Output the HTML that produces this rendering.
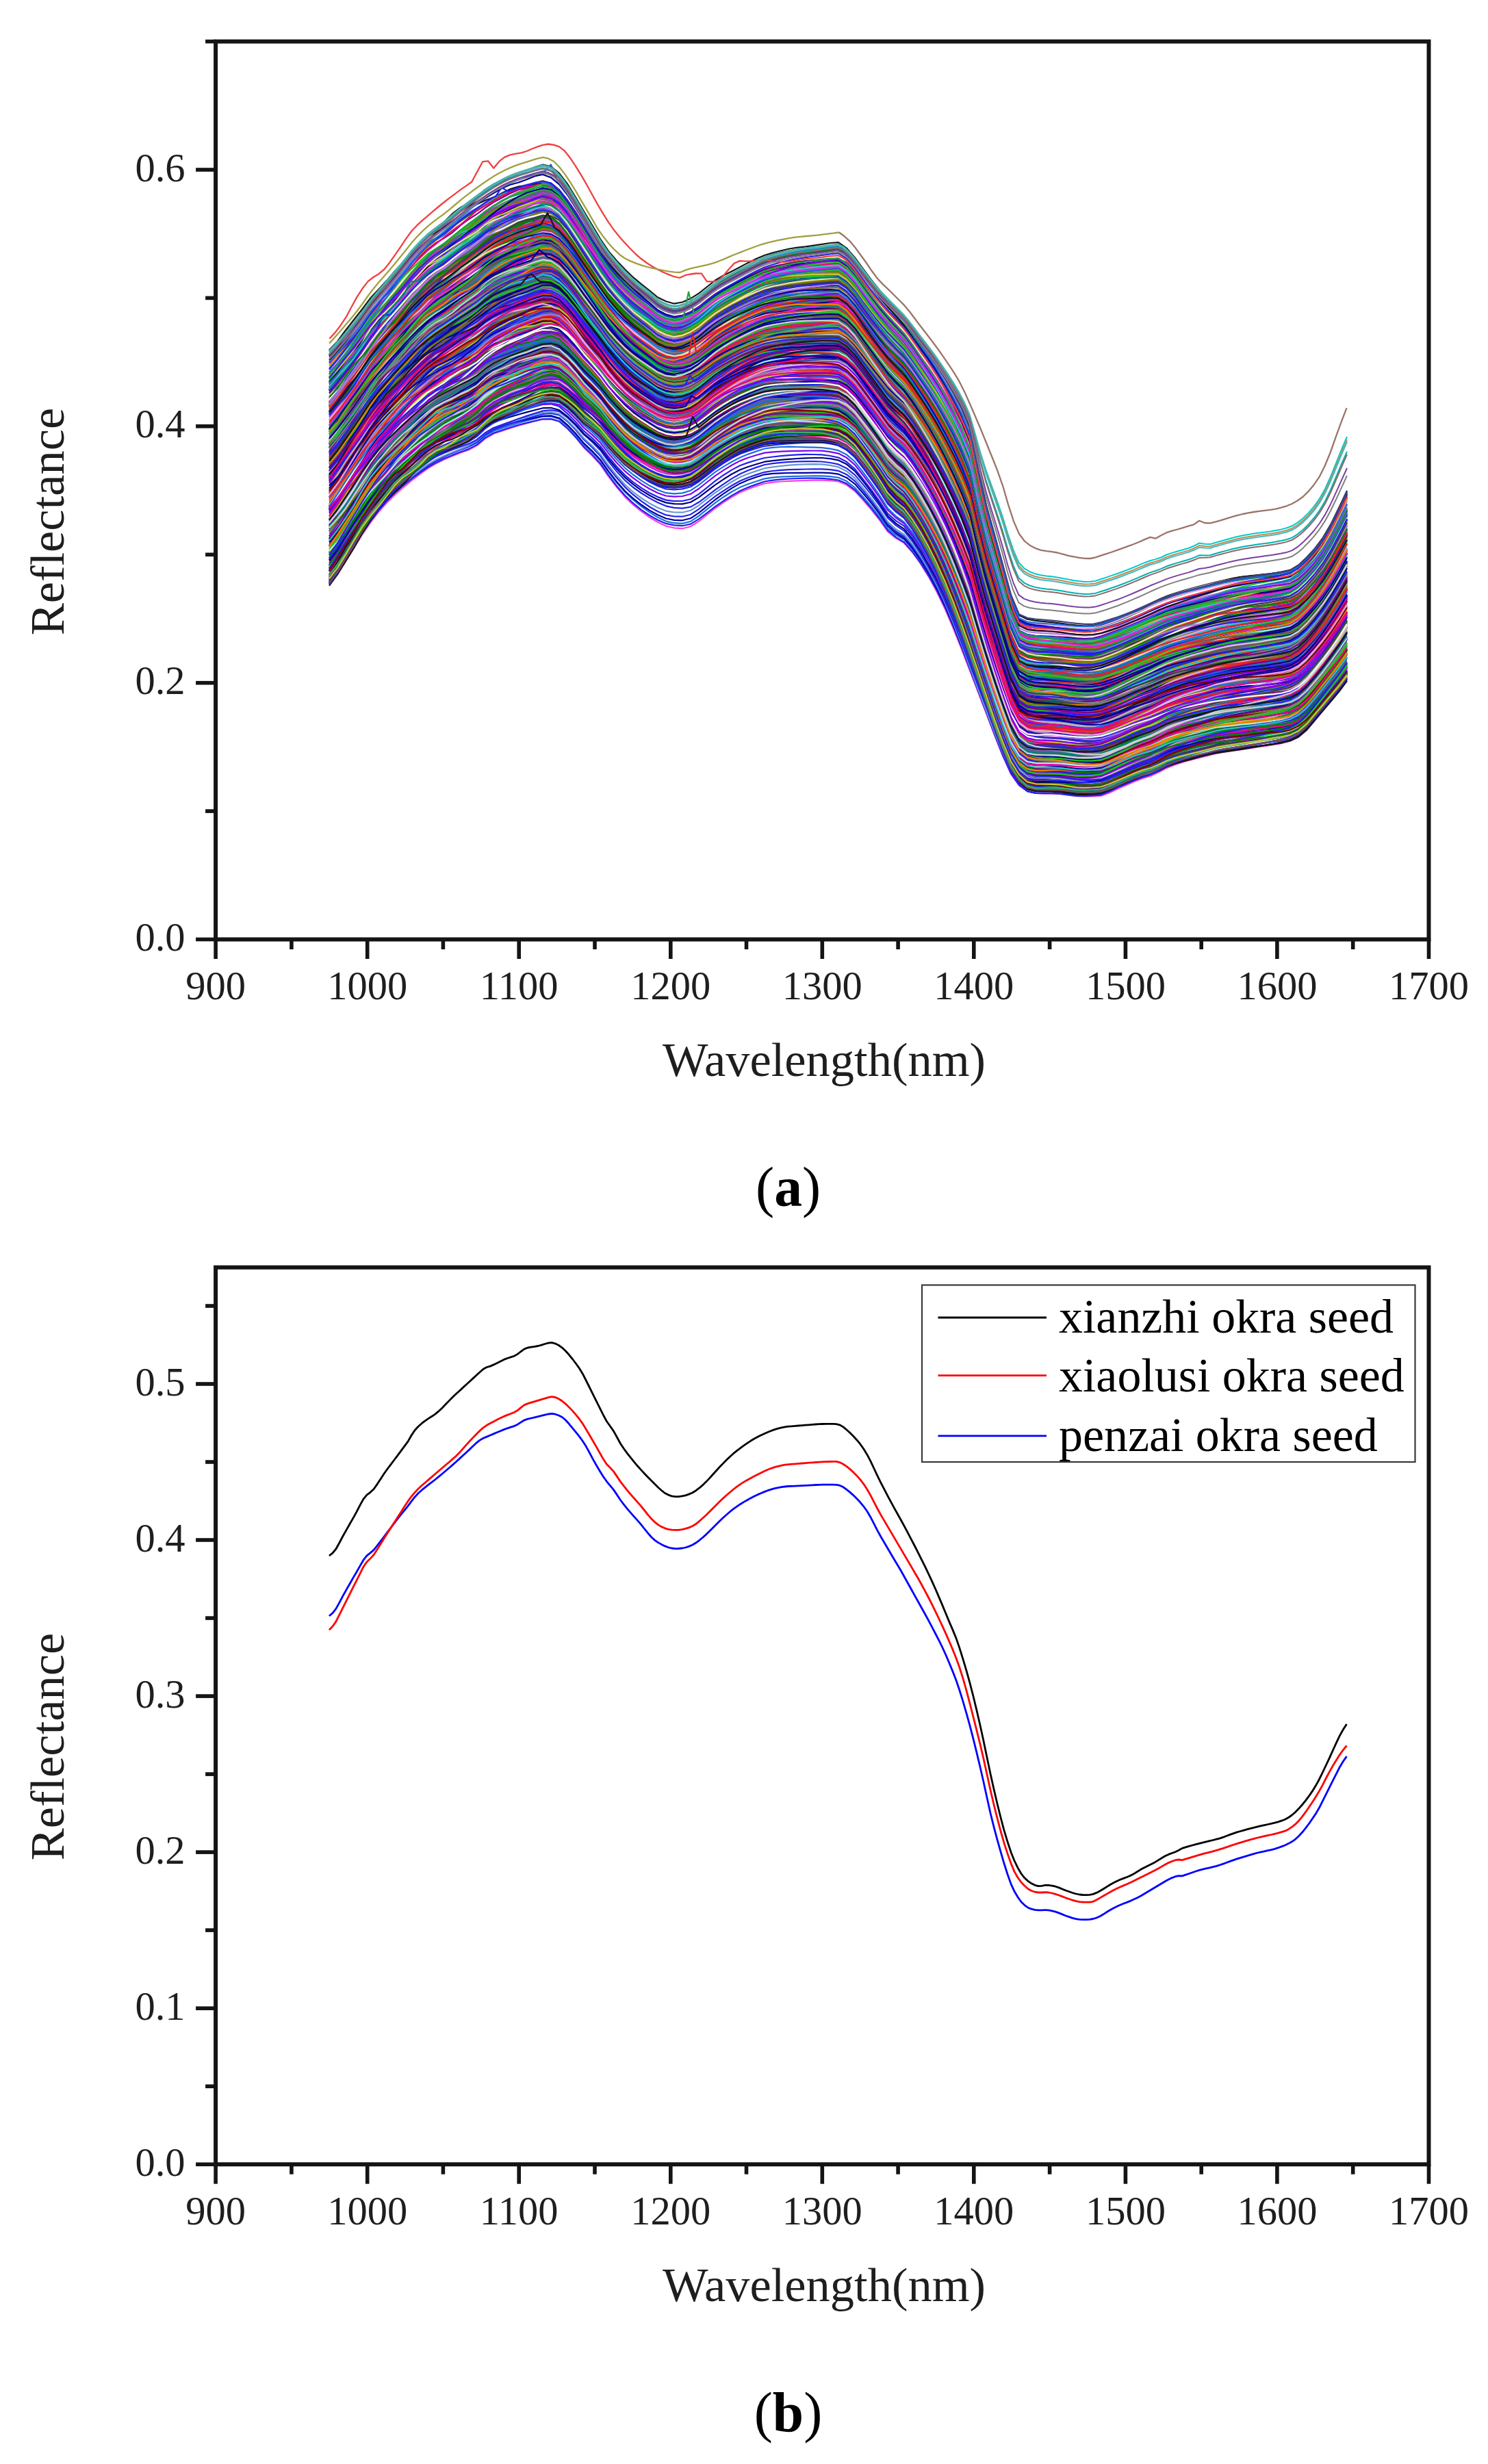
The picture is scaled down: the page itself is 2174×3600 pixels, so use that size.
<!DOCTYPE html>
<html><head><meta charset="utf-8"><title>Reflectance spectra</title>
<style>html,body{margin:0;padding:0;background:#fff}svg{display:block}</style></head>
<body>
<svg width="2174" height="3600" viewBox="0 0 2174 3600">
<rect width="2174" height="3600" fill="#fff"/>
<path d="M481.0 546.9l12-13.6 12-14.7 12-14.9 12-16.3 12-17.2 12-14.8 12-13.7 12-14 12-14.1 12-14.7 12-12.8 12-11.3 12-9.5 12-8.4 12-9.4 12-9.6 12-9 12-8.7 12-8.8 12-8 12-6.6 12-5.7 12-4.7 12-3.9 12-3.8 12-3.3 12 2.6 12 9.5 12 15.1 12 18.3 12 19.4 12 19.1 12 18.9 12 17.2 12 14.3 12 12.8 12 11.4 12 9.7 12 9.2 12 9.8 12 5.9 12 3.1 12-2.2 12-5 12-7.4 12-9.6 12-9.1 12-7.4 12-6.6 12-6.2 12-6.2 12-5.7 12-4.9 12-3.5 12-2.9 12-2.4 12-1.9 12-1.5 12-1.2 12-1.3 12-1.3 12-0.7 12 8 12 13.6 12 16.8 12 16 12 15.2 12 13.9 12 12.8 12 12.7 12 16.1 12 17.4 12 17.2 12 18.7 12 20.4 12 21.6 12 24.3 12 29.5 12 57.6 12 50.9 12 42.2 12 42.6 12 42.8 12 27.8 12 5.7 12 1.9 12 1 12 0.8 12 1.1 12 1.3 12 1.2 12 0.7 12-0.4 12-2.8 12-4 12-4.3 12-4.8 12-5.3 12-5.1 12-5.6 12-5.6 12-4.8 12-4 12-3.6 12-3.4 12-3.2 12-3.3 12-3.2 12-3 12-2.6 12-2.2 12-1.8 12-1.7 12-1.7 12-1.8 12-2 12-2.6 12-7.2 12-11.2 12-13.2 12-15.9 12-19.8 12-23.4 11-22.4 0 234.1 -11 15.2 -12 15 -12 14.8 -12 14.5 -12 14.1 -12 10.3 -12 5.9 -12 3.1 -12 2.1 -12 1.8 -12 1.8 -12 1.8 -12 1.8 -12 1.8 -12 1.8 -12 2.1 -12 3.2 -12 3 -12 3 -12 3.4 -12 3.9 -12 4.7 -12 6.2 -12 5.5 -12 3.8 -12 4.5 -12 5.4 -12 5.3 -12 5.4 -12 4.5 -12 0.9 -12 0.3 -12-0.5 -12-1.4 -12-1.6 -12-0.7 -12-0.2 -12-0.4 -12-2.7 -12-10 -12-19.5 -12-29.5 -12-32.9 -12-35 -12-35.4 -12-36 -12-34 -12-31.9 -12-29.9 -12-26.9 -12-24.1 -12-21.5 -12-18.9 -12-16 -12-9.6 -12-12.3 -12-18.9 -12-17.3 -12-16.3 -12-15.5 -12-10.6 -12-6.3 -12-2.3 -12-1.5 -12-0.1 -12 0.1 -12 0.2 -12 0.4 -12 0.7 -12 1 -12 1.7 -12 3.7 -12 4.1 -12 4.8 -12 6.4 -12 7.4 -12 7.9 -12 9.1 -12 9.3 -12 7.4 -12 3.2 -12 1 -12-1 -12-4 -12-5.8 -12-7 -12-8.1 -12-9.9 -12-12.2 -12-13.6 -12-15.3 -12-11.5 -12-10.3 -12-13.1 -12-11.4 -12-8.6 -12-1.9 -12 1.8 -12 4.2 -12 4.5 -12 4.6 -12 5 -12 5.3 -12 5.5 -12 8.2 -12 11.2 -12 7.7 -12 5.9 -12 6.2 -12 6.5 -12 7.1 -12 8.5 -12 10.1 -12 10.6 -12 10.9 -12 11.3 -12 12.5 -12 13.9 -12 16.1 -12 18.1 -12 19.4 -12 19.6 -12 19.4 -12 16.4z" fill="#5f5f8c" stroke="none"/>
<defs><filter id="bl" x="-2%" y="-2%" width="104%" height="104%"><feGaussianBlur stdDeviation="0.7"/></filter></defs>
<g fill="none" stroke-width="2.2" stroke-linejoin="round" filter="url(#bl)">
<path d="M481.0 855.6l12-16 12-19.4 12-19.5 12-19.2 12-17.6 12-15.8 12-13.4 12-11.8 12-10.6 12-10 12-9.2 12-8.8 12-7.1 12-5.9 12-5 12-4.7 12-4.4 12-6.4 12-10.1 12-6.9 12-4.2 12-4 12-3.6 12-3.4 12-3.2 12-3 12-0.4 12 3.5 12 10.3 12 13.1 12 14.9 12 11.7 12 13.2 12 17.5 12 15.7 12 14 12 11.5 12 9.8 12 8.6 12 7.2 12 5.6 12 2.7 12 0.9 12-2.9 12-7.7 12-9.6 12-9.5 12-8.4 12-7.7 12-6.8 12-5.1 12-4.3 12-3.8 12-1.7 12-1.2 12-0.7 12-0.5 12-0.3 12-0.3 12-0.1 12 0.5 12 1.4 12 5 12 9.1 12 13 12 14 12 15.1 12 16.9 12 9.8 12 7 12 13.5 12 16.7 12 19.5 12 22.1 12 25.1 12 28.2 12 30 12 31.4 12 31.3 12 31.2 12 31.8 12 30.1 12 26.5 12 16.8 12 8.6 12 2.8 12 0.3 12 0.2 12 0.7 12 1.5 12 1.5 12 0.5 12-0.3 12-0.8 12-4.4 12-5.6 12-5.3 12-5.4 12-4.5 12-3.6 12-5.6 12-6.3 12-4.7 12-3.9 12-3.4 12-3 12-3 12-3.1 12-2.2 12-1.7 12-1.8 12-1.8 12-1.8 12-1.7 12-1.8 12-2.2 12-3.1 12-5.8 12-10.2 12-14.2 12-14.4 12-14.4 12-14.2 11-14.6" stroke="#ff40e0"/>
<path d="M481.0 853.5l12-15.8 12-19.1 12-19.4 12-19.3 12-18 12-16.1 12-13.8 12-12 12-10.5 12-9.6 12-8.7 12-8.3 12-7 12-5.9 12-5.1 12-4.6 12-4.4 12-6.3 12-10 12-6.8 12-4.1 12-4 12-3.7 12-3.1 12-2.9 12-2.7 12-0.2 12 3.6 12 10.2 12 12.6 12 14.4 12 11.3 12 12.8 12 17.2 12 15.8 12 13.8 12 11.4 12 9.6 12 8.2 12 6.7 12 5.2 12 2.5 12 0.8 12-2.6 12-7.2 12-9.1 12-9.2 12-8.3 12-7.7 12-6.8 12-5.2 12-4.5 12-4.1 12-1.9 12-1.3 12-0.8 12-0.5 12-0.3 12 0 12 0.2 12 0.9 12 1.7 12 5.1 12 9.1 12 12.9 12 13.9 12 15.2 12 17.1 12 10.1 12 7.3 12 13.6 12 16.5 12 19 12 21.6 12 24.7 12 28 12 30.2 12 31.6 12 31.6 12 31.5 12 32 12 30.5 12 26.8 12 17.3 12 8.8 12 3 12 0.2 12 0 12 0.2 12 1.1 12 0.9 12 0.1 12-0.5 12-1 12-4.5 12-5.5 12-5.3 12-5.3 12-4.3 12-3.6 12-5.4 12-6.2 12-4.6 12-3.8 12-3.5 12-3.1 12-3.2 12-3.2 12-2.1 12-1.6 12-1.6 12-1.5 12-1.5 12-1.6 12-1.9 12-2.4 12-3.4 12-6.1 12-10.5 12-14.3 12-14.7 12-14.7 12-14.5 11-14.7" stroke="#2222ee"/>
<path d="M481.0 850.8l12-16 12-19.3 12-19.3 12-19.1 12-17.4 12-15.4 12-13.3 12-11.6 12-10.6 12-10.1 12-9.6 12-9 12-7.5 12-6 12-5 12-4.5 12-4.3 12-6.1 12-9.9 12-6.8 12-4.1 12-4 12-3.7 12-3.4 12-3.2 12-2.9 12-0.2 12 3.7 12 10.4 12 12.7 12 14.3 12 11 12 12.5 12 16.8 12 15.2 12 13.7 12 11.3 12 9.8 12 8.5 12 7.4 12 5.8 12 2.6 12 0.7 12-3.1 12-8 12-9.7 12-9.5 12-8.4 12-7.7 12-6.4 12-4.8 12-4.1 12-3.8 12-1.7 12-1 12-0.6 12-0.3 12-0.3 12-0.1 12 0 12 0.7 12 1.7 12 5.3 12 9.4 12 13.4 12 14.1 12 15.1 12 16.9 12 9.6 12 6.9 12 13.6 12 17.1 12 19.5 12 22.1 12 24.8 12 27.9 12 29.7 12 31.2 12 31.2 12 31.2 12 31.9 12 30.2 12 26.5 12 16.9 12 8.6 12 3 12 0.6 12 0.5 12 0.9 12 1.8 12 1.6 12 0.5 12-0.3 12-0.8 12-4.6 12-5.5 12-5.4 12-5.4 12-4.4 12-3.7 12-5.6 12-6.4 12-4.6 12-3.7 12-2.9 12-2.5 12-2.5 12-2.8 12-2.2 12-2 12-2.4 12-2.4 12-2.5 12-2.4 12-2.3 12-2.1 12-3 12-5.3 12-9.5 12-13.4 12-13.8 12-14.1 12-14.4 11-14.9" stroke="#1a6fdf"/>
<path d="M481.0 852.4l12-16.3 12-19.4 12-19.4 12-19.1 12-17.7 12-15.8 12-13.6 12-11.9 12-10.8 12-10.1 12-9.5 12-8.8 12-7.3 12-5.9 12-5.4 12-5 12-4.9 12-6.8 12-10.4 12-7.2 12-4.2 12-3.7 12-3.3 12-2.7 12-2.7 12-2.7 12-0.4 12 3.3 12 10.1 12 12.5 12 14.3 12 11.2 12 12.7 12 16.9 12 15.3 12 13.5 12 11 12 9.3 12 8.1 12 6.7 12 5.2 12 2.3 12 0.5 12-3 12-7.9 12-9.7 12-9.7 12-8.6 12-8 12-7 12-5.1 12-4.3 12-3.7 12-1.4 12-0.6 12-0.3 12-0.1 12-0.1 12-0.2 12 0 12 0.6 12 1.5 12 5.2 12 9.2 12 13.6 12 14.4 12 15.7 12 17.6 12 10.6 12 7.7 12 14.1 12 17.2 12 19.9 12 22.6 12 25.4 12 28.1 12 29.8 12 31.1 12 30.9 12 30.9 12 31.5 12 30.2 12 26.8 12 17.4 12 9 12 3.3 12 0.6 12 0.3 12 0.5 12 1.4 12 1.3 12 0.3 12-0.6 12-1 12-4.7 12-5.7 12-5.5 12-5.4 12-4.5 12-3.6 12-5.4 12-6.3 12-4.6 12-3.7 12-3.1 12-2.7 12-2.8 12-3.1 12-2.2 12-1.8 12-2 12-1.9 12-1.8 12-1.7 12-1.7 12-2.1 12-3.2 12-6 12-10.4 12-14.3 12-14.6 12-14.6 12-14.4 11-14.6" stroke="#0000a0"/>
<path d="M481.0 850.9l12-16.1 12-19.4 12-19.5 12-19.2 12-17.6 12-15.7 12-13.2 12-11.6 12-10.3 12-9.7 12-9.1 12-8.7 12-7.4 12-6.2 12-5.4 12-5 12-4.6 12-6.6 12-10.4 12-7.3 12-4.5 12-4.2 12-3.8 12-3.5 12-3.5 12-3.4 12-1.2 12 2.6 12 9.4 12 12.3 12 14.2 12 11.2 12 12.6 12 16.9 12 15.1 12 13.5 12 11.1 12 9.5 12 8.3 12 6.8 12 5.1 12 2.1 12 0.2 12-3 12-7.8 12-9.4 12-9.3 12-8.1 12-7.6 12-6.7 12-5 12-4.2 12-3.8 12-1.8 12-1.2 12-0.7 12-0.3 12-0.3 12-0.2 12 0 12 0.8 12 1.8 12 5.4 12 9.6 12 13.9 12 14.9 12 16.1 12 17.8 12 10.7 12 7.7 12 14.1 12 17.2 12 20 12 22.6 12 25.6 12 28.6 12 30.8 12 32.2 12 31.8 12 31.4 12 31.9 12 30.2 12 26.6 12 16.7 12 8.3 12 2.5 12-0.1 12-0.1 12 0.5 12 1.4 12 1.6 12 0.6 12-0.1 12-0.5 12-4.1 12-5.2 12-5.2 12-5.1 12-4.1 12-3.3 12-5.3 12-6.2 12-4.8 12-4.1 12-3.6 12-3.3 12-3.2 12-3.2 12-2.1 12-1.8 12-2 12-2.1 12-2.2 12-2.1 12-2.3 12-2.5 12-3.5 12-6 12-10.4 12-14.2 12-14.3 12-14.2 12-13.8 11-14.2" stroke="#2222ee"/>
<path d="M481.0 851.2l12-16.4 12-19.5 12-19.7 12-19.4 12-17.6 12-15.7 12-13.5 12-11.9 12-10.7 12-10.1 12-9.3 12-8.8 12-7.1 12-5.7 12-5.1 12-4.7 12-5.1 12-7.2 12-10.9 12-7.5 12-4.7 12-4.3 12-3.8 12-3.3 12-3.2 12-3.1 12-0.8 12 2.8 12 9.4 12 12 12 14 12 10.8 12 12.3 12 16.5 12 14.9 12 13.2 12 10.8 12 8.9 12 7.7 12 6.4 12 4.8 12 1.9 12 0.2 12-2.9 12-7.4 12-9.4 12-9.2 12-8.2 12-7.6 12-6.7 12-5 12-4.2 12-3.9 12-1.9 12-1.5 12-1.2 12-0.8 12-0.5 12-0.2 12 0.3 12 1.5 12 2.5 12 6.1 12 10.1 12 14.4 12 15.2 12 16.2 12 18 12 10.8 12 7.8 12 14.2 12 17.4 12 20 12 22.8 12 25.9 12 29.2 12 31.2 12 32.7 12 32.5 12 31.4 12 31.5 12 29.8 12 26.1 12 16.5 12 8.2 12 2.6 12 0.4 12 0.4 12 1 12 1.9 12 2 12 0.8 12-0.2 12-0.8 12-4.6 12-5.7 12-5.7 12-5.6 12-4.4 12-3.4 12-5.1 12-6 12-4.6 12-4 12-3.5 12-3.2 12-3.2 12-3.1 12-2.1 12-1.5 12-1.8 12-1.8 12-1.9 12-1.8 12-1.8 12-2.2 12-3.2 12-6 12-10.4 12-14.3 12-14.6 12-14.4 12-14.2 11-14.5" stroke="#6699cc"/>
<path d="M481.0 847.5l12-16.5 12-19.9 12-19.9 12-19.3 12-17.5 12-15.5 12-13.3 12-11.9 12-10.7 12-10.3 12-9.5 12-8.8 12-7.1 12-5.6 12-4.7 12-4.4 12-4.2 12-6.2 12-10 12-6.9 12-4.3 12-4.4 12-4.6 12-4.1 12-3.9 12-3.6 12-1.3 12 2.1 12 8.8 12 11.5 12 13.5 12 10.5 12 12.2 12 16.4 12 14.7 12 12.9 12 10.3 12 8.5 12 7.4 12 6.3 12 5.1 12 2.5 12 0.9 12-2.1 12-6.8 12-9 12-9.2 12-8.3 12-7.9 12-6.9 12-5.3 12-4.3 12-3.9 12-1.9 12-1.3 12-1 12-0.5 12-0.2 12 0 12 0.4 12 1.5 12 2.4 12 5.8 12 9.7 12 14 12 14.7 12 16.1 12 17.9 12 11 12 8.3 12 14.8 12 18 12 20.6 12 23.1 12 26.1 12 29.2 12 31 12 31.4 12 31.2 12 31.1 12 31.5 12 29.8 12 26.2 12 16.8 12 8.7 12 3.3 12 0.8 12 0.7 12 1 12 1.7 12 1.6 12 0.4 12-0.2 12-0.8 12-4.3 12-5.5 12-5.6 12-5.7 12-4.9 12-4 12-5.7 12-6.2 12-4.5 12-3.6 12-3.1 12-2.8 12-2.9 12-3.2 12-2.3 12-1.8 12-2.1 12-2.2 12-2.1 12-1.9 12-1.9 12-2.1 12-3 12-5.5 12-10 12-14.1 12-14.4 12-14.5 12-14.4 11-14.8" stroke="#2222ee"/>
<path d="M481.0 839.8l12-16.2 12-19.4 12-19.5 12-19.2 12-17.7 12-15.9 12-13.7 12-12.1 12-10.9 12-10.1 12-9.4 12-8.8 12-7.2 12-5.9 12-5.1 12-4.7 12-4.4 12-6.3 12-9.9 12-6.6 12-3.9 12-3.7 12-3.5 12-3.3 12-3.2 12-3 12-0.4 12 3.3 12 9.3 12 11.7 12 13.4 12 10.1 12 11.5 12 15.6 12 14.1 12 12.6 12 10.3 12 8.7 12 7.4 12 6.1 12 4.5 12 1.8 12 0.2 12-2.6 12-7.2 12-9.1 12-9.1 12-8.1 12-7.5 12-6.3 12-4.5 12-3.8 12-3.5 12-1.6 12-1.2 12-1.1 12-0.8 12-0.7 12-0.3 12 0 12 1.2 12 2.2 12 5.9 12 10 12 14.7 12 15.5 12 16.8 12 18.4 12 11.1 12 8.1 12 14.4 12 17.5 12 20.7 12 22.2 12 25.3 12 28.7 12 30.4 12 31.7 12 31.2 12 31 12 31.3 12 29.7 12 26.2 12 16.7 12 8.3 12 2.9 12 0.4 12 0.3 12 0.8 12 1.6 12 1.4 12 0.4 12-0.5 12-1 12-4.5 12-5.4 12-5.2 12-5 12-4 12-3.2 12-5.2 12-6 12-4.7 12-4.1 12-3.4 12-3 12-3 12-3 12-2.1 12-1.7 12-1.9 12-2 12-2 12-2 12-2 12-2.2 12-3.3 12-6 12-10.6 12-14.5 12-14.7 12-14.5 12-14.2 11-14.4" stroke="#000080"/>
<path d="M481.0 833.1l12-16.1 12-19.5 12-19.8 12-19.5 12-17.8 12-15.7 12-13.2 12-11.3 12-10.1 12-9.5 12-8.9 12-8.5 12-7.1 12-5.9 12-5.3 12-5 12-4.7 12-6.5 12-10 12-6.6 12-3.8 12-3.6 12-3.5 12-3.5 12-3.5 12-3.3 12-0.6 12 3.5 12 10.5 12 11.9 12 13.5 12 10.2 12 11.6 12 15.8 12 14.1 12 12.7 12 10.3 12 8.5 12 7.3 12 5.9 12 4.5 12 1.5 12-0.1 12-2.7 12-7.4 12-9.5 12-9.7 12-8.5 12-7.6 12-6.3 12-4.4 12-3.6 12-3.3 12-1.5 12-1.3 12-1.1 12-0.8 12-0.4 12 0.1 12 0.4 12 1.6 12 2.6 12 6.2 12 10.3 12 15 12 15.6 12 16.6 12 18 12 10.6 12 7.8 12 14.5 12 17.5 12 19.5 12 22.5 12 25.6 12 28.8 12 30.5 12 31.7 12 31.4 12 31.2 12 31.6 12 29.8 12 26.1 12 16.6 12 8.4 12 2.8 12 0.2 12 0 12 0.3 12 1.3 12 1.2 12 0.4 12-0.3 12-0.6 12-4.1 12-5.2 12-5.1 12-5.3 12-4.4 12-3.7 12-5.7 12-6.4 12-4.7 12-3.9 12-3.4 12-3 12-3.2 12-3.4 12-2.4 12-1.9 12-1.8 12-1.6 12-1.5 12-1.5 12-1.7 12-2.2 12-3.2 12-5.8 12-10.2 12-14 12-14.1 12-14.1 12-14 11-14.4" stroke="#2222ee"/>
<path d="M481.0 835.2l12-16 12-19.4 12-19.7 12-19.4 12-17.8 12-15.9 12-13.6 12-11.9 12-10.5 12-9.8 12-8.9 12-8.4 12-6.8 12-5.4 12-4.9 12-4.7 12-4.8 12-6.8 12-10.5 12-7.4 12-4.6 12-4.3 12-3.8 12-3.4 12-3.2 12-3 12-1 12 2 12 8.8 12 11.5 12 13.4 12 10.1 12 11.5 12 15.6 12 13.8 12 12.4 12 10 12 8.5 12 7.3 12 6 12 4.3 12 1.2 12-0.7 12-3.2 12-7.8 12-9.5 12-9.4 12-8 12-7.4 12-6.3 12-4.6 12-3.8 12-3.4 12-1.3 12-0.7 12-0.5 12-0.2 12-0.3 12-0.1 12 0.1 12 1.5 12 2.5 12 6.2 12 10.4 12 15.1 12 15.8 12 16.8 12 18.4 12 11.2 12 8.5 12 15.1 12 18.5 12 21.4 12 24.3 12 25.7 12 28.9 12 30.5 12 31.8 12 31.4 12 31.2 12 31.5 12 29.6 12 26 12 16.4 12 8.1 12 2.6 12 0.1 12 0.3 12 0.9 12 2 12 1.9 12 0.8 12-0.1 12-0.8 12-4.6 12-5.6 12-5.5 12-5.5 12-4.5 12-3.7 12-5.7 12-6.5 12-5 12-4.2 12-3.6 12-3.1 12-3 12-3.1 12-2.1 12-1.7 12-1.8 12-1.9 12-2 12-1.8 12-1.7 12-1.8 12-2.7 12-5.3 12-9.8 12-13.8 12-14.5 12-14.8 12-14.9 11-15.3" stroke="#8000f0"/>
<path d="M481.0 841.7l12-16.1 12-19.3 12-19.6 12-19.4 12-17.9 12-15.9 12-13.5 12-12.1 12-10.7 12-10 12-9.3 12-8.7 12-7.2 12-6 12-5.1 12-4.7 12-4.4 12-6.3 12-10.1 12-7.5 12-5.3 12-5.1 12-5.1 12-4.8 12-4.7 12-4.4 12-2 12 1.6 12 8.5 12 11.2 12 13.3 12 10 12 11.3 12 15.3 12 13.6 12 12.3 12 9.9 12 8.6 12 7.5 12 6.2 12 4.4 12 1.2 12-1 12-3.7 12-8 12-9.7 12-9.3 12-7.8 12-7.1 12-6.3 12-4.9 12-4.2 12-3.9 12-1.6 12-0.9 12-0.3 12 0.3 12 0.4 12 0.3 12 0.4 12 1.6 12 2.5 12 6.1 12 10.3 12 15.4 12 16.3 12 17.3 12 19 12 11.6 12 8.7 12 15 12 18.2 12 21.1 12 23.9 12 27 12 30.2 12 32.4 12 33.7 12 31.5 12 31.5 12 32 12 30.3 12 26.5 12 16.8 12 8.4 12 2.8 12 0.4 12 0.4 12 0.8 12 1.6 12 1.5 12 0.5 12-0.3 12-0.9 12-4.6 12-5.8 12-5.8 12-5.8 12-4.7 12-3.7 12-5.2 12-5.8 12-4.1 12-3.4 12-3.2 12-3 12-3.2 12-3.4 12-2.4 12-1.9 12-1.8 12-1.9 12-1.9 12-1.7 12-1.8 12-2.1 12-3.1 12-5.7 12-10.2 12-14 12-14.3 12-14.4 12-14.1 11-14.4" stroke="#1a6fdf"/>
<path d="M481.0 843.0l12-15.8 12-19 12-19.1 12-18.8 12-17.2 12-15.7 12-13.5 12-12.1 12-10.9 12-10.2 12-9.3 12-8.7 12-7.1 12-5.6 12-4.7 12-4.7 12-5.5 12-7.6 12-11.4 12-8.4 12-5.7 12-5.7 12-5.5 12-5.1 12-5 12-4.6 12-2.3 12 1.2 12 8.2 12 11 12 12.7 12 9.3 12 10.7 12 14.9 12 13.6 12 12.4 12 10.3 12 8.7 12 7.5 12 5.9 12 4.2 12 1 12-1 12-3.2 12-7.5 12-9.4 12-9.3 12-8.1 12-7.4 12-6.2 12-4.4 12-3.7 12-3.4 12-1.5 12-1.2 12-1 12-0.7 12-0.7 12-0.3 12 0 12 1.7 12 2.9 12 6.6 12 10.7 12 15.5 12 16.2 12 17.2 12 19 12 11.8 12 9.2 12 15.9 12 19.2 12 22 12 24.6 12 27.5 12 30.5 12 32.5 12 34.3 12 34.3 12 32.4 12 32.1 12 30.3 12 26.6 12 16.8 12 8.5 12 2.8 12 0.5 12 0.5 12 1 12 1.7 12 1.4 12 0.2 12-0.9 12-1.2 12-4.8 12-5.6 12-5.4 12-5.2 12-4.4 12-3.8 12-5.6 12-6.3 12-4.6 12-3.9 12-3.4 12-3 12-2.9 12-2.9 12-1.9 12-1.6 12-1.8 12-1.8 12-2 12-2 12-2 12-2.2 12-3 12-5.6 12-10 12-14.1 12-14.4 12-14.5 12-14.3 11-14.8" stroke="#2222ee"/>
<path d="M481.0 729.7l12-12 12-16.7 12-20.8 12-16.5 12-14.4 12-17.8 12-16 12-12.3 12-9.9 12-10.7 12-13 12-10.2 12-7.7 12-8.2 12-7.3 12-7.4 12-7.7 12-7.4 12-9.5 12-8.3 12-6.2 12-5.5 12-5.7 12-4.5 12-2.9 12-3.1 12 0 12 4.6 12 9.8 12 12.7 12 15.8 12 12.8 12 13.1 12 16.5 12 14.3 12 12.2 12 10.5 12 8.9 12 7.7 12 7.2 12 4.7 12 1.5 12-1.7 12-3.6 12-7.2 12-9.7 12-9.2 12-7.5 12-7 12-6.1 12-4.7 12-4.4 12-3.9 12-1.7 12-1 12-0.8 12-0.5 12-0.5 12-0.2 12 0.5 12 1.3 12 2.1 12 7.3 12 11.8 12 16.4 12 16.9 12 17.2 12 17.8 12 12.5 12 10.5 12 15.7 12 18.4 12 20.1 12 22 12 24.1 12 26.2 12 28.2 12 31.2 12 41.7 12 39.5 12 36.2 12 34.7 12 32.4 12 21.1 12 7.4 12 1.4 12-0.6 12-0.4 12-0.1 12 0.4 12 0.9 12 0.3 12-0.7 12-1.8 12-4.1 12-4.7 12-4.4 12-4.4 12-3.9 12-3.8 12-4.1 12-4.2 12-3 12-1.8 12-1.7 12-2.1 12-2.2 12-1.9 12-0.8 12-0.8 12-0.8 12-0.8 12-1.2 12-1.5 12-1.7 12-2 12-3.2 12-6.5 12-10.9 12-14.5 12-16 12-17.2 12-18.8 11-19" stroke="#e62222"/>
<path d="M481.0 790.6l12-16 12-18 12-18.4 12-19.1 12-19 12-17.5 12-14.2 12-10.9 12-13.2 12-15.5 12-11.9 12-10.1 12-10.4 12-9 12-6.2 12-6.9 12-8 12-8.7 12-10.9 12-8.5 12-6.7 12-6.5 12-7 12-6.5 12-3.3 12-2 12-0.4 12 4.2 12 10.2 12 11.5 12 14 12 13.1 12 14.1 12 16 12 13.4 12 12 12 10.3 12 8.8 12 7.6 12 6.8 12 4.4 12 1.4 12-1.4 12-3.9 12-8.1 12-10.3 12-10 12-8.4 12-7.4 12-6.8 12-6 12-5.6 12-4.6 12-2.4 12-2 12-1.6 12-1.2 12-0.7 12-0.2 12-0.4 12 0.8 12 1.7 12 6.7 12 11.3 12 15.6 12 16 12 16.7 12 18 12 12.3 12 9.9 12 15.8 12 18.7 12 20.3 12 22.8 12 25.8 12 28.2 12 30.1 12 32.9 12 41.1 12 39.4 12 37 12 35 12 32.4 12 21.6 12 9.4 12 2.6 12 0.3 12 0.8 12 1.2 12 1.8 12 1.8 12 0.7 12 0 12-0.6 12-3.6 12-4.6 12-4.8 12-4.9 12-3.9 12-3.3 12-4.8 12-5.8 12-4 12-3.1 12-3.3 12-3.5 12-3.3 12-2.7 12-2.1 12-2.6 12-2.7 12-2.4 12-2.6 12-2.6 12-2.5 12-3.1 12-4.3 12-7.3 12-11.4 12-14.9 12-16 12-17.5 12-19 11-18.8" stroke="#22c8c8"/>
<path d="M481.0 777.4l12-15.3 12-16.7 12-16.8 12-19 12-19.6 12-16.7 12-13.7 12-11 12-10.8 12-12.3 12-11.2 12-11.2 12-9.9 12-6.1 12-3.4 12-4.3 12-6.9 12-8.6 12-10.1 12-7.5 12-4.7 12-4.7 12-5.4 12-5 12-3.1 12-2.1 12-0.6 12 2.6 12 9.3 12 13 12 14.8 12 11.1 12 12.3 12 15.4 12 13 12 11.1 12 9.2 12 7.9 12 6.7 12 5.4 12 3.1 12 0.5 12-1.9 12-4.3 12-8.5 12-10.4 12-10.4 12-8.9 12-8.1 12-7.1 12-5.5 12-4.9 12-4.2 12-2 12-1.7 12-1.2 12-0.5 12-0.2 12 0.2 12 0.7 12 1.5 12 2 12 7.2 12 12 12 16.3 12 16.4 12 17.1 12 18.3 12 12.9 12 10.4 12 15.8 12 18.7 12 20.3 12 22.3 12 25.1 12 27.8 12 29.8 12 31.9 12 39.5 12 37.7 12 35.5 12 34.1 12 32 12 20.8 12 8.2 12 1.9 12 0 12 0.1 12 1 12 1.9 12 1.8 12 0.5 12 0 12-0.4 12-3.6 12-4.4 12-4.6 12-4.6 12-3.8 12-3.2 12-4.6 12-5.1 12-3.6 12-3.2 12-2.8 12-2.1 12-2.4 12-2.4 12-1.6 12-1.8 12-2 12-1.2 12-1.2 12-1.8 12-2 12-2 12-3.3 12-6.3 12-10.5 12-14.5 12-15.4 12-15.8 12-16.6 11-16.8" stroke="#b4b4b4"/>
<path d="M481.0 586.7l12-12.4 12-16.8 12-16.2 12-14.7 12-17.8 12-18.7 12-14.4 12-12.6 12-15.3 12-17.4 12-13.9 12-9.8 12-8.5 12-9.1 12-9.4 12-10.5 12-10.6 12-8.4 12-7.1 12-8.3 12-8.6 12-6.2 12-5 12-4.4 12-3.1 12-2.2 12 1.7 12 7.7 12 14.7 12 18.1 12 19 12 19 12 18.4 12 17 12 14.8 12 13.2 12 11.1 12 9.8 12 9.5 12 9.4 12 6 12 3.4 12-1.7 12-4.7 12-7 12-9.1 12-8.8 12-7.3 12-6.9 12-6 12-5.4 12-5.4 12-4.9 12-3.5 12-2.5 12-1.9 12-1.5 12-1.3 12-1.3 12-0.7 12-0.6 12-0.2 12 7.6 12 13.3 12 16.7 12 15.9 12 15.5 12 14.6 12 12.9 12 12.4 12 16 12 17.6 12 17.8 12 19.7 12 21.7 12 23.4 12 26 12 30.5 12 55.2 12 50.1 12 42 12 41.7 12 41.5 12 27.5 12 7.3 12 2.7 12 1.6 12 1.2 12 1.3 12 1.8 12 1.7 12 0.7 12-0.4 12-2.5 12-4.3 12-4.7 12-5 12-5.6 12-5.6 12-6.2 12-6.5 12-5.7 12-4.7 12-4.7 12-4.6 12-3.5 12-3.8 12-4.5 12-4 12-2.9 12-2.7 12-2.7 12-2.5 12-2.3 12-2.4 12-2.7 12-3.2 12-7.4 12-11.5 12-13.4 12-15.6 12-19.1 12-22.4 11-21.7" stroke="#0000a0"/>
<path d="M481.0 743.2l12-16.9 12-18.9 12-18.8 12-18.8 12-18.4 12-17.3 12-14.4 12-13.2 12-12.9 12-13.3 12-14.7 12-14.3 12-9.8 12-6.2 12-6.6 12-8.5 12-7.6 12-7.1 12-9.9 12-9 12-6.9 12-5.9 12-4.8 12-3 12-3.2 12-3.3 12 0.2 12 4.3 12 11.4 12 15.5 12 17.2 12 14.1 12 13.8 12 16 12 14.8 12 13.2 12 10.7 12 9.1 12 8.3 12 7.6 12 4.9 12 1.8 12-1.1 12-3.6 12-7.5 12-9.1 12-9 12-7.9 12-7 12-6.2 12-5.1 12-4.3 12-4 12-2.1 12-1.4 12-1.1 12-0.7 12-0.5 12-0.1 12 0.1 12 0.7 12 1.6 12 7.3 12 11.6 12 16.1 12 16.8 12 17.2 12 17.7 12 12.5 12 10.7 12 15.9 12 18.3 12 20.1 12 22.6 12 24.9 12 27.1 12 29.6 12 32.3 12 42 12 39.7 12 37.3 12 35.9 12 33.6 12 21.9 12 8.4 12 2.4 12 0.5 12 0.5 12 1.2 12 1.9 12 1.4 12 0 12-0.6 12-1.5 12-4.3 12-4.9 12-5 12-4.8 12-4.3 12-4 12-5.2 12-5.5 12-4.1 12-3.3 12-3.1 12-2.8 12-2.7 12-2.6 12-2.2 12-2 12-1.7 12-1.5 12-1.6 12-1.6 12-1.7 12-1.8 12-2.7 12-6.1 12-10.4 12-13.6 12-14.8 12-16.2 12-17.1 11-17.1" stroke="#2222ee"/>
<path d="M481.0 745.8l12-16.4 12-17.5 12-18.4 12-19.5 12-18.5 12-15.7 12-12.7 12-14.2 12-13.9 12-13.3 12-13 12-9.5 12-7.3 12-7.1 12-8.2 12-8.5 12-6.9 12-7.5 12-9.7 12-7.6 12-5.8 12-5.5 12-4.4 12-3.4 12-4.4 12-4.7 12-0.5 12 4.8 12 11.7 12 14.5 12 14.9 12 12.6 12 14.1 12 16 12 14 12 13.7 12 11.3 12 8.7 12 7.8 12 7.6 12 5.3 12 2.2 12-0.8 12-3.3 12-6.9 12-8.6 12-8.5 12-7.7 12-6.9 12-6.1 12-5.1 12-4.5 12-4.1 12-2.3 12-1.3 12-0.7 12-1 12-0.6 12-0.7 12-0.9 12 0.4 12 1.3 12 6.7 12 11.5 12 15.4 12 15.5 12 16.2 12 17.1 12 12.4 12 10.1 12 15.5 12 18.4 12 19.9 12 22.2 12 24.7 12 27.4 12 29.9 12 32.5 12 42.3 12 40 12 36.9 12 35.1 12 33.1 12 22 12 8.7 12 2.1 12-0.3 12-0.3 12 0.7 12 1.2 12 0.9 12-0.1 12-0.8 12-1.8 12-4.9 12-5.9 12-5.8 12-5.8 12-5.6 12-5.1 12-6 12-6.2 12-4.9 12-4.2 12-3.7 12-3.6 12-3.5 12-3.4 12-2.8 12-2.6 12-1.9 12-1.5 12-1.1 12-1.2 12-1.6 12-2 12-2.6 12-5.8 12-9.9 12-13 12-14.1 12-15.8 12-17 11-16.7" stroke="#2222ee"/>
<path d="M481.0 558.9l12-14.5 12-15.3 12-14.3 12-17.1 12-17.7 12-16.2 12-17 12-13 12-9.9 12-13.6 12-14.3 12-10.6 12-8 12-8.7 12-8.5 12-7.8 12-7.1 12-6.5 12-7.1 12-6.8 12-6.4 12-4.9 12-3.1 12-3.9 12-5.2 12-4.3 12 1.6 12 9.1 12 15.4 12 17.3 12 17.6 12 18.2 12 18.5 12 16.6 12 13.6 12 12.3 12 11.3 12 9.6 12 8.9 12 9.3 12 5.3 12 2.5 12-2.2 12-4.9 12-7.3 12-9.2 12-9.1 12-7.8 12-7.2 12-6.7 12-6.4 12-6 12-4.9 12-3.8 12-3.4 12-2.8 12-2.1 12-1.9 12-1.6 12-1.4 12-1.6 12-1.1 12 7.3 12 12.7 12 16.1 12 15.6 12 14.8 12 13.2 12 12.2 12 12.6 12 15.7 12 16.9 12 17 12 18.3 12 19.9 12 21.3 12 24 12 29.4 12 57.4 12 51 12 42.3 12 42.6 12 43 12 27.8 12 5.6 12 1.9 12 0.9 12 0.8 12 1.1 12 1.3 12 1.1 12 0.8 12-0.2 12-2.8 12-4 12-4 12-4.5 12-4.6 12-4.8 12-5.2 12-4.8 12-4.2 12-3.2 12-2.6 12-2.2 12-2 12-2 12-2.2 12-2.2 12-1.8 12-1.2 12-1 12-0.9 12-1.2 12-1.7 12-2.2 12-2.9 12-7 12-11.8 12-14.3 12-16.7 12-20.4 12-24 11-23.4" stroke="#8000f0"/>
<path d="M481.0 741.4l12-14.5 12-19.6 12-18.2 12-17.6 12-18.2 12-14.5 12-13.3 12-13 12-10.1 12-10 12-12.9 12-13 12-8.9 12-7.1 12-7.7 12-6.4 12-6.2 12-9.5 12-12.2 12-8.7 12-6.1 12-5 12-3.4 12-3.4 12-5 12-5.1 12-1.1 12 3.1 12 9.7 12 13.5 12 15 12 12.9 12 13.8 12 15.7 12 13.5 12 11.9 12 9.6 12 8.6 12 8 12 7.1 12 4.6 12 1.8 12-1.2 12-3.5 12-7 12-9 12-8.5 12-6.9 12-6 12-5.3 12-4.7 12-3.9 12-3.1 12-1.6 12-1 12-0.6 12-0.3 12-0.1 12 0.1 12 0.3 12 1.2 12 1.6 12 6.5 12 11.3 12 16 12 16.3 12 16.4 12 17.2 12 12.3 12 10.5 12 16.1 12 18.6 12 19.8 12 22 12 25 12 27.4 12 29.5 12 33 12 42.6 12 40.1 12 37.5 12 36 12 33.4 12 22.4 12 9.5 12 3 12 1 12 1.2 12 1.7 12 2.2 12 2.1 12 1.2 12 0.3 12-0.8 12-3.7 12-4.9 12-5.2 12-5.1 12-4.6 12-4.5 12-5.6 12-6 12-5.1 12-4.1 12-3.7 12-4 12-3.9 12-3.9 12-3 12-3 12-3.1 12-2.7 12-2.6 12-2.6 12-2.9 12-3 12-3.4 12-6.8 12-11.2 12-14.3 12-15 12-16.1 12-17.7 11-18.2" stroke="#b177de"/>
<path d="M481.0 561.2l12-13.6 12-14.9 12-18.7 12-21.4 12-19.8 12-16.1 12-14.5 12-13.6 12-14.8 12-14.9 12-12.7 12-11.7 12-9.4 12-8.4 12-9.4 12-7.3 12-4.3 12-6.1 12-9.3 12-7.9 12-5.3 12-4.1 12-3.7 12-2.6 12-0.9 12-0.8 12 3.5 12 10 12 15.2 12 17.7 12 19.3 12 19.5 12 19.1 12 16.8 12 14.1 12 12.8 12 10.7 12 9.1 12 8.5 12 8.8 12 5.1 12 2 12-3.1 12-6 12-8.4 12-10.5 12-10 12-8.4 12-7.5 12-6.9 12-6.8 12-6.8 12-5.9 12-4.3 12-3.4 12-2.9 12-2.3 12-1.7 12-1.3 12-1.4 12-1.5 12-0.4 12 8.5 12 14 12 17.1 12 16.6 12 15.8 12 14.5 12 13.7 12 13.5 12 16.3 12 17.8 12 18.1 12 19.4 12 21 12 22.1 12 24.3 12 29.6 12 56.6 12 50.2 12 41.9 12 42.4 12 42.1 12 26.7 12 5.2 12 1.6 12 0.7 12 0.6 12 1 12 1.2 12 0.8 12 0.1 12-0.9 12-3.2 12-4.5 12-4.7 12-5.4 12-5.4 12-4.9 12-5.3 12-5.7 12-4.8 12-3.4 12-3.2 12-3.1 12-2.5 12-2.7 12-2.8 12-2.3 12-1.6 12-1.4 12-1.3 12-1 12-0.4 12-0.7 12-1.2 12-1.6 12-6.1 12-10.5 12-12.5 12-15 12-18.8 12-22.1 11-21.3" stroke="#22c8c8"/>
<path d="M481.0 511.4l12-12.7 12-16.2 12-15.2 12-15.3 12-16.2 12-12.7 12-13 12-14.1 12-12.9 12-14 12-13.5 12-10.9 12-7.1 12-6.7 12-10.5 12-11.4 12-8 12-7 12-8.4 12-7.7 12-6.4 12-6.3 12-5.2 12-2.2 12-1.8 12-3.4 12 2.4 12 9.5 12 15.1 12 19.1 12 20.2 12 20.2 12 19.1 12 16.2 12 14 12 13.4 12 11.5 12 9.4 12 9.2 12 10.3 12 6.4 12 3.4 12-2.4 12-5.3 12-7.3 12-9.4 12-9 12-7.3 12-6.8 12-6.2 12-6.1 12-5.9 12-4.8 12-3.4 12-3 12-3.1 12-2.3 12-1.4 12-0.9 12-1.2 12-1.6 12-0.9 12 8.3 12 13.9 12 17 12 16.5 12 15.5 12 13.4 12 13 12 14 12 16.5 12 17.4 12 17.4 12 19 12 20.7 12 21.8 12 24.5 12 29.8 12 58.9 12 52.1 12 42.6 12 43 12 43.4 12 28.2 12 5.5 12 1.4 12 0.2 12 0 12 0.4 12 0.8 12 0.5 12-0.2 12-1.1 12-4 12-5 12-4.8 12-5.8 12-6 12-5.8 12-6 12-5.8 12-5.2 12-4.3 12-3.7 12-3.3 12-3.1 12-3 12-3 12-2.8 12-2.1 12-1.7 12-1.6 12-1.3 12-0.9 12-1.3 12-1.5 12-2.1 12-6.9 12-11 12-12.7 12-15.7 12-19.8 12-23.5 11-22.6" stroke="#161616"/>
<path d="M481.0 548.1l12-14.3 12-12.9 12-17 12-17.2 12-16.2 12-17.3 12-16.2 12-14 12-14.7 12-15.3 12-13.1 12-13.6 12-11.4 12-8.9 12-10.8 12-11.3 12-10.2 12-7.3 12-6 12-8 12-6.7 12-4.8 12-4.5 12-3.5 12-2.4 12-2.4 12 2.5 12 10 12 16.2 12 19.9 12 21.6 12 20.3 12 19.8 12 18.4 12 15.1 12 13.6 12 12.1 12 10.3 12 9.7 12 10.1 12 6.2 12 2.9 12-2.4 12-5.3 12-7.7 12-9.8 12-9.5 12-8.2 12-7.6 12-6.8 12-6.7 12-6.6 12-5.6 12-3.7 12-3.3 12-2.9 12-1.9 12-1.7 12-1.8 12-1.5 12-1.4 12-0.5 12 8.1 12 13.9 12 17 12 16.4 12 15.8 12 14.3 12 13.1 12 13.1 12 16.2 12 17.5 12 17.7 12 19.4 12 20.8 12 22.1 12 24.8 12 29.7 12 57.5 12 51 12 42.3 12 42.3 12 42.3 12 27.3 12 5.5 12 1.8 12 0.7 12 0.2 12 1 12 1.4 12 0.6 12-0.1 12-0.8 12-3 12-4.5 12-4.9 12-5.5 12-5.7 12-5.8 12-6.3 12-6.6 12-6 12-4.4 12-3.9 12-4.3 12-4.5 12-4 12-3.6 12-3.5 12-3.3 12-2.6 12-1.8 12-1.5 12-1.8 12-2 12-1.9 12-2.3 12-6.8 12-10.9 12-12.6 12-15 12-19.4 12-23.3 11-22" stroke="#e8e8a0"/>
<path d="M481.0 628.3l12-14.8 12-13.1 12-12.2 12-15.1 12-16.2 12-14.3 12-13 12-13.3 12-12.2 12-12.9 12-11 12-8.5 12-10.6 12-9.7 12-7.1 12-7.9 12-7.9 12-9.8 12-11.6 12-8 12-5.2 12-5.9 12-6 12-5.8 12-7.2 12-5 12 1.2 12 6.2 12 12.9 12 15.9 12 16.6 12 16.3 12 16.8 12 16 12 13.8 12 12.7 12 11 12 9.3 12 8.8 12 8.9 12 5.4 12 2.6 12-1.2 12-3.6 12-7.1 12-9.3 12-8.4 12-7.1 12-6.8 12-6.3 12-5.6 12-4.9 12-4.4 12-3.3 12-2.6 12-1.9 12-1.7 12-1.5 12-1.4 12-1.5 12-1.2 12-0.7 12 6.5 12 11.7 12 15.6 12 15.5 12 14.7 12 13.9 12 11.7 12 11.2 12 15 12 16.7 12 17.7 12 19.7 12 21.6 12 23.3 12 25.8 12 30.5 12 52.5 12 47.1 12 39.9 12 40.3 12 39.9 12 25.9 12 7.1 12 2.5 12 1.5 12 1.1 12 1.3 12 1.9 12 2.2 12 1.6 12 0.2 12-1.6 12-3.4 12-4 12-4.5 12-4.7 12-4 12-4 12-5.2 12-4.9 12-3.6 12-3.2 12-3.2 12-2.7 12-2.5 12-2.9 12-2.4 12-2.2 12-2.3 12-1.9 12-1.8 12-1.9 12-2 12-2.2 12-3 12-7 12-11.4 12-13.9 12-16.1 12-19.1 12-21.3 11-20.9" stroke="#0000a0"/>
<path d="M481.0 807.5l12-17.7 12-19.3 12-18.7 12-19.3 12-17.2 12-15.7 12-15.7 12-14.4 12-11.3 12-12.1 12-12.6 12-10.2 12-8.2 12-7.6 12-6.8 12-6.4 12-6.7 12-8.6 12-11.2 12-8 12-5.7 12-4.8 12-4.7 12-5.1 12-4 12-2.2 12-0.5 12 2.1 12 9.5 12 12.6 12 14.7 12 11.2 12 11.3 12 14.9 12 13.6 12 12.2 12 10.3 12 8 12 6.2 12 5.4 12 3.9 12 1.2 12-1.4 12-4 12-7.7 12-9.4 12-9.3 12-8.2 12-7.2 12-6.1 12-5 12-4.6 12-3.8 12-1.5 12-1 12-0.6 12-0.4 12 0.1 12 0.3 12 0.2 12 1.9 12 3 12 7.1 12 11.6 12 16.6 12 17 12 17.7 12 19.1 12 13.2 12 10.8 12 17.1 12 20.3 12 22.3 12 24.5 12 27.4 12 30.2 12 32.4 12 34.2 12 37.3 12 36.6 12 36.1 12 33.5 12 29.7 12 19.7 12 10.1 12 3 12 0 12-0.2 12 0.5 12 1.3 12 1.3 12 0.6 12-0.5 12-1.6 12-4.9 12-5.8 12-5.6 12-5.7 12-5 12-4.6 12-6.1 12-6.4 12-5.3 12-4.5 12-3.5 12-3.4 12-3.7 12-3.8 12-2.5 12-2.1 12-2.2 12-2.3 12-2.4 12-1.9 12-1.7 12-2 12-3.4 12-6.7 12-11 12-14.1 12-14.7 12-15.7 12-16.4 11-16.5" stroke="#800000"/>
<path d="M481.0 630.7l12-13.3 12-16.2 12-17.6 12-17.8 12-16.7 12-13.2 12-11.7 12-12.6 12-11.8 12-10.9 12-10.1 12-8.9 12-6.5 12-7.3 12-8.1 12-7.2 12-6.8 12-5.9 12-8 12-8.7 12-6.3 12-3.4 12-3.7 12-5.5 12-4.9 12-3.9 12 0.2 12 6.6 12 12.1 12 14.4 12 15.8 12 14.8 12 15.4 12 15.6 12 12.9 12 11.5 12 10.1 12 8.4 12 8 12 8.5 12 5 12 2 12-1.9 12-4.4 12-7.3 12-9.1 12-8.7 12-7.3 12-6.2 12-5.4 12-4.6 12-4.1 12-3.7 12-2.4 12-1.6 12-0.8 12-1 12-0.5 12 0.2 12-0.1 12 0.3 12 1.3 12 7.8 12 12.6 12 16.3 12 16.2 12 15.9 12 15.8 12 13 12 12 12 16.2 12 17.9 12 18.6 12 20.6 12 22.9 12 25 12 27.2 12 31.2 12 49.4 12 45 12 39.5 12 38.9 12 37.7 12 24.5 12 7.5 12 2.6 12 0.8 12 0.5 12 0.8 12 1.6 12 1.3 12 0.5 12-0.3 12-2.2 12-4.4 12-5.1 12-5.5 12-5.5 12-5.1 12-5.4 12-6.1 12-5.6 12-4.6 12-4.3 12-4.3 12-3.8 12-3.7 12-3.8 12-3.1 12-2.7 12-2.2 12-2 12-2.1 12-2 12-1.9 12-2.3 12-3.1 12-6.7 12-10.9 12-13.2 12-15 12-17.8 12-19.9 11-19.3" stroke="#2222ee"/>
<path d="M481.0 808.4l12-15.8 12-20 12-20.2 12-18.2 12-17.4 12-18 12-15.7 12-11.5 12-9.5 12-12.9 12-12.8 12-9.5 12-8.9 12-7.2 12-7.7 12-9.4 12-7.3 12-8.1 12-12.3 12-9.7 12-5.8 12-6 12-6.4 12-5.1 12-4.4 12-4.6 12-1.9 12 2.9 12 9.7 12 11.8 12 12.8 12 10.4 12 12.2 12 15.8 12 13.7 12 12 12 9.8 12 7.7 12 6.7 12 6.3 12 4.2 12 1.1 12-1.4 12-4 12-7.5 12-9.3 12-9.2 12-7.3 12-6.8 12-5.8 12-4.3 12-4.3 12-3.9 12-1.4 12-0.7 12-0.5 12 0.3 12 0.5 12 0.1 12 0.7 12 2.1 12 2.9 12 7.4 12 12.1 12 16.7 12 16.7 12 17.9 12 19.5 12 12.9 12 10.8 12 17 12 19.6 12 21.3 12 23.7 12 26.9 12 29.4 12 30.9 12 33.3 12 38.1 12 37 12 35 12 32.6 12 30.3 12 20.4 12 9.3 12 2.3 12-0.1 12-0.4 12 0.3 12 1.3 12 1 12-0.2 12-1 12-1.4 12-4.6 12-5.8 12-6.2 12-5.8 12-4.5 12-4.1 12-5.7 12-5.8 12-4.2 12-3.6 12-3.6 12-3 12-2.7 12-2.8 12-1.6 12-0.9 12-1.4 12-1.5 12-1.4 12-1.4 12-1.2 12-1.4 12-2.4 12-5.5 12-10.2 12-13.6 12-14.5 12-14.9 12-15.5 11-16" stroke="#000080"/>
<path d="M481.0 534.0l12-12.8 12-15.2 12-16.3 12-17.7 12-17.5 12-12.6 12-12.8 12-15 12-14.4 12-14.2 12-12.5 12-11.5 12-10.4 12-8.7 12-9.7 12-10.5 12-8 12-6.6 12-7.5 12-8 12-7.8 12-6.2 12-3.2 12-3.2 12-4.8 12-2.8 12 3.6 12 9.5 12 15.7 12 19.2 12 19.6 12 19.7 12 19.9 12 18.1 12 14.5 12 12.6 12 10.9 12 9.4 12 9 12 9.7 12 5.8 12 2.6 12-2.8 12-5.3 12-7.5 12-9.8 12-9 12-7 12-6.4 12-6.1 12-6 12-5.4 12-4.7 12-3.2 12-2.2 12-1.4 12-0.8 12-0.7 12-0.1 12 0 12-0.3 12 0.4 12 8.9 12 14.4 12 17.6 12 16.7 12 15.9 12 14.9 12 13.7 12 13.2 12 16.5 12 17.9 12 17.3 12 18.7 12 20.6 12 21.2 12 23.7 12 29.6 12 56.7 12 50 12 41.4 12 41.8 12 42.1 12 27.2 12 5.3 12 1.4 12 0.4 12 0.1 12 0.5 12 1 12 1.3 12 0.5 12-1 12-3.1 12-4.3 12-4.5 12-5.3 12-5.7 12-5.1 12-5.4 12-5.5 12-4.7 12-4.1 12-4 12-3.4 12-2.9 12-3.2 12-3.3 12-3.4 12-3.2 12-2.5 12-2.2 12-1.7 12-1.9 12-2.1 12-1.8 12-2.8 12-7.6 12-11.2 12-13.1 12-16 12-20.2 12-23.5 11-21.9" stroke="#f08000"/>
<path d="M481.0 737.1l12-17 12-18.2 12-19.7 12-18.7 12-17.7 12-13.4 12-10.3 12-14.6 12-14.6 12-11.5 12-12.2 12-12.8 12-8.6 12-6.3 12-7.8 12-5.8 12-4.9 12-8.8 12-10.8 12-7.6 12-6.1 12-5.1 12-3.7 12-3.3 12-4.2 12-4.4 12 0.6 12 5.1 12 9.9 12 12.9 12 14.7 12 12.4 12 13 12 15.7 12 14.3 12 12.1 12 10 12 8.6 12 7.4 12 6.9 12 4.6 12 1.8 12-1.1 12-3.2 12-7.1 12-9.3 12-8.5 12-7 12-6.3 12-5.2 12-4.1 12-3.9 12-3.1 12-1 12-0.2 12-0.3 12-0.6 12 0 12 0.7 12 1 12 1.1 12 1.5 12 7.3 12 12.1 12 16.1 12 16.3 12 16.7 12 17.2 12 12.4 12 10.4 12 15.3 12 17.9 12 19.8 12 22.4 12 25 12 27.2 12 29.4 12 32.1 12 41.5 12 39.7 12 37.1 12 35.6 12 32.9 12 21.7 12 9 12 2.8 12 0.2 12 0.1 12 0.9 12 1.7 12 1.4 12 0.8 12-0.3 12-1.8 12-4.4 12-5 12-5.4 12-5.9 12-5.2 12-4.4 12-6 12-6.5 12-5.1 12-4.5 12-4.1 12-3.8 12-3.5 12-3.3 12-3.2 12-2.8 12-2.2 12-2.1 12-2.3 12-2.4 12-2.3 12-2.5 12-3.4 12-6.3 12-11 12-14.5 12-15.2 12-16.9 12-18.1 11-17.7" stroke="#161616"/>
<path d="M481.0 578.5l12-12.9 12-15 12-14.5 12-15.7 12-20.3 12-16.7 12-8.8 12-10.1 12-15.8 12-19.1 12-14.5 12-10.6 12-9.4 12-8 12-9.7 12-9.7 12-8.8 12-9.8 12-10.4 12-9 12-8 12-5.7 12-3.5 12-6.5 12-7.1 12-2.8 12 2.7 12 8.2 12 14 12 17.8 12 19.4 12 18.3 12 18.7 12 17.6 12 14.5 12 13.4 12 11.8 12 10.2 12 9.7 12 10.1 12 6.2 12 3.2 12-1.3 12-3.8 12-6.5 12-8.9 12-8.1 12-6.9 12-6.3 12-5.7 12-5.8 12-5.4 12-4.4 12-2.9 12-2.4 12-2.6 12-2.1 12-1.5 12-1.5 12-1.6 12-1.6 12-1.4 12 6.8 12 12.5 12 15.9 12 15.1 12 14 12 13.1 12 12 12 11.5 12 15 12 16.3 12 16.2 12 18.3 12 20.6 12 21.3 12 24 12 29.5 12 56 12 50.3 12 42.5 12 42.6 12 42.4 12 27.5 12 6.5 12 3 12 2 12 1.6 12 2 12 2.6 12 2.6 12 1.8 12 0.9 12-1.4 12-3 12-3.1 12-3.8 12-4.4 12-4.4 12-5 12-5.1 12-4.5 12-3.9 12-3.1 12-3 12-3.3 12-3.4 12-3.7 12-3.4 12-2.7 12-2.6 12-2.6 12-2.4 12-2.7 12-2.6 12-2.4 12-3.5 12-7.9 12-11.7 12-13.8 12-16.1 12-19.8 12-22.4 11-21.5" stroke="#b4b4b4"/>
<path d="M481.0 828.7l12-12.3 12-19.4 12-23 12-19.6 12-16.6 12-15.8 12-12.8 12-12.8 12-13.2 12-10.2 12-9.5 12-11.1 12-8.5 12-5.7 12-4.7 12-4.9 12-4.1 12-5.7 12-10.9 12-9 12-8.2 12-6.7 12-3.4 12-4.5 12-6.5 12-5.2 12-2 12 1.4 12 8.1 12 10.9 12 13.1 12 9.6 12 11.2 12 15.6 12 13.3 12 11.7 12 9.6 12 8 12 7 12 6 12 3.9 12 0.9 12-1 12-3.1 12-7.2 12-9 12-8.9 12-7.8 12-7.1 12-6.3 12-4.9 12-3.7 12-3.5 12-1.8 12-0.8 12-0.4 12-0.4 12-0.3 12 0.1 12 0.3 12 1.3 12 2.3 12 6.2 12 10.4 12 15.7 12 16.5 12 17.2 12 18.6 12 12 12 9.4 12 15.6 12 18.5 12 21.1 12 23.9 12 26.7 12 29.1 12 31.1 12 33.5 12 35.8 12 35.2 12 34.8 12 33 12 29.7 12 19.3 12 9.3 12 2.3 12 0.2 12 0.2 12 0.5 12 1.5 12 1.5 12 0.6 12-0.2 12-0.5 12-3.7 12-5 12-5.1 12-5 12-4.2 12-3.3 12-4.8 12-5.5 12-3.8 12-3 12-2.6 12-2.3 12-2.4 12-2.6 12-1.7 12-1.1 12-0.8 12-1.1 12-1.5 12-1.7 12-1.6 12-1.6 12-2.6 12-5.5 12-10.2 12-14.1 12-14.4 12-14.5 12-14.9 11-14.8" stroke="#e022e0"/>
<path d="M481.0 826.5l12-17.7 12-21 12-19.4 12-18.9 12-18.5 12-17.3 12-15.3 12-13.1 12-13.1 12-11.1 12-9 12-10.7 12-11.5 12-9.3 12-7.6 12-8 12-6.7 12-7.8 12-11.4 12-8.5 12-6 12-4.7 12-4.1 12-3.9 12-4.5 12-4.3 12-0.9 12 2.7 12 9.6 12 13.2 12 13.8 12 10.8 12 13.2 12 16.5 12 13.9 12 12.1 12 9.6 12 8 12 6.8 12 5.6 12 3.7 12 1 12-1.2 12-4.2 12-8.4 12-9.7 12-9.7 12-8.7 12-7.8 12-6.9 12-5.7 12-4.8 12-4.4 12-2.2 12-1.3 12-0.9 12-1 12-0.7 12-0.2 12 0.1 12 1.4 12 2.5 12 7.2 12 11.6 12 16.1 12 16.6 12 17.4 12 19.2 12 13.3 12 10.4 12 16.4 12 19.7 12 21.9 12 24.5 12 27.5 12 30.1 12 32.4 12 34.6 12 37.7 12 36.3 12 35.9 12 34.1 12 30.4 12 19.8 12 10.3 12 3.7 12 1 12 0.5 12 0.9 12 2.1 12 1.8 12 0.9 12 0 12-0.8 12-3.9 12-5.3 12-5.7 12-5.3 12-4.6 12-4.4 12-6.1 12-6.6 12-4.8 12-4.2 12-4.2 12-3.6 12-3.2 12-3.3 12-2.2 12-1.8 12-2.2 12-1.9 12-1.3 12-1.4 12-1.7 12-1.9 12-3 12-5.9 12-9.7 12-13.4 12-14.3 12-14.5 12-14.4 11-15.1" stroke="#0000a0"/>
<path d="M481.0 584.2l12-10.1 12-11.7 12-15.9 12-19.5 12-18.3 12-14.4 12-14.8 12-14.9 12-14.5 12-17 12-14.2 12-10.5 12-10.9 12-12.5 12-12.6 12-11.6 12-10 12-9.1 12-10.6 12-9.2 12-6.5 12-6.8 12-5.6 12-3.7 12-3.6 12-3.3 12 2.8 12 9.5 12 13.7 12 17.7 12 19.7 12 18.9 12 18.5 12 17.4 12 15.1 12 13.4 12 11.3 12 10.3 12 9.8 12 10 12 6.3 12 3.5 12-1.7 12-4.7 12-6.7 12-8.9 12-9.2 12-7.6 12-6.3 12-5.6 12-5.7 12-5.6 12-4.9 12-3.2 12-2.5 12-2.3 12-1.7 12-1.2 12-0.9 12-0.5 12-0.3 12 0.5 12 8.3 12 13.7 12 17.1 12 16.6 12 15.8 12 14.7 12 12.9 12 13.2 12 16.9 12 17.6 12 17.8 12 19.5 12 21.3 12 22.7 12 25.4 12 30.4 12 55 12 48.6 12 41 12 41.3 12 41.3 12 26.7 12 6.1 12 2 12 1.1 12 0.3 12 0.5 12 1 12 1.1 12 0.5 12-0.8 12-2.8 12-4.5 12-4.8 12-5.1 12-5.5 12-5.3 12-5.4 12-5.5 12-4.7 12-3.8 12-3.7 12-3.4 12-3.2 12-2.9 12-2.8 12-2.8 12-2.4 12-1.7 12-1.4 12-1.7 12-1.6 12-1.4 12-1.5 12-2.6 12-6.7 12-10.7 12-13 12-15.2 12-18.8 12-21.8 11-21" stroke="#808000"/>
<path d="M481.0 661.9l12-15.9 12-18.8 12-16.1 12-16.4 12-19 12-16.3 12-16.6 12-15.9 12-11.1 12-11.5 12-12.1 12-11.3 12-9.6 12-7.7 12-7.6 12-7.6 12-7.9 12-8.8 12-8.6 12-6 12-5.9 12-5.8 12-3.8 12-3.1 12-3.4 12-3.5 12 1.3 12 7.4 12 12.9 12 15.6 12 17 12 15.9 12 16.5 12 16.9 12 13.6 12 12.2 12 11.1 12 9.6 12 8.9 12 8.4 12 5.1 12 2.3 12-1.5 12-3.9 12-6.9 12-8.8 12-8.5 12-7.2 12-6.8 12-6.2 12-4.9 12-4.3 12-4.1 12-2.5 12-1.8 12-1.3 12-0.8 12-0.7 12-0.7 12-0.4 12 0.3 12 1 12 7.6 12 12.5 12 16.3 12 16.3 12 16.4 12 16 12 12.2 12 11.3 12 16 12 18 12 19.3 12 21.4 12 23.2 12 25.1 12 27.6 12 31.4 12 47.7 12 44 12 38.7 12 38 12 36.8 12 24 12 7.4 12 2.2 12 0.6 12 0.4 12 0.4 12 1.1 12 1.6 12 0.7 12-0.8 12-2.4 12-4.4 12-4.8 12-5.5 12-5.7 12-5.2 12-4.6 12-4.9 12-5.2 12-4.7 12-3.7 12-3.1 12-3.2 12-3.1 12-2.8 12-2.2 12-2.2 12-2 12-1.8 12-2 12-2 12-1.7 12-1.5 12-2.1 12-6.3 12-11 12-13.8 12-15 12-17.7 12-19.9 11-18.9" stroke="#008080"/>
<path d="M481.0 816.2l12-14.6 12-19.1 12-18.3 12-18.6 12-17.5 12-13.9 12-12.9 12-14.1 12-13 12-13.1 12-11.5 12-10.1 12-9.3 12-5.8 12-5.4 12-7.5 12-7.1 12-8.1 12-11.5 12-8.6 12-5.4 12-5.3 12-6.1 12-6 12-5.1 12-4.2 12-1.9 12 1.2 12 7.3 12 10.5 12 12.9 12 10.3 12 11.7 12 14.5 12 12.6 12 10.9 12 8.9 12 7.8 12 6.6 12 5.2 12 3.7 12 1.3 12-1.1 12-3.3 12-7.1 12-8.8 12-8.6 12-7.2 12-6.6 12-5.6 12-4.3 12-3.3 12-2.9 12-0.9 12 0 12 0.6 12 0.5 12 0.3 12 0.4 12 0.1 12 1.3 12 2.6 12 6.7 12 11.1 12 16 12 15.9 12 16.7 12 18.4 12 11.7 12 8.7 12 14.6 12 18.1 12 20.7 12 22.6 12 25.3 12 28.6 12 30.7 12 32.9 12 37.8 12 36.8 12 35.6 12 33.9 12 31.2 12 20.6 12 9.9 12 3.6 12 0.8 12 0.5 12 1.4 12 1.9 12 1.7 12 1.2 12 0.2 12-1.1 12-4 12-4.8 12-5.2 12-5.4 12-4.7 12-4 12-5.4 12-6.2 12-5 12-4.4 12-3.9 12-3.6 12-3.7 12-3.6 12-2.9 12-2.9 12-3 12-2.7 12-2.7 12-2.7 12-2.5 12-2.9 12-3.8 12-6.7 12-10.9 12-14.5 12-14.8 12-15.3 12-16.4 11-16.5" stroke="#2222ee"/>
<path d="M481.0 831.5l12-15.7 12-22 12-20.2 12-18.9 12-18.8 12-16.8 12-13.8 12-12.3 12-10 12-10.9 12-13.7 12-10.6 12-6.7 12-7.4 12-6.7 12-5.7 12-7.6 12-8.9 12-10.3 12-8.2 12-6.8 12-6.3 12-4.1 12-2.8 12-5 12-5.4 12-1.8 12 2.2 12 9 12 11.3 12 13 12 10.5 12 12.3 12 15.8 12 13.5 12 11.7 12 9.9 12 8.6 12 7.1 12 6.1 12 4.5 12 1.1 12-0.9 12-2.9 12-7 12-9 12-8.6 12-7.5 12-7 12-6.4 12-4.7 12-3.6 12-3 12-1.4 12-0.8 12 0 12 0.5 12 0.2 12 0 12 0.3 12 1.7 12 2.5 12 6 12 10.6 12 15.8 12 16.5 12 17.7 12 19.1 12 12.3 12 9.5 12 15.7 12 19 12 21.5 12 24.3 12 27.3 12 29.6 12 31.4 12 34.2 12 36.2 12 35.2 12 34.6 12 32.6 12 29.7 12 19.8 12 10 12 2.7 12 0.5 12 0.4 12 1 12 2 12 1.8 12 0.5 12-0.3 12-0.9 12-4.2 12-4.9 12-5 12-5.1 12-4.5 12-3.9 12-5.4 12-5.8 12-4.6 12-4 12-3.6 12-3.2 12-2.8 12-2.8 12-2.2 12-1.9 12-1.5 12-1.8 12-1.9 12-1.6 12-2 12-2.4 12-3.2 12-5.9 12-10.8 12-14.7 12-14.4 12-14.9 12-15.2 11-15.1" stroke="#f0a0f0"/>
<path d="M481.0 739.7l12-16.2 12-17.6 12-16.3 12-16.3 12-18.9 12-16.5 12-12.1 12-12.2 12-10.6 12-10.2 12-11.9 12-9.7 12-7.1 12-6.3 12-6.2 12-5.9 12-5.7 12-8 12-9.8 12-8.5 12-7.2 12-4.4 12-3.2 12-3.7 12-3.5 12-4.1 12-1.5 12 3.3 12 10.3 12 12.9 12 15 12 12.9 12 13.9 12 16 12 13.4 12 12.2 12 10.5 12 8.5 12 7 12 6.7 12 4.8 12 1.8 12-1.3 12-3.5 12-7.1 12-9.1 12-8.7 12-6.8 12-6.5 12-5.6 12-4.2 12-4.3 12-3.5 12-1 12-0.5 12-0.6 12-0.5 12 0 12 0.5 12 0.3 12 0.8 12 1.9 12 7.5 12 11.2 12 15.3 12 15.9 12 16.6 12 17.8 12 12.4 12 10.1 12 15.5 12 18 12 20.2 12 22.8 12 25.4 12 27.6 12 29.6 12 32.1 12 40.5 12 38.7 12 36.5 12 35.2 12 32.5 12 20.9 12 8.5 12 2.5 12 0.4 12 0.2 12 0.6 12 1.4 12 1.5 12 0.3 12-0.8 12-1.6 12-4.4 12-5.4 12-5.7 12-5.6 12-4.7 12-4.5 12-5.6 12-5.8 12-4.7 12-4.2 12-4.1 12-3.8 12-3.4 12-3 12-2.5 12-2.8 12-2.6 12-1.6 12-1.5 12-2.1 12-2.5 12-2.1 12-2.5 12-6 12-10.6 12-13.7 12-14.3 12-15.9 12-17.1 11-16.3" stroke="#f08000"/>
<path d="M481.0 558.0l12-15.9 12-15.8 12-12.8 12-14.7 12-16.5 12-15.3 12-12.2 12-12 12-14.9 12-15.2 12-12.9 12-12.7 12-10.1 12-7 12-8 12-10.2 12-9.1 12-9 12-10.8 12-8.5 12-6.4 12-5.7 12-4.7 12-5.9 12-6.1 12-3.4 12 2.7 12 9.2 12 15 12 18 12 19.2 12 19.2 12 18.6 12 16.6 12 13.6 12 12.8 12 12 12 10 12 9.3 12 10.1 12 6.7 12 3.5 12-1.6 12-4.3 12-6.8 12-8.9 12-8.7 12-7 12-5.7 12-5.6 12-5.8 12-4.9 12-4.2 12-3.1 12-2.5 12-1.9 12-1.6 12-1.4 12-1.5 12-1.2 12-1.3 12-0.4 12 7.9 12 13 12 16.5 12 16 12 15.5 12 14.4 12 13.2 12 13.2 12 16.2 12 17.8 12 18 12 19.4 12 21.7 12 23 12 25.7 12 30.8 12 56.6 12 50.3 12 42.2 12 42.2 12 41.8 12 27.4 12 6.7 12 2.1 12 1.2 12 1 12 0.8 12 1.1 12 1.4 12 0.9 12-0.6 12-2.9 12-4.8 12-5 12-5.4 12-5.6 12-5.5 12-5.8 12-6.3 12-5.6 12-4.7 12-4.3 12-4.2 12-4.1 12-4.2 12-4.1 12-3.3 12-3 12-2.7 12-2.6 12-2.3 12-1.8 12-2.1 12-2.2 12-2.7 12-7.4 12-11.9 12-13.6 12-15.6 12-19.5 12-22.8 11-21.8" stroke="#008080"/>
<path d="M481.0 758.0l12-15.1 12-15.6 12-15 12-18.4 12-20.7 12-17.6 12-13.6 12-11.9 12-11.6 12-14 12-12.9 12-8.2 12-6.7 12-9.1 12-8.7 12-5.9 12-6.3 12-8.5 12-11.5 12-8.2 12-4.6 12-6.3 12-6.4 12-4.1 12-3.9 12-5 12-1.9 12 4 12 11.2 12 14 12 14.5 12 12.2 12 13.7 12 15.5 12 13.8 12 13 12 10.4 12 8.4 12 7.5 12 7 12 4.6 12 1.6 12-1.1 12-3.1 12-6.9 12-9.4 12-9.1 12-7.2 12-6.6 12-6 12-4.2 12-3.7 12-3.6 12-1.5 12-0.3 12-0.1 12-0.1 12 0 12 0.1 12 0.3 12 1 12 2 12 7.4 12 11.6 12 15.5 12 16.4 12 17.4 12 18 12 12 12 10.1 12 16.1 12 18.3 12 20.5 12 23.4 12 25.3 12 27.4 12 29.9 12 32.4 12 40.2 12 38.5 12 35.8 12 34.4 12 32 12 21 12 8.5 12 1.9 12-0.2 12 0 12 0.4 12 1 12 0.7 12 0 12-0.6 12-1.4 12-4.7 12-5.5 12-5.4 12-5.7 12-5.2 12-4.6 12-6.1 12-6.5 12-4.8 12-3.8 12-3.5 12-3.2 12-3.2 12-3.7 12-3.3 12-2.4 12-2.1 12-2.2 12-2 12-2.6 12-2.5 12-2.3 12-3.3 12-6.7 12-11 12-14.8 12-15.8 12-17.2 12-18.2 11-17.9" stroke="#404040"/>
<path d="M481.0 739.6l12-15.7 12-19.7 12-17.2 12-17.6 12-19.1 12-15.7 12-14.1 12-12.8 12-13.3 12-15 12-13.2 12-13.4 12-11.5 12-6.4 12-6.7 12-10 12-7.9 12-5.6 12-9 12-10.5 12-8.6 12-5.4 12-5 12-5.5 12-5 12-3.4 12 0.2 12 4.2 12 9.9 12 13 12 15.7 12 13.9 12 14.4 12 15.6 12 12.8 12 12 12 10.6 12 8.6 12 7.5 12 7.4 12 4.6 12 1.5 12-1.8 12-4.6 12-8.3 12-9.8 12-9.3 12-8.1 12-7.2 12-6.2 12-5.3 12-4.7 12-4.3 12-2.6 12-1.6 12-0.9 12-0.8 12-0.6 12-0.2 12 0.1 12 1 12 1.7 12 7.5 12 12.4 12 16.5 12 16.9 12 17.2 12 17.5 12 13.1 12 11.3 12 16.4 12 18.8 12 20.2 12 22.2 12 24.8 12 27.3 12 29.4 12 32.5 12 44.5 12 41.4 12 38 12 36.7 12 34.5 12 22.6 12 8.5 12 2.6 12 0.6 12 0.2 12 0.8 12 1.6 12 1.3 12 0.3 12-0.5 12-1.8 12-4.3 12-4.8 12-4.9 12-5.6 12-5.1 12-4.8 12-6.2 12-6.4 12-4.6 12-3.8 12-4.1 12-4.1 12-3.6 12-3.7 12-3.2 12-2.7 12-2.7 12-2.4 12-2.1 12-2.3 12-2.4 12-2.2 12-3.4 12-7.4 12-11 12-13.4 12-14.9 12-16.6 12-17.9 11-17.4" stroke="#2222ee"/>
<path d="M481.0 647.5l12-16.3 12-18 12-18 12-17.4 12-14.4 12-12.1 12-14.7 12-15.8 12-14.8 12-16.1 12-14.7 12-12.7 12-10.8 12-9.2 12-10 12-10.7 12-10.4 12-10.8 12-11.3 12-8.9 12-7.6 12-7.9 12-6.4 12-5.4 12-4.2 12-1.9 12 2.4 12 6.4 12 11.9 12 16.2 12 18.8 12 18.1 12 16.9 12 16.8 12 15.1 12 13.4 12 11.7 12 9.9 12 8.7 12 8.8 12 5.8 12 2.7 12-1.8 12-4.7 12-7.7 12-10 12-9.1 12-7.2 12-6.9 12-6.6 12-6.1 12-5.4 12-4.5 12-3.2 12-2.3 12-1.4 12-1.2 12-0.9 12-0.5 12-0.3 12-0.1 12 0.6 12 8 12 13.5 12 17.3 12 17.1 12 16.5 12 15.6 12 12.8 12 12 12 16.3 12 18.4 12 18.3 12 19.6 12 22.3 12 23.9 12 26.5 12 30.8 12 50.7 12 45.9 12 39.7 12 39.4 12 38.6 12 25.3 12 6.7 12 1.7 12 0.1 12 0.3 12 1 12 1.3 12 0.9 12 0.4 12-0.4 12-2.6 12-4.2 12-4.4 12-5 12-5 12-4.5 12-5.1 12-5.5 12-4.5 12-3.9 12-3.7 12-3.3 12-3 12-3 12-3.2 12-2.7 12-2.2 12-2 12-2 12-1.4 12-1.4 12-1.7 12-1.7 12-2.4 12-6.6 12-10.9 12-13.3 12-15.3 12-18.1 12-20.9 11-20" stroke="#000080"/>
<path d="M481.0 570.3l12-12.1 12-15.9 12-17.6 12-16.7 12-17.5 12-16.2 12-14.7 12-13.4 12-12 12-11.7 12-11.6 12-13.3 12-12.4 12-10 12-9.1 12-9.5 12-10.7 12-8.7 12-6.4 12-7.5 12-6.6 12-4.8 12-5.3 12-3.8 12-3.2 12-3 12 3.8 12 9.3 12 14.1 12 18.7 12 20.4 12 19.7 12 18.9 12 17.7 12 14.8 12 12.8 12 11.2 12 9.8 12 9.3 12 9.5 12 5.8 12 2.5 12-2.4 12-5.3 12-7.6 12-9.7 12-9.4 12-7.8 12-7.2 12-6.7 12-6.1 12-5.8 12-5.4 12-3.9 12-2.5 12-2 12-1.8 12-1.6 12-1 12-0.6 12-0.6 12 0 12 8.3 12 13.9 12 17.4 12 16.7 12 16 12 15.2 12 13.8 12 13.4 12 16.8 12 18 12 18.3 12 20.1 12 22.2 12 23.3 12 25.8 12 30.8 12 55 12 48.6 12 41.2 12 41.5 12 41 12 26.3 12 6.2 12 1.9 12 0.6 12 0.4 12 0.5 12 0.8 12 0.7 12 0 12-1.2 12-3.3 12-4.9 12-5.1 12-5.4 12-5.7 12-6.1 12-6.4 12-6.6 12-5.9 12-4.6 12-4.1 12-4.2 12-4.1 12-4 12-3.7 12-3.5 12-3.6 12-2.9 12-2.1 12-1.7 12-1.8 12-2 12-2.2 12-2.7 12-7 12-11.3 12-13.2 12-15.5 12-19.4 12-22.9 11-21.8" stroke="#37ad6b"/>
<path d="M481.0 772.5l12-18.1 12-18.4 12-16 12-18.9 12-20.3 12-14.7 12-14.7 12-15.2 12-12.7 12-12.8 12-10.2 12-10.1 12-9.9 12-8 12-8.1 12-7.4 12-5.6 12-8.3 12-13.1 12-9.1 12-7.2 12-6.7 12-3.7 12-3.5 12-4.9 12-4.6 12-0.7 12 3.7 12 9.8 12 12.5 12 14.3 12 12.2 12 14.1 12 17.3 12 14.3 12 12.7 12 10.9 12 8.8 12 8.2 12 7.5 12 4.6 12 1.8 12-0.4 12-2.4 12-6.5 12-8.7 12-8.6 12-7.5 12-6.9 12-6.3 12-5.2 12-4.3 12-4.2 12-2.5 12-1.5 12-1.1 12-1.3 12-0.6 12-0.2 12-0.7 12 0.1 12 0.9 12 5.8 12 10.5 12 15.4 12 15.9 12 16.4 12 17.4 12 11.9 12 10.3 12 15.9 12 18.4 12 20.4 12 23.2 12 25.8 12 28.3 12 30.5 12 33.4 12 41.8 12 39.7 12 36.9 12 35.3 12 33 12 21.9 12 9.4 12 3 12 0.6 12 0 12 0.5 12 1.7 12 1.5 12 0.2 12-0.9 12-1.6 12-4.8 12-5.9 12-6 12-6.3 12-5.4 12-5 12-6.5 12-6.9 12-5.4 12-4.7 12-4.3 12-3.8 12-4 12-4.1 12-3.1 12-2.5 12-2.5 12-2.2 12-2.1 12-2.2 12-2.1 12-2.1 12-3 12-6.2 12-10.5 12-13.4 12-14.6 12-16.3 12-17.1 11-16.6" stroke="#e022e0"/>
<path d="M481.0 551.7l12-14.7 12-17.4 12-15.6 12-16.4 12-19 12-14.6 12-11.8 12-13 12-14.2 12-14.2 12-12.3 12-11.3 12-9.5 12-10 12-10.7 12-9.4 12-9.2 12-8.3 12-8.7 12-9.3 12-8.1 12-7.3 12-6 12-4.3 12-4 12-3.4 12 2.7 12 9.7 12 15.2 12 17.9 12 19.2 12 19.7 12 19.6 12 17.4 12 14.2 12 13 12 11.7 12 10.1 12 10.1 12 10.6 12 6.2 12 3.5 12-1.9 12-4.9 12-7.3 12-9.2 12-8.4 12-7.2 12-6.8 12-6.6 12-6.4 12-5.8 12-5 12-3.7 12-3.2 12-2.7 12-1.9 12-1.7 12-1.8 12-1.5 12-1.6 12-1.2 12 7.5 12 13.3 12 16.6 12 16.1 12 15.4 12 13.7 12 12.9 12 13 12 16.6 12 18.1 12 17.8 12 19.3 12 21.1 12 22.3 12 25.4 12 31 12 58.6 12 51.9 12 43 12 43 12 42.8 12 28.4 12 6.7 12 2.2 12 1.5 12 1.4 12 1.4 12 1.8 12 1.6 12 0.8 12-0.4 12-2.3 12-3.7 12-4.2 12-4.7 12-4.9 12-4.6 12-5.3 12-5.8 12-5 12-3.8 12-3.7 12-3.9 12-3.8 12-3.7 12-3.8 12-3.2 12-3 12-3 12-2.6 12-2 12-2.2 12-2.8 12-3 12-3.7 12-8.4 12-12 12-14 12-17.3 12-21.1 12-24.3 11-23.3" stroke="#e022e0"/>
<path d="M481.0 845.2l12-15.9 12-14.4 12-18.5 12-21.7 12-20.2 12-17.9 12-12.6 12-10.7 12-11.6 12-12.7 12-11.7 12-7.1 12-7.2 12-8.7 12-6.6 12-3.9 12-3.9 12-8.8 12-12.7 12-7.4 12-5.7 12-5.9 12-5.2 12-5.9 12-4.4 12-3.4 12-2.3 12 1.9 12 8.1 12 9.9 12 13.1 12 10.5 12 11.5 12 14.7 12 12.9 12 12.2 12 9.2 12 8.2 12 7.5 12 6 12 3.9 12 0.7 12-1.4 12-3.4 12-7.3 12-9.1 12-9.4 12-8.3 12-7.3 12-5.9 12-4.8 12-4.6 12-3.7 12-1.2 12-0.7 12-0.7 12-0.5 12-0.4 12-0.1 12 0.6 12 1.7 12 2.4 12 6.2 12 10.6 12 15 12 15.8 12 17.5 12 19.4 12 12.3 12 9.2 12 15.7 12 18.9 12 21.8 12 24.3 12 27.1 12 30.6 12 32.3 12 33.6 12 34.8 12 34.7 12 34.6 12 32.4 12 28.7 12 18.8 12 9.7 12 2.6 12 0.6 12 0.1 12 0.5 12 1.5 12 1.5 12 0.7 12-0.6 12-1.3 12-4.3 12-5.5 12-5.7 12-5.6 12-4.6 12-3.6 12-5.6 12-6.6 12-5.1 12-4 12-3.4 12-3.1 12-3.1 12-3.1 12-1.9 12-1.5 12-2.3 12-2.4 12-1.7 12-1.5 12-1.9 12-2.2 12-3.2 12-6.1 12-10.3 12-13.8 12-14.4 12-14.7 12-14.6 11-14.7" stroke="#800080"/>
<path d="M481.0 590.5l12-13.2 12-18.4 12-15.6 12-12.6 12-13.4 12-14.2 12-13.7 12-14.2 12-14.3 12-12 12-11 12-12.2 12-9.5 12-6.9 12-10.3 12-11.6 12-8.1 12-9.1 12-10.4 12-7.5 12-6.9 12-6.7 12-5.1 12-5.6 12-6.2 12-3.6 12 1.6 12 6.4 12 13.5 12 17.8 12 18.3 12 17.5 12 18.1 12 17 12 13.9 12 12.7 12 11.6 12 9.5 12 9 12 9.6 12 6.3 12 2.8 12-1.8 12-4.1 12-7.1 12-9.4 12-8.7 12-7.4 12-6.4 12-5.9 12-5.9 12-5.4 12-4.8 12-3.6 12-2.9 12-2.6 12-2.3 12-1.9 12-1.6 12-1.7 12-1.3 12-0.2 12 7.8 12 13 12 16.4 12 15.9 12 15.4 12 14.2 12 12.7 12 12.3 12 15.9 12 17.7 12 17.7 12 19.4 12 21.4 12 22.6 12 25.3 12 30 12 54.7 12 49.2 12 41.3 12 41.4 12 41.5 12 26.9 12 6.4 12 2.4 12 1.4 12 0.9 12 1.2 12 2.1 12 1.8 12 0.8 12-0.3 12-2.2 12-3.7 12-4 12-4.5 12-5 12-5.1 12-5.2 12-5.4 12-5.1 12-4.5 12-4.1 12-3.8 12-4 12-4.2 12-4 12-3.9 12-3.3 12-3 12-3.2 12-3 12-3.1 12-3.4 12-3.1 12-4 12-9.2 12-13.4 12-14.4 12-16.6 12-20.5 12-23.9 11-22.9" stroke="#37ad6b"/>
<path d="M481.0 824.6l12-16.4 12-20.7 12-19.6 12-17.4 12-17.9 12-17.6 12-14.7 12-13 12-11.8 12-10.3 12-11.2 12-12.8 12-8.9 12-6.8 12-8.4 12-7.5 12-6.9 12-7.9 12-12 12-11 12-6.7 12-5.5 12-6.7 12-5.9 12-5 12-4.4 12-0.8 12 2.5 12 8.2 12 11.1 12 13.6 12 10.3 12 12.1 12 15.6 12 13.2 12 12.6 12 10.7 12 8.9 12 7.6 12 6.7 12 4.5 12 1.5 12-0.4 12-2.9 12-7.2 12-9 12-8.3 12-7.1 12-6.7 12-6 12-5.1 12-4.3 12-3.3 12-1.4 12-1 12-0.9 12-0.7 12-0.3 12 0.2 12 0.2 12 1.3 12 2 12 6.5 12 11.2 12 15.9 12 16.3 12 17.4 12 18.9 12 12.7 12 10.4 12 16.3 12 19.3 12 21.8 12 24.3 12 27.1 12 30.2 12 32.5 12 34.3 12 36.9 12 35.9 12 35.3 12 33.7 12 30.5 12 19.7 12 9.6 12 2.6 12 0.2 12 0.1 12 0.7 12 1.6 12 1.1 12 0 12-0.7 12-1.2 12-4.7 12-5.7 12-4.9 12-5 12-4.8 12-4.1 12-5.5 12-6.3 12-3.9 12-3.4 12-3.6 12-2.8 12-2.4 12-2.4 12-2 12-1.5 12-1.5 12-1.6 12-1.3 12-1 12-1.1 12-1.7 12-2.7 12-5.6 12-10 12-13.6 12-14.2 12-14.3 12-14.7 11-15.2" stroke="#d0d0d0"/>
<path d="M481.0 565.3l12-13.9 12-12.9 12-14.7 12-17.9 12-18 12-14.3 12-11.9 12-14.3 12-15.7 12-14.8 12-14.1 12-11.9 12-8.4 12-8 12-10.3 12-10.6 12-8.4 12-8.3 12-8.3 12-7.7 12-8.1 12-7.3 12-5.5 12-4.3 12-3.7 12-3.5 12 1.5 12 8.1 12 13.8 12 17.5 12 18.6 12 17.4 12 17.7 12 17.1 12 14.3 12 12.5 12 10.9 12 9.3 12 9.1 12 10 12 6.3 12 3.1 12-2.2 12-4.7 12-6.7 12-9 12-8.4 12-6.4 12-6 12-5.4 12-4.7 12-4.4 12-3.8 12-2.6 12-2 12-1.5 12-1.1 12-0.7 12-0.5 12-0.3 12-0.2 12 0.2 12 8.3 12 13.9 12 16.9 12 16.4 12 15.7 12 14.2 12 12.5 12 12.5 12 16.4 12 17.6 12 17.1 12 18.6 12 20.4 12 21.8 12 24.3 12 28.9 12 54.7 12 49 12 41.1 12 41.4 12 41.3 12 26.8 12 6 12 1.8 12 0.6 12 0.9 12 1.5 12 1.5 12 1.6 12 1.1 12-0.4 12-2.2 12-3.3 12-3.4 12-4 12-4.6 12-4.8 12-4.6 12-4.4 12-4.6 12-4.1 12-3.2 12-2.8 12-2.8 12-3.1 12-3.4 12-2.8 12-2.3 12-2.1 12-2.4 12-2.2 12-1.9 12-2.1 12-2.3 12-3 12-7.4 12-11.9 12-13.8 12-15.8 12-19.7 12-22.9 11-21.8" stroke="#000080"/>
<path d="M481.0 822.7l12-15.5 12-21.2 12-18.6 12-18.2 12-17.2 12-14.7 12-16.2 12-13.1 12-7.3 12-9.6 12-11.8 12-8.7 12-5.7 12-5 12-6.1 12-6.9 12-7.1 12-9.2 12-11.2 12-7.5 12-5.7 12-5.1 12-4.6 12-5.3 12-5.4 12-4.4 12-2 12 1.4 12 7.4 12 9.7 12 12.9 12 9.8 12 10.9 12 15.2 12 13.5 12 12.2 12 10.2 12 8.5 12 7.3 12 6.1 12 4.7 12 2.1 12-0.5 12-3 12-6.5 12-8.1 12-8.4 12-7.4 12-6.6 12-5.7 12-4.2 12-3.5 12-3.3 12-1.6 12-1.1 12-0.6 12-0.2 12-0.1 12-0.4 12-0.2 12 1.3 12 1.4 12 4.9 12 9.6 12 14.6 12 15.5 12 16.5 12 17.6 12 11.2 12 9.2 12 15.7 12 18.1 12 20.5 12 23.4 12 25.9 12 29 12 31.6 12 33.5 12 36.5 12 35.6 12 35 12 33.3 12 30.2 12 19.9 12 9.9 12 2.9 12 0.7 12 0.4 12 1.2 12 2.2 12 1.5 12 0.6 12-0.1 12-0.5 12-3.7 12-4.9 12-4.9 12-5 12-4.1 12-3.6 12-5.1 12-5.5 12-4.2 12-3.6 12-2.9 12-2.5 12-2.4 12-2.4 12-1.7 12-1.2 12-1.2 12-1.3 12-1.3 12-1.1 12-1.2 12-1.6 12-2.5 12-5.2 12-10.3 12-14.1 12-14 12-14.2 12-14.6 11-14.7" stroke="#800080"/>
<path d="M481.0 798.2l12-15.9 12-18.4 12-19 12-17.9 12-18.2 12-19.7 12-13.9 12-8.8 12-11.8 12-13.7 12-10.4 12-7.6 12-6.9 12-8.3 12-7.3 12-3.9 12-4.7 12-8 12-11.8 12-9.3 12-6.6 12-5.9 12-4.9 12-4.8 12-5.1 12-3.9 12-1.4 12 1.2 12 8.3 12 10.9 12 12.2 12 10.7 12 12.1 12 14.8 12 13.4 12 11.7 12 9.5 12 7.7 12 6.7 12 6 12 4.1 12 1.1 12-1.8 12-3.8 12-7.4 12-9.3 12-9.3 12-8.3 12-7.5 12-6.8 12-5.4 12-4.8 12-4.1 12-1.7 12-1.6 12-1.3 12-0.8 12-0.3 12-0.2 12-0.2 12 1.2 12 2.4 12 6.6 12 11.2 12 16.3 12 17 12 17.6 12 18.4 12 12.5 12 10.5 12 16.4 12 19 12 21 12 23.5 12 26.3 12 29 12 30.9 12 33.4 12 39.2 12 37.7 12 35.9 12 34 12 31.1 12 20.2 12 8.7 12 2.2 12-0.3 12-0.2 12 0.3 12 1.3 12 1 12-0.1 12-0.6 12-1.5 12-4.8 12-5.8 12-5.7 12-5.5 12-4.4 12-3.6 12-5 12-5.3 12-4 12-3.4 12-2.4 12-2 12-2.3 12-2.2 12-1.1 12-0.9 12-1.2 12-0.8 12-0.6 12-1 12-1.4 12-1.5 12-2.5 12-6 12-10.4 12-13.4 12-14.4 12-15.4 12-15.9 11-16.2" stroke="#008000"/>
<path d="M481.0 814.9l12-14.9 12-16.6 12-18.5 12-19.8 12-15.8 12-14.8 12-14.2 12-9 12-8.9 12-13.3 12-12.7 12-7.9 12-7.1 12-8.6 12-6.4 12-4.9 12-5.1 12-7.8 12-11.9 12-8.9 12-6 12-4.9 12-4.4 12-5.6 12-6.7 12-4.6 12-1.9 12 0.8 12 7.2 12 10.3 12 12.7 12 10.4 12 10.8 12 13.5 12 12.7 12 11.7 12 8.9 12 7.8 12 6.8 12 5.6 12 3.5 12 0.4 12-1.4 12-2.8 12-7.1 12-9.1 12-9 12-7.4 12-6.6 12-5.6 12-3.9 12-3.3 12-2.9 12-0.6 12 0.1 12 0.3 12 0.5 12 0.9 12 0.9 12 0.6 12 1.9 12 3.4 12 7.7 12 11.3 12 16.1 12 16.8 12 17.3 12 19 12 12.7 12 10 12 16.2 12 19.3 12 21.6 12 23.8 12 26.6 12 29.1 12 31.2 12 33.5 12 35.8 12 35 12 34.1 12 32.5 12 29.4 12 19 12 9.3 12 2.1 12-0.1 12-0.1 12 0.2 12 0.6 12 1 12 0.5 12-0.9 12-2.2 12-5 12-5.5 12-5.7 12-5.6 12-4.8 12-4 12-5.4 12-6.4 12-4.5 12-3.6 12-3.2 12-2.7 12-2.4 12-1.9 12-1.2 12-0.9 12-0.9 12-0.9 12-1 12-0.5 12-0.4 12-1 12-2.3 12-5.1 12-9.3 12-13.4 12-13.7 12-13.9 12-14.2 11-14.8" stroke="#8000f0"/>
<path d="M481.0 741.4l12-16.9 12-19.3 12-18.2 12-17.9 12-18.6 12-16.5 12-13.4 12-12.9 12-10.6 12-8.4 12-11.1 12-12.1 12-9 12-7.3 12-7.6 12-6.6 12-5.1 12-5.9 12-9.6 12-9.7 12-6.6 12-4 12-4.8 12-4.6 12-2.7 12-4 12-1.9 12 4.5 12 11.3 12 13.3 12 14.5 12 12.2 12 13.9 12 16.3 12 13.3 12 12.3 12 10.9 12 8.4 12 7.3 12 6.9 12 4.3 12 1.4 12-1.3 12-3.6 12-7 12-9.1 12-9.3 12-7.7 12-7.1 12-6.3 12-5.2 12-4.5 12-3.6 12-1.9 12-1.8 12-1.4 12-0.8 12-0.7 12-0.6 12-0.2 12 0.8 12 1 12 6 12 10.8 12 15.5 12 15.9 12 16.2 12 16.5 12 11.6 12 9.9 12 15.3 12 17.6 12 19 12 21.1 12 23.8 12 26.3 12 28.4 12 31.5 12 42.6 12 40 12 37 12 35.9 12 33.8 12 22.3 12 8.5 12 2.3 12 0.3 12 0.6 12 1 12 1.9 12 2.5 12 1.4 12 0.2 12-1.3 12-3.9 12-4.1 12-4.2 12-4 12-3.3 12-3.3 12-4.6 12-4.9 12-3.5 12-2.5 12-2.3 12-2.3 12-2 12-2.1 12-1.7 12-1.3 12-1.5 12-2 12-1.8 12-1.4 12-1.6 12-2.2 12-3.3 12-6.4 12-10.7 12-13.9 12-15.4 12-16.7 12-17.8 11-17.7" stroke="#008000"/>
<path d="M481.0 600.4l12-14.8 12-14.8 12-14.8 12-17.3 12-19.6 12-16.3 12-13.1 12-13.4 12-14.6 12-15 12-13 12-11.5 12-8.4 12-9.3 12-10.7 12-9.1 12-8.5 12-8.3 12-10 12-9.4 12-6.2 12-4.3 12-4.1 12-3.8 12-3.9 12-4.3 12 1.2 12 8.8 12 14.6 12 18 12 18.9 12 17.4 12 18.7 12 18.8 12 15.5 12 13.9 12 12.1 12 10 12 9.7 12 10.4 12 6.8 12 3.4 12-1 12-3.9 12-6.9 12-8.9 12-8.5 12-7.2 12-7 12-6.7 12-5.7 12-5.3 12-4.9 12-3.6 12-2.8 12-2.1 12-2.2 12-2.2 12-1.7 12-1.5 12-1.1 12-0.3 12 7.1 12 12.6 12 16.3 12 16.2 12 15.9 12 14.6 12 12.6 12 12.4 12 16.1 12 18 12 18.4 12 19.8 12 21.9 12 23.4 12 26.2 12 30.7 12 52.9 12 47.6 12 41.1 12 41 12 39.9 12 25.9 12 6.7 12 2.2 12 0.5 12 0.5 12 1.1 12 0.7 12 0.6 12 0.4 12-0.8 12-2.9 12-4.6 12-4.9 12-5.6 12-6.1 12-5.9 12-5.8 12-6 12-5.3 12-4.7 12-4.3 12-3.9 12-3.5 12-3.7 12-3.7 12-3.1 12-2.6 12-2.6 12-2.4 12-1.9 12-1.5 12-1.8 12-2.1 12-2.4 12-6.6 12-11.2 12-13.1 12-14.9 12-18.6 12-21.8 11-20.6" stroke="#008080"/>
<path d="M481.0 640.9l12-14 12-18.2 12-17.4 12-15 12-17.8 12-17.5 12-12.7 12-12.2 12-12.9 12-13.4 12-13.4 12-11.2 12-9.6 12-8.4 12-7.5 12-7.3 12-5.7 12-5.8 12-9.3 12-8.8 12-5.9 12-4.2 12-2.8 12-3 12-3 12-2.6 12 0.5 12 6.9 12 13.6 12 15.6 12 16.8 12 15.5 12 15.8 12 16.8 12 14.4 12 12.2 12 10.2 12 8.7 12 7.8 12 7.7 12 4.9 12 2.1 12-2.2 12-4.6 12-7.2 12-9.7 12-9.5 12-7.5 12-6.6 12-6.2 12-5.6 12-5.3 12-4.1 12-2.2 12-1.6 12-1.1 12-1 12-0.8 12-0.1 12 0.1 12 0.2 12 0.8 12 7.6 12 12.9 12 16.8 12 16.3 12 16.1 12 15.9 12 12.3 12 11.2 12 16.4 12 18.2 12 18.8 12 20.5 12 22.2 12 24 12 26.5 12 30.7 12 49.1 12 44.4 12 38.8 12 38.2 12 37.1 12 24.1 12 6.2 12 1.3 12 0 12-0.4 12 0.2 12 1 12 0.7 12-0.1 12-0.9 12-2.8 12-4.8 12-4.9 12-4.9 12-5 12-5.4 12-5.4 12-5.3 12-5.1 12-4.5 12-3.7 12-3.4 12-3.5 12-3.6 12-3.2 12-2.7 12-2 12-1.6 12-1.5 12-1.7 12-1.7 12-1.8 12-2.2 12-3 12-6.7 12-10.7 12-13.3 12-15.7 12-18.6 12-21 11-20.1" stroke="#f00080"/>
<path d="M481.0 699.4l12-17.1 12-18.6 12-16.4 12-17 12-18.8 12-16.6 12-14.7 12-14.6 12-11.9 12-10.9 12-12.4 12-10.6 12-7.5 12-8.6 12-8.9 12-6.2 12-6.2 12-7.2 12-8.5 12-7.3 12-5.7 12-3.6 12-1.9 12-2.4 12-4.1 12-3.9 12 1.3 12 6.2 12 11 12 14.1 12 16.6 12 14.5 12 14.2 12 15.3 12 12.5 12 10.7 12 9.1 12 7.4 12 6.6 12 6.5 12 3.7 12 0.4 12-3.1 12-5.6 12-8.7 12-10.5 12-10.3 12-8.7 12-7.4 12-6.6 12-6 12-5.4 12-4.6 12-3.1 12-2 12-1.2 12-1.1 12-1 12-0.5 12 0.3 12 1.2 12 1.5 12 7.7 12 13.2 12 17.3 12 17.2 12 17.1 12 17.1 12 13.4 12 11.9 12 16.3 12 18.9 12 20.1 12 22 12 24.6 12 26.7 12 28.6 12 31.9 12 46.4 12 43.2 12 38.5 12 37.6 12 36.1 12 23.7 12 8.2 12 2.8 12 1.3 12 0.6 12 0.6 12 1.8 12 1.9 12 0.8 12-0.3 12-1.6 12-4.3 12-5.3 12-5.7 12-5.7 12-5 12-5 12-6 12-5.6 12-5.2 12-4.8 12-3.8 12-3.6 12-3.8 12-3.4 12-3.1 12-3 12-2.5 12-1.9 12-1.6 12-1.7 12-2.2 12-2.3 12-2.8 12-6.2 12-10.2 12-13.4 12-15.2 12-17.1 12-18.6 11-18.1" stroke="#808000"/>
<path d="M481.0 801.9l12-17.2 12-20.4 12-20.5 12-20.8 12-20.5 12-19.6 12-16 12-11.9 12-11.7 12-13.3 12-11.7 12-9.2 12-8.2 12-7 12-6.1 12-5.2 12-4.6 12-6.7 12-7.4 12-4.9 12-5.3 12-4.8 12-2.3 12-1.3 12-2.8 12-3.6 12 0.5 12 4.8 12 9.2 12 12.1 12 15.2 12 12 12 11.9 12 14.7 12 13.7 12 12.5 12 9.2 12 7.4 12 6.5 12 5.4 12 3.4 12 0.2 12-2.2 12-4.2 12-8.4 12-10.1 12-9.5 12-8.7 12-8.3 12-7.1 12-5.5 12-4.8 12-4.7 12-2.7 12-1.6 12-0.8 12-0.2 12 0.1 12-0.1 12 0 12 1.4 12 2.8 12 7.6 12 11.7 12 15.9 12 16.6 12 17.5 12 19 12 12.8 12 10.1 12 16.3 12 19.1 12 21.1 12 23.6 12 26.2 12 29 12 31.2 12 32.9 12 37.3 12 36.1 12 35 12 33.4 12 30.6 12 19.4 12 8.2 12 2.2 12 0 12-0.5 12-0.2 12 1 12 1.2 12 0.2 12-0.7 12-1.4 12-4.2 12-4.9 12-5.1 12-5.4 12-4.2 12-3.6 12-5.2 12-5.5 12-4.1 12-3.2 12-2.8 12-2.4 12-2.6 12-3 12-1.9 12-1.5 12-1.9 12-1.3 12-0.9 12-1.2 12-1.5 12-1.9 12-2.9 12-5.6 12-9.6 12-13.3 12-14.4 12-14.9 12-15.1 11-15.5" stroke="#c8c830"/>
<path d="M481.0 744.7l12-17.3 12-20.5 12-18.7 12-20.2 12-21 12-16.9 12-12.8 12-14.3 12-15.8 12-13.9 12-10.1 12-10.2 12-13.2 12-10.5 12-6.8 12-7.5 12-7.3 12-8.2 12-11.3 12-9.2 12-8.4 12-7.3 12-5 12-4.5 12-5 12-3.9 12 0.8 12 5.6 12 11.4 12 13.8 12 14.9 12 13.7 12 14.4 12 16 12 14.3 12 12.9 12 10.6 12 8.9 12 8 12 7.8 12 4.8 12 1.7 12-1.4 12-3.5 12-7 12-9.2 12-9.2 12-7.6 12-6.5 12-5.9 12-5.2 12-4.4 12-3.8 12-2.1 12-1.3 12-0.8 12-0.6 12-0.4 12-0.5 12-0.4 12 0.5 12 1.4 12 7 12 11.8 12 16.4 12 16.5 12 16.3 12 16.7 12 12.3 12 10.9 12 16 12 18.4 12 19.9 12 22 12 24.4 12 26.8 12 29.1 12 32 12 44 12 41.2 12 37.5 12 36.3 12 34.2 12 22.2 12 8.2 12 2.1 12-0.5 12 0 12 0.8 12 1.2 12 1.3 12 0.6 12-0.2 12-1.6 12-4.3 12-4.9 12-5.1 12-4.8 12-4.1 12-3.9 12-4.7 12-4.8 12-4 12-3.5 12-2.4 12-2 12-2.3 12-2.1 12-1.4 12-1.2 12-1 12-0.8 12-1.3 12-1.5 12-1.5 12-1.7 12-2.5 12-5.8 12-10.7 12-14.2 12-15.3 12-16.7 12-18.3 11-18.3" stroke="#2222ee"/>
<path d="M481.0 644.1l12-12.1 12-15.5 12-16.6 12-17.3 12-18.8 12-15.4 12-10.1 12-11.4 12-14.4 12-13.2 12-12.4 12-11.2 12-7.9 12-8.1 12-9 12-8.6 12-7.7 12-9.2 12-12 12-8.8 12-6 12-6.1 12-6.1 12-5.8 12-4.3 12-3.2 12 1.3 12 6.9 12 11.7 12 15 12 17.3 12 16.1 12 16.6 12 16.9 12 14.4 12 13.4 12 11.4 12 9.4 12 8.7 12 8.6 12 5.3 12 2.3 12-2 12-4.8 12-7.5 12-10 12-9.8 12-7.9 12-7.1 12-7 12-6.3 12-5.7 12-5.1 12-3.5 12-2.7 12-2.3 12-1.9 12-1.6 12-1.2 12-1.1 12-0.8 12 0.3 12 7.4 12 13.3 12 17 12 16.3 12 16.7 12 16.4 12 13.7 12 13.1 12 17.4 12 19.1 12 19.6 12 21.5 12 24 12 26 12 28.2 12 32.3 12 50.6 12 46.1 12 39.7 12 38.7 12 37.9 12 24.8 12 7.1 12 1.8 12 0 12 0.1 12 0.5 12 0.7 12 0.6 12-0.5 12-1.3 12-2.8 12-4.6 12-5.2 12-6.4 12-6.1 12-5.4 12-6 12-6.7 12-6.2 12-4.8 12-4 12-3.6 12-3.7 12-3.9 12-3.7 12-3.1 12-2.9 12-2.5 12-2.3 12-2 12-1.8 12-2 12-2.3 12-2.8 12-6.3 12-10.7 12-12.9 12-15 12-18 12-20.5 11-20" stroke="#a0f0f0"/>
<path d="M481.0 689.6l12-17.5 12-19.1 12-15.9 12-18.5 12-21.5 12-13.6 12-10.9 12-13.8 12-10.5 12-10.7 12-13.6 12-12.8 12-9.3 12-8.6 12-9.5 12-8.4 12-7.7 12-9.1 12-9 12-6.6 12-7.2 12-6.5 12-4.7 12-5 12-4.2 12-2.7 12 1 12 5.7 12 12 12 14.9 12 16 12 14.1 12 14.6 12 16 12 13.6 12 11.6 12 10.1 12 8.2 12 6.8 12 7 12 4.5 12 1.3 12-2.6 12-5.1 12-8.2 12-10.4 12-9.8 12-8.1 12-7.5 12-7.1 12-6.1 12-5.2 12-4.6 12-2.8 12-2.2 12-1.6 12-0.9 12-0.4 12-0.5 12-0.4 12 0.3 12 0.9 12 8 12 13.3 12 17.2 12 17.2 12 16.8 12 16.6 12 13.7 12 12.6 12 17 12 19 12 20 12 21.7 12 24.4 12 26.6 12 29 12 32.6 12 47.7 12 44 12 39.4 12 38.4 12 36.6 12 24.1 12 8.1 12 2.2 12 0.6 12 0.2 12 0.7 12 1.5 12 1.5 12 0.2 12-0.7 12-2.2 12-4.3 12-4.7 12-5.6 12-5.7 12-4.8 12-4.6 12-5.5 12-5.8 12-4.4 12-4.1 12-4 12-3.1 12-3.1 12-3.4 12-2.6 12-2 12-2.3 12-2.3 12-1.6 12-1.6 12-1.9 12-2.4 12-3.1 12-6.2 12-10.6 12-13.6 12-15.2 12-17.5 12-19.4 11-19" stroke="#f08000"/>
<path d="M481.0 792.2l12-14.7 12-18.8 12-18 12-18.7 12-19 12-14.7 12-12.7 12-14.2 12-9.2 12-7.4 12-9.8 12-11.7 12-10.8 12-5.6 12-3.5 12-3.9 12-5.8 12-10.2 12-11.7 12-6.7 12-5.8 12-6.3 12-4.7 12-5.2 12-6 12-4.4 12-0.8 12 2.4 12 7.4 12 10.3 12 13.7 12 11 12 12 12 15.5 12 12.9 12 11.3 12 9.5 12 8.5 12 7.6 12 6.6 12 4.3 12 1.5 12-1.2 12-3.7 12-7.5 12-9.1 12-9.2 12-8 12-7.3 12-6.4 12-5.4 12-4.8 12-3.7 12-1.8 12-1.6 12-1 12-0.5 12-0.4 12-0.3 12-0.1 12 1.1 12 1.8 12 6.4 12 11 12 15.7 12 16.3 12 17.1 12 18.7 12 13.2 12 10.6 12 16.1 12 19.3 12 21.8 12 24.4 12 27 12 29.7 12 32.1 12 34.6 12 38.8 12 37.8 12 36.8 12 34.4 12 31.1 12 20.6 12 10 12 3.1 12 1 12 0.6 12 0.3 12 1.3 12 1.3 12-0.3 12-0.8 12-1.6 12-5.1 12-6.5 12-6.6 12-6.1 12-5.3 12-5.1 12-6.7 12-7.2 12-5.9 12-5.1 12-4.1 12-3.5 12-3.5 12-3.9 12-3.5 12-2.8 12-2.2 12-1.7 12-2 12-2.2 12-2 12-2.2 12-3.4 12-6.5 12-10.7 12-14.2 12-15.2 12-16.1 12-16.6 11-16.4" stroke="#000080"/>
<path d="M481.0 573.8l12-13.7 12-14.3 12-14.5 12-17.3 12-18.1 12-16 12-13.5 12-12.6 12-13.5 12-14 12-12.5 12-11.8 12-9.8 12-8.8 12-9.9 12-9.2 12-7.9 12-9.6 12-10.7 12-8.1 12-6.2 12-5.7 12-5.4 12-5.5 12-5.4 12-4.5 12 1.2 12 8.1 12 14.2 12 17.1 12 18 12 17.7 12 18.1 12 16.6 12 13.6 12 12 12 10.7 12 9.6 12 8.9 12 9.1 12 5.5 12 3.1 12-1.7 12-4.8 12-7.3 12-9.7 12-9 12-6.9 12-6.1 12-5.6 12-5.5 12-5.2 12-4.2 12-2.7 12-2.2 12-1.6 12-1 12-0.5 12-0.2 12-0.1 12-0.4 12-0.1 12 8.2 12 13.7 12 17.1 12 16.7 12 15.7 12 14 12 13 12 13 12 16 12 17.3 12 17.6 12 19.3 12 20.9 12 22 12 24.8 12 29.9 12 55.4 12 49.7 12 41.9 12 41.8 12 41.6 12 27.3 12 6.1 12 1.7 12 0.9 12 0.9 12 1 12 1.4 12 1.3 12 0.7 12-0.2 12-2.4 12-3.9 12-3.9 12-4.5 12-4.9 12-4.8 12-5 12-5.4 12-4.6 12-3.7 12-3.4 12-3.1 12-2.7 12-2.7 12-3.1 12-2.8 12-2.5 12-2.5 12-1.8 12-1 12-1 12-1.7 12-2.1 12-2.5 12-6.9 12-11.1 12-13 12-15.6 12-19.4 12-22.2 11-21.5" stroke="#22c022"/>
<path d="M481.0 628.7l12-14.4 12-16.2 12-15.5 12-15.4 12-17.5 12-15.7 12-13.2 12-14.3 12-13.8 12-12.9 12-11.8 12-8.9 12-7.4 12-9.5 12-9.5 12-6.5 12-7 12-9.8 12-9.8 12-7.8 12-7.1 12-5.3 12-4.4 12-4.7 12-4.1 12-2.6 12 2.6 12 7.7 12 12.7 12 15.8 12 17.7 12 17.4 12 17.9 12 16.9 12 14.1 12 12.9 12 10.8 12 8.7 12 8.1 12 8.6 12 5.3 12 2.4 12-1.8 12-4.4 12-7.5 12-9.4 12-9.1 12-7.6 12-6.9 12-6.3 12-5.5 12-5.5 12-5 12-3.1 12-2.2 12-2.2 12-2 12-1.6 12-1.8 12-1.9 12-1.4 12-0.5 12 6.9 12 12.2 12 15.9 12 15.5 12 14.8 12 13.9 12 11.6 12 11.7 12 15.7 12 17.3 12 17.9 12 20.1 12 22.2 12 23.7 12 26.3 12 31 12 52.1 12 47.1 12 40.4 12 40.1 12 39.4 12 25.5 12 7.1 12 2.6 12 1 12 0.6 12 1 12 1.5 12 1.3 12 0.5 12-0.6 12-2.5 12-4.6 12-5.2 12-5.6 12-5.9 12-5.6 12-5.7 12-6 12-5.3 12-4.5 12-4 12-3.4 12-3.4 12-3.4 12-3.4 12-2.8 12-2.5 12-2.1 12-1.5 12-1.6 12-1.5 12-1.4 12-1.6 12-2.7 12-6.9 12-10.7 12-13 12-15.4 12-18.9 12-21.1 11-20.6" stroke="#1a6fdf"/>
<path d="M481.0 566.9l12-14.3 12-14.3 12-15.4 12-18.2 12-17 12-12.1 12-12.1 12-14.4 12-15.2 12-16.2 12-14.9 12-11 12-8 12-8.7 12-8.7 12-8.1 12-8 12-9.1 12-10 12-8.1 12-6.3 12-5.9 12-4.7 12-4.1 12-5.1 12-3.9 12 2.4 12 9.2 12 15.1 12 17.7 12 19 12 18.5 12 18 12 16.8 12 13.9 12 12.5 12 11 12 9.2 12 9 12 9.4 12 4.9 12 2.4 12-2.2 12-5.9 12-8.4 12-10 12-9.5 12-8 12-7.6 12-7.3 12-6.8 12-6.6 12-5.7 12-4 12-3.1 12-2.8 12-2.6 12-1.6 12-1.5 12-1.9 12-1.7 12-0.9 12 7.9 12 13.5 12 16.7 12 16 12 15.5 12 14.8 12 13.3 12 12.9 12 16.4 12 17.9 12 17.4 12 18.6 12 20.9 12 22.3 12 24.6 12 29.7 12 57.6 12 50.4 12 42.1 12 43 12 42.9 12 27.5 12 5.8 12 2.1 12 1 12 0.5 12 1 12 1.6 12 1.6 12 0.6 12-0.7 12-2.5 12-4 12-4.3 12-4.7 12-4.9 12-4.9 12-5.1 12-5.4 12-4.8 12-4.1 12-3.8 12-3.4 12-3.2 12-3 12-2.8 12-2.6 12-2.6 12-2.3 12-1.5 12-1.3 12-1.6 12-1.7 12-1.4 12-1.9 12-6.7 12-11 12-12.8 12-15 12-19.1 12-22.9 11-21.2" stroke="#d0d0d0"/>
<path d="M481.0 855.7l12-16.8 12-18.9 12-19.4 12-21.5 12-18.6 12-16.5 12-14.4 12-10.6 12-11 12-13.2 12-11.9 12-9.7 12-7.4 12-5.6 12-5.4 12-5 12-5.9 12-9.7 12-11.5 12-6.9 12-5.4 12-6.5 12-6.4 12-4 12-3.6 12-3.7 12-1.4 12 1.3 12 8.7 12 11.2 12 12.3 12 9.3 12 11 12 15 12 13.4 12 11.9 12 9.2 12 7.7 12 6.7 12 5.6 12 3.9 12 0.7 12-1.2 12-2.8 12-7 12-9.3 12-9.7 12-8.2 12-7.1 12-6 12-4.5 12-4 12-3.8 12-1.3 12-0.6 12-0.6 12-0.2 12 0 12 0 12 0 12 1.3 12 2.5 12 6.3 12 9.9 12 14.9 12 16.1 12 17.8 12 19.1 12 11.8 12 9.4 12 15.6 12 19 12 22.2 12 24.2 12 27.2 12 30.5 12 32.8 12 34.5 12 34.1 12 33.8 12 34.4 12 32.4 12 28.6 12 18.4 12 10 12 2.9 12 0.4 12 0.1 12 0.6 12 1.9 12 1.7 12 0.3 12-0.6 12-1 12-4.3 12-5.4 12-5.2 12-5.4 12-4.4 12-3.6 12-5.4 12-6.5 12-4.7 12-3.6 12-3.3 12-2.9 12-2.7 12-2.8 12-2 12-1.6 12-1.8 12-2 12-1.8 12-1.4 12-1.9 12-2.3 12-3 12-5.7 12-10.5 12-14.3 12-14.3 12-14.5 12-14.9 11-14.8" stroke="#161616"/>
<path d="M481.0 760.3l12-15 12-18.9 12-19.6 12-19 12-17.2 12-17 12-14.8 12-12.6 12-14.2 12-12.3 12-10.1 12-11.9 12-10.9 12-6.8 12-5.6 12-7.6 12-6.9 12-9.1 12-13 12-9.9 12-7 12-5.9 12-4.4 12-3.3 12-4 12-4.7 12-1.8 12 3.9 12 11.3 12 13.9 12 14.6 12 12.1 12 14.5 12 16.8 12 13.8 12 12.8 12 10.7 12 8.5 12 7.8 12 7.1 12 4.7 12 2.1 12-0.4 12-2.9 12-7.1 12-9 12-8.2 12-7.2 12-6.7 12-5.6 12-4.4 12-3.7 12-3.5 12-1.5 12-0.7 12-0.6 12-0.7 12-0.2 12 0.6 12 0.6 12 1 12 1.9 12 6.7 12 11.4 12 16.4 12 16.8 12 17 12 17.9 12 12.4 12 10.5 12 16.1 12 18.9 12 20.7 12 22.7 12 25.5 12 27.8 12 30.4 12 33.4 12 40.7 12 38.9 12 36.5 12 34.7 12 32.4 12 21.1 12 9 12 2.9 12 0.6 12 0 12 0.6 12 1.4 12 1.1 12 0.2 12-0.8 12-1.7 12-4.3 12-5.1 12-5.4 12-5.7 12-4.8 12-4.3 12-5.7 12-6 12-4.4 12-4.1 12-4.1 12-3.2 12-3.4 12-3.7 12-2.3 12-2.1 12-2.3 12-2.1 12-1.9 12-2 12-2.1 12-2.2 12-2.8 12-6.2 12-11 12-14.2 12-14.9 12-15.9 12-16.8 11-16.8" stroke="#2222ee"/>
<path d="M481.0 650.3l12-15.1 12-15.2 12-16.9 12-19.4 12-17.3 12-15 12-14 12-13.7 12-13 12-11.6 12-11.8 12-10.2 12-6.2 12-8.3 12-9.1 12-6.2 12-6.6 12-8.9 12-11.1 12-9.1 12-5 12-3.7 12-3.7 12-3.2 12-4 12-3.2 12 2.5 12 6.8 12 11.6 12 15.2 12 17.7 12 16.1 12 16.1 12 16.7 12 14.6 12 12.9 12 10.7 12 9.2 12 8.4 12 8.1 12 5.4 12 2.2 12-1.5 12-4.2 12-7.8 12-9.8 12-9.5 12-8.3 12-7.2 12-6.6 12-6 12-5.8 12-5.1 12-3.1 12-2.6 12-2.4 12-1.7 12-1.2 12-1.5 12-1.8 12-0.9 12 0.3 12 6.9 12 11.9 12 15.7 12 16.1 12 16 12 15.4 12 12.2 12 11.3 12 15.7 12 17.6 12 18.4 12 20.4 12 22.4 12 23.9 12 26.5 12 30.5 12 49.4 12 45.2 12 39.7 12 39.2 12 37.8 12 24 12 6.8 12 2.4 12 0.7 12 0.5 12 0.9 12 0.9 12 1.1 12 1.3 12-0.1 12-2.3 12-4.2 12-4.7 12-5.1 12-5.1 12-4.6 12-4.8 12-5.3 12-4.7 12-3.9 12-3.6 12-3.5 12-3.2 12-3 12-2.9 12-2.5 12-2.6 12-2.3 12-1.9 12-2.1 12-2.2 12-1.8 12-2 12-3.2 12-7.2 12-11.4 12-13.9 12-15.4 12-17.9 12-20.6 11-19.9" stroke="#8000f0"/>
<path d="M481.0 719.6l12-16.2 12-19.6 12-17.7 12-16.7 12-18.5 12-17.4 12-15.4 12-13.2 12-11.8 12-13.9 12-13.8 12-10.4 12-7.3 12-7.7 12-8.1 12-7.1 12-7.3 12-8.6 12-8.6 12-6.2 12-6.1 12-5.5 12-3.9 12-3.7 12-4.2 12-4 12-0.1 12 5.3 12 12.1 12 14.7 12 15.7 12 14 12 15.5 12 17.1 12 14.5 12 12.9 12 10.9 12 9.6 12 8.5 12 7.9 12 5.4 12 2.4 12-1 12-3.2 12-6.9 12-9.3 12-8.9 12-7.5 12-6.9 12-6.1 12-5.3 12-4.5 12-4 12-2.7 12-2.1 12-1.4 12-1 12-0.4 12-0.9 12-1.1 12 0.2 12 1 12 6.3 12 11.1 12 15.7 12 15.9 12 15.9 12 16.5 12 12 12 10.1 12 15.4 12 18 12 19.1 12 21.6 12 24.2 12 25.8 12 28 12 31.8 12 44.3 12 41.4 12 37.7 12 36.5 12 34.4 12 22.5 12 7.9 12 2.3 12 0.4 12 0.2 12 0.6 12 1.3 12 1.2 12 0.5 12-0.2 12-2 12-4.9 12-5.1 12-5.4 12-5.7 12-5 12-4.7 12-5.6 12-5.5 12-4.6 12-3.9 12-3.4 12-3.3 12-3.3 12-3.5 12-3 12-2.6 12-1.9 12-1.6 12-1.8 12-2.1 12-2.3 12-2 12-2.8 12-6.6 12-11 12-14 12-15.4 12-17 12-18.6 11-18.3" stroke="#d0d0d0"/>
<path d="M481.0 759.7l12-14.9 12-18 12-21 12-20.2 12-17 12-15.2 12-15.1 12-13.7 12-12.6 12-14.7 12-13.9 12-9.4 12-8.3 12-8.1 12-5.4 12-5.6 12-8 12-8.9 12-9 12-7.2 12-6.7 12-5 12-3.7 12-2.7 12-2.6 12-3.3 12 0.5 12 5.9 12 11.7 12 13.2 12 15.3 12 13.3 12 13.6 12 15.8 12 14.1 12 13.2 12 11.2 12 8.9 12 7.2 12 6.4 12 4.6 12 1.3 12-1.5 12-3.6 12-8 12-9.9 12-9.5 12-8.4 12-7.3 12-6.1 12-5.2 12-4.9 12-4.3 12-2 12-1.4 12-1.2 12-0.6 12-0.3 12-0.2 12 0.2 12 1.2 12 1.7 12 6.4 12 11.2 12 15.8 12 16.4 12 17.1 12 17.7 12 12.2 12 10.5 12 16.2 12 18.9 12 20.4 12 22.6 12 25 12 27.8 12 30.5 12 33.2 12 40.7 12 38.7 12 36.6 12 35 12 32.4 12 21 12 8.5 12 2.2 12 0.1 12-0.3 12 0.1 12 1.3 12 0.9 12-0.4 12-1.1 12-1.7 12-4.7 12-5.5 12-5.6 12-5.8 12-5 12-4.5 12-5.5 12-5.5 12-4.5 12-3.8 12-3.1 12-2 12-2 12-2.1 12-1.1 12-0.8 12-0.6 12-0.3 12-0.3 12-0.1 12-0.6 12-1 12-1.8 12-4.9 12-9.3 12-13.2 12-14.3 12-15.6 12-16.6 11-16.7" stroke="#1a6fdf"/>
<path d="M481.0 620.5l12-12.2 12-15 12-18.6 12-19.9 12-16.4 12-14.4 12-14.6 12-14.9 12-12.9 12-11.4 12-10.8 12-10.7 12-11.4 12-9.4 12-7.8 12-9.1 12-9.3 12-9.6 12-8.6 12-8.2 12-8.1 12-3.9 12-3 12-4.7 12-4.1 12-4.2 12 0.4 12 8.6 12 15 12 16.4 12 18.5 12 17.9 12 17.6 12 17.7 12 14.8 12 13.5 12 12.5 12 10.5 12 9.7 12 9.8 12 6.7 12 3.7 12-0.6 12-3.5 12-6.8 12-8.7 12-8.4 12-7 12-6.3 12-6 12-5.7 12-5.1 12-4.7 12-3.5 12-3.2 12-2.6 12-1.8 12-1.9 12-1.8 12-1.4 12-1.2 12-0.7 12 6.6 12 11.9 12 15.1 12 15.3 12 15.7 12 14.8 12 12 12 11.4 12 15.6 12 17.9 12 19 12 20.3 12 22.3 12 24.2 12 26.6 12 31.2 12 51.9 12 46.9 12 40.5 12 40.3 12 39.4 12 25.7 12 7.5 12 2.5 12 0.9 12 0.9 12 1.1 12 0.8 12 0.8 12 0.8 12-0.6 12-2.6 12-4.3 12-5.1 12-5.7 12-5.9 12-5.5 12-5.6 12-6 12-5.2 12-4.5 12-4.3 12-3.8 12-3.5 12-3.8 12-3.7 12-2.9 12-2.3 12-2.4 12-2.5 12-1.7 12-1.6 12-1.7 12-1.6 12-2.9 12-7 12-10.7 12-13.1 12-15.3 12-18.2 12-21 11-20.6" stroke="#d0d0d0"/>
<path d="M481.0 696.9l12-14.4 12-19.1 12-20.3 12-20.3 12-18.3 12-12.3 12-12.9 12-16.1 12-13.8 12-13.4 12-14.7 12-13.5 12-9.6 12-7.3 12-9.1 12-11 12-8.3 12-7.1 12-10.7 12-9.9 12-6.4 12-4.2 12-4.7 12-5 12-3.2 12-2.5 12 1.2 12 8.1 12 13.4 12 14.3 12 16 12 15.5 12 16.1 12 17.1 12 15.2 12 13.3 12 10.7 12 9.2 12 8.1 12 7.5 12 4.9 12 2.2 12-1.7 12-4.4 12-7.9 12-10.3 12-9.7 12-7.6 12-6.9 12-6.7 12-6 12-5.1 12-4.2 12-2.7 12-2.6 12-1.6 12-0.9 12-1 12-0.5 12-0.3 12-0.3 12 0.3 12 7.1 12 12.3 12 16.2 12 15.9 12 16.3 12 16.5 12 12.2 12 11 12 16.2 12 18.1 12 19 12 21 12 23 12 25 12 27.4 12 31.1 12 46.8 12 42.8 12 37.8 12 37.6 12 36.4 12 23.2 12 6.6 12 1.4 12 0.1 12 0.2 12 0.6 12 0.9 12 0.7 12 0.5 12-0.5 12-2.3 12-4.4 12-4.7 12-5.1 12-5.6 12-4.7 12-4.2 12-5.3 12-5.3 12-3.9 12-3.3 12-3.1 12-2.8 12-2.4 12-2.3 12-1.7 12-1.6 12-1.6 12-1.2 12-1.1 12-1.2 12-1.2 12-1.5 12-2.8 12-6.5 12-10.2 12-13.1 12-14.9 12-16.9 12-19.2 11-19.5" stroke="#008080"/>
<path d="M481.0 558.2l12-13.2 12-14.1 12-15.3 12-18.2 12-17.2 12-11.6 12-12.2 12-14.5 12-12.7 12-13.4 12-13.5 12-12.2 12-9.6 12-8.9 12-10.1 12-9.2 12-8.8 12-9.1 12-9.3 12-8.3 12-6.7 12-6.5 12-4.9 12-4.4 12-4.6 12-3.9 12 2.3 12 9.5 12 14.3 12 16.7 12 18.2 12 18.4 12 18.4 12 17.1 12 13.4 12 11.5 12 10.4 12 8.9 12 8.6 12 9.1 12 4.9 12 2.2 12-2.9 12-5.2 12-7.5 12-9.8 12-9.5 12-7.9 12-6.7 12-6.2 12-6.3 12-5.5 12-4.5 12-3.3 12-2.6 12-1.7 12-1.2 12-1.1 12-0.7 12-0.4 12-0.4 12 0.4 12 8.5 12 13.8 12 17 12 16.6 12 16.3 12 14.8 12 13.2 12 13 12 16.4 12 18 12 18.1 12 19.6 12 21.3 12 22.7 12 25.4 12 30.6 12 57.2 12 50.4 12 42.4 12 42.9 12 42.7 12 27.8 12 6.8 12 2.4 12 0.9 12 0.7 12 1.3 12 1.5 12 1.3 12 1 12-0.5 12-2.9 12-4.2 12-4.6 12-5.2 12-5.8 12-5.7 12-5.9 12-6.3 12-5.6 12-4.6 12-4.2 12-4.1 12-4.1 12-3.8 12-3.6 12-3.9 12-3.3 12-2.3 12-2.3 12-2 12-1.6 12-2 12-1.9 12-2.4 12-7.1 12-11.1 12-12.9 12-15.6 12-19.4 12-22.8 11-21.8" stroke="#f00080"/>
<path d="M481.0 818.6l12-18.3 12-20.4 12-19.8 12-19 12-17.1 12-14.1 12-13.2 12-12.9 12-12.3 12-12.9 12-11.7 12-10.5 12-9 12-6.9 12-7.2 12-6 12-4.8 12-8 12-12.1 12-8.9 12-5.8 12-5.7 12-5.4 12-4.4 12-4.4 12-5.2 12-2.3 12 1.9 12 8.5 12 11.5 12 13.5 12 10.6 12 11.9 12 14.5 12 12.6 12 12 12 9.9 12 7.9 12 7.1 12 6.2 12 4.2 12 0.9 12-1.4 12-3.4 12-6.9 12-8.6 12-8.5 12-7.4 12-7.1 12-6.5 12-4.8 12-4.2 12-3.5 12-1.1 12-0.7 12-0.2 12 0.1 12 0.4 12 0.8 12 1.2 12 2.2 12 2.7 12 7.4 12 12.1 12 16.4 12 16.5 12 17.7 12 19.6 12 12.9 12 10.4 12 16.3 12 19 12 21.1 12 23.6 12 26.4 12 29.4 12 31.4 12 32.9 12 35.5 12 34.7 12 34.1 12 32.4 12 29.2 12 18.6 12 8 12 1.4 12-0.6 12-0.8 12-0.7 12 0.3 12 0.3 12-0.7 12-1.2 12-1.7 12-4.9 12-5.5 12-5.5 12-5.6 12-4.7 12-3.7 12-4.9 12-4.9 12-3.6 12-3.1 12-2.5 12-1.9 12-1.9 12-2.4 12-1.9 12-1 12-0.8 12-1.3 12-1.6 12-1.5 12-1.6 12-2.2 12-3.1 12-6 12-10.4 12-14.2 12-15.3 12-16 12-16.3 11-16.7" stroke="#22c022"/>
<path d="M481.0 647.6l12-13.7 12-17.2 12-18.7 12-17.9 12-17.9 12-14.7 12-13 12-13 12-11.4 12-13.8 12-15 12-10.4 12-7.1 12-7.4 12-7.4 12-8 12-9.4 12-9.8 12-10.1 12-9 12-7.6 12-6 12-4.8 12-4.9 12-5.3 12-3.5 12 2.4 12 6.7 12 10.8 12 14.6 12 17.3 12 16.1 12 16.2 12 16.4 12 13.9 12 12.4 12 10.8 12 9.3 12 8.6 12 8.7 12 5.5 12 2.7 12-1 12-3.4 12-6.9 12-9.4 12-8.4 12-6.8 12-6.2 12-5.6 12-4.8 12-4.6 12-4 12-2.8 12-2 12-1.2 12-0.7 12-0.4 12-0.9 12-0.6 12 0.4 12 0.8 12 7.4 12 12.9 12 16.5 12 16.2 12 16.3 12 16.3 12 13.6 12 12.5 12 16.4 12 17.9 12 18.9 12 21.7 12 23.9 12 25 12 27.3 12 31.5 12 49.2 12 44.7 12 38.9 12 38.5 12 37.3 12 23.8 12 6.4 12 0.9 12-0.5 12-0.5 12 0 12 0.2 12-0.3 12-0.7 12-1.7 12-3.8 12-5.3 12-5.5 12-6.2 12-5.9 12-5.4 12-5.6 12-5.7 12-5.3 12-4.5 12-3.2 12-2.6 12-2.6 12-2.6 12-2.3 12-2 12-1.8 12-1.4 12-1 12-0.7 12-0.7 12-0.9 12-1.3 12-1.8 12-5.3 12-10.1 12-13.3 12-14.6 12-17.2 12-19.9 11-19.4" stroke="#8000f0"/>
<path d="M481.0 727.6l12-10.5 12-16.7 12-18.6 12-19.2 12-19.7 12-14.8 12-10.2 12-11.2 12-13.7 12-14.4 12-12.6 12-9.6 12-7.2 12-6.6 12-7.9 12-10 12-7.6 12-6.5 12-11.2 12-9.1 12-6.1 12-7 12-6.5 12-5.4 12-5.1 12-4.6 12-1.3 12 3.6 12 10.9 12 13.8 12 14.1 12 12.3 12 13.5 12 15.4 12 13.3 12 11.6 12 9.8 12 8.4 12 7.6 12 7.4 12 4.7 12 1.8 12-1.1 12-3.6 12-7.7 12-9.5 12-8.7 12-7.1 12-6.5 12-5.7 12-4.8 12-4.1 12-3.4 12-1.8 12-1.2 12-0.6 12 0 12 0.3 12 0.5 12 0.8 12 1.4 12 2.2 12 7.5 12 12.1 12 16.8 12 17.1 12 17.4 12 18.2 12 13.3 12 11.1 12 16.3 12 18.8 12 20.4 12 22.5 12 24.6 12 27.1 12 29.9 12 32.4 12 42.4 12 39.7 12 36.8 12 35.9 12 33.6 12 21.8 12 8.1 12 1.8 12 0 12-0.3 12-0.2 12 0.6 12 1 12-0.2 12-1.5 12-2.4 12-4.6 12-5.2 12-5.2 12-5.7 12-5.2 12-4.7 12-5.8 12-6 12-4.6 12-3.5 12-3.3 12-2.7 12-2.6 12-2.7 12-1.8 12-1.8 12-1.6 12-1.1 12-0.7 12-0.7 12-1.5 12-1.7 12-2.2 12-5.8 12-10.2 12-13 12-14.2 12-16 12-17.8 11-17.8" stroke="#2222ee"/>
<path d="M481.0 694.9l12-13.2 12-17 12-17.7 12-18.6 12-18.1 12-15.4 12-12.7 12-13.5 12-13.2 12-9.9 12-9.5 12-10.5 12-7 12-6.8 12-9.2 12-8.9 12-8.4 12-8.2 12-10.8 12-9.4 12-6.7 12-7.4 12-5.7 12-3.5 12-4.3 12-5.3 12-0.9 12 4.8 12 10.1 12 13 12 15.7 12 14.2 12 14.1 12 15.3 12 13.4 12 11.4 12 9.6 12 8.3 12 8 12 7.7 12 4.4 12 1.7 12-1.8 12-4.6 12-7.4 12-9 12-8.9 12-7.2 12-6.5 12-5.8 12-4.9 12-4.5 12-3.3 12-1.5 12-1.2 12-0.3 12 0.2 12 0.1 12 0.3 12 0.7 12 1.1 12 1.7 12 8.3 12 13 12 16.6 12 16.9 12 17 12 16.9 12 13 12 12 12 16.2 12 17.9 12 19.5 12 21.7 12 23.7 12 25.5 12 27.9 12 31.4 12 45.7 12 42 12 37.1 12 36.6 12 35.6 12 23.1 12 7.1 12 1.6 12-0.1 12-0.6 12 0.2 12 1.1 12 0.9 12 0.3 12-0.7 12-2 12-4 12-4.5 12-5.3 12-5.5 12-4.7 12-4.6 12-5.6 12-5.1 12-3.6 12-3.4 12-3.6 12-3 12-3 12-2.9 12-2.3 12-2.3 12-2.3 12-2 12-1.7 12-1.8 12-2.4 12-2.4 12-3 12-6.6 12-11 12-14.1 12-15.8 12-18.1 12-20.2 11-19.6" stroke="#1a6fdf"/>
<path d="M481.0 550.4l12-12.3 12-12.3 12-14.4 12-17.1 12-18.5 12-14.4 12-11.2 12-12.5 12-14.9 12-14.3 12-11.4 12-10.9 12-9.7 12-9.2 12-10.2 12-11.2 12-10.3 12-9.9 12-9.2 12-8 12-8.5 12-6.5 12-4.1 12-4.8 12-4.9 12-3.6 12 2.2 12 9.1 12 14.7 12 18.4 12 19.4 12 19 12 19.2 12 17.2 12 14.8 12 13.2 12 11.7 12 10.6 12 10.3 12 10.3 12 5.6 12 3.4 12-1.4 12-4.7 12-7 12-9.2 12-9 12-7.4 12-6.7 12-6.3 12-6 12-5.8 12-5.1 12-3.8 12-3.1 12-2.8 12-2.4 12-2 12-1.5 12-1.4 12-1.7 12-1.4 12 7.6 12 13.5 12 16.6 12 16 12 15.2 12 14 12 12.9 12 12.9 12 16.5 12 17.6 12 17.3 12 19.1 12 20.9 12 22.2 12 24.9 12 30.2 12 57.4 12 50.8 12 42 12 42.6 12 42.7 12 28 12 6.5 12 2.2 12 0.8 12 0.7 12 0.8 12 1.1 12 1.4 12 1 12-0.6 12-3.1 12-4.3 12-4.6 12-5.5 12-5.7 12-5.7 12-6.2 12-6.1 12-5.6 12-5 12-4.5 12-4.3 12-4.4 12-4.2 12-4.1 12-3.9 12-3.4 12-2.8 12-2.8 12-2.7 12-2.1 12-2.2 12-2.4 12-2.8 12-7.5 12-12.1 12-13.9 12-15.8 12-19.7 12-23.8 11-22.7" stroke="#22c022"/>
<path d="M481.0 555.8l12-13.2 12-14.1 12-13.2 12-15.8 12-18.7 12-16.8 12-15.3 12-13.7 12-11.9 12-14.5 12-13.4 12-9.1 12-8.2 12-8.8 12-8.5 12-9 12-9.1 12-7.6 12-7.3 12-7.3 12-5.8 12-4.6 12-3.9 12-3.4 12-3.3 12-2.4 12 3.2 12 8.9 12 14.9 12 17.5 12 18.9 12 19 12 17.6 12 16.3 12 14.1 12 12.2 12 10.9 12 9.7 12 8.6 12 9.1 12 5.4 12 2.4 12-2.5 12-5.5 12-8.1 12-10 12-9.5 12-7.8 12-7.3 12-6.7 12-5.9 12-5.3 12-4.9 12-3.9 12-2.7 12-1.9 12-1.5 12-1.1 12-1.3 12-1.1 12-0.6 12 0 12 8.3 12 13.8 12 17.2 12 16.8 12 15.9 12 15 12 13.7 12 13.5 12 16.7 12 18.1 12 18.4 12 20 12 21.6 12 22.7 12 25.4 12 30.3 12 55.8 12 49.6 12 41.2 12 41.4 12 41.8 12 27.4 12 6 12 1.6 12 0.9 12 1 12 1.3 12 1.2 12 0.9 12 0.8 12 0 12-2.2 12-3.6 12-4.1 12-4.9 12-4.8 12-4.7 12-5.3 12-5.3 12-4.6 12-3.8 12-3.9 12-3.7 12-3.2 12-2.9 12-3.2 12-3.1 12-2.5 12-2.4 12-2.2 12-2.3 12-2.2 12-2.3 12-2.3 12-3.3 12-8 12-11.9 12-13.8 12-16.5 12-20.2 12-23.3 11-22.6" stroke="#808080"/>
<path d="M481.0 602.2l12-14 12-11.7 12-11.9 12-16.3 12-16.7 12-14 12-13.9 12-13.7 12-11.9 12-11.9 12-12.3 12-11.3 12-8.7 12-7.3 12-9.5 12-11.2 12-8.2 12-9 12-12.5 12-10.1 12-7.4 12-6.8 12-5.5 12-5.7 12-7.2 12-4.8 12 2.1 12 7.3 12 12.5 12 15.9 12 17.4 12 16.6 12 16.7 12 16.7 12 14.4 12 12.8 12 11 12 8.9 12 8.8 12 9.7 12 6 12 3 12-1.6 12-4.5 12-7 12-9.2 12-8.8 12-7.5 12-7 12-6 12-5.4 12-5.4 12-4.6 12-3 12-2.5 12-2.2 12-1.5 12-1.2 12-1.3 12-1.2 12-0.7 12 0.2 12 7.2 12 12.5 12 16.8 12 16.5 12 15.8 12 15.3 12 13 12 12.6 12 17 12 18.9 12 18.9 12 20.5 12 22.8 12 24.1 12 26.5 12 31.3 12 54.1 12 48.3 12 40.9 12 41 12 40.6 12 26.1 12 6.8 12 2.4 12 0.9 12 0.3 12 0.6 12 1 12 1 12 0.1 12-1.1 12-3.1 12-4.7 12-5.1 12-5.7 12-5.6 12-5.6 12-5.9 12-5.9 12-5.8 12-5.1 12-4.3 12-3.6 12-3.1 12-3.2 12-3.5 12-2.9 12-2.3 12-2.2 12-1.7 12-1.5 12-1.5 12-1.9 12-1.7 12-2.2 12-6.3 12-10.7 12-13.1 12-15.4 12-18.7 12-21.2 11-20.5" stroke="#e022e0"/>
<path d="M481.0 731.7l12-14.6 12-17.1 12-18.6 12-19.3 12-17.2 12-16.3 12-15.1 12-12.1 12-11.6 12-12 12-10.9 12-9.9 12-8.5 12-9.2 12-8.6 12-5.3 12-5 12-8.3 12-10.4 12-8 12-6.6 12-5.2 12-2.9 12-4.2 12-5 12-3.4 12-0.6 12 4.5 12 11.5 12 14 12 15.9 12 14 12 14.2 12 15.5 12 13.8 12 13 12 10.5 12 8.4 12 7.5 12 6.9 12 4.7 12 1.7 12-1.7 12-4 12-7.3 12-9.2 12-8.7 12-8.3 12-7.9 12-6.8 12-5.7 12-4.7 12-3.9 12-2.6 12-2 12-1.1 12-0.6 12-0.4 12-0.4 12-0.1 12 0.9 12 1.5 12 7.3 12 11.9 12 15.8 12 16.3 12 17 12 17.3 12 12.2 12 10.4 12 15.7 12 18 12 19.5 12 21.9 12 24.3 12 26.8 12 29.1 12 32 12 42.8 12 39.8 12 36.7 12 36 12 34 12 21.6 12 7.7 12 2.2 12 0 12-0.4 12 0.5 12 1.3 12 0.9 12 0.1 12-0.8 12-2.4 12-4.8 12-5.1 12-5.4 12-5.6 12-5 12-4.8 12-6 12-6.3 12-4.7 12-4 12-3.7 12-3.6 12-3.4 12-3.3 12-2.7 12-2 12-1.9 12-1.9 12-1.5 12-1.3 12-1.4 12-1.4 12-2.3 12-5.8 12-10 12-12.8 12-14.3 12-16.1 12-17.8 11-17.2" stroke="#f08000"/>
<path d="M481.0 546.8l12-15.5 12-14.6 12-13.4 12-13.7 12-14.4 12-13.6 12-14.5 12-13.1 12-10.7 12-13 12-14.4 12-12.2 12-8.4 12-7.6 12-9.4 12-9.5 12-7.6 12-7.9 12-10.3 12-9.7 12-6.4 12-6 12-5.6 12-4 12-4.4 12-4.9 12 1.8 12 8.8 12 13.3 12 17 12 19 12 18.4 12 17.8 12 16.8 12 14.7 12 12.9 12 10.6 12 9.1 12 9 12 9.9 12 5.7 12 2.8 12-1.9 12-5 12-7.3 12-9.5 12-9.3 12-7 12-6.2 12-6.2 12-5.8 12-5.2 12-4.7 12-3.6 12-2.8 12-2.3 12-1.7 12-1.2 12-1.5 12-1.6 12-1.4 12-0.9 12 7.7 12 13.1 12 16.1 12 15.3 12 14.6 12 13.4 12 12.5 12 12 12 15.3 12 16.6 12 16.1 12 18.1 12 19.8 12 20.7 12 23.3 12 28.6 12 57.5 12 51.1 12 42.4 12 43 12 43.1 12 27.9 12 5.8 12 1.8 12 1 12 1.4 12 1.5 12 1.5 12 1.6 12 0.8 12-0.1 12-2.5 12-3.7 12-3.9 12-4.8 12-5.3 12-4.8 12-5 12-5.4 12-4.5 12-3.4 12-3.1 12-3.1 12-2.9 12-3.1 12-3.3 12-2.6 12-2.5 12-2.5 12-1.8 12-1 12-1.5 12-2 12-1.6 12-1.9 12-6.9 12-11 12-12.7 12-15.2 12-19.6 12-23 11-22" stroke="#e022e0"/>
<path d="M481.0 849.4l12-16.2 12-21.4 12-21.2 12-18.5 12-16.4 12-16.9 12-15.7 12-11.6 12-10.5 12-12 12-11.4 12-8.7 12-6.1 12-5.3 12-5.6 12-7.7 12-7.1 12-6.6 12-11 12-9.1 12-6.7 12-5 12-3.9 12-5.4 12-5.6 12-5.3 12-3.3 12 0.1 12 7.8 12 11.8 12 13.1 12 9.2 12 10.1 12 14.3 12 13.6 12 12.3 12 9.8 12 7.8 12 6.5 12 5.5 12 4 12 1.2 12-0.9 12-3.1 12-7.4 12-8.8 12-8.2 12-7.4 12-7.1 12-5.8 12-4.4 12-3.9 12-3 12-0.9 12-0.3 12 0.2 12-0.1 12 0 12 0.3 12 0.2 12 1.7 12 2.5 12 6.2 12 10.9 12 15.7 12 15.8 12 17 12 19.6 12 12.4 12 9.3 12 16.2 12 19.5 12 21.8 12 24.2 12 27.3 12 30.4 12 32.2 12 33.7 12 34.8 12 34.8 12 34.5 12 32 12 28.2 12 18.4 12 9.9 12 3.1 12 0.3 12-0.2 12 0.4 12 1.5 12 1.6 12 0.7 12-0.4 12-1.1 12-4.7 12-5.8 12-5.4 12-5.3 12-4.6 12-3.9 12-5.8 12-6.6 12-5 12-4.1 12-3.5 12-3.2 12-3.3 12-3.4 12-2.3 12-1.9 12-2 12-2.1 12-1.8 12-1.5 12-1.9 12-2.3 12-2.9 12-5.7 12-10.6 12-14 12-13.9 12-14.4 12-14.8 11-14.7" stroke="#008080"/>
<path d="M481.0 825.4l12-18.3 12-21 12-18.1 12-20.5 12-20 12-15.4 12-15.9 12-14.7 12-10 12-9.9 12-10.4 12-9.9 12-9.1 12-8.2 12-7.7 12-7.9 12-6.4 12-7.5 12-9.8 12-5.4 12-5.1 12-5.9 12-5.1 12-5 12-4.4 12-3.6 12-1.7 12 2.7 12 10.4 12 12.6 12 13.8 12 9.9 12 10.9 12 15.1 12 13.6 12 11.8 12 9.5 12 8 12 6.8 12 5.7 12 3.6 12 0.5 12-1.8 12-3.6 12-7.9 12-10.2 12-10.1 12-8.5 12-7.8 12-7.3 12-5.8 12-4.6 12-4.2 12-2.1 12-1.5 12-1.4 12-0.8 12-0.5 12-0.2 12 0.1 12 1.4 12 2 12 6.3 12 10.9 12 15.4 12 16.6 12 18.1 12 19.2 12 12.5 12 10.1 12 16 12 19 12 21.5 12 24.1 12 26.9 12 29.2 12 31.5 12 34.2 12 38.2 12 36.9 12 35.5 12 33.7 12 30.9 12 20.1 12 9.5 12 2.4 12 0.2 12 0.1 12 0.6 12 1.5 12 1.3 12 0.1 12-0.6 12-1 12-4.1 12-5.1 12-4.9 12-5.1 12-4.3 12-3.4 12-4.9 12-5.7 12-4 12-3.1 12-2.5 12-2.5 12-2.7 12-2.4 12-0.9 12-0.5 12-1.2 12-1.2 12-1 12-0.7 12-0.8 12-1.6 12-2.8 12-5 12-9.8 12-13.7 12-13.7 12-14.4 12-14.7 11-14.7" stroke="#8000f0"/>
<path d="M481.0 694.3l12-17.7 12-19.4 12-18.7 12-17.7 12-16.5 12-15.5 12-16.3 12-15.9 12-13.7 12-12.7 12-11.5 12-11 12-8.9 12-7.5 12-8.8 12-8.5 12-6.7 12-8.5 12-11.5 12-8.5 12-5.2 12-5.5 12-5.5 12-4 12-4 12-3.3 12 1 12 5.5 12 12.1 12 16 12 17.3 12 15.3 12 15.9 12 16.9 12 14.6 12 13 12 10.8 12 9 12 8.4 12 8.1 12 4.9 12 2.4 12-1.3 12-4.2 12-7.5 12-9.6 12-9 12-7.5 12-6.9 12-6.4 12-5.8 12-5.1 12-4.3 12-2.5 12-2.2 12-1.9 12-1.6 12-1.2 12-0.8 12-0.8 12-0.6 12-0.1 12 6.2 12 11.3 12 15.5 12 15.6 12 15.5 12 15.3 12 12 12 11 12 15.6 12 17.5 12 18.5 12 20.7 12 23 12 24.4 12 26.7 12 30.9 12 48.1 12 44.2 12 39.1 12 38 12 36.7 12 24.3 12 7.5 12 2.1 12 1 12 0.9 12 1 12 1.5 12 1.3 12 0.4 12-0.6 12-2.1 12-4.3 12-5 12-5.4 12-5.7 12-5.2 12-5.2 12-6.2 12-5.7 12-4.4 12-3.9 12-3.7 12-3.5 12-3.4 12-2.9 12-1.8 12-1.7 12-1.5 12-1 12-1.1 12-1 12-1 12-1 12-1.9 12-5.5 12-9.4 12-12.5 12-14.1 12-16.1 12-18 11-18" stroke="#404040"/>
<path d="M481.0 570.4l12-11.4 12-14.6 12-14.7 12-15.5 12-17.9 12-14.4 12-10.2 12-11.5 12-14.7 12-14.9 12-10.1 12-8.4 12-8.4 12-6.7 12-8.7 12-10.1 12-6.8 12-5.9 12-7.8 12-7.7 12-6.5 12-5.1 12-4 12-5.2 12-6.2 12-4.7 12 1.6 12 8.9 12 13.9 12 15.7 12 17.8 12 17.8 12 17.5 12 16.1 12 13.5 12 12.7 12 11.3 12 9.4 12 8.7 12 9 12 5.9 12 3.4 12-1.2 12-4.2 12-7.1 12-9.5 12-8.7 12-6.4 12-5.9 12-6 12-5.5 12-5.1 12-4.6 12-3.1 12-2.3 12-2.1 12-2.1 12-1.8 12-1.5 12-1.5 12-1.4 12-1 12 6.4 12 11.9 12 15.7 12 15.1 12 14.2 12 12.8 12 11.4 12 11.6 12 15.3 12 16.2 12 16.3 12 18.5 12 20.3 12 21.6 12 24.7 12 29.5 12 55.4 12 49.4 12 41.7 12 42.6 12 42.4 12 27.6 12 6.8 12 2.6 12 1.9 12 2.2 12 1.9 12 2.3 12 2.3 12 1.6 12 0.4 12-1.6 12-3 12-3.6 12-4.4 12-4.2 12-4.2 12-4.9 12-5.4 12-4.7 12-3.5 12-3.2 12-3.3 12-3.5 12-3.4 12-3.1 12-2.9 12-2.6 12-2.6 12-2.5 12-2.4 12-2.4 12-2.2 12-2.4 12-3.8 12-8.1 12-11.9 12-14 12-16.2 12-20.4 12-23.6 11-22.4" stroke="#8000f0"/>
<path d="M481.0 701.3l12-12.1 12-13.7 12-16.6 12-19.3 12-18.5 12-15.1 12-14.4 12-14.4 12-12.5 12-11.6 12-9.8 12-9.9 12-11 12-10.9 12-10.6 12-10.3 12-7.3 12-8.8 12-13.4 12-9.4 12-5.7 12-7.1 12-6.8 12-4.7 12-4.3 12-3.6 12 0.4 12 5.2 12 11.9 12 14.6 12 16.2 12 15.3 12 15.1 12 16 12 14.2 12 13.1 12 10.8 12 8.9 12 8.1 12 7.9 12 5.1 12 2.1 12-1.6 12-3.9 12-7.1 12-9 12-8.8 12-7.5 12-6.4 12-5.8 12-5.2 12-4.7 12-3.9 12-2.1 12-1.5 12-1.2 12-0.7 12-0.2 12-0.5 12-0.8 12 0.1 12 1.1 12 7.4 12 12.1 12 15.6 12 15.9 12 16.5 12 16.2 12 11.9 12 11 12 15.7 12 17.8 12 18.9 12 21.1 12 23.2 12 24.7 12 27.2 12 31 12 45.8 12 42.3 12 37.9 12 36.9 12 35.4 12 23.2 12 7.2 12 1.6 12 0.4 12 0.7 12 1.3 12 1.4 12 0.8 12 0.4 12-0.2 12-1.7 12-4.2 12-4.8 12-5.3 12-5.2 12-4.4 12-4.3 12-4.9 12-5.2 12-4.4 12-3.6 12-2.8 12-2.7 12-2.9 12-3.2 12-2.3 12-1.5 12-1.7 12-2.1 12-2 12-1.5 12-1.5 12-2.1 12-3.2 12-6.5 12-10.9 12-13.7 12-15.6 12-17.9 12-19.8 11-19.5" stroke="#22c022"/>
<path d="M481.0 696.9l12-12.6 12-16.6 12-19.1 12-21.3 12-19.1 12-13.3 12-13.8 12-13.8 12-12 12-13.3 12-13.2 12-12.6 12-8 12-5.5 12-9.1 12-9.6 12-6.5 12-7.3 12-11.4 12-7.5 12-2.4 12-3.2 12-4 12-3.6 12-3.9 12-4.2 12 0.1 12 5.8 12 12.1 12 15 12 16.5 12 14.6 12 14.8 12 15.5 12 13.1 12 12.1 12 10.4 12 8.6 12 7.3 12 6.7 12 4.2 12 1.3 12-2.5 12-4.8 12-7.6 12-9.8 12-9.8 12-8.2 12-7.2 12-6.4 12-5.2 12-4.6 12-3.8 12-1.5 12-1.2 12-1.1 12-0.1 12 0.6 12 0.6 12 1.1 12 1.6 12 2.4 12 8.4 12 13.1 12 16.9 12 16.8 12 17.5 12 17.7 12 12.6 12 11.3 12 16.5 12 18.1 12 18.9 12 21.4 12 23.5 12 25.2 12 27.5 12 30.8 12 44.2 12 41.3 12 37.3 12 36.1 12 34.5 12 22.5 12 7.4 12 2.2 12 0.3 12 0.1 12 0.8 12 1.3 12 1.5 12 1 12 0.1 12-1 12-3.5 12-4.2 12-4.5 12-4.7 12-4.4 12-3.9 12-4.9 12-5.1 12-3.8 12-3.3 12-2.9 12-2.2 12-2.3 12-2.9 12-2.5 12-2.2 12-1.7 12-1.5 12-1.7 12-1.7 12-1.5 12-1.8 12-3 12-6.3 12-10.5 12-13.8 12-14.8 12-16.7 12-18.4 11-18" stroke="#000080"/>
<path d="M481.0 667.3l12-11.9 12-17.6 12-19 12-18.2 12-17.1 12-14.6 12-14.2 12-14.9 12-12.6 12-10.5 12-10.1 12-10 12-7.5 12-5.7 12-6.7 12-7 12-6.3 12-6.5 12-9.3 12-8.6 12-6 12-5.6 12-5.3 12-3.6 12-3.7 12-4.3 12-0.3 12 5 12 11.7 12 15 12 15.6 12 14 12 14.8 12 16.4 12 13.7 12 11.4 12 9.8 12 8.6 12 8.2 12 8 12 5.2 12 2.3 12-1.5 12-4 12-7.3 12-9.5 12-8.8 12-7.5 12-7.1 12-6.3 12-5.8 12-5.5 12-4.5 12-3 12-2.5 12-2 12-1.6 12-1.7 12-1.6 12-0.9 12 0.2 12 0.8 12 7.3 12 12.4 12 16.7 12 17 12 17 12 16.7 12 13.1 12 12.7 12 17.8 12 19.7 12 20.6 12 22.8 12 25 12 26.8 12 29.4 12 33.2 12 48.2 12 44.2 12 38.9 12 38.2 12 36.6 12 24 12 8.2 12 2.2 12-0.1 12-0.1 12 0.6 12 1 12 0.4 12-0.2 12-1.1 12-2.5 12-4.9 12-5.6 12-5.9 12-5.7 12-5.4 12-5.4 12-6 12-5.9 12-4.5 12-3.6 12-3.2 12-3 12-2.7 12-2.8 12-1.8 12-1.4 12-1.7 12-1.5 12-1.6 12-2 12-1.8 12-2.1 12-3.3 12-7.3 12-11.2 12-14.1 12-16.1 12-18.6 12-20.7 11-20.2" stroke="#404040"/>
<path d="M481.0 786.4l12-14.2 12-21.1 12-22.4 12-19.6 12-18.2 12-14.4 12-11.4 12-14.9 12-15.2 12-11.5 12-9.7 12-10.9 12-10.2 12-6.4 12-6.3 12-8.2 12-6.7 12-7.5 12-10.6 12-7 12-5.9 12-7.5 12-5.4 12-3.9 12-4.5 12-4.8 12-2.4 12 2.2 12 9.1 12 12.1 12 14.4 12 11.5 12 11.8 12 14.9 12 13.1 12 11.7 12 9.6 12 8.2 12 6.8 12 6 12 4 12 1.4 12-1.4 12-3.7 12-7.2 12-8.9 12-8.8 12-7.2 12-6.6 12-5.8 12-4.2 12-3.7 12-3.5 12-1.3 12-0.4 12 0.3 12 0.8 12 0.6 12 0.3 12 0.5 12 1.7 12 2.3 12 7.3 12 12 12 16.1 12 16.3 12 17.1 12 18.4 12 12.5 12 9.9 12 15.9 12 18.9 12 20.5 12 23 12 26.1 12 28.7 12 30.5 12 32.9 12 39.7 12 37.9 12 36.1 12 34.7 12 31.9 12 21 12 9.6 12 3.1 12 0.8 12 0.7 12 1.2 12 1.8 12 1.6 12 0.8 12 0.3 12-0.7 12-4.2 12-5 12-4.8 12-5.1 12-4.5 12-4.2 12-5.7 12-6 12-4.5 12-3.7 12-3.6 12-3.7 12-4 12-3.5 12-2.4 12-2.4 12-2.5 12-2.5 12-2 12-2.1 12-2.5 12-2.2 12-3.2 12-6.5 12-10.9 12-14.2 12-14.9 12-15.5 12-16.3 11-16.9" stroke="#000080"/>
<path d="M481.0 621.5l12-10.9 12-12.5 12-13.9 12-16.7 12-18 12-14.2 12-13.3 12-15.6 12-12.3 12-10.2 12-11.2 12-9.7 12-7.6 12-8.3 12-9.9 12-8.7 12-7.2 12-9.3 12-10.7 12-8.8 12-8.8 12-7.7 12-4.5 12-3.4 12-5.5 12-6.8 12-1 12 5.8 12 11.4 12 15.3 12 17.4 12 16.4 12 16.2 12 16 12 13.6 12 12.1 12 10.5 12 9.4 12 9 12 8.9 12 5.8 12 3.4 12-1.1 12-3.9 12-7 12-8.8 12-7.6 12-5.8 12-5.8 12-5.6 12-5.2 12-4.4 12-3.2 12-1.8 12-1.1 12-1 12-1 12-0.9 12-0.8 12-0.5 12-0.1 12 0.3 12 7.2 12 12.3 12 16.4 12 16.1 12 15.3 12 15 12 12.5 12 11.5 12 15.6 12 17.4 12 17.9 12 19.8 12 21.7 12 23.5 12 26.2 12 30 12 50.4 12 45.8 12 39.7 12 39.7 12 38.7 12 25 12 6.7 12 1.6 12 0.3 12 0.4 12 0.9 12 1.2 12 1.1 12 0.5 12-0.4 12-2.1 12-4 12-4.2 12-4.8 12-5 12-5 12-5.3 12-5.3 12-4.7 12-3.7 12-3.3 12-3.2 12-2.6 12-2.8 12-2.8 12-1.8 12-1.5 12-1.7 12-1.4 12-0.8 12-0.6 12-1 12-1 12-1.8 12-5.8 12-10.2 12-13 12-14.9 12-17.4 12-19.9 11-19.7" stroke="#37ad6b"/>
<path d="M481.0 696.3l12-14.2 12-18.4 12-18.1 12-18.6 12-18.1 12-14.7 12-12.4 12-12.1 12-14.5 12-15.6 12-10.6 12-7.4 12-6.6 12-5.2 12-6.3 12-8.2 12-8.4 12-8.3 12-9.5 12-8.5 12-4.3 12-3.4 12-6.2 12-5.8 12-4.2 12-2.4 12 1.3 12 4.3 12 9.9 12 13.2 12 14.7 12 13.4 12 14 12 15.1 12 13 12 10.9 12 8.9 12 7.6 12 7 12 7 12 3.9 12 1.2 12-2.2 12-4.8 12-7.8 12-10 12-9.7 12-7.8 12-6.8 12-5.8 12-5.2 12-4.7 12-3.5 12-1.7 12-1.1 12-0.8 12-0.4 12 0 12 0.7 12 0.8 12 1.3 12 2.4 12 8.2 12 12.5 12 16.9 12 17.2 12 17.4 12 17.4 12 13.1 12 12.1 12 17 12 18.6 12 19.8 12 21.9 12 24.3 12 26.4 12 28.7 12 32 12 45.1 12 41.8 12 37.8 12 36.6 12 34.7 12 22.5 12 7.4 12 2 12 0.1 12 0 12 0.6 12 0.8 12 0.4 12 0 12-1.2 12-2.9 12-5 12-5.2 12-5.4 12-5.6 12-5.3 12-5.3 12-6.1 12-5.6 12-4.6 12-3.9 12-3.4 12-3 12-3.1 12-3 12-2.2 12-1.9 12-2.1 12-1.6 12-1.1 12-1.6 12-1.8 12-1.4 12-2.1 12-6.3 12-10.7 12-12.7 12-14.5 12-17 12-18.3 11-17.5" stroke="#f00080"/>
<path d="M481.0 687.1l12-14.1 12-19.1 12-19.6 12-16.7 12-18.2 12-18.2 12-16.2 12-14.2 12-11.6 12-12 12-13 12-10.9 12-8.2 12-7.8 12-7.7 12-7.2 12-7.1 12-9.1 12-11.7 12-8.7 12-4.4 12-4.3 12-4.7 12-5.2 12-4.4 12-2.6 12 1.4 12 6.5 12 12.3 12 14.3 12 16.5 12 16 12 16.6 12 17 12 14.6 12 13.2 12 11 12 9.4 12 8.8 12 8.5 12 5.3 12 2.2 12-1.2 12-3.9 12-7 12-8.8 12-8.6 12-7.4 12-7.1 12-6.4 12-5.4 12-4.7 12-3.7 12-2.2 12-2 12-1.8 12-0.9 12-0.5 12-1 12-0.7 12 0.8 12 1.4 12 7.3 12 12.5 12 16.3 12 15.8 12 16.3 12 16.9 12 13.2 12 11.5 12 16.1 12 18.6 12 19.9 12 21.6 12 23.9 12 26 12 28.1 12 31.8 12 46.1 12 42.4 12 38.3 12 37.7 12 35.4 12 23 12 7.8 12 2.1 12 0.8 12 0.5 12 0.5 12 1.5 12 1.5 12 0.7 12-0.2 12-1.7 12-4.1 12-4.7 12-4.6 12-4.9 12-5.3 12-4.9 12-5 12-5.1 12-4.2 12-3.6 12-3.1 12-3.2 12-3.2 12-3.2 12-2.9 12-2.6 12-2.6 12-2.1 12-1.9 12-2 12-2.3 12-2.6 12-3.7 12-7.1 12-11.1 12-14.2 12-15.7 12-17.8 12-19.6 11-19.5" stroke="#1a6fdf"/>
<path d="M481.0 634.4l12-14.5 12-16.4 12-20.5 12-20 12-16 12-13.6 12-14.2 12-15.4 12-14.2 12-12.5 12-13.4 12-13.6 12-9.6 12-9.4 12-11.1 12-8.8 12-6.8 12-9 12-11.8 12-10 12-8.7 12-6.5 12-4.3 12-5.2 12-5.5 12-4.3 12 1.4 12 8 12 12.4 12 15.6 12 18.1 12 17 12 17.7 12 17.9 12 14.6 12 12.8 12 11.6 12 9.8 12 8.9 12 9.2 12 6.3 12 3.4 12-1.3 12-4.1 12-6.6 12-8.6 12-8.5 12-7.1 12-6.1 12-5.4 12-5 12-4.6 12-4.1 12-2.4 12-1.7 12-1.7 12-1 12-0.3 12-0.5 12-0.6 12-0.4 12 0.2 12 7.4 12 12.8 12 16.4 12 16.1 12 15.4 12 14.8 12 12.7 12 11.9 12 15.6 12 17.2 12 17.5 12 19.4 12 21.3 12 22.7 12 25.9 12 30.2 12 51 12 46 12 39.6 12 39.5 12 38.7 12 25.1 12 6.3 12 1.7 12 0.2 12 0.3 12 0.6 12 1 12 1.2 12 0.7 12-0.8 12-2.9 12-4.2 12-4.4 12-4.9 12-5 12-4.9 12-5.1 12-5.7 12-4.7 12-3.4 12-3.6 12-3.6 12-3 12-2.4 12-2.8 12-3 12-2.2 12-1.6 12-1.4 12-1.4 12-1.9 12-2.1 12-2 12-2.2 12-6.3 12-11 12-13.4 12-15.5 12-18.7 12-21.4 11-20.4" stroke="#ffffff"/>
<path d="M481.0 699.1l12-12.9 12-16.5 12-18 12-17.4 12-17.2 12-15 12-13.1 12-15.6 12-12.5 12-10.1 12-11.7 12-10 12-7.4 12-7.6 12-7.8 12-6.4 12-7 12-10 12-10.3 12-8.3 12-7.6 12-5.6 12-4 12-4.5 12-6 12-5.7 12-0.3 12 6.5 12 12.1 12 13.7 12 15.5 12 14.7 12 14.9 12 16.1 12 14.4 12 12.9 12 10.5 12 8.6 12 7.6 12 7.3 12 4.8 12 2.2 12-1.8 12-4.7 12-7.8 12-9.7 12-9.1 12-8.3 12-8.1 12-6.7 12-5.7 12-5.4 12-4.5 12-3.2 12-2.6 12-1.7 12-1.5 12-1.4 12-1 12-1 12-0.7 12 0.4 12 6.9 12 11.7 12 15.7 12 15.9 12 16 12 16.3 12 12.5 12 11.3 12 16.2 12 18.6 12 19.5 12 21.7 12 24.7 12 26.8 12 29.2 12 32.8 12 47.1 12 43.4 12 39.3 12 38.6 12 36.2 12 23.4 12 8.4 12 2.7 12 0.7 12 0.8 12 0.9 12 1.2 12 1.3 12 0.3 12-0.9 12-2.1 12-4.5 12-5.7 12-6 12-6.1 12-5.9 12-5.7 12-6.2 12-6.3 12-5.6 12-4.7 12-4.1 12-3.9 12-3.7 12-3.2 12-2.7 12-2.9 12-2.3 12-1.8 12-1.5 12-0.9 12-0.8 12-1.4 12-2.5 12-6 12-9.9 12-12.7 12-14.5 12-16.4 12-18.2 11-18.1" stroke="#808000"/>
<path d="M481.0 630.6l12-15.9 12-16.5 12-16.8 12-18.5 12-19.5 12-18.1 12-13.3 12-10.1 12-12.5 12-14.5 12-12.7 12-11.1 12-8.3 12-7 12-8.7 12-7.3 12-7.3 12-10.2 12-9.5 12-7.1 12-5.9 12-4.2 12-3.1 12-4 12-3.7 12-2.3 12 2.1 12 7.2 12 13.7 12 16.3 12 16.7 12 16.6 12 16.7 12 16.3 12 14.4 12 13.1 12 10.6 12 8.8 12 8.7 12 8.8 12 4.8 12 1.8 12-2.3 12-4.6 12-7.4 12-9.6 12-9.3 12-7.6 12-7.1 12-6.5 12-5.8 12-5 12-4.2 12-2.9 12-2.2 12-1.4 12-1.1 12-0.8 12-0.4 12-0.2 12 0.5 12 0.7 12 7.4 12 13.1 12 17.1 12 16.7 12 16.2 12 15.8 12 12.8 12 11.9 12 16.7 12 18.3 12 18.6 12 20.4 12 22.5 12 24.3 12 26.3 12 30.4 12 50 12 45.6 12 39.5 12 38.4 12 37.6 12 24.5 12 5.8 12 0.6 12-0.2 12 0.3 12 0.2 12 0.2 12 0.4 12-0.1 12-1.4 12-3.3 12-4.9 12-5.2 12-5.5 12-5.5 12-5.2 12-5.5 12-6 12-5.5 12-4.2 12-3.3 12-3.2 12-3.3 12-3.3 12-2.9 12-2.4 12-2 12-1.6 12-1 12-1.3 12-1.6 12-1.8 12-1.7 12-2.3 12-6.6 12-10.8 12-13.2 12-15.3 12-18.7 12-21.1 11-20" stroke="#008000"/>
<path d="M481.0 769.5l12-17.7 12-18.2 12-18.5 12-18.6 12-17.8 12-18.4 12-15.6 12-12.3 12-12.4 12-12 12-11.4 12-11.5 12-7 12-6.1 12-8.2 12-7 12-6.8 12-8.8 12-10.7 12-7.6 12-5.7 12-7 12-6.4 12-3 12-1.9 12-4.8 12-3.3 12 4.4 12 11.9 12 12.9 12 14.5 12 11.9 12 12.7 12 15.8 12 13.8 12 12.1 12 10.2 12 8.7 12 7.8 12 7.1 12 4.6 12 1.3 12-1.6 12-3.6 12-7.2 12-9.1 12-9 12-7.9 12-7.4 12-6.3 12-5 12-4.4 12-3.8 12-1.9 12-1.3 12-0.8 12-0.4 12-0.1 12 0 12-0.2 12 0.8 12 2.4 12 7.7 12 11.4 12 15.9 12 16.8 12 17.6 12 18.6 12 12.9 12 10.7 12 16.8 12 19.5 12 21.2 12 23.5 12 26.5 12 28.7 12 30.7 12 33.8 12 40.6 12 38.5 12 36.6 12 35.1 12 32.3 12 21.3 12 9.4 12 2.9 12 0.6 12 0.4 12 1.2 12 1.9 12 1.6 12 0.7 12-0.4 12-1.4 12-4.4 12-5.1 12-4.9 12-5.5 12-4.8 12-4.4 12-5.9 12-6.4 12-5.2 12-4.1 12-3.6 12-3.6 12-3.9 12-4 12-3.2 12-2.7 12-2.4 12-2.4 12-2.7 12-2.8 12-2.9 12-2.7 12-3.3 12-6.8 12-11.5 12-14.6 12-15 12-16.4 12-17.7 11-17.6" stroke="#008000"/>
<path d="M481.0 715.5l12-18.6 12-19.6 12-16.5 12-17.7 12-18 12-15 12-13.8 12-12 12-11.5 12-13.8 12-13 12-11.1 12-8.1 12-8.5 12-9.7 12-8.2 12-7.8 12-8.2 12-10.3 12-8.5 12-7.2 12-7.9 12-5.3 12-4.1 12-5.1 12-3.6 12 1.1 12 6.3 12 11.7 12 13.6 12 15.3 12 13.6 12 13.9 12 16.1 12 14.4 12 12.3 12 10 12 8.6 12 7.6 12 7.2 12 4.7 12 1.4 12-2.2 12-4.3 12-7.8 12-10.2 12-9.8 12-8.1 12-7.4 12-6.9 12-6 12-5.1 12-4.9 12-3.3 12-2.4 12-2.1 12-1.7 12-1.4 12-0.9 12-0.4 12 0.3 12 1.1 12 7.4 12 12.4 12 16.4 12 16.3 12 16.7 12 17.2 12 13.4 12 11.6 12 16.1 12 18.8 12 20.2 12 22 12 24.4 12 26.7 12 29.1 12 32.5 12 46.9 12 43.3 12 38.9 12 37.7 12 35.7 12 23.5 12 8.1 12 2.5 12 1 12 0.8 12 0.8 12 1.2 12 1.3 12 0.6 12-0.5 12-2.2 12-4.6 12-5.5 12-5.9 12-5.7 12-5 12-4.8 12-5.7 12-5.9 12-4.8 12-4.1 12-3.7 12-3.5 12-3.5 12-3.1 12-2.7 12-2.8 12-2.3 12-1.8 12-1.7 12-1.6 12-2 12-2.2 12-2.8 12-6.6 12-10.6 12-13.1 12-14.8 12-17.4 12-19.3 11-18.5" stroke="#e62222"/>
<path d="M481.0 766.4l12-17.3 12-22.5 12-20.9 12-18.9 12-18 12-16.8 12-16 12-16.6 12-15.1 12-13.1 12-12.1 12-11.4 12-8.8 12-6.7 12-7.6 12-8.6 12-8 12-8.4 12-9.6 12-8.7 12-7 12-3.8 12-2.9 12-3.2 12-2.4 12-2.5 12 1.4 12 5.2 12 10.7 12 14.9 12 16.4 12 12.9 12 14 12 16.3 12 14.2 12 12.7 12 10.3 12 8.5 12 7.4 12 7 12 4.9 12 1.7 12-1.3 12-3.7 12-7.6 12-9.5 12-9.3 12-7.6 12-6.5 12-6 12-5.4 12-4.5 12-3.5 12-1.7 12-1.1 12-1.1 12-1 12-0.7 12-1 12-1.1 12 0.3 12 0.7 12 5.8 12 10.8 12 15.3 12 15.5 12 15.9 12 16.7 12 11.5 12 9.8 12 15.1 12 17.4 12 19.2 12 21.7 12 24.5 12 27 12 29 12 32.3 12 42.8 12 40.4 12 37.7 12 36.4 12 33.7 12 22.3 12 9.7 12 3.5 12 1.5 12 1.8 12 2.2 12 2.7 12 2.5 12 1.7 12 1.2 12 0 12-3.2 12-3.8 12-4.3 12-4.9 12-4.4 12-4.1 12-6 12-6.4 12-4.6 12-4.2 12-4.2 12-4 12-4 12-3.9 12-3.1 12-2.8 12-2.7 12-2.8 12-2.6 12-1.9 12-2.1 12-2.5 12-3.3 12-6.7 12-11.2 12-13.8 12-14.4 12-16.2 12-17.4 11-16.4" stroke="#e62222"/>
<path d="M481.0 588.7l12-14.3 12-13.9 12-14.4 12-19.1 12-20.8 12-15.5 12-14.6 12-15 12-12.5 12-13.8 12-13.8 12-12.7 12-9.4 12-7.8 12-11.3 12-10.3 12-6.8 12-7.2 12-8.8 12-8.7 12-6.8 12-4.2 12-4.2 12-5.3 12-3.9 12-2.1 12 1.5 12 7.7 12 14.7 12 17.4 12 18.2 12 17.9 12 18.2 12 17.3 12 14.3 12 12.7 12 11.3 12 9.2 12 8.7 12 9.2 12 5.6 12 2.7 12-2.1 12-4.8 12-7.2 12-9.2 12-8.5 12-6.9 12-6.3 12-5.8 12-5.1 12-4.6 12-4.1 12-2.9 12-2.3 12-1.6 12-1 12-0.8 12-0.7 12-0.4 12-0.1 12 0.4 12 8.2 12 13.5 12 16.5 12 16 12 15.8 12 14.9 12 12.7 12 12.3 12 16.1 12 17.8 12 18.2 12 19.8 12 21.5 12 23 12 26 12 30.6 12 53.9 12 48.4 12 41.1 12 41.2 12 40.9 12 26.7 12 6.6 12 2.3 12 1.3 12 0.9 12 1.1 12 1.8 12 1.7 12 0.9 12-0.2 12-2.2 12-4 12-4.1 12-4.9 12-5.8 12-5.2 12-5.2 12-5.9 12-5.4 12-4.6 12-4.2 12-4 12-3.6 12-3.6 12-3.8 12-3.2 12-2.9 12-3 12-2.5 12-2.3 12-2.3 12-2.3 12-2.1 12-3 12-7.6 12-11.3 12-13.2 12-15.8 12-19.1 12-21.7 11-21.3" stroke="#1a6fdf"/>
<path d="M481.0 627.3l12-16.5 12-17.1 12-16.8 12-20.1 12-18.8 12-14.1 12-14.6 12-15.9 12-13.6 12-13.5 12-14.6 12-12.3 12-8.7 12-8 12-9.8 12-10 12-7.3 12-8.5 12-11.2 12-8 12-4.9 12-3.7 12-2.9 12-3.4 12-4.6 12-4.8 12 2 12 8.5 12 13.1 12 16.3 12 18.9 12 18.4 12 17.2 12 17 12 15.1 12 13.4 12 11.8 12 9.9 12 9.3 12 9.3 12 5.4 12 2.3 12-1.7 12-4.6 12-7.6 12-9.6 12-9.6 12-8.4 12-7.5 12-6.9 12-6.5 12-6.1 12-5.3 12-4 12-3.7 12-3.2 12-2.9 12-2.5 12-1.9 12-1.5 12-1.7 12-0.9 12 7.1 12 12.6 12 16.3 12 16 12 16.1 12 15.4 12 13.2 12 12.7 12 17.1 12 19.3 12 19.8 12 21.4 12 23.4 12 25 12 27.8 12 32.6 12 53.5 12 48 12 41.4 12 41.2 12 40.3 12 26.1 12 7.3 12 2.2 12 0.6 12 0.5 12 0.8 12 0.5 12 0.3 12-0.4 12-1.5 12-3.4 12-5.4 12-5.5 12-6 12-6.4 12-6.3 12-6.2 12-6.6 12-5.9 12-4.9 12-4.6 12-4 12-3.4 12-3.7 12-3.9 12-2.8 12-2.3 12-2.1 12-1.6 12-1.6 12-1.9 12-1.6 12-1.1 12-2.2 12-6.4 12-10.6 12-13.1 12-15.1 12-18.2 12-21.1 11-20.4" stroke="#008080"/>
<path d="M481.0 834.5l12-14.8 12-20.5 12-21.1 12-19.3 12-17.7 12-17.1 12-16.6 12-13.4 12-10.9 12-11.8 12-12.3 12-12.3 12-10.3 12-5.6 12-6 12-9 12-7.1 12-8.5 12-12.7 12-8.9 12-6.5 12-6.7 12-4.7 12-3.3 12-5 12-5.8 12-2.7 12 2.2 12 9 12 11.7 12 14.5 12 11.3 12 12.3 12 16.2 12 14.1 12 12.3 12 10.2 12 8.9 12 7.8 12 6.1 12 4.2 12 1.5 12-0.9 12-3.3 12-6.9 12-8.7 12-9.2 12-8.1 12-7.1 12-6.2 12-5.2 12-4.5 12-3.8 12-2.2 12-1.7 12-1.3 12-0.8 12-0.6 12-0.7 12-0.4 12 1 12 1.8 12 6.3 12 10.7 12 15.2 12 15.8 12 16.9 12 18.7 12 12.7 12 10.3 12 16.2 12 19.2 12 22.1 12 25.1 12 27.9 12 30.5 12 33 12 35.4 12 37.9 12 36.7 12 36.3 12 34 12 30.5 12 20.4 12 10.9 12 3.4 12 1 12 0.8 12 1.2 12 1.9 12 1.5 12 0.1 12-0.7 12-1.3 12-4.9 12-5.4 12-5.4 12-5.9 12-5.3 12-4.7 12-6 12-6.5 12-5.2 12-4.4 12-3.7 12-3.3 12-3.3 12-3.1 12-2.3 12-2 12-1.9 12-2 12-1.8 12-1.4 12-1.5 12-2.2 12-3 12-5.7 12-9.7 12-13.5 12-14.3 12-14.9 12-15 11-14.6" stroke="#7d4e4e"/>
<path d="M481.0 578.4l12-11.5 12-14.6 12-12.6 12-14.4 12-19.6 12-18.8 12-16.7 12-13.7 12-12.4 12-15.5 12-14.8 12-12.7 12-10.1 12-8 12-8.7 12-9.7 12-9.1 12-9.8 12-10.7 12-7.7 12-6.3 12-6 12-4.1 12-4 12-4.8 12-3.8 12 2.9 12 9.7 12 14.8 12 18.3 12 19.2 12 18.5 12 18.5 12 17.7 12 15 12 13.6 12 11.4 12 9.5 12 9 12 9.6 12 5.6 12 2.7 12-2.1 12-5.4 12-8.5 12-10.5 12-9.8 12-7.6 12-7.2 12-7.3 12-6.7 12-6.2 12-5.3 12-3.9 12-3.5 12-2.8 12-1.9 12-1.8 12-1.5 12-1.1 12-0.8 12-0.2 12 8.5 12 13.9 12 16.7 12 16.4 12 16 12 14.1 12 12.8 12 13 12 16 12 16.8 12 17.3 12 19 12 20.6 12 21.4 12 23.7 12 29 12 56.1 12 49.7 12 40.8 12 41.6 12 42.2 12 27.6 12 5.9 12 2 12 1 12 0.7 12 1.3 12 2.1 12 1.8 12 1.2 12 0.4 12-1.9 12-3.4 12-3.2 12-3.7 12-4.5 12-4.4 12-4.4 12-4.9 12-4.4 12-3.4 12-2.8 12-3.2 12-3.1 12-2.3 12-2.5 12-2.6 12-2.1 12-1.7 12-1.4 12-1.6 12-1.5 12-1.6 12-1.8 12-2.5 12-6.9 12-11 12-12.9 12-15 12-18.7 12-22 11-21" stroke="#e8e8a0"/>
<path d="M481.0 601.5l12-11.5 12-14.9 12-15.4 12-15.1 12-14.5 12-13.1 12-14.8 12-14.8 12-12.4 12-10.9 12-10.4 12-11.3 12-10 12-8.7 12-8.4 12-7.9 12-7.3 12-8.4 12-8.4 12-6.8 12-7.2 12-5.4 12-4.4 12-5.8 12-5 12-3.5 12 1.9 12 8.1 12 12.8 12 15.1 12 17.3 12 16.9 12 17 12 16.2 12 13.9 12 13.1 12 11.2 12 9.1 12 8.5 12 8.9 12 6 12 2.9 12-1.9 12-4.4 12-7.2 12-9.5 12-9.1 12-7.4 12-6.4 12-5.8 12-5.7 12-5.2 12-4.9 12-3.5 12-2.7 12-2.2 12-1.7 12-1.7 12-1.7 12-1.6 12-1.5 12-1 12 6.3 12 12 12 15.6 12 15.2 12 14.9 12 13.7 12 11.6 12 11.6 12 15.4 12 16.8 12 17.1 12 19.1 12 21.1 12 22.6 12 25.1 12 29.7 12 53.6 12 48.5 12 41.1 12 40.8 12 40.6 12 26.5 12 6.7 12 2.3 12 1.3 12 0.8 12 0.9 12 1.5 12 1.8 12 1.4 12 0 12-2.2 12-3.8 12-4.1 12-4.7 12-4.7 12-4.3 12-4.5 12-4.8 12-4.4 12-3.8 12-3.1 12-2.5 12-2.6 12-3.1 12-3.1 12-2 12-1.8 12-2.3 12-2 12-1.7 12-1.6 12-1.7 12-1.9 12-2.9 12-7.6 12-11.8 12-13.3 12-15.3 12-19 12-22.3 11-21.5" stroke="#f00080"/>
<path d="M481.0 726.2l12-15.7 12-18.5 12-18.1 12-16.8 12-18.3 12-16.6 12-12.5 12-12.9 12-12.7 12-12.9 12-11.5 12-9.9 12-6.9 12-5 12-7.9 12-7.2 12-5.6 12-8.7 12-10.9 12-8.6 12-7 12-4.9 12-4.9 12-5.4 12-3 12-2 12-0.1 12 4.1 12 10.9 12 14.1 12 14.8 12 13 12 14.2 12 16.2 12 14.5 12 12.1 12 10.1 12 8.9 12 7.7 12 7.5 12 5.3 12 1.8 12-1.7 12-4.2 12-7.5 12-9.3 12-9.3 12-8 12-7.3 12-6.4 12-5.8 12-5.6 12-4.9 12-3.1 12-2.3 12-1.8 12-1.5 12-1.5 12-1.6 12-1.5 12-0.7 12 0.4 12 6.1 12 10.8 12 15.2 12 15.4 12 15.8 12 16 12 11.7 12 10.7 12 15.7 12 17.6 12 19.2 12 21.5 12 23.9 12 26.5 12 28.8 12 32.2 12 45.4 12 42.1 12 38.4 12 37.1 12 35.4 12 23.7 12 8.5 12 2.7 12 0.8 12 0.7 12 1.5 12 2 12 1.6 12 1.2 12-0.1 12-2.3 12-4.3 12-4.1 12-4.8 12-5.3 12-4.4 12-4.5 12-5.9 12-5.7 12-4.2 12-3.6 12-3.4 12-2.9 12-2.8 12-3 12-2.5 12-2.4 12-1.9 12-1.4 12-1.5 12-2 12-1.9 12-1.9 12-3.1 12-6.3 12-10.4 12-13.4 12-14.7 12-16.5 12-18.2 11-18" stroke="#b4b4b4"/>
<path d="M481.0 721.3l12-14.8 12-17.6 12-17.3 12-20.1 12-19.8 12-15.5 12-13.1 12-12.9 12-12.6 12-11.1 12-10.9 12-12.8 12-10.9 12-8.7 12-6.1 12-6.1 12-8.4 12-9.2 12-11.7 12-8.9 12-4.3 12-4.3 12-5.1 12-4.5 12-4.3 12-3.9 12-0.2 12 4.9 12 11.7 12 14.8 12 16.1 12 14.1 12 14.2 12 15.4 12 13.6 12 13 12 10.8 12 8.5 12 7.1 12 6.8 12 4.3 12 1.1 12-2.7 12-5 12-8.1 12-10.1 12-9.9 12-8.3 12-7.5 12-6.6 12-6 12-5.5 12-4.2 12-2.1 12-1.8 12-1.2 12-0.2 12-0.2 12-0.1 12 0.2 12 1.1 12 2 12 8 12 12.7 12 16.8 12 17 12 17.6 12 18.2 12 13.5 12 11.4 12 17 12 19.5 12 20.4 12 22.4 12 25.1 12 27.7 12 30.2 12 33.3 12 44.3 12 41.5 12 38.1 12 36.6 12 34.7 12 22.9 12 8.6 12 2.3 12 0.4 12 0.8 12 1.1 12 1.3 12 1.2 12 0.3 12-0.9 12-2.3 12-4.9 12-5.9 12-5.9 12-5.7 12-5.3 12-5.2 12-6.2 12-6.6 12-5.3 12-4.5 12-4.4 12-4.3 12-3.6 12-3.6 12-3.2 12-3 12-2.5 12-2.2 12-2 12-1.9 12-2.3 12-2.3 12-2.9 12-6.6 12-10.7 12-14.1 12-15.4 12-17.2 12-18.8 11-18.3" stroke="#2222ee"/>
<path d="M481.0 744.8l12-16.8 12-19.4 12-21 12-19.6 12-16.5 12-15.8 12-15.2 12-13.7 12-13.6 12-12.2 12-9.4 12-10.9 12-11.1 12-8.6 12-8.2 12-7.8 12-5.5 12-6.2 12-10.2 12-9.6 12-6.4 12-4.6 12-5.1 12-4.4 12-4.2 12-5.3 12-0.2 12 5.7 12 10.9 12 14.3 12 16.2 12 13.6 12 14.6 12 16.3 12 14.1 12 12.4 12 10.3 12 8.5 12 7 12 6.4 12 4.2 12 1.3 12-2.3 12-4.8 12-8.3 12-10.4 12-9.9 12-8.2 12-7.7 12-7 12-5.8 12-5 12-4.9 12-3.5 12-2.4 12-1.4 12-0.8 12-0.8 12-0.3 12-0.1 12 0.4 12 1.1 12 7 12 11.7 12 15.9 12 16.5 12 16.8 12 16.8 12 12.2 12 10.9 12 16 12 18 12 19.6 12 22 12 24.1 12 26.1 12 28.6 12 32 12 43.9 12 40.9 12 37.4 12 36.1 12 34.1 12 22.7 12 8.3 12 2 12 0.6 12 1.2 12 1.4 12 1.8 12 1.8 12 1.5 12 0.8 12-0.4 12-2.9 12-4 12-4.5 12-4.1 12-3.8 12-3.6 12-4.2 12-5.1 12-4 12-3.3 12-3.3 12-2.9 12-2.8 12-3.2 12-2.9 12-2.2 12-1.7 12-2.3 12-2.7 12-2.5 12-2.4 12-2.6 12-3.8 12-7.6 12-11.5 12-14.4 12-15.9 12-17.8 12-19.2 11-18.4" stroke="#8000f0"/>
<path d="M481.0 783.3l12-16.4 12-19.9 12-18.1 12-18.9 12-18.4 12-14.1 12-13.5 12-15.1 12-11.1 12-8.5 12-11.1 12-12 12-8.6 12-5 12-5.1 12-6 12-5 12-8.4 12-13.8 12-9.5 12-3.5 12-2.6 12-5.1 12-5.2 12-4.9 12-5 12-1.2 12 2.6 12 9.7 12 13.3 12 14 12 10.9 12 12.1 12 15.5 12 13.3 12 11.5 12 10 12 8.5 12 6.9 12 6.2 12 4.5 12 1.4 12-1.7 12-3.8 12-7.2 12-9.3 12-9.5 12-7.6 12-6.9 12-6.3 12-5.1 12-4.4 12-3.9 12-1.8 12-1.5 12-1.2 12-0.8 12-0.6 12-0.2 12 0.1 12 0.9 12 1.3 12 5.7 12 10.7 12 15.5 12 15.9 12 16.9 12 17.9 12 11.9 12 9.8 12 16 12 19.2 12 21 12 22.8 12 25.4 12 28.1 12 30.5 12 33 12 39.7 12 38.1 12 36.2 12 34.5 12 31.6 12 20.7 12 8.9 12 2.2 12 0.4 12 0.4 12 0.3 12 0.8 12 0.9 12 0.1 12-0.7 12-1.7 12-4.8 12-5.7 12-5.5 12-5.6 12-5.2 12-5 12-6.1 12-6 12-4.5 12-4.1 12-3.6 12-3.3 12-3.6 12-3.4 12-2.4 12-1.9 12-1.9 12-1.5 12-1.2 12-1.5 12-1.8 12-1.9 12-2.8 12-5.9 12-10.2 12-13.7 12-14.7 12-15.5 12-16.2 11-16.4" stroke="#008000"/>
<path d="M481.0 783.4l12-15.5 12-17 12-14.6 12-17.8 12-20.2 12-18.1 12-13.1 12-9 12-11.8 12-13.6 12-10.5 12-8.5 12-7 12-6.9 12-6.6 12-7 12-6 12-5.5 12-10.1 12-8.2 12-5 12-4.9 12-4.3 12-4.1 12-4.5 12-3.9 12-1.3 12 2.8 12 9.2 12 12.1 12 13.7 12 10.9 12 12.8 12 15.2 12 12.8 12 12 12 10.4 12 8.7 12 7.3 12 6.1 12 4.1 12 1.3 12-1.7 12-4.3 12-7.9 12-9.8 12-9.7 12-8.3 12-7.6 12-7 12-5.8 12-5.3 12-4.5 12-2.3 12-1.9 12-1.4 12-0.8 12-1 12-1.1 12-0.5 12 0.9 12 1.7 12 6.5 12 11.3 12 16.3 12 16.8 12 17.4 12 18.3 12 12.7 12 10.8 12 16.5 12 19.2 12 21.3 12 24.2 12 26.6 12 29 12 31.4 12 34.1 12 40 12 38.1 12 35.8 12 34.5 12 31.9 12 20.9 12 9.8 12 3.1 12 0.7 12 0.5 12 0.9 12 1.6 12 1.6 12 1 12-0.3 12-1 12-4.2 12-5.4 12-5.3 12-5 12-4.2 12-3.7 12-5.2 12-5.5 12-4.1 12-3.4 12-2.9 12-2.5 12-2.3 12-2.7 12-2 12-1.6 12-1.8 12-1.5 12-1.3 12-1.7 12-1.9 12-2.2 12-3.1 12-5.9 12-10.4 12-14.2 12-14.7 12-15.6 12-15.9 11-15.7" stroke="#8000f0"/>
<path d="M481.0 741.5l12-14.6 12-15.3 12-17.7 12-20.2 12-17.7 12-15.9 12-12.6 12-7.4 12-9.3 12-13.7 12-12.1 12-9.8 12-7.6 12-6.2 12-7.6 12-7.7 12-6.3 12-6.1 12-8.9 12-8.6 12-8.2 12-7.2 12-4.8 12-4.6 12-4.8 12-5.4 12-2.8 12 3.1 12 9.7 12 11.8 12 13.7 12 12.5 12 12.8 12 15 12 13.1 12 10.9 12 9.4 12 8.1 12 7.2 12 6.9 12 4.6 12 1.9 12-1.3 12-3.6 12-6.9 12-8.6 12-8.2 12-7.2 12-6.4 12-5.5 12-4.3 12-4.1 12-3.9 12-1.9 12-1.6 12-1.5 12-0.8 12-0.7 12-0.9 12-0.6 12 0.8 12 1.5 12 7.2 12 11.8 12 15.7 12 16.3 12 17.3 12 17.7 12 13.2 12 11.6 12 16.8 12 19.2 12 21.3 12 23.7 12 25.7 12 27.9 12 30.8 12 34 12 42.6 12 40.1 12 37.6 12 36.2 12 33.6 12 22.1 12 9.3 12 2.3 12 0.5 12 0.9 12 1 12 1.3 12 1.7 12 0.6 12-0.6 12-1.8 12-4.7 12-5.5 12-5.5 12-5.9 12-5.5 12-5.1 12-6.1 12-6.4 12-5.4 12-4.6 12-3.4 12-3 12-3.5 12-3.8 12-2.9 12-2.3 12-2.3 12-2.1 12-2.2 12-2.2 12-2.3 12-2.3 12-3.4 12-7.2 12-11.2 12-14 12-15.2 12-17.3 12-18.6 11-18.3" stroke="#22c022"/>
<path d="M481.0 592.5l12-13.5 12-16 12-14.6 12-14 12-16.1 12-15.4 12-15.2 12-13.4 12-10.9 12-12.8 12-13.7 12-13 12-7.9 12-5.2 12-7.9 12-9.3 12-8.4 12-8.4 12-8.1 12-6.7 12-6.6 12-5 12-3.4 12-4.9 12-4.2 12-2.6 12 0.5 12 6.9 12 13.6 12 15.9 12 17.5 12 16.8 12 16.4 12 16.2 12 13.5 12 12 12 10.4 12 8.7 12 8.2 12 8.5 12 5 12 2.3 12-2.5 12-5.4 12-7.9 12-9.9 12-9.3 12-7.6 12-6.7 12-6.2 12-6.5 12-5.9 12-4.9 12-3.4 12-2.2 12-1.3 12-0.9 12-0.5 12-0.7 12-1 12-0.8 12 0.1 12 8.1 12 13.3 12 16.4 12 16.1 12 15.8 12 14.7 12 12.6 12 12.1 12 15.8 12 17.1 12 17.4 12 19.2 12 20.9 12 22.2 12 25 12 29.4 12 53.3 12 47.9 12 40.3 12 40.3 12 40 12 25.9 12 6 12 1.7 12 0.4 12 0.4 12 0.7 12 0.8 12 1.2 12 1.2 12-0.3 12-2.8 12-3.7 12-4.1 12-4.8 12-4.4 12-4.1 12-4.6 12-4.7 12-3.8 12-3.1 12-2.8 12-2.9 12-2.6 12-2.3 12-2.6 12-2.3 12-2 12-1.8 12-1.3 12-1.4 12-1.9 12-1.9 12-2 12-3.4 12-8 12-11.9 12-13.7 12-16.1 12-19.9 12-23 11-22.2" stroke="#e62222"/>
<path d="M481.0 776.0l12-14.1 12-17.5 12-18.1 12-21.6 12-21 12-13.4 12-10.6 12-12.3 12-13.6 12-13.7 12-11 12-8.1 12-6.3 12-6.2 12-7.3 12-6.8 12-6 12-8.1 12-10.1 12-7 12-4.6 12-4.4 12-4 12-4.5 12-4.7 12-2.4 12-0.1 12 1.8 12 8.9 12 12.2 12 14 12 11.7 12 12.2 12 15 12 13.6 12 11.9 12 9.1 12 7.6 12 6.5 12 5.4 12 3.1 12 0.5 12-2 12-4.1 12-8.1 12-10 12-9.7 12-8.7 12-8 12-7 12-5.7 12-5.4 12-4.5 12-2.1 12-1.8 12-1.6 12-1.1 12-0.5 12-0.1 12-0.1 12 0.3 12 1.4 12 7.1 12 11.6 12 16.2 12 16.5 12 17 12 18.3 12 13.3 12 10.9 12 16.4 12 19.7 12 21.5 12 23.6 12 26.3 12 29.1 12 31.1 12 33.8 12 41.4 12 39.2 12 37 12 35.2 12 32.1 12 21.1 12 9.7 12 2.9 12 0.7 12 0.6 12 1.1 12 1.7 12 1.3 12 0.3 12-0.6 12-1.7 12-4.7 12-5.4 12-5.8 12-5.8 12-4.9 12-4.9 12-6.3 12-6.4 12-5.8 12-4.9 12-4 12-4 12-3.9 12-3.6 12-2.9 12-2.7 12-2.4 12-2.1 12-2.2 12-2.1 12-2.2 12-2.2 12-3.2 12-6.4 12-10.4 12-13.7 12-14.7 12-15.8 12-16.8 11-16.8" stroke="#0000a0"/>
<path d="M481.0 719.6l12-16.3 12-17.1 12-17.8 12-15.9 12-15.7 12-19.6 12-16.4 12-10 12-10.8 12-12.1 12-11.4 12-10.6 12-9.4 12-9.4 12-8.5 12-8.2 12-7.1 12-7.2 12-12 12-9.7 12-6.3 12-6.2 12-4.7 12-5.3 12-6.1 12-3.6 12 1.4 12 5.4 12 10.4 12 13.7 12 15.9 12 13.3 12 13.9 12 16.2 12 14.6 12 13.2 12 10.6 12 9 12 8.5 12 7.7 12 5.1 12 2.5 12-1.1 12-3.6 12-6.6 12-8.5 12-8.2 12-7.2 12-6.5 12-5.5 12-4.2 12-3.9 12-3.6 12-2 12-1.2 12-0.5 12-0.1 12-0.3 12-0.2 12 0.4 12 1 12 1.6 12 7.4 12 12.2 12 16.6 12 16.8 12 16.8 12 16.8 12 12.6 12 11.5 12 16.6 12 18.4 12 19.8 12 22.3 12 25 12 27.4 12 29.2 12 32.5 12 43.3 12 40 12 37 12 36 12 34.1 12 22 12 8.2 12 1.9 12-0.1 12 0.2 12 0.5 12 0.8 12 1.2 12 0.1 12-1.2 12-1.7 12-4.4 12-5.5 12-5.8 12-5.6 12-4.9 12-4.6 12-5.6 12-5.6 12-4.4 12-4.3 12-3.5 12-3 12-3.1 12-2.8 12-2.7 12-2.7 12-1.9 12-1.5 12-1.5 12-1.8 12-2.2 12-2.2 12-2.6 12-6.3 12-11.1 12-14.3 12-15 12-16.6 12-18.4 11-18.6" stroke="#808000"/>
<path d="M481.0 702.2l12-14.5 12-15.2 12-17.8 12-17.6 12-15.3 12-15.3 12-15.1 12-13.3 12-11.8 12-13.4 12-12.2 12-8.7 12-8.3 12-8.2 12-7.7 12-8 12-9.2 12-9.9 12-9.9 12-8.2 12-7.7 12-7.1 12-5.3 12-4.7 12-6.3 12-5.9 12-0.6 12 5.3 12 11 12 14.1 12 16.2 12 14.3 12 14.3 12 15 12 13.6 12 12.4 12 10.4 12 8.3 12 7.3 12 7.5 12 4.6 12 1.5 12-1.9 12-4.3 12-7.5 12-9.6 12-9.5 12-7.8 12-7.2 12-6.3 12-5.1 12-5.3 12-4.5 12-2.2 12-1.9 12-1.5 12-1.1 12-0.9 12-0.6 12-0.1 12 0.5 12 0.9 12 7.4 12 12.4 12 16.6 12 16.9 12 16.8 12 17.1 12 13.2 12 11.6 12 16.6 12 19 12 20.3 12 22.3 12 24.2 12 26.4 12 28.8 12 32.2 12 46.6 12 43.1 12 38.7 12 38 12 36.1 12 23.5 12 7.8 12 2.2 12 0.9 12 0.9 12 1.2 12 1.4 12 1.2 12 0.7 12-0.1 12-1.9 12-4.3 12-4.8 12-5.2 12-5.5 12-5 12-4.9 12-5.7 12-5.4 12-4.5 12-3.9 12-3.6 12-3.7 12-3.4 12-3.6 12-3 12-2.5 12-2.2 12-2 12-2.4 12-2.3 12-2.3 12-2.4 12-2.9 12-6.3 12-10.7 12-13.6 12-15.1 12-17.4 12-19 11-18.6" stroke="#0000a0"/>
<path d="M481.0 649.2l12-15.1 12-15.9 12-16.2 12-17.3 12-16.6 12-14.8 12-14.9 12-12.5 12-10.6 12-13.3 12-12.7 12-9.9 12-10.5 12-11.3 12-8.9 12-7.1 12-7.4 12-9.9 12-13.4 12-11.3 12-7 12-6.2 12-6.7 12-5.6 12-5.2 12-5.3 12 0 12 6.7 12 12.5 12 15 12 15.7 12 15.2 12 17.2 12 17.1 12 13.7 12 12.4 12 11 12 9.5 12 8.7 12 8.4 12 5.3 12 2.9 12-1.5 12-4 12-6.7 12-9.1 12-9 12-6.9 12-6.2 12-6.3 12-5.5 12-4.8 12-4 12-2.5 12-2.2 12-1.6 12-1.2 12-1.5 12-1.1 12-0.7 12-0.3 12 0.5 12 7.7 12 13.1 12 16.3 12 16.1 12 15.9 12 15.4 12 12.8 12 12 12 16.2 12 18.3 12 19.1 12 20.8 12 22.8 12 24.7 12 27.3 12 31.6 12 51 12 46.5 12 40.2 12 39.9 12 38.7 12 25 12 7.1 12 2.5 12 0.9 12 0.9 12 1 12 1.2 12 1.1 12 0.5 12-0.3 12-2 12-4.1 12-4.8 12-5.6 12-5.7 12-4.8 12-4.6 12-5.5 12-5.5 12-4.5 12-3.7 12-3.3 12-3.3 12-3.3 12-3.3 12-2.4 12-2 12-2 12-1.9 12-1.3 12-1.4 12-2 12-1.9 12-2.6 12-6.6 12-10.9 12-13.4 12-15.1 12-17.9 12-20.7 11-20" stroke="#e62222"/>
<path d="M481.0 830.9l12-16.3 12-20.4 12-18.5 12-18.3 12-18.8 12-17.7 12-13.9 12-10.4 12-10.9 12-10.8 12-9.5 12-10.7 12-9.3 12-6.2 12-6.3 12-7.2 12-5.8 12-5.6 12-10.2 12-9.6 12-7.3 12-5.6 12-3.9 12-3.6 12-3.5 12-3.3 12-1.9 12 1.5 12 9.2 12 11.2 12 12.9 12 10.9 12 12 12 15.5 12 13.6 12 11.7 12 9.3 12 8 12 6.7 12 5.4 12 3.9 12 1.2 12-1.4 12-3.9 12-8 12-9.2 12-9.1 12-8.4 12-7.7 12-6.9 12-5 12-4.1 12-4.3 12-2 12-1.2 12-0.6 12-0.4 12-0.2 12 0.4 12 0.7 12 1.7 12 2.5 12 6.5 12 10.7 12 15.9 12 17 12 18.2 12 19.4 12 12.5 12 10 12 16.4 12 19.2 12 21.7 12 24.9 12 27.9 12 30.6 12 32.4 12 34 12 35.5 12 35.4 12 35.1 12 32.8 12 29.6 12 19.8 12 10.5 12 3 12 0.6 12 0.7 12 1.1 12 1.5 12 1.3 12 1 12 0.1 12-0.7 12-4.2 12-5.1 12-5.2 12-5.8 12-5 12-3.9 12-5.4 12-6.3 12-5 12-4.2 12-3.7 12-3.5 12-3.4 12-3.8 12-2.9 12-2.1 12-2.2 12-2.7 12-3 12-2.1 12-2.1 12-3 12-4 12-6.4 12-10.7 12-14.3 12-14.7 12-14.7 12-15 11-15.5" stroke="#0000a0"/>
<path d="M481.0 835.2l12-17.9 12-21.5 12-19.8 12-19.1 12-18.8 12-17.5 12-13.7 12-9.1 12-10.1 12-11.5 12-10.4 12-10.8 12-8.1 12-4.6 12-4.4 12-6.2 12-6.9 12-8.3 12-11 12-8.2 12-6.6 12-5.1 12-4.9 12-6 12-4.9 12-4.5 12-2.8 12 1.5 12 8.6 12 11 12 12.2 12 9.4 12 10.9 12 14.5 12 13 12 12 12 9.3 12 7.3 12 6.3 12 5.5 12 3.8 12 1.1 12-0.9 12-3.1 12-7.4 12-8.7 12-8.3 12-7.6 12-6.9 12-5.9 12-4.6 12-3.5 12-2.7 12-1 12-0.6 12-0.1 12 0.3 12 0.6 12 0.3 12 0.1 12 1.4 12 2.5 12 6.5 12 10.7 12 15.7 12 16.3 12 17.1 12 18.7 12 12.1 12 9.7 12 15.7 12 18.5 12 21.3 12 24 12 26.8 12 30 12 31.8 12 33.3 12 35.9 12 35.4 12 34.6 12 32.3 12 29.2 12 19.3 12 9.4 12 2.2 12 0 12 0 12 0.2 12 0.7 12 0.7 12 0 12-0.7 12-1.8 12-4.9 12-5.6 12-5.9 12-5.9 12-5 12-4.2 12-5.8 12-6.2 12-5 12-4.6 12-3.4 12-2.6 12-2.8 12-3.3 12-2.2 12-1.2 12-1.5 12-1.8 12-1.7 12-1.5 12-1.2 12-1.3 12-2.3 12-5.5 12-9.9 12-13.1 12-13.8 12-14.1 12-14 11-14.3" stroke="#f00080"/>
<path d="M481.0 642.5l12-14.9 12-16.5 12-15.2 12-17.2 12-18.7 12-15.5 12-12.3 12-14.1 12-17.1 12-15.7 12-10.2 12-8.9 12-10.7 12-9.2 12-6.9 12-8.5 12-8.7 12-8.7 12-10.3 12-9.2 12-6.7 12-3.8 12-4.3 12-6.9 12-5.5 12-2.9 12 1.4 12 7 12 14 12 16.3 12 16.5 12 15.7 12 16.2 12 16.5 12 13.8 12 12 12 10.4 12 8.9 12 8.5 12 8.3 12 5.2 12 2.7 12-2.1 12-4.9 12-7.8 12-9.9 12-9 12-7.3 12-7.1 12-6.4 12-5.8 12-5.4 12-4.7 12-3 12-1.8 12-1.5 12-1.6 12-1.5 12-0.9 12-0.5 12-0.6 12 0.1 12 7.6 12 13.1 12 16.6 12 16.5 12 16.1 12 15.4 12 13 12 12 12 16.2 12 18.3 12 18.7 12 20.4 12 22.7 12 24.5 12 26.8 12 30.7 12 50.6 12 46.3 12 40.3 12 39.9 12 39 12 25.3 12 6.8 12 1.2 12 0.1 12 0.4 12 0.3 12 0.7 12 0.9 12 0 12-1.4 12-3 12-4.8 12-5.3 12-5.7 12-5.9 12-5.7 12-5.8 12-6.2 12-5.7 12-4.4 12-4.2 12-3.8 12-3.2 12-2.9 12-2.8 12-2.8 12-2.5 12-1.6 12-1.4 12-1.5 12-1.3 12-1.4 12-1.5 12-2.4 12-6.4 12-10.4 12-13 12-15.2 12-18.6 12-20.9 11-20.1" stroke="#2222ee"/>
<path d="M481.0 613.2l12-17.8 12-17.3 12-16.2 12-17.4 12-19.5 12-17 12-11.4 12-10.8 12-13.7 12-14.7 12-13.4 12-12.8 12-10.8 12-8.3 12-8.5 12-9.7 12-9.8 12-9.5 12-8.9 12-8.7 12-7.3 12-5.4 12-5.4 12-4.8 12-3.9 12-3.7 12 0.8 12 7.6 12 14.1 12 16.7 12 17.5 12 17 12 17.6 12 16.7 12 13.5 12 12.8 12 11.3 12 9.3 12 9.2 12 9.7 12 5.5 12 2.6 12-1.6 12-4.3 12-7.3 12-9.2 12-8.4 12-6.8 12-6.3 12-5.7 12-5.6 12-5.5 12-4.4 12-2.4 12-1.7 12-1.6 12-1.2 12-0.7 12-0.8 12-0.7 12-0.4 12 0.6 12 8.3 12 13.2 12 17 12 16.5 12 15.9 12 15.1 12 12.6 12 12.1 12 16.8 12 18.6 12 18.5 12 19.7 12 21.7 12 23.3 12 26 12 30.8 12 53.1 12 47.5 12 40.4 12 40.6 12 40.1 12 26 12 7.1 12 2.2 12 0.8 12 1.1 12 1.3 12 1.3 12 1.4 12 1.2 12-0.2 12-2.2 12-4.2 12-4.6 12-4.7 12-4.7 12-4.6 12-5 12-5.7 12-5.4 12-4.1 12-3.5 12-3.4 12-3.3 12-2.9 12-3 12-3.1 12-2.4 12-1.9 12-1.8 12-2 12-1.6 12-1.6 12-1.9 12-2.8 12-6.9 12-11.2 12-13.4 12-15.5 12-18.7 12-21.2 11-21" stroke="#b4b4b4"/>
<path d="M481.0 776.2l12-15.7 12-16.2 12-17.1 12-19.6 12-19.5 12-15.5 12-10.2 12-11.8 12-12.4 12-8.7 12-7 12-7.9 12-8.1 12-7 12-6.3 12-5.3 12-3.7 12-6 12-9 12-6.6 12-6.3 12-6.4 12-4.5 12-4.2 12-4.2 12-4 12-1.4 12 3.5 12 9.5 12 11.1 12 13.2 12 10.2 12 11.2 12 15.1 12 13.7 12 11.4 12 9 12 7.5 12 6.3 12 5.4 12 3.5 12 0.3 12-2.3 12-4.4 12-8 12-9.8 12-9.7 12-8.2 12-7.6 12-6.9 12-5.5 12-4.9 12-4 12-2.4 12-2 12-0.8 12-0.3 12-0.9 12-0.8 12-0.2 12 0.9 12 2 12 6.8 12 11.1 12 15.7 12 16.3 12 17.1 12 18.2 12 12.2 12 10.2 12 16.3 12 19.3 12 21.2 12 23.7 12 26.5 12 29.1 12 30.9 12 33.1 12 39.7 12 38.6 12 36.8 12 34.7 12 32 12 21.5 12 10 12 3.1 12 0.5 12 0.6 12 1.6 12 1.8 12 1.2 12 0.7 12 0.1 12-1.1 12-4.2 12-4.6 12-4.9 12-5.4 12-4.7 12-4.1 12-5.7 12-6.1 12-4.9 12-4.3 12-3.7 12-3.2 12-3.5 12-3.8 12-2.9 12-2.2 12-2.1 12-2.5 12-2.3 12-2 12-2.6 12-2.9 12-3.6 12-6.7 12-11.4 12-14.6 12-15 12-16.6 12-17.5 11-16.9" stroke="#808000"/>
<path d="M481.0 698.5l12-17.6 12-19.8 12-19.6 12-19.2 12-17.8 12-16.3 12-14.9 12-13.1 12-12.1 12-12 12-12.3 12-10.6 12-8.2 12-9.1 12-8.9 12-7 12-7.5 12-8.3 12-7.4 12-5.9 12-6.1 12-4.2 12-2.6 12-3.3 12-3.9 12-3.8 12-0.7 12 3.9 12 11.4 12 15.6 12 16 12 13.5 12 14.3 12 15.4 12 12.4 12 11.3 12 10.1 12 7.9 12 6.8 12 7 12 4.1 12 1.3 12-2.1 12-4.4 12-7.5 12-9.6 12-9 12-7.1 12-6.2 12-5.4 12-4.4 12-3.4 12-2.6 12-1.3 12-0.6 12 0 12 0.4 12 0.7 12 0.7 12 0.7 12 0.8 12 1.6 12 7.9 12 12.7 12 16.2 12 15.9 12 15.6 12 15.7 12 12.1 12 10.4 12 14.8 12 16.9 12 17.9 12 20.5 12 22.7 12 23.7 12 25.9 12 29.5 12 45.1 12 41.8 12 37.5 12 37.5 12 36.2 12 23.2 12 6.7 12 1.7 12 0.6 12 0.5 12 0.8 12 1.2 12 1.4 12 1.2 12 0.3 12-1.5 12-3.5 12-3.7 12-4.1 12-4.5 12-3.8 12-3.6 12-4.7 12-4.7 12-3.8 12-3.1 12-2.8 12-2.5 12-2.7 12-3.2 12-2.3 12-1.8 12-2 12-1.7 12-1.5 12-1.5 12-1.8 12-2.2 12-3.1 12-6.6 12-10.8 12-13.8 12-15.3 12-17.4 12-19.6 11-19.6" stroke="#008080"/>
<path d="M481.0 569.5l12-13.5 12-12.7 12-13.8 12-17.6 12-18 12-14.6 12-14.3 12-12.2 12-11.8 12-12 12-11.3 12-14.2 12-11.4 12-7.8 12-8.7 12-9.5 12-10.3 12-10.7 12-10.2 12-7.8 12-6.4 12-6.7 12-4.8 12-5.1 12-6.8 12-3 12 2.5 12 6.6 12 14.6 12 19 12 18.4 12 17.6 12 18.4 12 17.2 12 14 12 12.9 12 11.7 12 9.7 12 9 12 9.6 12 5.8 12 2.9 12-1.9 12-4.4 12-7.3 12-9.7 12-9.3 12-7.3 12-6.8 12-6.7 12-6.7 12-5.9 12-4.6 12-3.2 12-2.6 12-2.4 12-1.8 12-1.4 12-1 12-0.8 12-1 12-0.4 12 8.1 12 13.8 12 17 12 16 12 15.5 12 14.8 12 13.5 12 12.8 12 16 12 17.5 12 17.3 12 19.1 12 21.3 12 22.2 12 24.9 12 29.9 12 55.6 12 49.5 12 41.5 12 41.7 12 42 12 27.1 12 5.7 12 1.6 12 0.8 12 0.8 12 0.9 12 1.2 12 1.3 12 1 12 0.1 12-2.4 12-3.8 12-3.8 12-4.3 12-4.6 12-4.4 12-5.2 12-5 12-3.7 12-2.8 12-2.8 12-2.6 12-2.6 12-2.7 12-2.5 12-2.4 12-1.8 12-1.4 12-1.6 12-1.7 12-1.2 12-1.3 12-1.3 12-2.2 12-6.4 12-10.5 12-13.1 12-15.7 12-19.2 12-22.3 11-21.4" stroke="#f00080"/>
<path d="M481.0 798.6l12-16.9 12-21.7 12-20.3 12-19.7 12-19 12-15.6 12-13.6 12-15 12-12.7 12-9.6 12-9.5 12-11.3 12-9.8 12-4.6 12-5.5 12-9.3 12-8.1 12-7.8 12-10.1 12-7.9 12-5 12-6 12-7.6 12-4.3 12-1.8 12-3 12-1.9 12 2.7 12 10.2 12 12.4 12 13.1 12 10.9 12 13.2 12 16 12 14.1 12 12.7 12 10.1 12 8.3 12 6.8 12 6 12 4.2 12 1.6 12-1.1 12-4 12-7.9 12-9.5 12-9.3 12-8.2 12-7.9 12-7.5 12-5.6 12-4.5 12-4.3 12-2.8 12-2.3 12-1.9 12-1.6 12-1.1 12-1.1 12-0.8 12 0.6 12 1.4 12 6.4 12 10.8 12 15.4 12 16.2 12 16.9 12 17.5 12 12.1 12 10.8 12 17 12 19.5 12 21.5 12 24 12 26.6 12 29.6 12 31.8 12 34.1 12 40.6 12 38.9 12 37.2 12 35.4 12 32 12 21.3 12 10 12 3.2 12 1.2 12 0.8 12 0.8 12 1.8 12 1.9 12 0.6 12-0.5 12-1.2 12-4.5 12-5.3 12-5.4 12-5.8 12-5.3 12-4.4 12-6 12-7.1 12-5.6 12-4.6 12-4.2 12-4.2 12-4.3 12-3.7 12-3 12-2.9 12-2.8 12-2.8 12-2.8 12-2.5 12-2.5 12-2.7 12-3.6 12-7.2 12-11.2 12-13.9 12-15 12-16.3 12-16.7 11-16.6" stroke="#2222ee"/>
<path d="M481.0 754.4l12-13.1 12-19.1 12-22.6 12-18.1 12-15.2 12-16.3 12-16 12-12.9 12-10.3 12-11.9 12-13.8 12-13.2 12-10.9 12-8.1 12-5.5 12-4.5 12-5.5 12-9.1 12-11.5 12-6.1 12-4.4 12-6.1 12-5 12-3.8 12-3.4 12-3 12-0.2 12 4.1 12 10.3 12 13.8 12 16.2 12 13.2 12 13.4 12 16.3 12 14.5 12 12.5 12 10 12 8.4 12 7.3 12 7.2 12 4.5 12 1.1 12-1.5 12-3.9 12-8.1 12-10 12-9.6 12-8.5 12-7.8 12-6.9 12-6 12-5.5 12-5.1 12-3.2 12-2.4 12-2 12-1.6 12-1.2 12-1 12-0.9 12-0.2 12 0.9 12 6.5 12 11 12 15.3 12 16.1 12 16.6 12 16.8 12 12.1 12 10.8 12 16.2 12 18.3 12 19.9 12 22.3 12 25.1 12 27.6 12 29.8 12 32.7 12 43.3 12 40.6 12 37.5 12 36.2 12 33.7 12 22.4 12 9 12 2.7 12 0.9 12 0.8 12 1 12 1.9 12 1.7 12 0.7 12-0.2 12-1.3 12-4.2 12-5 12-5.2 12-5.5 12-4.9 12-4.4 12-5.7 12-5.9 12-4.6 12-4 12-3.7 12-3.3 12-3.4 12-4 12-3.4 12-2.5 12-2 12-2 12-2.4 12-2.5 12-2.3 12-2.7 12-3.6 12-7 12-11.2 12-14.2 12-15.1 12-16.4 12-17.8 11-17.4" stroke="#808000"/>
<path d="M481.0 810.5l12-13.7 12-20.6 12-22.7 12-21.2 12-15.5 12-12.2 12-12.1 12-13.4 12-13.6 12-12.8 12-13.4 12-11.9 12-8.6 12-6.8 12-6.6 12-4.8 12-5.2 12-8.5 12-11 12-9 12-6.4 12-5 12-4.9 12-5 12-5.3 12-3.7 12-0.3 12 2.4 12 8.6 12 11.8 12 13.7 12 10.5 12 11.9 12 16 12 14 12 12.3 12 10.3 12 8.6 12 7.4 12 6.2 12 4.2 12 1.1 12-1.3 12-3.2 12-6.9 12-9.4 12-9.4 12-8.1 12-7.3 12-6.5 12-4.9 12-4 12-3.8 12-2.2 12-1.5 12-0.8 12-0.5 12-0.2 12 0.1 12-0.1 12 0.9 12 2 12 6.3 12 10.7 12 15.7 12 16.4 12 17.6 12 19.2 12 12.9 12 10.5 12 16.2 12 19.4 12 22.1 12 24.5 12 27.5 12 30.4 12 32.3 12 34.4 12 38.3 12 37.4 12 36.4 12 34 12 30.6 12 20.6 12 10.4 12 3.1 12 0.9 12 0.7 12 0.9 12 1.6 12 1.3 12-0.1 12-0.7 12-1 12-4.7 12-5.9 12-6.1 12-6.1 12-5.1 12-5 12-6.8 12-7.1 12-5.7 12-4.7 12-4.1 12-4.2 12-4.3 12-4.2 12-3.1 12-2.7 12-2.7 12-2.4 12-2.4 12-2.1 12-2.4 12-3.1 12-3.8 12-6.3 12-11 12-14.3 12-14.6 12-15.8 12-16.7 11-16.2" stroke="#b4b4b4"/>
<path d="M481.0 653.6l12-14.5 12-15.2 12-18.3 12-17.8 12-13.8 12-12.8 12-14 12-14.2 12-13.5 12-13.3 12-9.6 12-8.5 12-8.8 12-7.6 12-7.8 12-8.5 12-8.1 12-8.2 12-9.1 12-7.5 12-5.6 12-6.6 12-6.5 12-4.7 12-5.3 12-4.9 12 0.3 12 5.1 12 11.5 12 15.4 12 17.2 12 16.1 12 16.1 12 16.3 12 14.3 12 13.4 12 11.7 12 9.9 12 9.6 12 9.5 12 6 12 3.3 12-0.2 12-2.5 12-5.9 12-8.1 12-7.8 12-6.8 12-6.3 12-5.7 12-4.8 12-4.5 12-4.2 12-2.5 12-2.1 12-2 12-1.8 12-1.6 12-1.2 12-1.2 12-1.4 12-0.8 12 5.8 12 11.3 12 15.5 12 15.2 12 15 12 15.1 12 11.9 12 10.7 12 15.3 12 17.5 12 18.3 12 20.4 12 22.6 12 24.4 12 27 12 31.3 12 48.8 12 44.6 12 39.4 12 39.3 12 37.8 12 24.4 12 7.3 12 2 12 1 12 0.8 12 0.7 12 1.2 12 0.9 12 0 12-0.9 12-2.6 12-4.6 12-5 12-5.3 12-5.5 12-5 12-5 12-5.6 12-5.3 12-4.4 12-3.8 12-3.3 12-2.6 12-2.5 12-2.6 12-2.2 12-2 12-1.9 12-1.9 12-1.8 12-1.7 12-1.7 12-2.2 12-3.2 12-7.2 12-11.3 12-13.9 12-16 12-19.2 12-21.3 11-20.2" stroke="#404040"/>
<path d="M481.0 660.2l12-14.4 12-18.7 12-17.2 12-16.2 12-17.5 12-17.4 12-15.3 12-11.5 12-12.6 12-15.1 12-10.8 12-9 12-9.7 12-8 12-7 12-8.2 12-7.6 12-5.7 12-6.2 12-6.5 12-6.2 12-4.8 12-3.3 12-2.9 12-3.1 12-2.6 12 1.5 12 6.6 12 12.8 12 14.8 12 15.9 12 15.2 12 15.4 12 15.3 12 12.7 12 12.1 12 10.5 12 8.2 12 7 12 6.9 12 4 12 1.1 12-2.9 12-5.5 12-8.2 12-10 12-9.9 12-8.5 12-7.3 12-6.7 12-6 12-4.9 12-4.2 12-2.5 12-1.6 12-1.4 12-0.9 12-0.2 12 0.2 12 0.6 12 0.8 12 1.2 12 8.3 12 13.8 12 17 12 16.8 12 17.3 12 16.7 12 13 12 12.2 12 16.7 12 18.3 12 19.7 12 22 12 24.3 12 25.7 12 27.7 12 32 12 48.5 12 44.3 12 39.1 12 38.5 12 36.6 12 23.7 12 7.6 12 2.3 12 0.7 12 0.2 12 0.1 12 1.1 12 1.5 12 0.1 12-1.6 12-3.1 12-5 12-5.2 12-5.8 12-6.1 12-5.6 12-5.4 12-6.4 12-6.3 12-5.1 12-4.2 12-3.3 12-3.3 12-3.9 12-3.7 12-2.8 12-2.4 12-2.3 12-2.1 12-1.8 12-1.8 12-2 12-1.8 12-2.6 12-6.5 12-10.5 12-12.9 12-15 12-17.9 12-19.8 11-19.5" stroke="#008000"/>
<path d="M481.0 553.0l12-13 12-14.1 12-15.6 12-17.4 12-17.6 12-15.4 12-15 12-15.1 12-11.6 12-12.2 12-15.2 12-15.7 12-10.3 12-7.3 12-10 12-9.4 12-7.9 12-9.9 12-10.6 12-8.8 12-7.7 12-5.4 12-3.6 12-4.7 12-4.3 12-2.6 12 2.1 12 8.7 12 15.7 12 19.5 12 19.5 12 19.3 12 19.1 12 16.8 12 13.9 12 12.9 12 11.5 12 9.2 12 8.6 12 9.6 12 5.9 12 2.9 12-2.2 12-4.8 12-7.3 12-10.3 12-9.8 12-8.1 12-7.3 12-6.2 12-6.3 12-6.3 12-5 12-3.5 12-3 12-2.8 12-2.3 12-1.4 12-1.2 12-1.1 12-1.1 12 0 12 8.6 12 14.1 12 17.3 12 16.6 12 16 12 14.5 12 13.4 12 13.5 12 17 12 18.2 12 18.2 12 19.9 12 21.6 12 22.6 12 25 12 30.6 12 58.5 12 51.4 12 42.3 12 42.9 12 42.8 12 27.5 12 6.1 12 2.1 12 1.1 12 0.6 12 1 12 1.4 12 1.3 12 0.8 12-0.6 12-3.4 12-4.4 12-4.4 12-5.1 12-5.4 12-5.7 12-6.1 12-6.1 12-5.8 12-4.9 12-4 12-4 12-4.3 12-4.1 12-3.9 12-3.7 12-3.6 12-3 12-2.7 12-2.7 12-2.6 12-2.3 12-2.4 12-3.2 12-7.9 12-11.9 12-13.7 12-16.3 12-20.7 12-24.1 11-22.8" stroke="#008080"/>
<path d="M481.0 648.2l12-11.4 12-17.4 12-17.8 12-15.3 12-16.1 12-15.3 12-13 12-12.6 12-13.1 12-14.7 12-13 12-11 12-8.9 12-8.2 12-9.4 12-10.2 12-9.8 12-9.5 12-10.2 12-8.5 12-6.9 12-6.7 12-6.9 12-6.3 12-5.4 12-4.9 12 0.5 12 7.5 12 12.3 12 14.9 12 16.6 12 14.8 12 15.7 12 16.5 12 14.1 12 12.3 12 11 12 9.7 12 8.5 12 9 12 6.2 12 2.7 12-1.4 12-3.6 12-6.2 12-8.4 12-8.1 12-6.4 12-5.8 12-5.7 12-4.9 12-4.2 12-3.1 12-1.7 12-1.6 12-1.3 12-0.4 12 0 12 0 12-0.4 12-0.2 12 0.7 12 7.7 12 12.7 12 16.2 12 16.3 12 15.6 12 15.1 12 12.6 12 11.8 12 15.6 12 17.3 12 18.2 12 20.7 12 22.6 12 23.9 12 26.5 12 30.7 12 49.4 12 45 12 39.4 12 39.1 12 38.1 12 24.7 12 6.8 12 1.7 12 0.6 12 0.5 12 0.8 12 1.2 12 0.8 12 0 12-0.9 12-2.3 12-4.4 12-5.3 12-5.2 12-5 12-5.1 12-5.5 12-6.1 12-5.5 12-4.2 12-3.7 12-3.3 12-3.3 12-3.3 12-3.2 12-2.6 12-2.1 12-1.8 12-1.5 12-1.4 12-1.3 12-1.8 12-1.9 12-2.6 12-6.6 12-10.4 12-12.9 12-15.2 12-17.8 12-19.9 11-19.4" stroke="#f00080"/>
<path d="M481.0 697.2l12-15.4 12-19.5 12-18 12-19.3 12-19.3 12-15 12-12.3 12-11.8 12-11 12-12 12-13.2 12-11.5 12-8.2 12-8.4 12-8.5 12-5.6 12-5.9 12-9.6 12-10.9 12-8 12-6.9 12-5.8 12-3.9 12-3.9 12-4.8 12-4.7 12 0 12 5.4 12 11.2 12 13.9 12 15.5 12 13.7 12 14 12 15.8 12 14.1 12 12.3 12 10.2 12 9 12 8.3 12 8.2 12 5.5 12 2.2 12-1 12-3.1 12-6.5 12-8.8 12-8.2 12-6.7 12-5.9 12-5 12-4.2 12-3.8 12-3.5 12-1.8 12-1.4 12-1.2 12-0.5 12 0 12-0.1 12-0.4 12 0 12 1.2 12 7.4 12 11.9 12 15.6 12 15.9 12 16.9 12 17.2 12 12.8 12 11.2 12 16 12 18.1 12 19.5 12 22 12 24.1 12 26.3 12 28.8 12 32.1 12 45.6 12 42.5 12 38.6 12 37.3 12 35.4 12 23.3 12 8.1 12 2.2 12 0.7 12 0.7 12 0.9 12 1.4 12 1.5 12 0.7 12-0.4 12-2 12-4.6 12-5.1 12-5.5 12-5.8 12-5.3 12-5.1 12-5.9 12-6.1 12-4.9 12-4.2 12-3.5 12-3.1 12-3.4 12-3.6 12-2.7 12-2.5 12-2 12-1.7 12-2 12-1.4 12-1.2 12-2 12-3.1 12-6.3 12-10.7 12-13.4 12-15 12-16.8 12-18.6 11-18.5" stroke="#2222ee"/>
<path d="M481.0 787.8l12-17.9 12-17.1 12-19.8 12-21.8 12-17.2 12-14.6 12-13.6 12-13.3 12-11.7 12-10.9 12-12.5 12-12.6 12-9.8 12-7 12-6.1 12-5.7 12-4.6 12-6.2 12-10.7 12-9.4 12-6.9 12-5.1 12-3.5 12-3.1 12-3.9 12-3.9 12-0.5 12 3.9 12 10.2 12 12.9 12 15.8 12 13.1 12 12.7 12 14.8 12 13.2 12 12.7 12 10.4 12 8.7 12 7.7 12 6.6 12 3.7 12 0.8 12-1.4 12-4.1 12-8.3 12-10.2 12-9.6 12-8.2 12-7.6 12-6.9 12-6 12-5.3 12-4.5 12-2.5 12-1.8 12-1.5 12-1.1 12-0.7 12-0.8 12-0.8 12 0.6 12 1.4 12 6.5 12 10.8 12 15.4 12 16.2 12 16.9 12 17.8 12 12.3 12 10.5 12 16 12 18.7 12 20.6 12 22.7 12 25.5 12 28.5 12 30.7 12 33.1 12 39.7 12 38 12 36.3 12 34.7 12 32 12 21.2 12 9 12 2.8 12 0.7 12 0.3 12 0.6 12 1.7 12 1.7 12 0.4 12-0.3 12-1 12-4.4 12-5.3 12-5.2 12-6 12-5 12-4 12-5.5 12-6 12-5.1 12-4.4 12-3.6 12-3.4 12-3.7 12-3.6 12-2.7 12-2.2 12-2.1 12-2.2 12-2.4 12-2.1 12-2.2 12-2.6 12-3.3 12-6.5 12-11 12-14.6 12-15.6 12-16.5 12-17.1 11-17.1" stroke="#b4b4b4"/>
<path d="M481.0 737.8l12-17.3 12-16.6 12-16.4 12-19.3 12-18.8 12-14.2 12-13.1 12-14.8 12-13.8 12-12.8 12-12.6 12-9.7 12-5.1 12-7 12-8.6 12-6.1 12-5.2 12-7.5 12-10.4 12-8.2 12-5.9 12-2.8 12-3.1 12-5.5 12-3.5 12-3.3 12-1.2 12 4.3 12 11.2 12 13.7 12 14.4 12 12.4 12 13.4 12 16.2 12 14.6 12 12.4 12 9.6 12 7.9 12 7.3 12 6.7 12 4.1 12 1.4 12-1.8 12-4.3 12-7.1 12-9.1 12-9.4 12-7.7 12-7 12-6 12-4.6 12-4 12-3.3 12-1.5 12-0.9 12-0.6 12 0 12 0.4 12 0.6 12 0.4 12 1.4 12 2.6 12 7.8 12 12.5 12 16.8 12 16.7 12 17.1 12 17.9 12 12.8 12 10.6 12 15.7 12 18.6 12 20.4 12 22.4 12 24.8 12 26.8 12 29 12 32 12 41.3 12 38.9 12 35.9 12 34.5 12 32.2 12 21 12 7.7 12 1.3 12-0.6 12-0.7 12-0.1 12 1.2 12 1.1 12-0.7 12-1.2 12-1.7 12-4.5 12-5.2 12-5.4 12-5.4 12-4.8 12-4.3 12-5.3 12-5.2 12-3.8 12-3.5 12-3 12-2.4 12-2.4 12-2.6 12-2 12-1.2 12-0.8 12-0.9 12-0.7 12-0.9 12-0.9 12-0.9 12-2.3 12-5.9 12-10 12-13.4 12-14.5 12-15.4 12-16.4 11-16.5" stroke="#f0a0f0"/>
<path d="M481.0 517.4l12-11.9 12-12.4 12-14.5 12-16.5 12-16.2 12-12.8 12-11.1 12-13.9 12-15.8 12-14.7 12-12.6 12-10.2 12-7.1 12-8 12-9.1 12-7.7 12-8.4 12-7.6 12-6.7 12-7.9 12-5.8 12-4.6 12-4.8 12-3.6 12-2.6 12-3.4 12 1.3 12 9.6 12 15.6 12 18.4 12 19.1 12 18.8 12 18.9 12 16.5 12 12.9 12 11.7 12 10.6 12 8.7 12 8.5 12 9.7 12 5.8 12 2.7 12-2.7 12-5.8 12-7.7 12-10 12-9.5 12-7.9 12-7 12-6.2 12-6.1 12-5.9 12-4.9 12-4 12-3 12-2.3 12-2.3 12-1.6 12-1.2 12-1.4 12-1.9 12-1.1 12 8 12 13.9 12 16.8 12 16.1 12 15.3 12 13.6 12 13.2 12 13.5 12 16.3 12 17.4 12 17 12 18 12 19.6 12 21.3 12 24.2 12 29.4 12 59.2 12 52.2 12 42.6 12 43.5 12 44.2 12 28.5 12 5.1 12 1.7 12 1.2 12 0.7 12 1 12 1.1 12 1 12 0.7 12-1.1 12-3.4 12-3.9 12-4.2 12-5 12-5.4 12-5.6 12-5.9 12-5.3 12-4.6 12-4.1 12-3.7 12-3.5 12-3.4 12-3.2 12-3.3 12-3.2 12-2.4 12-1.7 12-1.7 12-1.6 12-1.1 12-1.4 12-1.4 12-2.4 12-7.3 12-10.9 12-12.3 12-15.4 12-19.6 12-23 11-22" stroke="#008000"/>
<path d="M481.0 773.4l12-17.4 12-20.4 12-20.3 12-19.4 12-19.6 12-19.3 12-14.2 12-10.8 12-12.3 12-14.2 12-13.6 12-11.9 12-8.3 12-4.6 12-5.3 12-7.7 12-7.4 12-7.4 12-9.1 12-7.1 12-6.4 12-5.6 12-3.9 12-4.2 12-3.1 12-2 12 0.4 12 4.2 12 10 12 13 12 15.9 12 13.4 12 13 12 15.7 12 14.4 12 12.9 12 10.3 12 8.6 12 7.6 12 7.3 12 5.3 12 1.8 12-1 12-3.2 12-6.9 12-8.9 12-9.3 12-7.7 12-7 12-6.7 12-5 12-4.6 12-4.3 12-2 12-1.7 12-1.8 12-1.1 12-0.8 12-0.9 12-0.6 12 0.3 12 1.5 12 6.3 12 10.7 12 15.6 12 16.2 12 16.8 12 17.6 12 12 12 10.2 12 16.1 12 18.6 12 20.3 12 22.7 12 25.6 12 27.9 12 30 12 33.5 12 41 12 38.5 12 36.1 12 34.2 12 32.1 12 21.1 12 8.9 12 2.4 12-0.1 12-0.1 12 0.3 12 0.4 12 0.5 12 0.3 12-0.5 12-1.9 12-5.1 12-5.5 12-5.3 12-5.3 12-4.4 12-4.1 12-5.2 12-5.3 12-3.9 12-3.5 12-3.4 12-2.5 12-2.1 12-2.5 12-1.6 12-1.1 12-1.2 12-0.9 12-0.5 12 0 12-0.6 12-0.8 12-1.5 12-4.8 12-9.2 12-12.4 12-13.5 12-14.5 12-14.6 11-14.6" stroke="#1a6fdf"/>
<path d="M481.0 756.5l12-14.3 12-18.2 12-21.9 12-21 12-17.9 12-17 12-14.9 12-13 12-13.3 12-13.6 12-13.2 12-11.2 12-9.2 12-9 12-8.3 12-7.5 12-7.5 12-8.8 12-10.3 12-7.5 12-6.5 12-6.6 12-5.6 12-2.8 12-1.7 12-3.5 12-0.7 12 4.7 12 11 12 14 12 16 12 14 12 14.9 12 17.2 12 14.8 12 13.2 12 10.9 12 9.1 12 8.2 12 7.4 12 4.8 12 1.9 12-1.3 12-3.8 12-7.4 12-9.5 12-9.3 12-8.1 12-7.2 12-6.4 12-5.3 12-4.8 12-4.5 12-2.6 12-1.9 12-1.6 12-1.1 12-0.6 12-0.8 12-0.9 12 0.4 12 1.3 12 6.3 12 11.4 12 16.2 12 16.3 12 16.7 12 17.6 12 12.6 12 10.6 12 16.1 12 18.9 12 20.4 12 22.8 12 25.8 12 28.4 12 30.6 12 33 12 42.1 12 40 12 37.3 12 35.8 12 33.4 12 21.8 12 8.8 12 2.5 12 0.5 12 0.6 12 1 12 1.5 12 1.7 12 0.7 12-0.5 12-1.4 12-4.1 12-5.1 12-5.3 12-5.2 12-4.2 12-3.6 12-4.9 12-5.3 12-3.9 12-3.4 12-3.2 12-2.7 12-2.4 12-2.4 12-2.1 12-1.8 12-1.6 12-1.6 12-1.4 12-1.4 12-1.7 12-2.2 12-3.4 12-6.2 12-10.3 12-14.2 12-15.4 12-16.1 12-17.2 11-17.5" stroke="#c8c830"/>
<path d="M481.0 554.9l12-14 12-13.6 12-13.4 12-13.6 12-12.2 12-13.9 12-17 12-11.2 12-10.1 12-17.5 12-12.2 12-7.5 12-8.1 12-6.8 12-9.2 12-9.5 12-8.4 12-8.5 12-8.3 12-7.5 12-7.2 12-7.3 12-4.8 12-3.1 12-4.5 12-4.4 12 2.2 12 9.1 12 14.3 12 17.2 12 18.6 12 18.1 12 17.6 12 16.9 12 14.7 12 12.5 12 10.3 12 8.9 12 8.8 12 9.3 12 5.6 12 2.3 12-2.3 12-5 12-7.4 12-9.7 12-9.2 12-7.4 12-7 12-6.5 12-5.8 12-5.6 12-5.1 12-3.6 12-2.9 12-2.4 12-2.1 12-1.4 12-1 12-1.4 12-1.3 12-0.2 12 8.2 12 13.5 12 16.7 12 16.1 12 15.1 12 13.8 12 12.9 12 12.9 12 15.9 12 17.3 12 17.6 12 19.2 12 20.9 12 22.4 12 25.3 12 30.4 12 56.3 12 50.2 12 42.4 12 42.7 12 42.2 12 27.3 12 6.8 12 2.9 12 1.5 12 0.7 12 0.9 12 1.6 12 1.5 12 0.3 12-1.3 12-3.5 12-4.7 12-5 12-6 12-6.4 12-6.1 12-6.2 12-6.4 12-6.1 12-5.7 12-4.9 12-4.5 12-4.3 12-4.1 12-3.9 12-3.8 12-3.3 12-2.2 12-2.1 12-2.2 12-1.3 12-1.3 12-1.4 12-1.9 12-6.4 12-10.4 12-12.4 12-14.8 12-18.7 12-22.1 11-21.2" stroke="#22c022"/>
<path d="M481.0 653.5l12-16.5 12-17.9 12-17.3 12-15.9 12-14.5 12-13.9 12-13.9 12-14.2 12-13.7 12-14 12-13 12-10 12-8.7 12-9 12-7.8 12-6.8 12-7.8 12-9.4 12-10.5 12-8.4 12-5.5 12-4.9 12-5.1 12-4.4 12-3.6 12-3 12 0.8 12 7.5 12 14.1 12 16.1 12 17.3 12 16 12 16 12 17 12 15.3 12 13.7 12 11.2 12 9.8 12 9.1 12 8.8 12 5.6 12 2.6 12-1.4 12-3.9 12-7 12-9.1 12-8.9 12-7.9 12-7.6 12-6.7 12-5.9 12-5.8 12-5.1 12-3.6 12-3.2 12-3.2 12-3 12-2.5 12-2 12-2.2 12-1.9 12-1 12 5.8 12 11 12 15.1 12 15.1 12 14.8 12 14.4 12 12.1 12 11.6 12 15.6 12 17.9 12 19.2 12 20.6 12 23.2 12 25.6 12 27.9 12 32 12 51.3 12 46.9 12 40.8 12 40.3 12 39.5 12 26.2 12 8.5 12 3 12 1.7 12 1.5 12 1.6 12 2 12 1.8 12 0.8 12-0.3 12-2.2 12-4.6 12-5 12-5.7 12-6 12-5.5 12-5.7 12-6.3 12-5.9 12-5.3 12-4.5 12-3.9 12-3.6 12-3.5 12-3.6 12-3.2 12-2.6 12-2.2 12-1.9 12-1.3 12-1.5 12-2 12-1.9 12-2.3 12-6.5 12-10.5 12-12.7 12-14.5 12-17.4 12-19.6 11-19" stroke="#37ad6b"/>
<path d="M481.0 688.5l12-13.3 12-16.2 12-17.7 12-19.6 12-18.3 12-14.1 12-11.8 12-14.6 12-14.2 12-10.7 12-10.3 12-12.3 12-10.4 12-7 12-8.1 12-9.9 12-8.9 12-8.4 12-8.5 12-8.5 12-8.6 12-5.7 12-4.6 12-5.3 12-4.5 12-3 12 1.9 12 6.9 12 11.7 12 14.1 12 16.6 12 15.2 12 14.7 12 15.9 12 14.8 12 12.8 12 10.1 12 8.8 12 8.1 12 7.5 12 4.7 12 2.1 12-2 12-4.8 12-7.6 12-9.8 12-9.9 12-8.3 12-7.5 12-6.9 12-6.5 12-6 12-5.1 12-3.6 12-2.7 12-1.8 12-1.6 12-1.3 12-1.6 12-1.2 12-0.1 12 0.6 12 7.1 12 12.7 12 16.7 12 16.2 12 16.3 12 16.9 12 13.6 12 12.1 12 16.4 12 18.5 12 19.4 12 21.6 12 24.5 12 26.7 12 28.7 12 32.5 12 48.3 12 43.9 12 39.1 12 38.4 12 36.8 12 24 12 8.1 12 2.8 12 0.8 12 0.8 12 1.3 12 1.6 12 2 12 1.1 12-0.5 12-1.8 12-4 12-4.3 12-4.7 12-5.1 12-4.7 12-4.2 12-5.3 12-5.2 12-3.8 12-3.7 12-3 12-2.5 12-2.9 12-2.8 12-2.1 12-1.8 12-2 12-2.1 12-1.6 12-1.3 12-2 12-2.2 12-2.9 12-6.7 12-11 12-13.6 12-15.4 12-17.9 12-19.3 11-18.7" stroke="#7d4e4e"/>
<path d="M481.0 569.9l12-15.1 12-16.2 12-18.5 12-18.9 12-20.2 12-16.1 12-11.2 12-12.7 12-15.9 12-14.3 12-10.3 12-10.9 12-10.5 12-8.8 12-9.8 12-11 12-8.2 12-6.8 12-8.6 12-6.9 12-4 12-4.5 12-3.5 12-1.5 12-1.7 12-3.1 12 1.8 12 10.4 12 16.1 12 17.7 12 19.7 12 19.6 12 18.6 12 17.2 12 14.4 12 13 12 11.6 12 10 12 9.2 12 9.3 12 5.5 12 2.5 12-2.2 12-5.3 12-8.1 12-10.1 12-9.5 12-8 12-7.7 12-7.1 12-6.5 12-6.1 12-5 12-3.5 12-3.1 12-2.5 12-1.8 12-1.3 12-1.2 12-0.8 12-0.5 12 0.1 12 8.2 12 13.8 12 17.1 12 16.6 12 15.8 12 14.6 12 13.8 12 13.5 12 16.3 12 17.8 12 18 12 19.6 12 21.2 12 22.7 12 25.4 12 29.8 12 54.8 12 49.1 12 41 12 41.1 12 41.1 12 26.8 12 6 12 1.8 12 0.9 12 0.7 12 0.8 12 1.3 12 1.5 12 0.4 12-0.5 12-1.7 12-3.4 12-4.3 12-4.5 12-4.6 12-4.7 12-4.9 12-5.2 12-4.9 12-4.2 12-3.5 12-3.5 12-3.5 12-3.2 12-3.1 12-3.1 12-3.1 12-2.8 12-2.6 12-2.9 12-2.9 12-3.2 12-3.1 12-3.8 12-8.4 12-12.4 12-14.5 12-17.1 12-20.8 12-24.3 11-23.2" stroke="#161616"/>
<path d="M481.0 588.1l12-18.5 12-17.2 12-15.4 12-18.1 12-18.7 12-16.2 12-15.7 12-14.1 12-14.2 12-16.3 12-14.2 12-12.9 12-8.5 12-4.9 12-9.3 12-13 12-9.3 12-4.9 12-6.2 12-8.2 12-7.9 12-6.5 12-3.7 12-2.2 12-2.5 12-2.6 12 2 12 9.8 12 15.2 12 17.2 12 19 12 18 12 18.3 12 18.2 12 14.9 12 13 12 11.2 12 9.3 12 9 12 9.3 12 5.4 12 2.8 12-2.3 12-5.6 12-7.6 12-9.5 12-9 12-7.3 12-6.5 12-6 12-6 12-5.7 12-4.5 12-2.8 12-2 12-1.3 12-0.8 12-0.3 12-0.3 12-0.3 12-0.3 12 0.5 12 8.5 12 13.9 12 17.2 12 16.3 12 15.5 12 14.8 12 13.2 12 12.5 12 16 12 17.3 12 16.9 12 18.7 12 20.6 12 21.7 12 24.2 12 29 12 53.5 12 47.9 12 40.3 12 40.6 12 40 12 26 12 6 12 1.9 12 0.8 12 0.9 12 1.4 12 1.6 12 1.7 12 1.7 12 0.5 12-1.5 12-3.1 12-3.6 12-4.5 12-4.3 12-4 12-4.6 12-5 12-4.6 12-3.6 12-3.3 12-3.8 12-3.8 12-4 12-4 12-3.6 12-3.3 12-2.9 12-3 12-3.1 12-3 12-3.5 12-3.6 12-4.3 12-8.5 12-12.4 12-14.2 12-16.6 12-20.5 12-23.3 11-22" stroke="#22c022"/>
<path d="M481.0 653.2l12-15.2 12-17.9 12-16.6 12-17 12-20.4 12-17.6 12-11.3 12-12.1 12-15.8 12-13.5 12-13.1 12-15.4 12-9.8 12-4.9 12-6.5 12-8.5 12-8.1 12-8.7 12-9.6 12-7.4 12-5.9 12-4 12-2.5 12-3.3 12-4.4 12-3.8 12 2.4 12 8 12 12.5 12 15.9 12 17.8 12 15.9 12 16.5 12 17 12 14.1 12 12.8 12 10.7 12 8.9 12 8.6 12 8.5 12 5.1 12 2.7 12-1.2 12-4.4 12-7.6 12-9.2 12-8.6 12-7.3 12-6.5 12-5.5 12-5.2 12-4.6 12-3.6 12-2.1 12-1.8 12-1 12-0.3 12-0.3 12-0.4 12 0 12 0.7 12 1.2 12 7.5 12 12.4 12 16.5 12 16.6 12 16.4 12 16.1 12 12.5 12 11.1 12 15.4 12 17 12 17.9 12 19.9 12 22.3 12 24.2 12 26.2 12 29.7 12 47.7 12 44 12 38.5 12 37.9 12 37.2 12 24.3 12 6.7 12 2.1 12 1.2 12 0.7 12 0.9 12 1.7 12 2 12 1.2 12 0.1 12-1.5 12-3.7 12-4 12-4.5 12-5.2 12-4.4 12-4 12-5.1 12-5.1 12-4.1 12-3.5 12-3.7 12-3.6 12-3.6 12-4 12-3.5 12-3 12-2.7 12-2.4 12-2.8 12-2.8 12-2.4 12-2.7 12-3.9 12-7.5 12-11.1 12-13.9 12-16.2 12-18.6 12-20.5 11-19.9" stroke="#22c022"/>
<path d="M481.0 630.9l12-14.6 12-17.1 12-16.5 12-14.7 12-16.5 12-15.8 12-13.2 12-12.3 12-14 12-15.6 12-11 12-7.3 12-8.2 12-9 12-8.9 12-9.5 12-8.7 12-6.8 12-7.4 12-7.2 12-7.1 12-7.2 12-5.4 12-4.1 12-4 12-3.6 12 0.4 12 7.4 12 13.8 12 16.2 12 17.3 12 16.6 12 17 12 16.3 12 13.6 12 12.6 12 11.3 12 9 12 8.3 12 8.7 12 5.1 12 2.2 12-1.6 12-4.4 12-7.5 12-9.7 12-9.3 12-7.8 12-6.7 12-6.3 12-6.1 12-5.4 12-4.4 12-2.7 12-1.9 12-1.8 12-1.4 12-0.9 12-0.7 12-0.4 12 0.2 12 1.1 12 8 12 13 12 16.6 12 17.1 12 17.4 12 16.4 12 13.5 12 12.6 12 16.5 12 18.3 12 19.1 12 20.6 12 22.8 12 24.8 12 27 12 31.1 12 49.6 12 45 12 38.8 12 38.4 12 37.7 12 24.2 12 5.9 12 0.8 12-0.1 12-0.3 12-0.7 12 0.1 12 0.4 12-0.8 12-1.7 12-3.2 12-5.1 12-5.4 12-5.5 12-5.9 12-5.4 12-5.2 12-5.9 12-5.4 12-4.3 12-3.9 12-3.3 12-3 12-2.7 12-2.5 12-2.5 12-2.5 12-1.9 12-1.3 12-1.2 12-1.2 12-1.4 12-1.5 12-2.6 12-6.6 12-10.7 12-13.1 12-15 12-17.7 12-20.5 11-20.2" stroke="#008080"/>
<path d="M481.0 788.2l12-15.8 12-19.4 12-19.9 12-18.6 12-18.5 12-16.3 12-13.4 12-11.4 12-11.1 12-13.5 12-12 12-10.6 12-9.8 12-6.3 12-4.4 12-4.5 12-5.6 12-7.6 12-10.4 12-8.1 12-4.1 12-2.3 12-2.1 12-2.3 12-3 12-3.2 12 0.7 12 4.3 12 9.3 12 12.2 12 14.5 12 11.6 12 12.8 12 16.4 12 14.4 12 12.1 12 9.7 12 8.1 12 6.7 12 5.6 12 4.1 12 1 12-1.4 12-3.9 12-7.7 12-9.2 12-8.8 12-8 12-7.7 12-6.6 12-5.2 12-4.2 12-3.3 12-1.7 12-1.4 12-0.9 12-0.7 12-0.8 12-0.5 12-0.1 12 0.7 12 1.5 12 6 12 10.1 12 15 12 15.9 12 16.6 12 17.6 12 11.7 12 9.3 12 15.4 12 18.5 12 20.6 12 23 12 25.6 12 28.4 12 30.8 12 33.2 12 38.5 12 37.5 12 36.4 12 34.7 12 31.4 12 20.5 12 9.8 12 3.3 12 1.2 12 0.8 12 0.6 12 1.5 12 1.7 12 0.7 12-0.2 12-1.3 12-4.7 12-5.7 12-5.5 12-5.4 12-4.8 12-4.4 12-6 12-6.5 12-4.7 12-4 12-3.8 12-3.4 12-3.3 12-3.4 12-2.4 12-1.8 12-1.5 12-1.6 12-1.6 12-1.5 12-1.7 12-2 12-2.6 12-5.7 12-10 12-13.4 12-14.1 12-15.3 12-15.9 11-15.5" stroke="#0000a0"/>
<path d="M481.0 669.4l12-17.4 12-20.3 12-18.1 12-15.9 12-16.1 12-16.7 12-16.3 12-15.5 12-14 12-13.3 12-12 12-10.2 12-8.5 12-6.4 12-6.6 12-8.8 12-8.4 12-9 12-9.9 12-6.7 12-5.4 12-4.9 12-4.3 12-5.7 12-4.9 12-3.1 12 1.4 12 6.7 12 12.4 12 15.9 12 17 12 14.8 12 15.8 12 16.8 12 14.1 12 12.6 12 10.9 12 9.4 12 8.5 12 8.4 12 5.5 12 2.8 12-1.4 12-3.8 12-6.9 12-9.3 12-8.8 12-7.3 12-6.6 12-5.8 12-5.3 12-5.1 12-4.4 12-2.6 12-2 12-1.6 12-1.4 12-1.2 12-0.9 12-1.1 12-1 12 0.3 12 7 12 12 12 15.5 12 15.2 12 15.2 12 15.2 12 12.5 12 10.9 12 15.1 12 17.8 12 18.4 12 19.7 12 22.1 12 24.3 12 26.6 12 30.6 12 48.5 12 44.2 12 38.6 12 38 12 37.1 12 24.7 12 7.1 12 1.6 12 0.2 12-0.2 12 0.4 12 1.2 12 0.8 12 0.1 12-0.4 12-1.7 12-3.9 12-4.5 12-4.6 12-4.4 12-4.5 12-4.4 12-4.5 12-4 12-2.9 12-2.5 12-2.3 12-2 12-2 12-2.1 12-1.6 12-1.1 12-0.9 12-0.9 12-1.1 12-1.3 12-1.5 12-1.9 12-3 12-6.9 12-11.1 12-14.1 12-15.9 12-18.3 12-20.1 11-20.1" stroke="#e62222"/>
<path d="M481.0 826.4l12-15.3 12-21 12-20 12-17.3 12-16.2 12-16.6 12-14.6 12-10.5 12-9.6 12-11 12-12.6 12-13 12-10.7 12-7.7 12-5.6 12-6 12-5.8 12-7.7 12-12.8 12-9.1 12-6.3 12-7.8 12-5.8 12-4.4 12-6.2 12-5.6 12-1.7 12 2.2 12 8.8 12 10.9 12 12.6 12 10.9 12 12.4 12 14.9 12 13.3 12 12.7 12 10 12 8.4 12 7.3 12 5.8 12 4.2 12 1.6 12-0.6 12-2.6 12-6.4 12-8.2 12-8.2 12-7.3 12-6.5 12-5.5 12-4.3 12-3.5 12-3 12-1.2 12-0.6 12-0.4 12-0.1 12-0.1 12-0.3 12-0.3 12 1.2 12 2.1 12 5.9 12 10.6 12 15.6 12 16 12 17.2 12 18.7 12 11.6 12 9.2 12 15.8 12 18.7 12 21 12 23.4 12 26.4 12 29.7 12 31.9 12 33.6 12 36.3 12 35.7 12 35.4 12 33.4 12 30.3 12 20.1 12 9.8 12 3 12 0.6 12 0.1 12 0.7 12 1.7 12 1.6 12 0.4 12-0.4 12-1.2 12-4.8 12-5.5 12-5.8 12-6.2 12-5.2 12-4.6 12-6.1 12-6.6 12-5.5 12-4.7 12-3.7 12-3.8 12-4 12-3.9 12-2.9 12-2.5 12-2.5 12-2.6 12-2.3 12-2.2 12-2.5 12-2.5 12-3.2 12-6.5 12-10.6 12-13.9 12-14.6 12-15.2 12-15.3 11-15.2" stroke="#808080"/>
<path d="M481.0 661.9l12-14.7 12-15.4 12-15.7 12-16.7 12-17.5 12-15.7 12-12.7 12-12.7 12-12.4 12-12.4 12-13.6 12-11 12-8 12-7.9 12-8.2 12-7.8 12-6.8 12-8.6 12-10.7 12-7 12-5.8 12-6.7 12-5.3 12-3.8 12-4.4 12-5.4 12-0.3 12 6.9 12 13 12 14.2 12 15.3 12 15.3 12 15.7 12 15.9 12 13.8 12 12.2 12 10.2 12 8.4 12 8.1 12 8.3 12 4.8 12 2 12-1.6 12-4.2 12-7.4 12-9.9 12-9.6 12-7.7 12-6.9 12-6.4 12-5.9 12-5.2 12-4.2 12-2.2 12-1.6 12-1.3 12-1.1 12-0.9 12-0.7 12-0.3 12 0.4 12 1.2 12 8 12 13.1 12 17 12 17.1 12 17.6 12 17.5 12 13.6 12 12.4 12 17 12 19.4 12 20.3 12 22 12 24.5 12 26.6 12 28.6 12 32.1 12 47.9 12 43.9 12 39.1 12 38.1 12 36.4 12 23.4 12 7.1 12 2 12 0.5 12 0.1 12 0.4 12 0.7 12 0.2 12-0.3 12-0.8 12-2.2 12-4.6 12-5.5 12-6 12-5.9 12-5.2 12-5.4 12-6.4 12-6 12-4.8 12-4 12-3.9 12-3.9 12-3.8 12-3.3 12-2.9 12-2.8 12-2.6 12-2.4 12-2.2 12-2.1 12-2.1 12-1.9 12-3 12-7.2 12-11.3 12-13.9 12-15.4 12-17.7 12-20.2 11-19.9" stroke="#f08000"/>
<path d="M481.0 591.1l12-15.1 12-17.8 12-16.4 12-16.6 12-17 12-14.5 12-14.7 12-15 12-14.4 12-13.4 12-10.3 12-10.4 12-9.8 12-8.4 12-7.7 12-9.1 12-9.8 12-8.2 12-7.8 12-7.3 12-5.6 12-5.1 12-5.2 12-4.1 12-2.3 12-1.6 12 3.2 12 9.2 12 14.4 12 17 12 19.3 12 19.2 12 17.3 12 16.8 12 15.4 12 13.1 12 11 12 9.8 12 8.9 12 8.9 12 5.4 12 2.6 12-1.8 12-4.5 12-7.2 12-9.6 12-9.2 12-7.5 12-6.9 12-6 12-5.6 12-5.4 12-4.4 12-3.1 12-2.3 12-1.7 12-1.5 12-0.9 12-0.8 12-0.8 12 0 12 0.5 12 8 12 13.5 12 16.9 12 16.4 12 16 12 15 12 12.6 12 11.9 12 15.5 12 17.6 12 18.3 12 19.4 12 20.9 12 22.9 12 25.3 12 29.7 12 52.4 12 47 12 40 12 40.1 12 39.9 12 26 12 6.2 12 1.7 12 0.6 12 0.4 12 1.1 12 1.4 12 1.1 12 1 12 0.2 12-2.1 12-3.7 12-3.8 12-4.3 12-4.7 12-4.7 12-4.7 12-4.9 12-4.6 12-4 12-3.6 12-3.2 12-2.9 12-3.2 12-3.7 12-2.9 12-2.2 12-2 12-2 12-1.8 12-1.7 12-2 12-1.9 12-2.5 12-6.7 12-10.9 12-13.3 12-15.3 12-18.4 12-21.6 11-20.7" stroke="#22c8c8"/>
<path d="M481.0 528.5l12-13.6 12-13.9 12-14.5 12-17.7 12-17.6 12-13.9 12-13.2 12-14 12-15 12-15.1 12-12.6 12-10.7 12-8.1 12-7.6 12-9.6 12-11.7 12-9.6 12-6.1 12-7 12-8.6 12-6.5 12-4.5 12-4.1 12-3.5 12-2 12-1.4 12 2.9 12 10.2 12 16.7 12 18.6 12 19.6 12 20.5 12 19.6 12 17.3 12 14.3 12 12.8 12 11.4 12 10 12 9.4 12 10.1 12 6.6 12 3.6 12-1.9 12-5 12-7.2 12-9.3 12-8.5 12-7 12-6.7 12-6.1 12-5.7 12-5.6 12-4.7 12-3.1 12-2.4 12-1.9 12-1.9 12-1.5 12-0.8 12-0.6 12-1.1 12-0.8 12 7.6 12 13.5 12 16.9 12 15.7 12 15.1 12 14 12 12.5 12 12.2 12 15.8 12 16.9 12 16.7 12 18.4 12 19.6 12 20.5 12 23.6 12 29.3 12 57.4 12 50.2 12 41.6 12 42.4 12 42.4 12 27.3 12 5.2 12 1.4 12 0.7 12 0.7 12 0.9 12 0.8 12 0.7 12 0.6 12-0.8 12-3.3 12-4.3 12-4.6 12-4.6 12-4.7 12-4.9 12-5.4 12-5.5 12-4.4 12-3.4 12-3 12-3.4 12-3.3 12-2.8 12-2.6 12-2.8 12-2.6 12-2.1 12-1.8 12-1.6 12-1.5 12-1.8 12-2.1 12-2.8 12-7.6 12-11.6 12-13.8 12-16.3 12-19.9 12-24.2 11-23.2" stroke="#b177de"/>
<path d="M481.0 726.9l12-15.1 12-18 12-19.6 12-19.4 12-18.4 12-16 12-13.5 12-12.6 12-12.5 12-11.8 12-10.9 12-9.2 12-6.3 12-5.8 12-6.3 12-7.9 12-8.4 12-8.5 12-10.7 12-8.3 12-5.7 12-5 12-5 12-4.5 12-4 12-3.8 12-0.7 12 4 12 10.3 12 13 12 14.9 12 12.9 12 14 12 16.2 12 13.7 12 11.7 12 10.2 12 8.9 12 7.5 12 7.2 12 4.7 12 2 12-1.1 12-3.8 12-7 12-9 12-9.1 12-7.7 12-6.9 12-6.1 12-5.2 12-4.5 12-4.1 12-2.1 12-1.6 12-1.4 12-1 12-0.8 12-0.8 12-0.5 12 0.1 12 1.1 12 7.1 12 11.8 12 15.6 12 15.7 12 16.2 12 16.6 12 12.3 12 11 12 16.1 12 18.2 12 20.1 12 22.4 12 24.6 12 26.7 12 29 12 32.6 12 44.5 12 41.5 12 37.8 12 37.3 12 35.3 12 22.9 12 8.6 12 2.9 12 1.2 12 0.9 12 1.4 12 2.4 12 2.2 12 1.5 12 0.5 12-0.7 12-3.5 12-4.4 12-4.3 12-4.2 12-4.1 12-4 12-5.2 12-5.5 12-4.2 12-3.9 12-3.6 12-3 12-2.9 12-3.4 12-3 12-1.9 12-1.8 12-2.3 12-2.4 12-2.1 12-2.1 12-2.3 12-3.2 12-6.7 12-11 12-14.3 12-15.3 12-16.6 12-17.9 11-17.8" stroke="#0000a0"/>
<path d="M481.0 606.3l12-14.2 12-17.3 12-16.9 12-16.2 12-16.2 12-15.4 12-15.7 12-14.3 12-12.2 12-14.3 12-14.3 12-10.4 12-7.9 12-6.9 12-7 12-9.4 12-9.6 12-8.3 12-7.8 12-6 12-5.1 12-4.7 12-3.1 12-3.7 12-5.7 12-3.7 12 3.3 12 8.9 12 14.2 12 17.4 12 18.4 12 17.2 12 16.8 12 16.3 12 14.1 12 13.1 12 11.1 12 8.6 12 7.9 12 8.4 12 5 12 1.9 12-2.5 12-5 12-7.8 12-10.4 12-9.8 12-8.2 12-7.4 12-6.8 12-6.4 12-5.9 12-5 12-3.6 12-3 12-2.6 12-2.2 12-1.9 12-1.3 12-1.6 12-1.8 12-0.6 12 7.5 12 12.3 12 15.6 12 15.4 12 15 12 14.1 12 12 12 11.9 12 16.1 12 17.3 12 17 12 19.2 12 21.8 12 23.1 12 25.2 12 30.3 12 54.5 12 48.6 12 41.4 12 41.3 12 40.6 12 26.5 12 6.6 12 2.4 12 1.3 12 1.6 12 1.9 12 1.9 12 1.5 12 0.7 12 0 12-1.6 12-3.8 12-4.4 12-4.6 12-4.7 12-4.9 12-5.4 12-5.8 12-5 12-3.9 12-3.9 12-3.3 12-3.1 12-3.3 12-3.2 12-3 12-2.7 12-2.1 12-2 12-2.2 12-2.2 12-1.8 12-1.7 12-2.8 12-7.2 12-11.1 12-13.6 12-15.8 12-18.4 12-21.5 11-21.2" stroke="#8000f0"/>
<path d="M481.0 740.6l12-17.3 12-16.9 12-14.7 12-16.6 12-19.8 12-17.9 12-11.4 12-10.1 12-11.3 12-11 12-11 12-12.4 12-9.5 12-5.9 12-5.7 12-7.7 12-6.1 12-6 12-12.2 12-9.4 12-6 12-6.5 12-5.7 12-5.4 12-4.8 12-5.4 12-1 12 4.1 12 8.6 12 11.8 12 14 12 11.9 12 13 12 15.2 12 12.9 12 11.3 12 9.5 12 8 12 7.3 12 6.5 12 4.3 12 2.3 12-1.2 12-3.9 12-7 12-8.8 12-8.3 12-6.7 12-6.1 12-5.8 12-4.6 12-3.5 12-2.9 12-1.7 12-1.1 12 0 12 0.2 12 0.1 12 0.4 12 0 12 0.9 12 2.3 12 7.5 12 11.5 12 16.2 12 16.7 12 16.8 12 17.4 12 12.2 12 10.5 12 15.9 12 18.1 12 19.9 12 22.5 12 24.5 12 26.3 12 28.6 12 32.1 12 42.6 12 39.9 12 36.3 12 35.5 12 34 12 21.8 12 7.7 12 2 12 0.1 12-0.1 12 0.3 12 0.9 12 0.8 12-0.2 12-1.2 12-2.1 12-4.5 12-5.6 12-5.9 12-5.7 12-4.9 12-4.9 12-5.9 12-5.8 12-4.7 12-4.2 12-3.4 12-2.9 12-2.9 12-3 12-2.2 12-1.2 12-1.2 12-1.4 12-1.2 12-1.2 12-1 12-1.1 12-2.6 12-6.2 12-9.9 12-13.4 12-14.6 12-16.5 12-18.4 11-18" stroke="#ffffff"/>
<path d="M481.0 614.6l12-13 12-16 12-15.4 12-16.4 12-17.2 12-13.4 12-12.5 12-14 12-13.2 12-13.6 12-12.6 12-9.3 12-7.8 12-10 12-11.9 12-9.5 12-8.3 12-9.7 12-10.1 12-9.6 12-8.5 12-7 12-5.5 12-5 12-5.3 12-5.7 12 0 12 7.5 12 12.9 12 15.4 12 17 12 16.4 12 16.4 12 15.6 12 13.4 12 12.5 12 10.8 12 9.5 12 9.2 12 9.8 12 6.6 12 3.7 12-0.7 12-3.4 12-6.5 12-9 12-8.1 12-6.4 12-6.2 12-6.2 12-5.3 12-5 12-4.6 12-3 12-2.2 12-1.9 12-1.9 12-1.4 12-1 12-0.7 12-0.6 12-0.2 12 7.4 12 12.8 12 16.1 12 15.6 12 15.3 12 14.4 12 12.2 12 11.9 12 15.4 12 17 12 17.9 12 19.5 12 21 12 22.7 12 25.4 12 30.3 12 53.6 12 48.4 12 41.1 12 41.3 12 41.1 12 27.1 12 7.5 12 2.9 12 1.6 12 1.4 12 1.6 12 1.6 12 1.4 12 0.7 12-0.5 12-2.3 12-4 12-4.4 12-5.1 12-5.7 12-5.4 12-5.6 12-5.9 12-5.4 12-5.1 12-4.4 12-3.8 12-3.3 12-3.4 12-3.8 12-3.3 12-3 12-2.5 12-2.2 12-2.2 12-2.7 12-2.5 12-2.1 12-2.8 12-7.1 12-10.9 12-13 12-15.2 12-18.5 12-21.3 11-20.3" stroke="#808000"/>
<path d="M481.0 814.4l12-15.9 12-19.4 12-17.9 12-17.1 12-16.8 12-17.8 12-18.3 12-14.7 12-10.8 12-12.1 12-13.3 12-10.2 12-8.2 12-8.2 12-9 12-9.6 12-7.8 12-8.4 12-11.6 12-9.4 12-6.3 12-6.1 12-6.2 12-4.9 12-5.3 12-5.1 12-1.8 12 3.7 12 11.2 12 11.8 12 12.8 12 11.8 12 13.4 12 15.8 12 13.4 12 12.1 12 10.3 12 9.1 12 7.8 12 6.8 12 4.1 12 0.9 12-1.4 12-3.5 12-7.5 12-9.6 12-9.4 12-8.2 12-7.5 12-6.8 12-5.6 12-4.8 12-4 12-1.9 12-1.3 12-0.8 12-1.1 12-0.6 12 0.3 12 0.2 12 1.1 12 2.3 12 6.8 12 10.7 12 15.7 12 16.8 12 17.5 12 18.6 12 12.7 12 10.8 12 16.7 12 19.4 12 21.8 12 24.4 12 27.1 12 29.9 12 32.3 12 34.4 12 39 12 37.7 12 35.8 12 34.1 12 31.5 12 20.5 12 9.3 12 2.8 12 0.5 12 0.4 12 0.7 12 1.7 12 1.9 12 0.4 12-1 12-1.2 12-4.1 12-5.1 12-5.5 12-5.5 12-4.4 12-4.2 12-5.8 12-6 12-4.7 12-4.4 12-4 12-3.6 12-3.2 12-3 12-2.6 12-2.1 12-1.9 12-1.9 12-1.8 12-1.5 12-1.7 12-2.3 12-3.3 12-6.3 12-11 12-14.4 12-14.6 12-15.7 12-16.7 11-16.7" stroke="#008000"/>
<path d="M481.0 754.4l12-18.2 12-18 12-14.2 12-17 12-19.9 12-16.8 12-12.5 12-12.8 12-13.7 12-12.4 12-11.1 12-10.8 12-9.1 12-7.3 12-6.9 12-6.8 12-6.5 12-9 12-11.1 12-8 12-6.8 12-7.2 12-5.5 12-3.9 12-3.9 12-4.3 12-1.5 12 3.5 12 9.9 12 13.2 12 15.2 12 11.9 12 13.2 12 16 12 13.8 12 12.3 12 10.4 12 8.6 12 7.6 12 6.7 12 4.3 12 1.1 12-2 12-4.1 12-7.4 12-9.2 12-9 12-7.8 12-7.3 12-6.6 12-5.6 12-5 12-4.2 12-2 12-1.1 12-0.9 12-0.9 12-0.4 12 0.1 12 0.2 12 1.3 12 2.2 12 7.3 12 11.5 12 16.3 12 17.2 12 17.3 12 17.7 12 12.7 12 11.1 12 16.3 12 18.3 12 20 12 22.6 12 25.2 12 27.8 12 30 12 32.7 12 42.5 12 40.2 12 37.1 12 35.5 12 33.6 12 22.1 12 8.9 12 3 12 1.1 12 1.2 12 1.2 12 1.8 12 2 12 1 12 0 12-0.8 12-4 12-5 12-4.9 12-4.9 12-4.6 12-4.1 12-5.4 12-5.6 12-4.3 12-3.6 12-3.3 12-3.1 12-2.9 12-2.9 12-2.7 12-2.4 12-2 12-1.8 12-1.8 12-1.5 12-1.5 12-1.9 12-2.7 12-5.6 12-9.9 12-13.4 12-14.8 12-15.6 12-15.8 11-16" stroke="#f00080"/>
<path d="M481.0 801.6l12-16.8 12-17.8 12-18 12-19.7 12-17.3 12-14.4 12-11.5 12-11.1 12-11.9 12-11.7 12-11.6 12-10.1 12-8.9 12-8 12-6.4 12-4.2 12-3.3 12-8.6 12-12.7 12-8.2 12-5.8 12-4.7 12-4.9 12-4.8 12-4.4 12-4.6 12-1.6 12 3.4 12 9.3 12 11 12 13.6 12 11.3 12 11.8 12 15.2 12 14.3 12 12.9 12 9.7 12 7.8 12 7.1 12 6.5 12 4.2 12 1 12-1.3 12-3.4 12-7.3 12-8.9 12-8.8 12-7.6 12-7.2 12-6.2 12-4.3 12-3.8 12-3.4 12-1.2 12-0.4 12 0.4 12 1 12 0.4 12 0.6 12 1.2 12 2 12 2.9 12 7.1 12 11.4 12 16 12 16.6 12 17.5 12 19.2 12 12.3 12 9 12 14.9 12 18.5 12 20.8 12 22.7 12 25.5 12 28.4 12 30.2 12 32.2 12 35.6 12 35.1 12 34.4 12 32.1 12 29.2 12 19.2 12 8.3 12 1.3 12-0.9 12-0.9 12-0.1 12 1.3 12 1.5 12 0.5 12-0.7 12-1.6 12-4.4 12-5.1 12-4.6 12-4.7 12-4.1 12-3.4 12-4.9 12-5.5 12-3.5 12-3.3 12-3.1 12-2.4 12-2.3 12-2.2 12-1.7 12-1.3 12-1.4 12-1.6 12-1.4 12-1.4 12-1.5 12-2 12-3.3 12-5.9 12-10.4 12-14.1 12-14.4 12-15.1 12-15.8 11-16" stroke="#d0d0d0"/>
<path d="M481.0 742.6l12-11.7 12-15.2 12-18.5 12-18.8 12-17.2 12-16.7 12-13.5 12-11.3 12-12.5 12-15.4 12-13.6 12-8.6 12-6.6 12-9 12-9.5 12-8 12-8.5 12-8.7 12-8.9 12-6.8 12-7 12-7.2 12-5 12-3.4 12-3.9 12-3.8 12 0 12 4.7 12 11.2 12 14.1 12 16 12 14.2 12 14.4 12 15.8 12 13.8 12 12.7 12 10.9 12 8.9 12 7.7 12 7.3 12 4.5 12 1.2 12-1.6 12-3.8 12-7.1 12-8.9 12-8.6 12-7.3 12-6.6 12-6 12-4.7 12-4 12-3.8 12-1.8 12-0.6 12-0.4 12 0.1 12 0.1 12 0.2 12 0.6 12 1.5 12 2.3 12 7.4 12 11.6 12 15.8 12 16.1 12 16.7 12 17.3 12 11.7 12 9.8 12 15.3 12 17.8 12 19.5 12 21.3 12 23.6 12 26.4 12 28.7 12 31.1 12 40.3 12 38.4 12 35.8 12 34.5 12 32.4 12 21 12 7.6 12 1.8 12-0.1 12-0.2 12 0.6 12 1.6 12 1.5 12 0.8 12-0.2 12-1.8 12-4.3 12-4.4 12-4.7 12-5.1 12-4.4 12-3.9 12-5.1 12-5 12-3.7 12-3.3 12-2.7 12-2.1 12-2.6 12-2.9 12-1.7 12-1.2 12-1.2 12-1.5 12-1.6 12-1.5 12-1.5 12-2.2 12-3 12-6.3 12-10.5 12-13.9 12-15.5 12-16.9 12-18.2 11-17.7" stroke="#37ad6b"/>
<path d="M481.0 808.0l12-19.2 12-19.9 12-18.5 12-18.9 12-17.7 12-16.9 12-15.9 12-14.1 12-11.4 12-10.4 12-11 12-9.9 12-7.2 12-7.5 12-8.3 12-7 12-7 12-9.3 12-10.8 12-6.8 12-5.3 12-6.5 12-5.5 12-4.5 12-4.4 12-4.2 12-1.5 12 2.9 12 9.6 12 12 12 14.5 12 11.8 12 12.5 12 15.5 12 13.9 12 12.4 12 10.3 12 9 12 8 12 6.7 12 4.5 12 1.3 12-1 12-3.1 12-7.2 12-9 12-8.6 12-7.2 12-6.9 12-6.5 12-5.4 12-4.6 12-4.1 12-1.9 12-1.4 12-1.3 12-0.7 12-0.6 12-0.8 12-0.7 12 0.5 12 1.4 12 6 12 10.4 12 15 12 15.5 12 16.5 12 17.7 12 11.1 12 8.6 12 14.9 12 17.9 12 20.2 12 22.6 12 25.1 12 27.9 12 30.2 12 33 12 38.9 12 37.2 12 36.1 12 34 12 31.2 12 20.9 12 9.1 12 2.5 12 0.8 12 0.4 12 0.4 12 1.3 12 1.5 12 0.6 12-0.3 12-1.1 12-4.2 12-5.2 12-5.1 12-4.8 12-4.1 12-3.5 12-4.8 12-5.3 12-3.7 12-3.2 12-3 12-3.1 12-2.8 12-2.4 12-1.9 12-2 12-1.7 12-1.7 12-1.8 12-1.7 12-2 12-2.3 12-3.2 12-6.3 12-10.7 12-14.2 12-14.6 12-15.5 12-16.4 11-16.3" stroke="#22c022"/>
<path d="M481.0 574.0l12-14.1 12-14.9 12-15.7 12-17.8 12-18.7 12-16.8 12-13.4 12-11.7 12-13.9 12-14.9 12-12.7 12-12.1 12-9.1 12-7.7 12-9.9 12-9.8 12-7.3 12-6.1 12-8.5 12-9.7 12-6.2 12-3.8 12-4.5 12-4.2 12-3.9 12-3.3 12 3 12 10.2 12 15.2 12 17.2 12 18.9 12 19.2 12 18.3 12 16.9 12 14.9 12 13.3 12 11.6 12 9.8 12 9.1 12 9.5 12 5.8 12 2.9 12-1.6 12-4.2 12-6.9 12-9 12-8.6 12-7.1 12-6.2 12-5.7 12-5.2 12-5.1 12-4.7 12-2.8 12-2.1 12-1.8 12-1.3 12-0.9 12-0.5 12-1.1 12-1.4 12-0.4 12 7.8 12 13.1 12 16.3 12 15.4 12 14.9 12 14.2 12 12.3 12 11.5 12 15.3 12 17.1 12 17 12 18.2 12 20.9 12 22.4 12 24.5 12 29.1 12 54.2 12 48.6 12 40.8 12 41.1 12 40.9 12 26.4 12 5.5 12 1.3 12 0.5 12 0.9 12 1.2 12 1.3 12 0.8 12 0.6 12-0.4 12-2.7 12-4 12-4.2 12-4.9 12-5 12-4.7 12-5.6 12-6.5 12-5.4 12-4.2 12-3.8 12-3.6 12-3.6 12-3.5 12-3.4 12-3.1 12-2.9 12-2.2 12-1.8 12-2.1 12-2.1 12-1.8 12-1.9 12-2.9 12-7.2 12-11.2 12-13.3 12-15.9 12-19.9 12-23 11-22" stroke="#800080"/>
<path d="M481.0 656.0l12-15.1 12-15.9 12-15 12-15.3 12-15.1 12-14.9 12-16.1 12-15.6 12-14.3 12-14 12-12.9 12-11.7 12-8.9 12-6.6 12-8 12-10.5 12-9 12-8.1 12-10.2 12-8.3 12-6.7 12-5.7 12-4.4 12-4.1 12-3.6 12-4.3 12 0.5 12 8.3 12 14.4 12 16.2 12 16.9 12 16.2 12 17.5 12 17.7 12 14.5 12 13.2 12 11.9 12 10.2 12 9.2 12 9.3 12 6 12 2.6 12-1.2 12-3.3 12-6.8 12-9.3 12-8.9 12-7.5 12-7.1 12-6.3 12-5.5 12-4.9 12-4.5 12-3.1 12-2.6 12-2.1 12-1.5 12-0.9 12-0.9 12-1.1 12-0.5 12 0.3 12 6.4 12 11.4 12 15.5 12 15.9 12 16.1 12 15.5 12 12.1 12 10.8 12 15.2 12 17.8 12 18.8 12 20.9 12 23 12 24.9 12 27.6 12 31.6 12 49.3 12 44.8 12 39.3 12 39 12 37.9 12 24.8 12 7.8 12 2.4 12 1.2 12 1.2 12 1.3 12 2 12 1.5 12 0.8 12 0 12-1.7 12-4.1 12-4.4 12-4.8 12-5.1 12-4.8 12-4.8 12-5.4 12-5 12-4.1 12-3.5 12-2.8 12-2.7 12-3 12-3.2 12-2.3 12-1.8 12-1.7 12-1.6 12-1.6 12-1.7 12-1.7 12-1.7 12-2.4 12-6.2 12-10.4 12-13.3 12-15.2 12-17.5 12-19.4 11-19.1" stroke="#d0d0d0"/>
<path d="M481.0 590.9l12-14.5 12-15.5 12-15 12-16.3 12-17.9 12-15.3 12-11 12-12 12-16.6 12-17.4 12-12.8 12-10.4 12-8.9 12-8.9 12-10 12-9.2 12-8.1 12-8.8 12-10.4 12-9.3 12-8.3 12-6.7 12-4.7 12-4.3 12-4.5 12-3.7 12 2.7 12 9.3 12 15.2 12 18.6 12 18.3 12 17.2 12 18.7 12 17.8 12 14.4 12 13.4 12 11.7 12 9.3 12 8.6 12 9.2 12 5.6 12 2.8 12-2 12-4.7 12-7.8 12-10.3 12-9.9 12-8.1 12-7.2 12-6.8 12-6.3 12-6.1 12-5.2 12-3.8 12-3.2 12-2.2 12-1.5 12-1.1 12-0.7 12-0.6 12-0.5 12 0.4 12 8.7 12 14.4 12 17.6 12 16.6 12 16.3 12 16 12 13.9 12 13.2 12 17.3 12 18.7 12 18.3 12 19.9 12 21.8 12 23.3 12 25.5 12 30 12 53.1 12 47.2 12 39.8 12 40.3 12 40.2 12 25.8 12 6.1 12 1.7 12 0.2 12 0.2 12 0.8 12 1.1 12 1.1 12 0.5 12-0.6 12-2.4 12-3.9 12-4.2 12-4.8 12-5 12-4.6 12-4.6 12-4.7 12-4.3 12-3.1 12-2.4 12-2.4 12-2.2 12-2 12-2 12-1.9 12-1.2 12-1 12-1.2 12-1.1 12-1.3 12-1.7 12-1.6 12-2.6 12-7.5 12-11.8 12-14.1 12-16.2 12-19.8 12-22.9 11-22.1" stroke="#808000"/>
<path d="M481.0 626.9l12-13.4 12-20.3 12-18.9 12-15.6 12-16.5 12-15.9 12-15.1 12-13.4 12-12.5 12-13.5 12-12 12-11.2 12-10.4 12-10.6 12-9.4 12-8 12-8.9 12-8 12-8.5 12-7.3 12-4.7 12-4.8 12-6.2 12-5.2 12-2.8 12-2.9 12 0.8 12 7.6 12 14.3 12 17.5 12 18.6 12 17 12 16.1 12 16.4 12 14.7 12 12.9 12 11 12 9.2 12 8.3 12 8.5 12 5.2 12 2.4 12-2.3 12-4.8 12-7.5 12-10.1 12-9.7 12-8 12-7.2 12-6.8 12-6.3 12-6 12-5 12-3.5 12-3 12-2.3 12-2.1 12-1.8 12-1.4 12-1.2 12-0.9 12-0.1 12 7.4 12 13.2 12 17 12 16 12 15.5 12 15.3 12 13.2 12 12.6 12 16.6 12 18.4 12 18.5 12 20.4 12 22.8 12 24.6 12 27.4 12 31.8 12 52.4 12 47.4 12 41.5 12 41.2 12 39.7 12 25.9 12 7.7 12 2.9 12 1.4 12 1.4 12 1.4 12 1.8 12 1.8 12 1 12 0 12-2 12-4 12-3.9 12-4.5 12-5.2 12-4.9 12-4.9 12-5.1 12-5 12-4.1 12-3.7 12-3.3 12-3.3 12-3.8 12-3.7 12-2.7 12-2.1 12-2.3 12-2.2 12-2.1 12-2.2 12-2.3 12-2.2 12-3.1 12-7.5 12-11.7 12-13.6 12-15.6 12-18.8 12-21.4 11-20.9" stroke="#000080"/>
<path d="M481.0 738.5l12-15.9 12-17.8 12-15.8 12-14.7 12-18 12-15.9 12-12.5 12-13.1 12-12.1 12-10.4 12-10.4 12-11.6 12-8.2 12-5 12-7.3 12-8.5 12-6.7 12-7.5 12-9.8 12-6.9 12-5.5 12-5.5 12-5.4 12-5.8 12-4.6 12-3.8 12-0.3 12 4.2 12 8.9 12 11.8 12 14.8 12 13 12 13.9 12 15.3 12 12.8 12 11.7 12 9.9 12 7.7 12 6.9 12 6.7 12 4.3 12 1 12-2 12-4.2 12-7.8 12-10 12-9.8 12-7.9 12-7 12-6.7 12-5.8 12-4.9 12-4.4 12-2.8 12-2.1 12-1.8 12-1.6 12-1 12-0.6 12-0.6 12 0.4 12 1.2 12 6.4 12 11.5 12 16.2 12 16 12 16 12 16.9 12 12.8 12 10.9 12 15.9 12 18.7 12 20.1 12 22.3 12 24.5 12 26.5 12 29 12 32.8 12 43.9 12 40.8 12 37.6 12 36.5 12 34.4 12 22.4 12 8.2 12 2.3 12 0.7 12 1 12 1.2 12 1.9 12 1.6 12 0.4 12 0 12-0.6 12-3.5 12-4.9 12-5.1 12-5 12-4 12-3.6 12-5.2 12-5.7 12-4.5 12-3.2 12-2.7 12-3.1 12-3.2 12-3 12-2.3 12-1.9 12-2.3 12-2.3 12-2.3 12-2.2 12-2.3 12-2.7 12-3.6 12-7 12-11.5 12-14.9 12-15.9 12-17.1 12-18.4 11-18.5" stroke="#c8c830"/>
<path d="M481.0 767.9l12-17.4 12-20.3 12-16.9 12-15.8 12-17.5 12-17.5 12-17.4 12-14.5 12-9.7 12-11.3 12-14 12-11.8 12-9.5 12-9.9 12-7.6 12-4.9 12-5.8 12-9.6 12-12.8 12-8.5 12-5.2 12-6.2 12-6.6 12-5.6 12-5.1 12-2.9 12 0.9 12 3.8 12 9.7 12 12.6 12 15.1 12 13.2 12 13.9 12 16.3 12 14.1 12 12.8 12 10.4 12 8.6 12 7.9 12 7.6 12 5.2 12 1.9 12-0.5 12-2.9 12-6.9 12-8.6 12-8.5 12-7.4 12-6.1 12-5.3 12-4.5 12-3.9 12-3.3 12-1.4 12-0.6 12-0.3 12-0.3 12-0.3 12-0.1 12 0.1 12 1.1 12 1.9 12 6.8 12 11.6 12 16 12 16 12 16.3 12 17.5 12 12 12 9.8 12 15.6 12 18.2 12 19.9 12 22.4 12 24.9 12 27.3 12 29.6 12 32.1 12 39.9 12 38.2 12 36.3 12 34.8 12 32.1 12 20.7 12 8.4 12 1.8 12-0.5 12-0.2 12 0.4 12 1.1 12 1.1 12 0.1 12-1.1 12-2.1 12-4.6 12-5.1 12-5.4 12-5.7 12-5 12-4.4 12-6 12-6.3 12-4.6 12-3.9 12-3.2 12-2.9 12-3.2 12-3.1 12-2.1 12-1.8 12-1.9 12-1.5 12-1.2 12-1.1 12-1.4 12-1.5 12-2.7 12-5.8 12-9.9 12-13.1 12-14.6 12-16.1 12-16.4 11-16.3" stroke="#800080"/>
<path d="M481.0 609.7l12-15.3 12-16.7 12-16.4 12-16.8 12-18.1 12-15.9 12-14.7 12-14.5 12-14.5 12-14.9 12-14.2 12-13.1 12-8.7 12-7.9 12-11.6 12-11.3 12-8.6 12-9.3 12-10.1 12-8.7 12-8.1 12-6.6 12-3.6 12-1.9 12-3.7 12-4.6 12 2 12 8.4 12 13.7 12 17.6 12 19.4 12 18.5 12 18.7 12 17.7 12 15 12 13.9 12 12.1 12 10.1 12 9.3 12 9.1 12 5.7 12 2.7 12-1.6 12-4.3 12-7.4 12-9.6 12-9.4 12-8 12-7.3 12-7.1 12-6.8 12-6.3 12-5.4 12-3.8 12-3.2 12-2.8 12-2.2 12-2.1 12-2.2 12-1.7 12-1.2 12-0.4 12 7.2 12 12.9 12 16.4 12 15.7 12 15.5 12 14.6 12 12.5 12 12.1 12 15.7 12 17.7 12 18 12 19.5 12 21.2 12 22.3 12 24.7 12 29.8 12 54.3 12 48.5 12 40.6 12 40.8 12 40.8 12 26.3 12 6 12 1.9 12 1 12 0.7 12 0.9 12 1.4 12 1.6 12 1 12-0.4 12-2.7 12-3.6 12-3.6 12-4.7 12-4.6 12-3.8 12-4.6 12-5.4 12-4.3 12-3.1 12-2.9 12-2.5 12-2 12-2.2 12-2.5 12-2 12-1.9 12-1.8 12-1.6 12-1.1 12-1.3 12-1.8 12-2.2 12-3 12-7.3 12-11.8 12-13.8 12-15.7 12-19.3 12-22.6 11-21.7" stroke="#e022e0"/>
<path d="M481.0 840.2l12-16.7 12-20 12-21.3 12-18.8 12-16 12-16.2 12-15.8 12-12.3 12-9.9 12-10.9 12-9.2 12-8.8 12-9.9 12-8.5 12-5.7 12-3.8 12-5.4 12-8.3 12-11.3 12-8 12-5.1 12-4.3 12-3.9 12-3.7 12-3.5 12-4.8 12-2.7 12 2 12 8.5 12 11.4 12 13.1 12 9.1 12 10.2 12 15.2 12 14 12 12.1 12 9.4 12 7.5 12 6.2 12 5.2 12 3.8 12 0.9 12-1.2 12-3.7 12-7.7 12-9.3 12-9.1 12-8 12-7.4 12-6.6 12-5 12-4 12-3.5 12-1.3 12-1.1 12-1 12-0.3 12-0.4 12 0 12 0.5 12 1.4 12 2.3 12 6.5 12 10.3 12 14.8 12 16.1 12 17.1 12 18.3 12 11.6 12 9 12 15.3 12 18.4 12 21 12 23.5 12 25.9 12 28.6 12 31.1 12 33.4 12 35.5 12 34.9 12 34.4 12 32.3 12 29.2 12 19.6 12 10.1 12 2.8 12 0.3 12 0.4 12 0.9 12 1.6 12 1.5 12 0.7 12 0.2 12-0.3 12-3.8 12-4.9 12-4.9 12-5.3 12-4.3 12-3.3 12-5.1 12-5.6 12-3.9 12-3.3 12-3.3 12-2.7 12-2.5 12-2.7 12-1.9 12-1.9 12-2.1 12-1.7 12-2.1 12-2.4 12-2 12-2.2 12-3.2 12-5.8 12-10.5 12-14.5 12-14.7 12-15.1 12-15.5 11-15.8" stroke="#a0f0f0"/>
<path d="M481.0 697.2l12-12.4 12-16.3 12-17.3 12-18.6 12-16.4 12-13.2 12-13.4 12-14.3 12-13.3 12-11.6 12-9.5 12-10.7 12-10.8 12-8.1 12-6.4 12-5.2 12-6.4 12-10.1 12-11.1 12-7.2 12-5.1 12-6.5 12-6.7 12-5 12-5.1 12-4 12 0.9 12 5.1 12 11.2 12 14.2 12 15.7 12 14.4 12 15.5 12 16.5 12 14 12 12.5 12 10.4 12 8.5 12 7.6 12 7.5 12 5.2 12 2.3 12-1.1 12-3.8 12-7.4 12-9.1 12-8.6 12-7.4 12-7.3 12-7 12-5.4 12-4.2 12-4.2 12-2.6 12-2.2 12-2.1 12-1.7 12-1.3 12-1.4 12-1.3 12-0.7 12-0.1 12 6 12 10.9 12 14.8 12 15.3 12 15.4 12 15.6 12 11.8 12 10.2 12 15.1 12 17.6 12 18.7 12 20.8 12 23.1 12 25.1 12 27.7 12 31.2 12 46.8 12 44 12 39.2 12 37.8 12 36.6 12 24.3 12 8.2 12 3 12 1.4 12 1.4 12 1.9 12 2.4 12 2 12 1.3 12 0.4 12-1 12-3.2 12-3.7 12-4.3 12-4.6 12-4.2 12-4 12-4.7 12-4.8 12-3.7 12-3 12-3.5 12-3.4 12-3 12-2.9 12-2.2 12-2 12-2.2 12-2 12-1.8 12-1.8 12-2 12-2.4 12-3 12-6.9 12-11.3 12-14 12-15.4 12-17.7 12-19.4 11-18.9" stroke="#a0f0f0"/>
<path d="M481.0 817.8l12-18.6 12-20.6 12-20.6 12-22.2 12-17.9 12-15.1 12-15.1 12-14.8 12-14.8 12-13.4 12-12.8 12-11.8 12-6.5 12-5.2 12-8.5 12-9.1 12-6.5 12-6 12-10 12-8.9 12-5.7 12-5.3 12-4.9 12-3.3 12-3.3 12-4.7 12-1.5 12 3.5 12 10.2 12 13.3 12 14.5 12 11.5 12 12.5 12 16.1 12 14.8 12 12.8 12 9.7 12 8.2 12 7.1 12 6.3 12 4.1 12 0.6 12-1.2 12-3.1 12-7.6 12-9.5 12-8.7 12-7.5 12-7.3 12-6.8 12-4.7 12-3.6 12-3 12-1.1 12-0.7 12 0.1 12 0.6 12 0.6 12 0.7 12 1.2 12 2.3 12 2.7 12 7.2 12 11.8 12 16.3 12 16.6 12 17.9 12 19.2 12 12 12 9.7 12 16.6 12 18.9 12 20.4 12 23 12 26.4 12 29.1 12 30.9 12 32.8 12 36 12 35.1 12 34.4 12 33.1 12 29.9 12 19.3 12 8.6 12 1.9 12 0.5 12 0.3 12 0.4 12 1.5 12 1.4 12 0.6 12-0.4 12-1.1 12-4.5 12-5.3 12-5.1 12-5 12-4.6 12-4.5 12-5.8 12-6.2 12-4.8 12-3.8 12-3.3 12-3.2 12-3.2 12-3.3 12-2.4 12-1.7 12-1.5 12-1.1 12-1.2 12-1.5 12-1.6 12-1.4 12-1.9 12-4.7 12-8.9 12-12.9 12-14 12-13.8 12-13.8 11-14.4" stroke="#2222ee"/>
<path d="M481.0 711.7l12-15.7 12-15.2 12-16 12-18.3 12-15.6 12-13.8 12-12.8 12-11.4 12-11.7 12-12.4 12-12 12-10.3 12-8.7 12-6.7 12-6.4 12-9.1 12-9.2 12-8.1 12-9.2 12-7.3 12-6 12-6.5 12-5.6 12-5.1 12-5.1 12-4.5 12-1.2 12 3.7 12 10.2 12 13.4 12 15.4 12 12.4 12 12.8 12 15.4 12 13.7 12 12.3 12 10.4 12 8.5 12 7.8 12 7.7 12 4.9 12 1.7 12-1.4 12-3.8 12-7.4 12-9.2 12-8.7 12-7.7 12-7.3 12-6.6 12-5.7 12-4.9 12-4 12-2.3 12-1.7 12-1.4 12-1.1 12-1.1 12-0.8 12-0.6 12 0 12 1.1 12 6.7 12 11.2 12 15.8 12 16.2 12 16.1 12 16.3 12 11.6 12 10.2 12 15.6 12 17.7 12 18.8 12 21.1 12 23.4 12 25.5 12 28.2 12 31.9 12 46.1 12 42.1 12 37.6 12 37.4 12 35.8 12 23.4 12 8.1 12 2.7 12 0.9 12 0.9 12 1.2 12 2 12 1.7 12 0.9 12 0.3 12-1.4 12-4.2 12-4.8 12-4.6 12-4.4 12-3.9 12-4.1 12-5.5 12-5.3 12-3.7 12-3.2 12-3.1 12-2.7 12-3 12-3 12-2.4 12-2.5 12-2 12-1.7 12-1.8 12-1.7 12-2 12-2.3 12-3 12-6.4 12-11.1 12-14 12-14.8 12-16.7 12-18.4 11-18.4" stroke="#c8c830"/>
<path d="M481.0 587.8l12-13.4 12-16.4 12-16.9 12-17.7 12-15.9 12-12.2 12-12.3 12-13.1 12-14.7 12-17.6 12-13.7 12-10 12-9.7 12-7 12-6.1 12-9.5 12-10.1 12-8.7 12-7.9 12-6.2 12-6.1 12-6.4 12-5.9 12-5.5 12-4.2 12-3.3 12 1.5 12 8.3 12 15 12 17.8 12 18.2 12 18.1 12 17.7 12 15.9 12 13.7 12 12.7 12 11.2 12 9.6 12 8.8 12 9.5 12 5.9 12 2.8 12-1.6 12-4.5 12-7.4 12-9.1 12-8.3 12-6.6 12-5.9 12-5.5 12-5.3 12-5 12-3.9 12-2.6 12-1.7 12-1.2 12-1.4 12-0.5 12 0 12-0.1 12-0.3 12 0 12 7.7 12 13.6 12 17.4 12 16.6 12 15.9 12 15.2 12 12.9 12 12.1 12 16.1 12 17.9 12 18.1 12 19.5 12 21.6 12 23 12 25.5 12 30.3 12 53.1 12 47.6 12 40.4 12 40.6 12 40.5 12 26.2 12 6.5 12 2.1 12 1 12 0.9 12 0.9 12 1.3 12 1.4 12 0.4 12-0.7 12-2.5 12-4.4 12-4.8 12-5.1 12-5.8 12-5.7 12-5.7 12-6.3 12-5.5 12-4.3 12-4 12-4.1 12-4 12-3.6 12-3.4 12-3.4 12-3.1 12-2.4 12-2 12-1.9 12-2 12-2.2 12-2.3 12-2.9 12-6.6 12-10.9 12-13.6 12-15.4 12-18.4 12-21.6 11-21.1" stroke="#008000"/>
<path d="M481.0 798.0l12-15.7 12-18.7 12-17.8 12-16.7 12-16.9 12-17.4 12-15.5 12-12 12-11 12-11.5 12-10.4 12-9.8 12-8.3 12-6.8 12-7.5 12-8.2 12-6.8 12-7 12-11.6 12-10.5 12-7.1 12-6.5 12-5.5 12-4 12-4.4 12-5.5 12-2.7 12 3.7 12 11.5 12 12.6 12 14.1 12 11.8 12 11.9 12 15.4 12 13.8 12 12 12 10.4 12 8.7 12 7.2 12 6.5 12 4.6 12 1.4 12-0.9 12-3.4 12-7.6 12-9.6 12-9.4 12-8 12-7.1 12-6.6 12-5.7 12-5 12-4.1 12-2 12-1.8 12-1.3 12-0.9 12-1 12-1 12-0.7 12 0.8 12 1.5 12 6.3 12 10.9 12 15.6 12 15.9 12 17 12 18.4 12 12.8 12 10.3 12 16.1 12 19.2 12 21.3 12 23.8 12 26.5 12 29.2 12 31.6 12 34 12 39.4 12 38.1 12 36.4 12 34.4 12 31.4 12 20.5 12 9.5 12 3.1 12 0.6 12 0.2 12 0.1 12 0.9 12 1 12 0.5 12-0.7 12-2.3 12-5.3 12-6 12-6.4 12-6.4 12-5.5 12-5.1 12-6.7 12-7 12-5.2 12-4.3 12-3.8 12-3.6 12-3.2 12-3.3 12-2.6 12-2 12-1.5 12-1.7 12-1.9 12-1.9 12-1.8 12-1.8 12-2.6 12-6.1 12-10.9 12-13.9 12-14.4 12-15.8 12-16.8 11-16.6" stroke="#e022e0"/>
<path d="M481.0 513.0l12-13.5 12-10.8 12-12.3 12-15.8 12-15.9 12-14 12-14.2 12-14.4 12-16.4 12-15.6 12-10.1 12-10.8 12-10 12-8.5 12-10.3 12-7.8 12-7.5 12-10.8 12-9.7 12-8.1 12-7.6 12-5.3 12-3.9 12-4.8 12-4.5 12-3.5 12 2.8 12 10.3 12 15.6 12 18.1 12 19.2 12 19.1 12 18.5 12 17.1 12 14.2 12 12.7 12 11.2 12 9.4 12 9.1 12 9.8 12 5.7 12 3 12-2.6 12-5.3 12-7.2 12-10 12-9.8 12-7.5 12-6.5 12-6.2 12-6.1 12-5.8 12-4.9 12-3.8 12-3 12-2.5 12-2 12-1.3 12-1.2 12-1.4 12-1.6 12-0.8 12 8.4 12 13.8 12 16.6 12 16.4 12 15.8 12 13.4 12 12.7 12 13.5 12 16.5 12 17.1 12 16.6 12 18.5 12 20.1 12 20.7 12 23.5 12 29.3 12 60.2 12 52.8 12 42.8 12 43.6 12 44.7 12 29.2 12 5.6 12 1.7 12 0.9 12 0.8 12 0.8 12 1.3 12 1.4 12 0.7 12-0.9 12-3.2 12-4 12-4 12-5 12-5.6 12-5.1 12-5.5 12-5.9 12-4.9 12-4.1 12-3.7 12-3.3 12-3.2 12-3.1 12-3 12-2.7 12-2.8 12-2.2 12-1.2 12-1.4 12-1.8 12-1.4 12-1.4 12-2.2 12-7.2 12-11.4 12-12.9 12-15.4 12-20.3 12-24.6 11-22.5" stroke="#ffffff"/>
<path d="M481.0 634.2l12-16.5 12-16.1 12-15.4 12-17.8 12-19.9 12-15.6 12-13 12-13.1 12-12 12-12 12-11.6 12-11.9 12-9.7 12-7.8 12-6.8 12-6.3 12-7.2 12-8.4 12-9.8 12-6.5 12-4.4 12-5.9 12-5.6 12-3.6 12-2.4 12-2.9 12 1.6 12 8.1 12 14.7 12 16.8 12 16.9 12 16.2 12 17.1 12 17.3 12 14.6 12 12.5 12 10.7 12 9.3 12 8.7 12 8.3 12 5.4 12 2.7 12-1.9 12-4.7 12-7.3 12-9.3 12-9.2 12-7.7 12-6.6 12-6.6 12-5.7 12-5 12-4.8 12-3.1 12-2.2 12-1.9 12-1.6 12-1.2 12-1.1 12-1.2 12-1 12 0.3 12 7.5 12 12.3 12 15.8 12 15.5 12 15.5 12 15.6 12 12.6 12 11.6 12 15.9 12 18 12 18.5 12 20 12 22.1 12 23.8 12 26.4 12 30.5 12 50.2 12 45.4 12 39 12 39 12 38 12 24.4 12 6.4 12 1.4 12 0 12-0.1 12 0.1 12 1 12 0.8 12 0.4 12-0.7 12-2.7 12-4.6 12-4.8 12-5.3 12-5.5 12-5 12-5.1 12-5.6 12-5 12-3.9 12-3.2 12-3 12-3 12-2.3 12-2.2 12-2 12-1.7 12-1.5 12-0.9 12-0.4 12-0.7 12-1.2 12-1.5 12-2.2 12-6.1 12-10.2 12-12.9 12-15.2 12-17.9 12-20.2 11-19.9" stroke="#e62222"/>
<path d="M481.0 677.5l12-16.1 12-14.4 12-15.4 12-17.8 12-18.3 12-15.5 12-12.2 12-11.8 12-10.9 12-11.9 12-10.6 12-8.8 12-10.5 12-8.4 12-4.7 12-6.5 12-9.2 12-9.1 12-8.9 12-8 12-7.8 12-5.7 12-4.3 12-4.2 12-4.8 12-5 12-0.2 12 5.7 12 11.5 12 14 12 16.2 12 14.3 12 14.2 12 15.1 12 12.6 12 12 12 10.9 12 8.8 12 7.4 12 7.2 12 4.5 12 1.7 12-1.9 12-4.3 12-7.9 12-9.8 12-8.8 12-7.5 12-6.6 12-5.9 12-4.8 12-4.4 12-3.7 12-1.5 12-0.9 12-0.5 12 0 12 0.4 12 0.3 12 0.4 12 1.4 12 2.2 12 8.5 12 13.4 12 17.3 12 17.1 12 17 12 17.1 12 13.1 12 11.7 12 16.4 12 18.1 12 19.2 12 21.2 12 23.3 12 25.2 12 28 12 31.9 12 45.4 12 41.3 12 37.2 12 37.2 12 35.5 12 22.6 12 7.1 12 1.7 12 0.2 12 0 12 0.3 12 1.2 12 0.8 12 0.1 12-0.8 12-2.1 12-3.8 12-4.6 12-5.2 12-5.2 12-4.2 12-4 12-5.1 12-4.8 12-3.5 12-3.1 12-2.9 12-2.4 12-2.3 12-2.2 12-2 12-1.8 12-1.6 12-1.4 12-1.3 12-1.5 12-2 12-1.8 12-2.7 12-7.1 12-11.3 12-13.6 12-15.4 12-17.8 12-19.7 11-19.4" stroke="#0000a0"/>
<path d="M481.0 631.2l12-19.9 12-18.5 12-13.9 12-16 12-17 12-15.2 12-15.8 12-14.7 12-11.7 12-12.7 12-13.2 12-11 12-8.3 12-8 12-8.2 12-7.3 12-8.4 12-9 12-9.8 12-8.7 12-6.3 12-4.7 12-2.8 12-2.9 12-3.8 12-3.1 12 1.9 12 8 12 12.5 12 15.9 12 18.6 12 16.7 12 17.2 12 17.4 12 14 12 13 12 11.9 12 10 12 9.3 12 9.3 12 6 12 3.1 12-0.8 12-3.6 12-7.1 12-9.6 12-9 12-7.3 12-6.7 12-5.8 12-5.2 12-5.1 12-4.4 12-2.7 12-2.2 12-2.2 12-1.8 12-1.2 12-1.2 12-1.5 12-1.2 12-0.4 12 6.9 12 12.1 12 15.5 12 15.3 12 15.2 12 14.6 12 11.7 12 11.1 12 15.2 12 16.7 12 17.6 12 20 12 21.8 12 23 12 25.4 12 29.9 12 50.6 12 46.1 12 39.8 12 39.4 12 38.7 12 25.1 12 6.6 12 2.1 12 1 12 0.7 12 1 12 1.6 12 1.4 12 0.8 12-0.2 12-2.1 12-3.6 12-3.7 12-4 12-4.3 12-4.3 12-4.5 12-4.8 12-4.1 12-3.5 12-3.2 12-2.6 12-2.3 12-2.2 12-2.5 12-2.5 12-1.9 12-1.8 12-1.6 12-1.5 12-1.4 12-1.7 12-2.1 12-3.2 12-7 12-11.1 12-13.9 12-16.3 12-19 12-21.4 11-21" stroke="#22c022"/>
<path d="M481.0 530.8l12-13.6 12-12.8 12-11.7 12-14.9 12-19.4 12-16.3 12-12.4 12-12.3 12-12.8 12-15 12-13.9 12-11.4 12-9.4 12-7.1 12-8 12-10.7 12-8.9 12-7.6 12-9 12-8.1 12-6.3 12-6.4 12-5.3 12-2.9 12-3.1 12-4.9 12 1.1 12 9.8 12 14.7 12 17.5 12 19.4 12 19.9 12 19.6 12 17.4 12 14.5 12 12.8 12 11 12 9.7 12 9.3 12 9.9 12 6.1 12 3.3 12-2 12-4.9 12-7.4 12-9.6 12-9 12-7.2 12-6.6 12-6 12-5.8 12-5.8 12-5.4 12-3.6 12-2.5 12-2.1 12-1.9 12-1.3 12-0.9 12-1 12-1.3 12-0.4 12 8.4 12 13.9 12 17.1 12 16.5 12 15.8 12 14.5 12 13.8 12 13.3 12 16.5 12 17.7 12 17.4 12 18.7 12 20.9 12 22.1 12 24.6 12 29.5 12 57.6 12 51.1 12 41.9 12 42.4 12 42.6 12 27.4 12 5.6 12 1.7 12 0.5 12 0.5 12 0.6 12 0.7 12 1.2 12 0.8 12-0.9 12-3.1 12-4.2 12-4.3 12-4.6 12-4.8 12-4.6 12-5 12-5.6 12-4.7 12-3.3 12-2.7 12-2.7 12-2.9 12-2.7 12-2.2 12-1.7 12-1.7 12-1.5 12-1.3 12-1.2 12-1 12-0.9 12-1.3 12-2.2 12-6.6 12-10.9 12-13.1 12-15.5 12-19.5 12-23 11-22" stroke="#800080"/>
<path d="M481.0 705.0l12-13 12-16.7 12-20.7 12-18.4 12-13.2 12-15.6 12-18.2 12-15.4 12-12.7 12-11.9 12-10 12-9.3 12-8.9 12-8.9 12-7.1 12-6.5 12-8.2 12-9.7 12-10.4 12-8.5 12-6.2 12-4.4 12-5.5 12-5.2 12-3.8 12-4.3 12 0 12 5.5 12 11.6 12 14.4 12 15.5 12 13.9 12 15.5 12 16.6 12 13.9 12 12.4 12 10.3 12 8.8 12 8.1 12 7.7 12 5.2 12 2.4 12-1.6 12-4 12-7.4 12-10 12-9.2 12-7 12-6.8 12-6.8 12-5.8 12-5.3 12-4.6 12-2.9 12-2 12-1.5 12-1.4 12-1.3 12-0.6 12-0.3 12 0.3 12 1.2 12 7.4 12 12.7 12 16.9 12 17.2 12 17.3 12 17.4 12 12.9 12 11.6 12 17.1 12 19.2 12 20.2 12 22.4 12 24.7 12 26.6 12 28.9 12 32.3 12 45.1 12 41.8 12 37.6 12 36.6 12 34.7 12 22.1 12 7.3 12 1.9 12 0.1 12 0.1 12 0 12 0.4 12 0.4 12-0.6 12-1.5 12-2.7 12-5 12-5.6 12-5.9 12-6.1 12-5.6 12-5.5 12-6.1 12-5.8 12-5 12-4.1 12-3.7 12-3.6 12-3.5 12-3.3 12-2.2 12-1.7 12-2.1 12-2.2 12-1.8 12-1.7 12-1.6 12-2.2 12-2.8 12-5.9 12-10.5 12-13.4 12-14.8 12-17 12-19 11-18.8" stroke="#e62222"/>
<path d="M481.0 595.3l12-13 12-16.5 12-17.4 12-18.1 12-16.5 12-15 12-17.6 12-17.2 12-16.9 12-15.6 12-12.6 12-13.3 12-11.1 12-8.6 12-8.6 12-10.3 12-12.5 12-10.9 12-7.8 12-7.3 12-7.6 12-6.9 12-4.5 12-3.7 12-5.4 12-4.9 12 2.1 12 10.5 12 15.4 12 17 12 18.7 12 18.8 12 18.8 12 18 12 15.1 12 13.4 12 11.5 12 9.8 12 9.5 12 9.8 12 6.3 12 3.2 12-1.7 12-4.6 12-7.4 12-9.4 12-8.9 12-7.1 12-6.1 12-6 12-5.7 12-5.5 12-4.8 12-3.2 12-2.7 12-2.1 12-1.7 12-1.5 12-1.2 12-1.2 12-1.1 12-0.5 12 7.4 12 12.8 12 16.4 12 15.9 12 15.1 12 14.1 12 12.1 12 11.6 12 15.6 12 17.3 12 16.9 12 18.3 12 20.4 12 21.5 12 24.2 12 29.2 12 55.3 12 49.2 12 41.3 12 41.5 12 41.2 12 26.4 12 5.1 12 1.5 12 1.1 12 0.7 12 0.7 12 1 12 1.5 12 1.4 12 0.2 12-2.6 12-3.8 12-3.8 12-4 12-4.5 12-4.7 12-4.9 12-4.6 12-3.9 12-3.6 12-3.3 12-2.5 12-2.3 12-2.6 12-2.6 12-2.3 12-2.2 12-2.1 12-1.6 12-0.9 12-1.3 12-2.2 12-2.1 12-2.5 12-7.2 12-11.2 12-13.4 12-15.8 12-19.5 12-23.2 11-22.7" stroke="#e62222"/>
<path d="M481.0 684.0l12-14 12-17 12-18.7 12-20 12-18 12-15.4 12-14.1 12-12.6 12-12.4 12-14.7 12-12.6 12-8.4 12-8.2 12-9.4 12-8.4 12-6.3 12-5.3 12-7.6 12-11.1 12-8.6 12-5.1 12-5.5 12-6.6 12-5.8 12-4.9 12-3.5 12-0.1 12 4.9 12 12.3 12 14.5 12 16 12 15.4 12 14.6 12 14.8 12 13.8 12 13.3 12 11 12 9.1 12 8.5 12 8.8 12 5.7 12 2.4 12-0.9 12-2.9 12-6.3 12-8.6 12-8.3 12-6.9 12-5.8 12-5.1 12-4.8 12-4.2 12-3 12-1.7 12-1.5 12-0.7 12-0.7 12-1.1 12-0.3 12 0 12-0.2 12 0.2 12 6.5 12 11.2 12 14.7 12 14.9 12 15 12 14.8 12 11.6 12 10.1 12 14.4 12 16.8 12 18.4 12 20.3 12 22.5 12 24.1 12 27 12 31.5 12 47.8 12 43.6 12 38.9 12 38.3 12 37 12 24 12 7.7 12 2.5 12 1.1 12 1.2 12 1.6 12 1.8 12 1.5 12 0.7 12-0.3 12-1.8 12-4 12-5.2 12-5.2 12-4.9 12-4.7 12-5.3 12-6.2 12-5.8 12-4.7 12-4.2 12-3.7 12-3.7 12-3.8 12-3.6 12-3.4 12-2.8 12-2.5 12-2.6 12-2.4 12-2.1 12-2.5 12-2.7 12-2.7 12-6.5 12-11.2 12-13.5 12-14.9 12-17.3 12-19.7 11-18.5" stroke="#0000a0"/>
<path d="M481.0 673.7l12-14 12-15.3 12-17 12-16.4 12-14.2 12-12.7 12-13.2 12-13.3 12-13.4 12-12.5 12-11.3 12-10.7 12-8.4 12-7.7 12-8.2 12-9.2 12-8.8 12-8.7 12-10.4 12-8.1 12-6.7 12-6.8 12-5.2 12-3.7 12-4.5 12-4.1 12 0.5 12 6.5 12 12.9 12 15.5 12 16.8 12 15.7 12 16.6 12 16.2 12 12.9 12 12 12 10.4 12 8.9 12 7.9 12 7.4 12 4.4 12 1.3 12-2.1 12-4.4 12-7.6 12-9.8 12-9.2 12-7.7 12-7.2 12-6.4 12-5.3 12-4.4 12-3.8 12-2.1 12-1.1 12-0.5 12-0.1 12 0.4 12 0.9 12 0.9 12 1.3 12 2.2 12 8.8 12 13.7 12 17.4 12 17.5 12 17.8 12 17.9 12 13.6 12 11.6 12 16 12 18.7 12 19.7 12 20.7 12 22.7 12 25.3 12 27.3 12 30 12 44 12 40.7 12 36.4 12 36.3 12 34.7 12 22.2 12 6.2 12 0.9 12-0.4 12-0.1 12 0.5 12 1.1 12 1.1 12 0.4 12-0.4 12-1.6 12-3.7 12-4 12-4.2 12-4.5 12-4.2 12-3.7 12-4.6 12-5 12-4 12-3.2 12-3.2 12-3.1 12-3.4 12-3.7 12-2.9 12-2.4 12-2.6 12-2.6 12-2.1 12-1.9 12-2.4 12-2.8 12-3.3 12-6.5 12-10.7 12-12.9 12-14.2 12-16.7 12-18.6 11-17.6" stroke="#808000"/>
<path d="M481.0 690.3l12-14.9 12-15 12-15.2 12-17.9 12-19.2 12-15.7 12-11.4 12-12.9 12-14.1 12-12.3 12-12 12-12.1 12-8.8 12-6.1 12-6.2 12-6.3 12-6.6 12-9.1 12-9.5 12-5.6 12-5.5 12-6.4 12-4.2 12-2.6 12-3.3 12-3.8 12-0.2 12 5.8 12 12.4 12 13.9 12 15.4 12 14.5 12 15.3 12 16.5 12 13.5 12 12.2 12 10.5 12 8.2 12 7.4 12 7.4 12 4.3 12 1.3 12-1.8 12-4.4 12-8.3 12-10.2 12-9.2 12-7.7 12-7.7 12-7.2 12-5.8 12-5.1 12-5.1 12-3.2 12-1.7 12-1.3 12-1.4 12-1.1 12-0.8 12-0.4 12 0.3 12 1.1 12 7.5 12 12.7 12 16.5 12 16.8 12 16.9 12 16.8 12 13.2 12 11.9 12 16.6 12 18.9 12 19.8 12 21.9 12 24.5 12 26.4 12 28.7 12 32.4 12 46.2 12 42.3 12 38.4 12 37.6 12 35.6 12 23.1 12 7.8 12 2.1 12 0.2 12 0.1 12 0.4 12 1 12 0.9 12 0.1 12-1 12-2.8 12-5.1 12-5.4 12-5.7 12-6 12-5.8 12-5.2 12-5.9 12-6.5 12-5.3 12-4.2 12-4.1 12-3.7 12-3.4 12-3.6 12-2.9 12-2.4 12-2.6 12-2.5 12-2 12-2 12-2.1 12-2 12-2.9 12-6.9 12-11.4 12-13.6 12-14.7 12-17.3 12-19.3 11-18.8" stroke="#f0a0f0"/>
<path d="M481.0 797.5l12-18.1 12-19.2 12-17.5 12-19.2 12-19.8 12-18.6 12-14 12-9.4 12-10.5 12-10.9 12-10.7 12-12.7 12-11.1 12-7.4 12-5.9 12-6 12-6.6 12-9.9 12-12.4 12-7.9 12-5.1 12-7 12-8 12-5.3 12-3.8 12-4.3 12-2.2 12 2.3 12 10 12 12.3 12 13.4 12 11.4 12 13 12 15.8 12 13.7 12 12.5 12 10.3 12 9.1 12 8.5 12 7.6 12 5.4 12 2.5 12 0.1 12-2.3 12-6 12-7.7 12-7.6 12-6.5 12-6 12-5.1 12-3.9 12-3.4 12-3 12-1.3 12-0.9 12-0.6 12-0.6 12-0.4 12-0.1 12-0.4 12 0.5 12 1.1 12 5 12 9.4 12 14.7 12 15 12 15.2 12 16.8 12 11.4 12 8.7 12 14.4 12 17.7 12 19.6 12 22 12 25.3 12 27.9 12 29.9 12 32.5 12 39.3 12 38.2 12 36.4 12 34.8 12 32.3 12 21.1 12 9.6 12 3.4 12 1.3 12 1.2 12 1.3 12 1.7 12 1.7 12 1.1 12 0.2 12-1.1 12-4.1 12-4.8 12-5.3 12-5.6 12-4.4 12-4.2 12-6.3 12-6.4 12-5 12-4.3 12-3.5 12-3.3 12-3.9 12-3.7 12-2.6 12-2.4 12-2.5 12-2.5 12-2.4 12-1.8 12-1.6 12-1.9 12-3 12-6.1 12-9.7 12-13.4 12-14.4 12-14.9 12-15.8 11-15.7" stroke="#800080"/>
<path d="M481.0 593.2l12-16.2 12-17.2 12-13.8 12-14 12-16.7 12-17.3 12-16.4 12-14.5 12-13.2 12-13.8 12-12.4 12-12 12-11.6 12-10.8 12-11.7 12-10.6 12-9.6 12-9.9 12-9.9 12-8.8 12-6.8 12-6.7 12-6.8 12-5.5 12-4.5 12-4 12 1.1 12 8.6 12 15 12 17.4 12 17.9 12 17.7 12 17.5 12 16.8 12 14.5 12 13.1 12 11.8 12 10.1 12 9.4 12 9.8 12 6 12 3.4 12-1.3 12-4 12-6.8 12-8.8 12-8.3 12-7.2 12-6.5 12-5.8 12-5.4 12-5.3 12-4.3 12-2.7 12-2.4 12-2 12-1.2 12-1.2 12-1.2 12-0.7 12-0.8 12-0.2 12 8.1 12 13.2 12 16.3 12 16 12 15.7 12 14.4 12 12.7 12 12.6 12 15.9 12 17.5 12 17.9 12 19.3 12 21.2 12 22 12 24.5 12 29.8 12 55 12 49.1 12 41.2 12 41.6 12 41.8 12 27.1 12 5.6 12 1.3 12 1.1 12 1.1 12 0.9 12 0.6 12 0.7 12 0.7 12-0.5 12-2.7 12-4.1 12-4.6 12-4.8 12-5 12-5.3 12-5.4 12-5.5 12-4.6 12-3.7 12-3.6 12-2.9 12-2.4 12-2.7 12-2.5 12-2.1 12-2.1 12-1.4 12-0.9 12-0.7 12-0.7 12-1.2 12-1.2 12-1.9 12-6.7 12-10.7 12-13 12-15.3 12-18.8 12-21.8 11-20.8" stroke="#2222ee"/>
<path d="M481.0 551.5l12-12.5 12-14.2 12-15.1 12-19.4 12-20.4 12-13.3 12-11.2 12-14.4 12-15.7 12-16.2 12-11.1 12-7.4 12-9 12-11.9 12-12 12-9.1 12-7.1 12-8.1 12-8.9 12-7.1 12-5.5 12-3.9 12-1.9 12-2.1 12-2.9 12-2.9 12 3.4 12 10.1 12 15.1 12 18.7 12 20.4 12 19.7 12 19.4 12 17.9 12 14.7 12 13.6 12 12.2 12 9.8 12 9.3 12 9.5 12 5.6 12 2.8 12-2.5 12-5.5 12-7.6 12-9.7 12-9.5 12-8.1 12-7.3 12-6.9 12-6.5 12-6.4 12-5.7 12-3.7 12-2.8 12-2.4 12-1.9 12-1.4 12-1.2 12-1.2 12-1.3 12-0.8 12 7.7 12 13.3 12 16.8 12 16.2 12 15.1 12 14.2 12 13 12 12.5 12 15.7 12 17.3 12 17.3 12 19.1 12 20.7 12 21.6 12 24.3 12 29.3 12 56.4 12 50.3 12 41.6 12 41.8 12 42 12 27.4 12 6.1 12 2 12 0.8 12 0.7 12 1.5 12 1.7 12 1.5 12 1.1 12 0.3 12-2.2 12-3.7 12-3.5 12-4 12-4.7 12-4.6 12-4.9 12-5 12-4.2 12-3.8 12-3.4 12-2.9 12-3 12-3.2 12-3.1 12-2.8 12-2.3 12-2 12-2.2 12-2.1 12-1.7 12-2.1 12-2.4 12-2.9 12-7.1 12-11.2 12-13.4 12-15.7 12-19.7 12-23.2 11-21.9" stroke="#808000"/>
<path d="M481.0 716.7l12-15.2 12-17.7 12-18.1 12-17.8 12-14.7 12-16.9 12-17.5 12-12.7 12-11.3 12-12.9 12-14.2 12-10.8 12-4.6 12-5.6 12-10 12-8.8 12-6.8 12-7.7 12-8.8 12-6.6 12-4.7 12-6.4 12-5.5 12-2 12-3 12-4.5 12 0.1 12 6.2 12 11.8 12 14.2 12 16.5 12 14.4 12 14.7 12 16.7 12 14.5 12 12.3 12 10 12 8.9 12 8.1 12 7 12 4.9 12 1.8 12-2 12-4 12-7.3 12-9.4 12-9.2 12-7.9 12-7.3 12-6.4 12-5.7 12-5.2 12-3.8 12-1.8 12-1.5 12-1.4 12-0.7 12 0.2 12 0.1 12 0 12 1 12 1.7 12 7.3 12 12.4 12 16.8 12 16.9 12 17.1 12 17.1 12 12.7 12 11.3 12 16.4 12 18.5 12 20.1 12 22.5 12 24.4 12 26.7 12 29 12 31.5 12 42.7 12 40.2 12 36.6 12 35.8 12 33.8 12 21.9 12 8.2 12 1.7 12-0.4 12-0.3 12 0.2 12 1 12 1.1 12 0.1 12-1.3 12-2.3 12-4.7 12-5.5 12-5.9 12-5.8 12-4.9 12-4.4 12-6 12-6.2 12-4.8 12-4 12-3.3 12-2.9 12-3.3 12-3.3 12-2.6 12-2.2 12-2.2 12-1.9 12-1.3 12-1.4 12-2 12-2.1 12-2.9 12-6.7 12-11 12-13.5 12-14.9 12-17.2 12-18.5 11-17.7" stroke="#e62222"/>
<path d="M481.0 702.6l12-15.6 12-17.9 12-18 12-19.2 12-19.2 12-17 12-13.8 12-11.1 12-12 12-14.2 12-11.7 12-9.4 12-8.6 12-8.9 12-9.4 12-9.2 12-8.5 12-8.7 12-10.2 12-7.2 12-5.6 12-6.5 12-5.5 12-3.9 12-4.7 12-4.9 12 1 12 6.9 12 12.6 12 14.9 12 16.4 12 14.7 12 15.5 12 16.7 12 14.2 12 13.4 12 11.2 12 9 12 8.3 12 8 12 5.3 12 2.4 12-1.3 12-3.9 12-7.6 12-9.9 12-9.4 12-8.1 12-7.8 12-7.1 12-6 12-5.4 12-5.1 12-3.4 12-2.5 12-2.4 12-2.3 12-1.6 12-1 12-0.9 12-0.3 12 0.4 12 6.9 12 12.2 12 16.4 12 16.5 12 16.5 12 16.8 12 13.2 12 11.9 12 16.4 12 18.7 12 20.1 12 22 12 24.4 12 26.7 12 29.2 12 32.7 12 47 12 43.4 12 39.1 12 37.9 12 36.2 12 23.8 12 8.6 12 3.2 12 1.5 12 1 12 1.2 12 2 12 1.9 12 1 12 0.2 12-1.4 12-3.9 12-4.3 12-4.9 12-5.2 12-4.8 12-4.7 12-5.2 12-5.2 12-4.5 12-4.1 12-3.5 12-3.3 12-3.3 12-3.1 12-2.3 12-2 12-2.1 12-2 12-1.8 12-2.1 12-2.4 12-2.4 12-3.5 12-7 12-10.9 12-13.7 12-15.2 12-17.6 12-18.9 11-18.5" stroke="#800080"/>
<path d="M481.0 761.9l12-15.6 12-17.4 12-19.3 12-20.4 12-19.3 12-15.6 12-11.7 12-12.5 12-14.3 12-12.2 12-10.3 12-12 12-11.6 12-8.8 12-6.6 12-5.8 12-7.8 12-9.8 12-10.1 12-7.4 12-7 12-6.4 12-5.4 12-5.5 12-4.7 12-4.5 12-1.9 12 3.8 12 11 12 13 12 14.2 12 12.7 12 13.9 12 15.8 12 13.9 12 12.2 12 9.4 12 7.7 12 7.1 12 7 12 4.7 12 1.1 12-1.8 12-4 12-7.7 12-9.7 12-9.5 12-8.1 12-7.9 12-7.1 12-5.6 12-5 12-4.8 12-2.9 12-1.9 12-1.5 12-1.4 12-0.9 12-0.3 12-0.2 12 0.5 12 1.3 12 6.8 12 11.8 12 16.6 12 16.7 12 16.9 12 17.7 12 12.9 12 10.7 12 16.3 12 19.4 12 20.9 12 22.6 12 25.3 12 28.2 12 30.1 12 32.3 12 42.9 12 40.6 12 37.2 12 36 12 33.7 12 21.7 12 8.6 12 3.4 12 1.1 12 0.4 12 0.8 12 1.6 12 1.6 12 1 12 0 12-1.3 12-4 12-5 12-4.9 12-4.8 12-4.5 12-4.2 12-5.3 12-5.5 12-4.2 12-3.8 12-3.6 12-3.1 12-3.1 12-2.9 12-2.6 12-2.6 12-1.9 12-1.5 12-2.3 12-2.6 12-2.1 12-2.5 12-3.8 12-6.5 12-10.9 12-14.6 12-15.4 12-16.4 12-18.1 11-18.4" stroke="#2222ee"/>
<path d="M481.0 742.3l12-16.2 12-17.1 12-18.4 12-20.7 12-16.7 12-13.4 12-15.2 12-12.6 12-10.3 12-13.3 12-11.8 12-8.1 12-8 12-7.4 12-7.2 12-6.5 12-5.2 12-7.7 12-10.2 12-6.7 12-5.1 12-6 12-5.3 12-4.1 12-4.6 12-4.2 12 0.4 12 3.8 12 9.3 12 13.2 12 14.5 12 11.6 12 12.9 12 15.3 12 13.5 12 11.7 12 9.3 12 8.1 12 7.1 12 6.6 12 4.5 12 1.6 12-1.6 12-3.8 12-7.4 12-9.3 12-8.7 12-7.2 12-7 12-6.1 12-4.3 12-3.6 12-3.3 12-1.8 12-0.8 12 0 12 0.1 12-0.7 12-0.1 12 0.8 12 1.3 12 1.8 12 7.1 12 11.8 12 16.3 12 16.8 12 17.2 12 17.8 12 12.8 12 10.9 12 16.1 12 18.5 12 20.5 12 23 12 25.7 12 28.4 12 30.5 12 33 12 41.4 12 39.5 12 37.3 12 36 12 33.5 12 21.6 12 8.8 12 2.8 12 1 12 0.6 12 1.1 12 1.7 12 1.5 12 0.6 12-0.3 12-1.8 12-4.6 12-5 12-5.3 12-5.6 12-4.8 12-4.6 12-6.3 12-6.6 12-4.9 12-4.2 12-4.1 12-3.7 12-3.6 12-3.7 12-3 12-2.2 12-2.3 12-2.2 12-2.3 12-2.4 12-2.6 12-2.5 12-3 12-6.7 12-11.2 12-13.7 12-14.9 12-16.7 12-17.5 11-17" stroke="#404040"/>
<path d="M481.0 830.1l12-16.7 12-19.6 12-21.1 12-20.1 12-16.2 12-13.7 12-14.3 12-15.6 12-12.9 12-9.9 12-10.2 12-9.4 12-8.5 12-8.5 12-8.6 12-7.5 12-5.7 12-8.5 12-11.9 12-8.3 12-5.8 12-6.7 12-6.8 12-4 12-4.4 12-6.2 12-2.6 12 2.4 12 9.2 12 11.7 12 13.1 12 10 12 12.5 12 15.9 12 13.1 12 11.6 12 10.1 12 8.7 12 7.4 12 6.5 12 5 12 1.9 12-0.5 12-2.4 12-6.6 12-8.7 12-8.2 12-6.9 12-6.4 12-5.7 12-4.2 12-3.7 12-3.4 12-1.2 12-0.7 12-0.5 12-0.2 12-0.1 12-0.4 12-0.9 12 0.9 12 2.1 12 5.7 12 9.9 12 14.7 12 15.7 12 16.8 12 18.1 12 11.6 12 9.3 12 15.3 12 18.2 12 20.9 12 23.2 12 26 12 28.9 12 31.5 12 33.7 12 36.9 12 35.6 12 35 12 33.3 12 30 12 19.7 12 9.8 12 2.5 12 0 12 0.3 12 0.8 12 1.3 12 1.1 12 0.2 12-1 12-1.6 12-4.8 12-6.1 12-6.1 12-5.7 12-4.8 12-4.6 12-6.2 12-6.2 12-4.5 12-3.8 12-3.6 12-3.3 12-3.1 12-3.1 12-1.9 12-1.4 12-1.8 12-1.8 12-1.4 12-1.2 12-1.5 12-2 12-2.6 12-5.3 12-9.9 12-13.9 12-14.2 12-14.5 12-15.2 11-15.7" stroke="#008000"/>
<path d="M481.0 602.2l12-15.6 12-13.5 12-13.6 12-17.5 12-16 12-14.2 12-16.4 12-12.5 12-9.7 12-14.5 12-14.2 12-10.8 12-10 12-9.7 12-8.4 12-8.7 12-11 12-9.8 12-8.7 12-10 12-8.6 12-5.8 12-4.3 12-3.2 12-4.1 12-4.8 12 0.6 12 7 12 13.2 12 17.1 12 18.6 12 18.2 12 18 12 17 12 14.3 12 13.1 12 11.6 12 9.9 12 8.9 12 9.2 12 5.9 12 2.7 12-2.3 12-4.7 12-7.4 12-9.9 12-9.8 12-7.9 12-7 12-6.5 12-6.2 12-5.8 12-5.1 12-3.9 12-3.4 12-2.5 12-2 12-1.7 12-1.5 12-1 12-0.9 12-0.5 12 7.9 12 14 12 17.6 12 16.8 12 16 12 15.7 12 14.1 12 13.4 12 17.2 12 19 12 19.4 12 21.2 12 23.2 12 24.6 12 27.3 12 32.3 12 54.1 12 48.3 12 41.7 12 41.6 12 39.9 12 25.8 12 7 12 2 12 0.6 12 0.4 12 0.7 12 0.4 12 0.3 12 0.1 12-0.9 12-2.8 12-4.9 12-5.4 12-5.5 12-5.9 12-5.8 12-5.8 12-6.1 12-5.8 12-4.8 12-4.5 12-4 12-3.5 12-3.8 12-4.1 12-3.4 12-2.5 12-2.4 12-2.3 12-1.6 12-1.3 12-2.2 12-2.4 12-2.9 12-7.1 12-10.9 12-13.2 12-15.7 12-19.2 12-22 11-20.6" stroke="#b4b4b4"/>
<path d="M481.0 740.5l12-15 12-18.2 12-18.4 12-18.3 12-17 12-15 12-11.9 12-11.3 12-10.6 12-9.7 12-11 12-10.8 12-7.2 12-7.1 12-9.6 12-7.7 12-5.4 12-7.2 12-10.4 12-8.5 12-5.2 12-4.5 12-4.7 12-5.3 12-5.5 12-3.1 12 0.5 12 4.1 12 10.3 12 13.2 12 14.8 12 12.6 12 13.8 12 16.3 12 14.4 12 12.8 12 10.6 12 8.6 12 7.8 12 7.2 12 4.9 12 2.2 12-0.6 12-3.2 12-6.8 12-8.8 12-8.6 12-7.5 12-6.9 12-5.9 12-4.8 12-4.4 12-3.7 12-1.9 12-1.6 12-1.1 12-0.6 12-0.6 12-0.5 12-0.1 12 0.9 12 1.4 12 6.1 12 10.8 12 15 12 15.3 12 16.2 12 16.8 12 11.6 12 9.5 12 14.8 12 17.7 12 19.5 12 21.9 12 24.4 12 26.6 12 28.6 12 31.9 12 42.1 12 39.8 12 37.2 12 36 12 33.5 12 21.7 12 8.4 12 2.9 12 1.1 12 0.7 12 0.8 12 1.5 12 1.7 12 1 12-0.3 12-1.7 12-4.2 12-5.2 12-5.6 12-5.5 12-5.1 12-4.8 12-5.8 12-6.1 12-4.9 12-4.2 12-3.7 12-3.7 12-3.5 12-3.9 12-3.5 12-2.3 12-2 12-2.2 12-2.1 12-2 12-2 12-2 12-2.7 12-6.4 12-10.5 12-13.4 12-14.9 12-16.5 12-17.4 11-17.1" stroke="#ffffff"/>
<path d="M481.0 811.2l12-16.5 12-18 12-18.7 12-19.2 12-18.4 12-16.9 12-13.6 12-12.3 12-11.7 12-11 12-10.6 12-9.5 12-8.2 12-8 12-8.5 12-6.4 12-5 12-7.9 12-10.6 12-8 12-5.8 12-5.3 12-5.8 12-5.7 12-5.8 12-4.7 12 0.1 12 3.9 12 9 12 11.5 12 13.6 12 11.1 12 11.8 12 14.7 12 13.8 12 12.9 12 10.5 12 9.2 12 8 12 7 12 5 12 2 12-0.1 12-2.4 12-6.2 12-8.6 12-8.4 12-7 12-6.8 12-5.8 12-4.1 12-3.7 12-3.4 12-1.8 12-1.5 12-1.2 12-0.7 12-0.3 12-0.6 12-0.8 12 0.6 12 1.4 12 5.5 12 9.8 12 14.2 12 14.8 12 16.2 12 17.7 12 10.9 12 8.5 12 15.2 12 18.3 12 20.2 12 23.3 12 26.2 12 28.5 12 30.4 12 33.2 12 38.1 12 37.1 12 35.8 12 33.7 12 30.7 12 20.3 12 9.4 12 2.9 12 0.5 12 0.3 12 1 12 2.1 12 2 12 0.6 12-0.6 12-1.1 12-3.9 12-4.9 12-4.8 12-4.4 12-3.9 12-3.4 12-4.8 12-5.2 12-3.5 12-2.7 12-2.2 12-2.2 12-2.4 12-2.5 12-1.8 12-1.3 12-1.2 12-1.3 12-1.3 12-1.7 12-1.9 12-2.1 12-2.8 12-5.8 12-10.3 12-14.1 12-15 12-15.4 12-15.4 11-15.5" stroke="#008000"/>
<path d="M481.0 612.5l12-13.9 12-14.3 12-16.1 12-19.3 12-19.1 12-13.3 12-11.7 12-14.5 12-14.7 12-12 12-9.7 12-12.6 12-11.6 12-7.2 12-7.8 12-8.8 12-6.9 12-7.9 12-10.3 12-8.2 12-5.4 12-6.1 12-6.3 12-5.4 12-5.3 12-4.8 12 0.8 12 8.3 12 13.6 12 15.6 12 17.4 12 16.6 12 17.3 12 17.4 12 13.8 12 12.6 12 11.4 12 9.4 12 8.7 12 9.1 12 5.9 12 3.2 12-1.3 12-4.3 12-6.7 12-8.6 12-8.1 12-6.5 12-5.5 12-5.2 12-4.9 12-4.8 12-3.9 12-2 12-1.4 12-1.1 12-0.6 12-0.3 12 0 12-0.4 12-0.5 12 0.5 12 7.5 12 12.4 12 16.5 12 16.1 12 15.7 12 14.8 12 12.4 12 11.5 12 15.4 12 17.1 12 17.8 12 19.7 12 21.5 12 23 12 25.8 12 30.1 12 51.3 12 46.2 12 39.4 12 39.4 12 39 12 25.3 12 6.5 12 2.3 12 0.7 12 0.1 12 0.6 12 1.3 12 1.2 12 0.2 12-1.2 12-2.8 12-4.7 12-5 12-5.3 12-5.8 12-5.4 12-5.5 12-5.7 12-5.5 12-4.8 12-4.1 12-3.8 12-4 12-3.6 12-3.2 12-3 12-2.3 12-1.9 12-2 12-1.9 12-1.7 12-1.8 12-1.4 12-2.2 12-6.6 12-11 12-13.4 12-15.4 12-18.6 12-21.4 11-20.4" stroke="#f0a0f0"/>
<path d="M481.0 624.8l12-12.5 12-16.9 12-16.6 12-15.2 12-18.1 12-18.3 12-15.4 12-14.4 12-15.2 12-13.7 12-11.3 12-11.6 12-9.6 12-6.7 12-7.3 12-9.8 12-10.2 12-9.8 12-10.2 12-7.5 12-5.1 12-5.4 12-5.2 12-3.7 12-3.3 12-3.5 12 1.4 12 8.5 12 14.2 12 16.5 12 17.8 12 17.2 12 17.7 12 16.7 12 13.8 12 13 12 11.3 12 9.2 12 8.5 12 8.8 12 5.5 12 2.6 12-2.2 12-5.1 12-8.1 12-10.3 12-9.9 12-7.8 12-7 12-7.2 12-6.8 12-6.3 12-5.3 12-3.6 12-3.3 12-2.7 12-2.6 12-2.3 12-1.7 12-1.3 12-1.7 12-1.1 12 7 12 12.5 12 16 12 15.8 12 15.2 12 14.1 12 12.2 12 12.2 12 16.5 12 18 12 18.4 12 20.2 12 22.5 12 24.7 12 27.4 12 31.8 12 54 12 48.9 12 42.1 12 41.7 12 40.8 12 26.6 12 7.8 12 3 12 1.5 12 1.4 12 1.7 12 1.7 12 1.6 12 1.4 12-0.2 12-2.1 12-3.7 12-4.6 12-5.3 12-5.3 12-5.3 12-5.4 12-5.4 12-5.2 12-5 12-4.5 12-3.5 12-3.5 12-3.8 12-3.6 12-2.7 12-2.4 12-2.5 12-2.1 12-1.6 12-1.9 12-1.8 12-1.3 12-2.4 12-6.7 12-10.9 12-13.2 12-15 12-18 12-20.9 11-20.3" stroke="#808000"/>
<path d="M481.0 665.0l12-13.4 12-16.4 12-17.1 12-17.3 12-17 12-14.7 12-12.6 12-14 12-14.3 12-13 12-8.6 12-6.9 12-8.1 12-9.9 12-11 12-8.4 12-6.3 12-6.4 12-8.8 12-10.5 12-8 12-5.1 12-4.4 12-3.3 12-3.5 12-4 12 0.5 12 7.3 12 12.8 12 13.2 12 16.2 12 15.9 12 14.6 12 15.6 12 14.2 12 12.5 12 10.2 12 8.6 12 8.1 12 7.9 12 4.5 12 2.1 12-1.5 12-4.9 12-8.1 12-9.5 12-9.1 12-8.1 12-7.5 12-6.8 12-5.8 12-5.3 12-4.8 12-3.6 12-2.8 12-2.1 12-1.7 12-1.6 12-1.5 12-1.1 12-1 12-0.4 12 7 12 11.9 12 15.7 12 15.7 12 15.5 12 15.2 12 12.1 12 11.1 12 15.6 12 17.9 12 18.8 12 20.8 12 23 12 25 12 27.8 12 32.2 12 50.3 12 45.5 12 40.3 12 40 12 38.8 12 25.5 12 8.3 12 3.1 12 1.9 12 1.6 12 1.7 12 2.4 12 2.6 12 1.6 12 0.4 12-1.6 12-4.1 12-4.4 12-4.5 12-4.8 12-4.5 12-4.7 12-5.9 12-5.8 12-4.2 12-3.7 12-3.7 12-3.4 12-3.7 12-3.9 12-2.8 12-2.4 12-2.6 12-2.3 12-1.9 12-1.7 12-2.1 12-2.2 12-2.8 12-6.7 12-10.9 12-13.6 12-15.1 12-17.6 12-19.6 11-19.2" stroke="#2222ee"/>
<path d="M481.0 797.1l12-17.7 12-18.7 12-19 12-21.8 12-18.9 12-13.9 12-13.3 12-15.6 12-14.2 12-11 12-11 12-12.7 12-10.4 12-6.7 12-6.7 12-6.5 12-5.6 12-8 12-12.3 12-9.8 12-4.5 12-5.2 12-7.4 12-3.8 12-3.3 12-5.2 12-0.9 12 3.7 12 9.1 12 11.8 12 14.1 12 11.5 12 12.8 12 15.5 12 13.7 12 13 12 10.6 12 8.4 12 7.8 12 6.9 12 4.2 12 1.4 12-0.7 12-2.7 12-6.8 12-8.8 12-8.4 12-7.1 12-6.4 12-5.4 12-4 12-3.5 12-3.3 12-1.2 12-0.8 12 0 12 0.7 12 0.7 12 0.5 12 0.3 12 1.7 12 2.6 12 7 12 11.3 12 15.8 12 16.7 12 17.8 12 18.9 12 12.3 12 9.6 12 15.9 12 18.9 12 21.1 12 23.5 12 26.1 12 28.6 12 30.5 12 32.7 12 37.7 12 36.9 12 35 12 32.6 12 30.6 12 20 12 8.3 12 1.8 12-0.3 12 0 12 0.5 12 1 12 0.7 12 0.1 12-0.7 12-1.7 12-4.6 12-5.3 12-5.7 12-5.8 12-4.9 12-4.2 12-5.6 12-6.1 12-4.4 12-3.6 12-3.3 12-3.4 12-3.3 12-3.1 12-2 12-1.3 12-1.4 12-1.5 12-1.6 12-1.5 12-1.5 12-1.9 12-2.5 12-5.5 12-9.9 12-13.2 12-14.5 12-15 12-15 11-15.2" stroke="#800000"/>
<path d="M481.0 839.6l12-17.1 12-16.9 12-17.4 12-20.2 12-20 12-17.7 12-14.7 12-12.5 12-9.7 12-8.9 12-10.3 12-10.4 12-9.5 12-8.8 12-7.1 12-5.4 12-5.1 12-6.3 12-9.7 12-9.1 12-6.4 12-5.2 12-5.4 12-4.4 12-4.3 12-4.1 12-1.9 12 0.8 12 7.6 12 11.5 12 14 12 10 12 10.8 12 15 12 13.8 12 12.4 12 9.9 12 8 12 6.9 12 5.9 12 3.9 12 0.7 12-1 12-3.3 12-7.4 12-9.1 12-9.2 12-8.7 12-8 12-6.5 12-4.6 12-4.1 12-4.1 12-2 12-1.3 12-1.3 12-1.1 12-0.5 12-0.5 12-0.5 12 0.9 12 2.1 12 5.9 12 10 12 15 12 16 12 17.1 12 18.6 12 11.9 12 9.3 12 15.6 12 19 12 21.1 12 23.6 12 27 12 30 12 32.1 12 33.8 12 35.8 12 35.4 12 34.9 12 32.6 12 29.9 12 19.9 12 9.9 12 2.9 12 0.6 12 0.5 12 0.9 12 1.6 12 1.7 12 0.8 12-0.1 12-1 12-4.5 12-5 12-5 12-5.1 12-4.2 12-3.7 12-5.3 12-6.1 12-4.7 12-3.9 12-3.4 12-3 12-2.8 12-2.8 12-2 12-2.3 12-2.5 12-1.7 12-1.5 12-1.9 12-2.1 12-2.3 12-3.5 12-6.2 12-10.2 12-13.7 12-14.6 12-14.8 12-14.7 11-14.8" stroke="#7d4e4e"/>
<path d="M481.0 848.6l12-16.5 12-21.8 12-19.5 12-18.3 12-18.2 12-15.7 12-13.7 12-14.6 12-12.8 12-9.9 12-9.3 12-9.6 12-8.1 12-5.8 12-7.4 12-8.8 12-5.8 12-6.9 12-12.2 12-8.6 12-5.4 12-4.8 12-3.2 12-4.1 12-5.8 12-5.1 12-2.2 12 1.2 12 8.4 12 10.9 12 12.7 12 9.9 12 11.4 12 14.4 12 12.4 12 12.3 12 10.2 12 7.6 12 6.6 12 5.7 12 3.8 12 0.7 12-1.4 12-3.5 12-7.6 12-9.5 12-9.4 12-8.1 12-7.4 12-6.5 12-5.3 12-4.6 12-4.1 12-1.8 12-1.1 12-1.2 12-0.8 12-0.3 12-0.3 12-0.2 12 1.8 12 2.7 12 6 12 10.4 12 15.6 12 16.1 12 17.7 12 19.6 12 12.5 12 9.3 12 16 12 19.9 12 22.2 12 24.3 12 27.4 12 31 12 32.7 12 34.2 12 35.5 12 35.3 12 35.3 12 33 12 29.4 12 19.4 12 10.3 12 3.5 12 0.7 12 0 12 1.2 12 2.1 12 1.5 12 0.4 12-0.3 12-0.7 12-4.4 12-5.7 12-5.6 12-5.4 12-4.2 12-3.4 12-5.7 12-6.6 12-4.8 12-3.8 12-3.6 12-3.2 12-3.2 12-3.2 12-2.2 12-2 12-2 12-2.2 12-2.4 12-2.3 12-2.3 12-2.5 12-3.5 12-5.8 12-10.3 12-14.4 12-14.6 12-14.5 12-14.6 11-15.5" stroke="#008080"/>
<path d="M481.0 744.7l12-14.6 12-18.7 12-18.9 12-18.3 12-19.5 12-16.5 12-12 12-12.1 12-13.8 12-13.6 12-11.5 12-9.6 12-8.6 12-8.8 12-7.4 12-5.7 12-5.7 12-7.5 12-10.7 12-8 12-4.2 12-4.6 12-5.1 12-4.6 12-4.3 12-3.5 12-0.1 12 4.6 12 11.2 12 14.2 12 16.1 12 12.5 12 12.8 12 16.3 12 14.1 12 12.6 12 10.8 12 8.6 12 7.7 12 7.6 12 5 12 1.4 12-1.4 12-3.6 12-7.1 12-9.1 12-8.9 12-7.8 12-7.5 12-6.2 12-5.1 12-4.9 12-4.4 12-2.9 12-2.3 12-1.6 12-1.1 12-0.8 12-0.7 12-0.7 12-0.1 12 0.6 12 6.1 12 11.4 12 15.4 12 15.5 12 16.2 12 16.7 12 11.6 12 10 12 15.7 12 18.1 12 19.7 12 22 12 24.7 12 27.2 12 29.3 12 32.2 12 42.9 12 40.6 12 37.5 12 36.1 12 33.3 12 21.8 12 8.7 12 2.4 12-0.3 12-0.4 12 0.7 12 1.4 12 0.9 12 0.2 12-0.9 12-2.3 12-4.7 12-5.3 12-5.7 12-5.8 12-5.1 12-4.6 12-5.2 12-5.6 12-4.9 12-4.3 12-3.3 12-2.7 12-2.6 12-2.8 12-2.1 12-1.6 12-1.6 12-1 12-0.6 12-0.8 12-1.4 12-1.6 12-2.4 12-5.7 12-10.2 12-13.3 12-14.2 12-15.9 12-17.3 11-17" stroke="#0000a0"/>
<path d="M481.0 696.2l12-12.6 12-15.6 12-17.4 12-16.4 12-15 12-15.7 12-17.1 12-15.4 12-11.7 12-11.9 12-12.4 12-11.8 12-8.8 12-6.6 12-6.7 12-6 12-6.7 12-7.4 12-8.6 12-7.8 12-6 12-5.4 12-4.3 12-3.3 12-4.4 12-5.1 12-0.5 12 5.2 12 10.7 12 13.8 12 16.4 12 14.4 12 13.9 12 14.7 12 12.8 12 11.5 12 9.4 12 7.6 12 6.8 12 6.6 12 3.7 12 0.7 12-2.8 12-4.9 12-7.9 12-9.9 12-9.9 12-8.5 12-7.4 12-6.6 12-5.8 12-5 12-4.2 12-2.4 12-1.7 12-1.4 12-0.8 12-0.3 12-0.2 12-0.4 12 0.1 12 1.2 12 7.6 12 12.9 12 16.9 12 16.4 12 16.7 12 17.3 12 13.3 12 12 12 16.6 12 18.8 12 20.2 12 22.1 12 24 12 26.5 12 28.9 12 32.5 12 47.2 12 43.6 12 38.6 12 37.9 12 36.1 12 23.5 12 8.5 12 3.2 12 1.3 12 0.7 12 0.8 12 1.7 12 1.8 12 0.7 12-0.3 12-1.8 12-4.3 12-5.2 12-5.6 12-5.8 12-5.7 12-5.5 12-6 12-6 12-5.2 12-4.7 12-3.9 12-3.8 12-4.1 12-3.3 12-2.8 12-3.1 12-2.6 12-1.8 12-1.9 12-1.8 12-1.6 12-2.2 12-3 12-5.9 12-10.1 12-13.2 12-14.7 12-16.5 12-18.5 11-18.3" stroke="#1a6fdf"/>
<path d="M481.0 683.1l12-14.3 12-15.4 12-15.6 12-20.8 12-20.2 12-12.4 12-13.9 12-16.5 12-11.1 12-10.2 12-13.5 12-13.1 12-11.3 12-9.9 12-7 12-5.2 12-7.2 12-10 12-9.3 12-6.1 12-5.9 12-5.1 12-3.4 12-5 12-5 12-3 12 1 12 6.7 12 12 12 13.9 12 16.6 12 15.2 12 15.2 12 15.9 12 13.5 12 12.4 12 10.3 12 8.8 12 8.2 12 7.7 12 4.8 12 2.1 12-1.3 12-3.8 12-7 12-9.3 12-8.8 12-7 12-6.6 12-6.3 12-5 12-4.2 12-4 12-2.1 12-1.7 12-1.5 12-0.6 12-0.9 12-1.4 12-0.8 12 0.1 12 0.6 12 6.8 12 11.3 12 15 12 15.5 12 15.6 12 15.2 12 11.5 12 10.5 12 14.9 12 16.9 12 18.2 12 20.2 12 22.7 12 24.4 12 26.5 12 30.5 12 47.6 12 43.6 12 38.5 12 37.9 12 36.7 12 24 12 7.3 12 2.2 12 0.8 12 1.1 12 1.2 12 1.2 12 1.1 12 0.6 12-0.4 12-1.8 12-4.1 12-4.7 12-5.2 12-5.4 12-4.7 12-4.5 12-5.3 12-5.3 12-4.4 12-3.7 12-3.2 12-2.9 12-3 12-3 12-2.6 12-1.8 12-1.6 12-1.7 12-1.1 12-1 12-1.5 12-1.4 12-2.5 12-6.7 12-10.7 12-13.6 12-15.2 12-17.4 12-19.8 11-19.6" stroke="#000080"/>
<path d="M481.0 604.4l12-14.3 12-17 12-15.5 12-16.8 12-18.6 12-13.3 12-12.8 12-14 12-10.1 12-11.3 12-12.3 12-13.1 12-11.8 12-7.1 12-6.4 12-8.8 12-9 12-8.2 12-10 12-9.4 12-6.2 12-4.5 12-5.2 12-5.5 12-4.6 12-4.1 12 0.6 12 7.1 12 12.5 12 15.3 12 17.6 12 17 12 16.1 12 15.5 12 13.4 12 12.4 12 10.5 12 8.4 12 8.1 12 8.8 12 5 12 2 12-2.6 12-5.2 12-7.6 12-9.6 12-9.2 12-7.7 12-7.2 12-6.5 12-5.8 12-5.5 12-4.8 12-3.2 12-2.4 12-1.8 12-1.6 12-1.3 12-1.3 12-1.1 12-0.5 12 0.3 12 7.6 12 12.8 12 16.4 12 16.1 12 15.9 12 14.8 12 12.9 12 12.3 12 16.2 12 18.1 12 18.4 12 19.8 12 21.9 12 23.7 12 26.2 12 31 12 54.5 12 48.8 12 41.4 12 41.5 12 40.9 12 26.8 12 7.2 12 2.3 12 0.7 12 1.1 12 1.6 12 1.9 12 1.5 12 0.6 12-0.6 12-2.7 12-4.2 12-4.5 12-5.1 12-5.3 12-5 12-5.2 12-5.8 12-5.8 12-4.7 12-3.7 12-3.3 12-3.3 12-3.6 12-3.7 12-3.1 12-2.8 12-2.5 12-1.9 12-1.7 12-1.7 12-1.9 12-2.3 12-3.5 12-7.4 12-10.9 12-13.3 12-15.7 12-19 12-22.1 11-21.5" stroke="#808000"/>
<path d="M481.0 851.0l12-15.3 12-18.9 12-19.7 12-20.9 12-19.8 12-16.8 12-12.7 12-10.6 12-11.3 12-11.5 12-9.9 12-10.3 12-9.3 12-6.3 12-5.9 12-7.2 12-6.2 12-5.3 12-9.6 12-8.9 12-5.5 12-5.7 12-7.1 12-5.9 12-4.5 12-3.4 12-1 12 1.2 12 8 12 11.3 12 12.6 12 9.3 12 11.9 12 16.1 12 13.3 12 11.7 12 9.6 12 7.9 12 6.4 12 5.4 12 3.8 12 0.9 12-0.7 12-3 12-7.4 12-9.4 12-9.4 12-8.3 12-7.5 12-6.4 12-4.8 12-4.1 12-3.3 12-1.8 12-1.3 12-0.5 12-0.1 12-0.2 12 0.1 12 0.5 12 1.6 12 2.2 12 5.8 12 10.3 12 15.7 12 16.4 12 17.2 12 19.1 12 12.6 12 9.5 12 15.7 12 18.7 12 21.6 12 24.8 12 27.3 12 30 12 32.7 12 34.5 12 34.4 12 34.3 12 34.6 12 32.1 12 28.8 12 19.2 12 10.2 12 2.8 12 0.5 12 0 12 0.5 12 1.7 12 1.6 12 0.4 12-0.3 12-0.9 12-4.2 12-5 12-5.1 12-5 12-4.2 12-3.8 12-5.4 12-6.2 12-4.4 12-3.3 12-3.2 12-3.3 12-3 12-2.6 12-1.8 12-1.8 12-1.8 12-2 12-1.9 12-2 12-1.7 12-1.9 12-3 12-5.6 12-10.1 12-14.3 12-14.2 12-14.1 12-14.4 11-15" stroke="#161616"/>
<path d="M481.0 710.9l12-17.5 12-19.6 12-16.9 12-16.9 12-19.1 12-18.7 12-15.6 12-14.4 12-13.8 12-13 12-10.4 12-10.3 12-11.6 12-9.2 12-7.8 12-8.6 12-7.7 12-7.9 12-10.6 12-9.2 12-6.8 12-6.7 12-5.8 12-3 12-3.3 12-4.1 12 1 12 6.3 12 13 12 17 12 17.9 12 15.1 12 15.1 12 16.9 12 15.4 12 14 12 11.6 12 10 12 9 12 8.2 12 5.6 12 3 12-0.6 12-3.2 12-6.8 12-8.8 12-8.5 12-7.5 12-7 12-6 12-5.2 12-5 12-4.3 12-2.6 12-2 12-1.7 12-1.7 12-1.3 12-0.7 12-0.9 12-0.6 12 0.3 12 6.4 12 11.5 12 15.8 12 15.8 12 15.6 12 16.1 12 12 12 10.6 12 15.8 12 18 12 19.4 12 22 12 24.6 12 26.5 12 29 12 32.7 12 45.8 12 42.2 12 38.1 12 37.6 12 35.9 12 23.6 12 8.6 12 2.8 12 0.8 12 0.5 12 0.8 12 1.5 12 1.5 12 0.7 12-0.6 12-2.1 12-4.5 12-5.2 12-5.5 12-5.4 12-5 12-5.2 12-6 12-5.9 12-4.6 12-4.3 12-3.7 12-3.4 12-3.5 12-3.5 12-3.2 12-2.7 12-2.3 12-2 12-2.3 12-2.1 12-2.1 12-2.2 12-3 12-6.4 12-11 12-13.9 12-15 12-17.1 12-18.8 11-18.4" stroke="#b4b4b4"/>
<path d="M481.0 588.3l12-11.9 12-14.9 12-16.1 12-17.1 12-18.2 12-15.8 12-13.8 12-14.2 12-14.8 12-13.9 12-11.1 12-10 12-7.3 12-8.4 12-10.5 12-8.3 12-6.6 12-7.5 12-8.4 12-8.6 12-8.9 12-6.3 12-3.3 12-3.5 12-4 12-2.8 12 2.9 12 8.7 12 13.3 12 16.3 12 18.9 12 18.3 12 17.1 12 17.1 12 15 12 12.3 12 10.4 12 9.6 12 9.2 12 9 12 5.3 12 2.3 12-2.2 12-4.9 12-7.9 12-10.2 12-9.7 12-7.9 12-7 12-6.2 12-5.9 12-5.9 12-5.3 12-3.6 12-2.6 12-2.4 12-2.4 12-1.9 12-1.4 12-1.3 12-1.7 12-1.1 12 7.4 12 13 12 16.2 12 15.5 12 15.1 12 14 12 12.3 12 12.3 12 15.9 12 17.1 12 17.1 12 19 12 21.2 12 22.7 12 24.9 12 30 12 55 12 48.9 12 41 12 41.6 12 41.5 12 26.8 12 6 12 2 12 0.9 12 0.3 12 0.9 12 1.7 12 1.9 12 1.1 12-0.1 12-2.1 12-3.8 12-4.2 12-4.3 12-4.7 12-4.8 12-5.2 12-5.3 12-5.1 12-4.4 12-3.8 12-3.4 12-3.2 12-3.4 12-3.8 12-3.8 12-3.2 12-2.7 12-2.2 12-2.2 12-2.2 12-2.4 12-2.8 12-3.2 12-7.5 12-12.1 12-13.7 12-15.6 12-19.8 12-23 11-21.9" stroke="#7d4e4e"/>
<path d="M481.0 661.1l12-16.6 12-17.4 12-16.9 12-19.2 12-18.9 12-14.6 12-13.2 12-14.6 12-11.4 12-7.9 12-10.5 12-13 12-10.1 12-7 12-8.5 12-8.9 12-6.8 12-7.6 12-9.2 12-8.3 12-5.4 12-2.7 12-3.6 12-4.8 12-4.3 12-2.5 12 1.7 12 5.7 12 12.3 12 16.5 12 17.4 12 14.5 12 15.5 12 17.4 12 14.5 12 12.6 12 11 12 9.3 12 8.5 12 8.8 12 5.7 12 2.5 12-1 12-4.1 12-7.7 12-9.5 12-9 12-7.9 12-7.2 12-6.4 12-6 12-5.5 12-4.6 12-2.8 12-2.6 12-2.6 12-2 12-1.6 12-1.6 12-1.5 12-0.8 12-0.3 12 6.3 12 11.3 12 15.2 12 14.9 12 15.2 12 15 12 11.3 12 10.7 12 15.8 12 17.5 12 17.8 12 20.3 12 22.5 12 24 12 27 12 31.4 12 49.9 12 45.8 12 40.3 12 39.4 12 38.3 12 25.2 12 8.1 12 3.3 12 1.7 12 1.6 12 2 12 2.2 12 2.4 12 1.8 12 0.4 12-1.3 12-3.1 12-3.3 12-4.4 12-5.1 12-4.3 12-3.8 12-5.1 12-5.4 12-4.1 12-3.7 12-3.4 12-3.4 12-3.6 12-3.5 12-3.4 12-3.1 12-2.4 12-2.6 12-2.8 12-2.4 12-2.6 12-2.7 12-3.1 12-6.5 12-10.8 12-13.5 12-15.1 12-17.3 12-18.8 11-18.3" stroke="#808080"/>
<path d="M481.0 582.1l12-15.9 12-13.4 12-14.8 12-18 12-17.1 12-15.1 12-15.9 12-13.8 12-13.4 12-15.6 12-12.6 12-12 12-11.5 12-8.3 12-8.8 12-9.9 12-8.5 12-9.2 12-9.9 12-8.4 12-6.1 12-5.8 12-5.9 12-4.4 12-2.5 12-2.5 12 1.7 12 9.3 12 14.8 12 17.2 12 19.5 12 18.7 12 17.5 12 17 12 15 12 13.5 12 11.9 12 9.2 12 8.5 12 9.6 12 6 12 2.9 12-2.2 12-4.7 12-7.1 12-9.3 12-9 12-7.5 12-6.5 12-5.7 12-5.4 12-5.2 12-4.6 12-3.2 12-2.1 12-1.3 12-0.8 12-0.8 12-1.2 12-0.9 12-0.4 12 0.3 12 8.2 12 13.8 12 17.3 12 16.5 12 15.8 12 14.8 12 12.7 12 12.4 12 16.5 12 18.2 12 18 12 19.4 12 21.9 12 23.4 12 25.5 12 30 12 54.5 12 49.4 12 41.1 12 41.3 12 41.2 12 26.5 12 6.2 12 2.4 12 1.2 12 0.9 12 1.1 12 1.2 12 0.9 12 1.2 12 0.2 12-2.5 12-4.3 12-4.8 12-5.7 12-5.7 12-5.2 12-5.3 12-6.1 12-5.5 12-4.5 12-4.1 12-4 12-3.9 12-3.3 12-3.3 12-3.3 12-3.2 12-2.5 12-1.6 12-1.5 12-1.7 12-1.8 12-1.5 12-2 12-6.9 12-10.9 12-12.6 12-14.9 12-18.4 12-21.3 11-20.3" stroke="#2222ee"/>
<path d="M481.0 676.2l12-13.7 12-16.3 12-15.9 12-18 12-19.6 12-16.6 12-14.7 12-14.3 12-11.5 12-8.9 12-11.1 12-14.4 12-11.1 12-7.3 12-7.2 12-6.4 12-6.7 12-8.7 12-10.6 12-8.4 12-5.4 12-4.1 12-3.4 12-4 12-4.5 12-3.6 12 0.5 12 5.8 12 12.6 12 15.3 12 16.2 12 14.4 12 15.4 12 16.4 12 13.8 12 12.7 12 10.9 12 8.8 12 7.8 12 8.1 12 5.3 12 2.3 12-1.4 12-3.6 12-6.9 12-9.1 12-8.6 12-7.1 12-6.3 12-5.4 12-4.8 12-4.4 12-3.6 12-1.7 12-1 12-1 12-1.1 12-0.5 12-0.2 12 0.1 12 0.7 12 1.2 12 7.3 12 12.1 12 16.2 12 16.3 12 16.3 12 16.4 12 12.4 12 11.2 12 16.1 12 18.1 12 19 12 20.9 12 23.4 12 25.9 12 28.2 12 31.6 12 46.6 12 43 12 38.1 12 37.6 12 36.3 12 23.5 12 7.4 12 2.1 12 0.7 12 0.2 12 0.3 12 0.7 12 0.8 12 0.6 12-0.6 12-2.7 12-4.7 12-4.9 12-5.4 12-6.1 12-5.5 12-5 12-6.1 12-6.1 12-5.4 12-4.7 12-3.8 12-3.5 12-3.7 12-3.8 12-3.1 12-2.6 12-2.3 12-2.1 12-1.7 12-1.8 12-2.1 12-2.2 12-2.9 12-6.7 12-10.9 12-13.7 12-15.2 12-17.6 12-19.6 11-19.1" stroke="#22c022"/>
<path d="M481.0 520.2l12-14.3 12-13.5 12-12.7 12-16 12-17.6 12-14.5 12-15.4 12-15.4 12-12.4 12-13.3 12-14 12-12.5 12-10.2 12-8.8 12-9.7 12-10.8 12-10 12-9.6 12-10.3 12-9.4 12-6 12-4.2 12-4.6 12-4.5 12-3.7 12-2.2 12 3.9 12 9.7 12 14.6 12 19.1 12 20 12 19.8 12 19.8 12 17.5 12 14.6 12 13.4 12 11.6 12 9.8 12 9.8 12 10.8 12 6.4 12 3 12-2.3 12-4.6 12-7 12-9.4 12-8.8 12-7.2 12-6.7 12-6.4 12-6.4 12-5.9 12-4.9 12-3.9 12-3 12-2.6 12-2.1 12-2 12-1.7 12-1.6 12-1.9 12-1 12 8.2 12 13.8 12 16.6 12 16 12 15 12 13 12 12.9 12 13.3 12 16 12 17.2 12 16.9 12 18 12 19.9 12 21.4 12 24.1 12 29.4 12 59.9 12 52.8 12 43.1 12 43.7 12 44.4 12 28.9 12 5.5 12 2.1 12 1.5 12 1.3 12 1.3 12 1.3 12 1.2 12 0.8 12-0.5 12-3 12-4.1 12-4.3 12-5 12-5.4 12-5.2 12-5.2 12-5.1 12-4.9 12-4.3 12-3.7 12-3 12-2.7 12-2.9 12-2.9 12-2.8 12-2.4 12-1.6 12-1.4 12-1.2 12-1.1 12-1.7 12-1.7 12-1.8 12-6.5 12-10.8 12-12.9 12-15.9 12-19.8 12-23.2 11-22.3" stroke="#f0a0f0"/>
<path d="M481.0 604.9l12-14.3 12-14 12-14.5 12-17.4 12-17.2 12-14.5 12-12.4 12-11.2 12-12.5 12-15.1 12-14 12-10.6 12-8.5 12-9.1 12-8.6 12-8.1 12-8 12-9.1 12-12.2 12-10.5 12-6.4 12-5.1 12-4.9 12-4.8 12-5.7 12-4.6 12 1.7 12 7.3 12 12.7 12 16.3 12 17.1 12 15.7 12 17.3 12 17.8 12 13.8 12 12 12 10.9 12 9.4 12 8.9 12 9.1 12 5.7 12 2.6 12-1.9 12-4.3 12-7.4 12-9.7 12-9 12-7.3 12-6.7 12-6.1 12-5.7 12-5.3 12-4.5 12-3.1 12-2.6 12-2 12-1.6 12-1.8 12-1.7 12-1.2 12-1 12-0.4 12 7.3 12 12.8 12 16.5 12 16.1 12 15.2 12 14.2 12 12.4 12 12 12 15.9 12 17.6 12 17.5 12 19.2 12 21.2 12 22.5 12 24.9 12 29.8 12 53.9 12 48.3 12 40.8 12 41 12 40.7 12 26.4 12 6.1 12 1.7 12 0.4 12 0.3 12 1.3 12 1.4 12 0.8 12 0.5 12-0.2 12-2.4 12-4.1 12-4.2 12-4.9 12-5.2 12-4.8 12-5.3 12-5.9 12-5.2 12-3.9 12-3.2 12-3.3 12-2.8 12-2.7 12-3 12-2.7 12-2.2 12-1.8 12-1.3 12-1 12-1.2 12-1.5 12-1.4 12-2.2 12-6.5 12-10.7 12-12.9 12-15.2 12-18.8 12-21.8 11-20.7" stroke="#008000"/>
<path d="M481.0 692.2l12-14 12-15.9 12-18.8 12-17.8 12-18.6 12-16.2 12-10.9 12-11.8 12-11.6 12-11.1 12-13.2 12-11.7 12-6.8 12-6 12-8.5 12-9 12-7.7 12-8.3 12-9.8 12-8.3 12-5.5 12-4 12-4.3 12-4.1 12-5 12-4.4 12 0.6 12 6 12 11.9 12 14.8 12 16.2 12 14.1 12 14.4 12 15.9 12 13.9 12 12.3 12 10.3 12 8.5 12 7.6 12 7.6 12 5 12 1.6 12-2.7 12-5.2 12-8.3 12-10.2 12-9.9 12-8.5 12-7.8 12-7.2 12-6.5 12-6.1 12-5.1 12-3.4 12-3.2 12-2.6 12-1.7 12-1.3 12-1.4 12-1.1 12-0.3 12 0.3 12 7.1 12 12.5 12 16.5 12 16.7 12 16.8 12 17.3 12 13.6 12 12.3 12 17.4 12 19.6 12 21.1 12 23.4 12 25.1 12 27 12 29.6 12 33.1 12 47.2 12 43.5 12 38.8 12 37.6 12 35.7 12 23.3 12 7.6 12 1.8 12-0.3 12-0.5 12-0.2 12 0.3 12 0.3 12-0.2 12-1.2 12-3.2 12-5.2 12-5.6 12-5.9 12-5.7 12-5.1 12-4.8 12-5.9 12-5.6 12-4.4 12-3.9 12-3.4 12-2.7 12-2.6 12-2.7 12-2.1 12-1.5 12-1.2 12-0.8 12-1.2 12-1.4 12-1.2 12-1.4 12-2.1 12-6.2 12-10.6 12-13.4 12-15 12-17.1 12-19.1 11-18.8" stroke="#e62222"/>
<path d="M481.0 540.1l12-13.9 12-15.1 12-14.1 12-16.7 12-19.1 12-15.1 12-12 12-14.3 12-15.9 12-14.3 12-12.3 12-11.5 12-9.4 12-9.8 12-9.7 12-8.7 12-10.4 12-10.1 12-7.5 12-6.6 12-7 12-6.3 12-4 12-3.1 12-2.6 12-0.7 12 3.4 12 9.5 12 16.5 12 19.4 12 20 12 19.2 12 19.1 12 18.4 12 15.5 12 13.4 12 12 12 10.3 12 9.7 12 10.3 12 6.8 12 3.8 12-1.9 12-5 12-7.1 12-9.5 12-9.5 12-7.8 12-6.6 12-6.2 12-6.3 12-6.2 12-5.2 12-3.8 12-3.6 12-2.9 12-2.1 12-2.1 12-2.1 12-2 12-1.8 12-1 12 7.6 12 13.6 12 17.1 12 15.9 12 14.5 12 13.5 12 12.8 12 13 12 16.3 12 17.9 12 17.5 12 18.9 12 21 12 22.3 12 24.7 12 30.3 12 58.1 12 51.4 12 42.2 12 42.5 12 42.9 12 28.3 12 6.4 12 1.9 12 0.7 12 0.9 12 1.2 12 1.4 12 1.1 12 0.5 12-0.9 12-2.9 12-4 12-4.1 12-4.7 12-5 12-4.9 12-5.5 12-5.5 12-4.4 12-4 12-3.6 12-3.3 12-3.2 12-3.1 12-3.1 12-2.3 12-2 12-2.2 12-1.8 12-1 12-1.3 12-1.9 12-1.8 12-2.1 12-6.8 12-10.9 12-13 12-15.5 12-19.5 12-23 11-21.9" stroke="#f00080"/>
<path d="M481.0 558.3l12-13.1 12-16.2 12-17.2 12-16.3 12-15.4 12-12.3 12-13.5 12-16.6 12-16 12-15.7 12-11.9 12-8.9 12-7.3 12-7.9 12-10.6 12-9.1 12-7.1 12-8 12-8.2 12-6.4 12-5.3 12-4.9 12-4 12-4.2 12-4.8 12-3.2 12 1.7 12 7.5 12 14.8 12 18.5 12 18.8 12 18.1 12 18.3 12 17 12 14 12 12.4 12 10.9 12 9.2 12 8.5 12 8.9 12 5.4 12 2.5 12-2.5 12-5.3 12-7.8 12-10 12-9.5 12-7.9 12-7.2 12-6.7 12-6.4 12-6.2 12-5.3 12-3.6 12-3.1 12-2.8 12-2.3 12-1.8 12-1.2 12-1.2 12-1.6 12-0.9 12 7.6 12 13.2 12 16.5 12 15.8 12 15 12 13.7 12 12.5 12 12.6 12 16 12 17 12 16.8 12 18.6 12 20.7 12 21.7 12 24.2 12 29.6 12 57.4 12 51 12 42.3 12 42.6 12 42.8 12 27.5 12 5.7 12 1.9 12 0.7 12 0.4 12 0.9 12 1.2 12 1 12 0.1 12-1.2 12-2.8 12-3.8 12-4.3 12-5.2 12-5.5 12-4.8 12-5.3 12-5.8 12-4.7 12-3.8 12-3.5 12-3.2 12-3 12-3.2 12-3.1 12-2.6 12-2.3 12-1.7 12-1.4 12-1.7 12-1.6 12-1.3 12-1.3 12-1.9 12-6.7 12-10.7 12-12.6 12-15.5 12-19.1 12-22.1 11-21.5" stroke="#808080"/>
<path d="M481.0 697.4l12-13.3 12-17.8 12-18.3 12-17.1 12-14.4 12-14 12-16 12-15.3 12-12.3 12-12 12-11 12-11 12-8.7 12-5.3 12-6.8 12-8.1 12-8.2 12-9.7 12-10.6 12-7.7 12-4.6 12-4.8 12-5 12-2.8 12-2.2 12-3.1 12 0.5 12 6.3 12 13.2 12 15.9 12 16.5 12 15.3 12 17 12 17.8 12 14.5 12 13 12 11.1 12 9.4 12 8.2 12 7.7 12 5.2 12 1.6 12-1.7 12-4.1 12-7.9 12-10 12-10.1 12-8.4 12-7.8 12-7.6 12-6.6 12-5.6 12-5.3 12-3.6 12-3.1 12-2.9 12-2.1 12-1.5 12-1.1 12-0.9 12-0.1 12 0.7 12 6.5 12 11.5 12 16 12 16.1 12 16.2 12 16.4 12 12.7 12 11.6 12 16 12 18 12 19.5 12 21.4 12 23.7 12 26 12 28.1 12 31.1 12 45.5 12 42.8 12 38.1 12 37.4 12 35.7 12 23 12 7.7 12 2.2 12 0.8 12 0.8 12 1.1 12 1.6 12 1.9 12 1.1 12 0 12-1.1 12-3.8 12-4.5 12-4.5 12-4.9 12-4.5 12-4.4 12-5.8 12-5.4 12-4.1 12-3.9 12-3.6 12-2.9 12-2.9 12-3.5 12-3 12-2.4 12-2.1 12-2.4 12-2.4 12-2.1 12-2 12-2.2 12-3 12-6.4 12-10.8 12-14.2 12-15.4 12-17.2 12-18.6 11-18.2" stroke="#800080"/>
<path d="M481.0 819.0l12-15.3 12-19.5 12-19.3 12-18.1 12-17.5 12-14.6 12-12.2 12-11.8 12-11.2 12-10.7 12-9.9 12-7.3 12-4.8 12-5.9 12-5.4 12-4.7 12-5.9 12-6.3 12-8 12-7.9 12-6.6 12-5 12-5.4 12-6 12-6 12-4.8 12-2.6 12 0.1 12 7.7 12 10.6 12 12 12 9.3 12 9.8 12 13.5 12 12.6 12 11.3 12 8.8 12 7.3 12 6.2 12 5.3 12 4 12 1.2 12-0.9 12-3.1 12-7.4 12-9.1 12-8.5 12-7.4 12-6.9 12-6 12-4.2 12-3.8 12-3.3 12-1 12-0.6 12-0.1 12 0.2 12-0.1 12 0.2 12 0.7 12 1.7 12 2.4 12 6.4 12 10.7 12 16.3 12 17.3 12 17.6 12 19.2 12 13 12 10.3 12 16.3 12 19.5 12 22.1 12 24.4 12 27.4 12 30.3 12 32.4 12 34.4 12 35.6 12 35 12 34.9 12 32.4 12 28.8 12 19 12 9.5 12 1.7 12-0.5 12-0.2 12-0.2 12 0.5 12 0.6 12-0.7 12-1.3 12-1.7 12-5 12-5.7 12-5.3 12-5.6 12-5 12-4.1 12-5.2 12-5.6 12-4.3 12-3.8 12-2.9 12-2.5 12-2.8 12-2.7 12-1.4 12-1.1 12-1.4 12-1.5 12-1.6 12-1.8 12-1.8 12-2.2 12-3.5 12-6.5 12-10.8 12-14.6 12-15 12-15.4 12-15.8 11-15.9" stroke="#0000a0"/>
<path d="M481.0 644.3l12-16.4 12-18.8 12-17.2 12-18.5 12-17.9 12-14.3 12-13.9 12-15 12-12.3 12-11.7 12-11 12-10.6 12-9.4 12-6.9 12-7.7 12-7.6 12-5.1 12-7.9 12-10.8 12-7.5 12-4.6 12-3.6 12-4 12-3.3 12-1.6 12-3.1 12 0.1 12 7.9 12 13 12 14.4 12 16.7 12 15.5 12 15.4 12 16.5 12 14.9 12 13.1 12 10.3 12 8.6 12 8.3 12 8.5 12 5.3 12 2.2 12-1.6 12-4.2 12-6.9 12-8.6 12-8.7 12-7.5 12-6.5 12-5.6 12-4.7 12-4.5 12-4.1 12-2.2 12-1.6 12-1.3 12-1 12-0.5 12 0 12-0.2 12 0.1 12 0.9 12 7.5 12 12.2 12 16.3 12 16.4 12 16 12 15.8 12 12.2 12 11.5 12 16 12 17.5 12 18.1 12 20.3 12 22.5 12 24.3 12 26.7 12 30.7 12 48.3 12 43.8 12 38.6 12 38.2 12 37.1 12 23.9 12 6.4 12 1.4 12 0 12 0.1 12 0.5 12 0.8 12 0.9 12 0.9 12 0 12-2.1 12-4.6 12-4.5 12-4.8 12-5.1 12-4.3 12-4.6 12-5.6 12-5 12-3.7 12-3.3 12-2.7 12-2.6 12-3.2 12-3.5 12-2.6 12-2.3 12-2.5 12-1.7 12-1 12-2 12-2.5 12-1.9 12-3.1 12-7.1 12-11 12-14.1 12-16.1 12-18.9 12-21.2 11-20.1" stroke="#7d4e4e"/>
<path d="M481.0 558.0l12-13.4 12-15.3 12-15.3 12-15.4 12-15.1 12-14.1 12-14.6 12-15.4 12-13.8 12-12.8 12-14.4 12-13.1 12-8.9 12-9.3 12-9.4 12-9.9 12-9.7 12-8.2 12-8.8 12-9.4 12-9.1 12-8.1 12-7 12-5.7 12-3.8 12-2.9 12 1.9 12 8 12 14.2 12 17.9 12 19 12 18.4 12 18 12 16.7 12 14.1 12 12.3 12 11.1 12 9.7 12 8.9 12 9.7 12 6.1 12 3.3 12-1.9 12-5 12-7.4 12-9.7 12-9.2 12-7.1 12-6.4 12-6.4 12-6.1 12-5.2 12-4.7 12-3.4 12-2.5 12-2 12-1.6 12-1.3 12-1.7 12-1.2 12-0.7 12-0.2 12 8.1 12 13.8 12 17.1 12 16.4 12 15.6 12 13.8 12 12.8 12 13.3 12 16.5 12 17.5 12 17.3 12 19 12 20.9 12 21.7 12 24.2 12 29.2 12 57.5 12 51 12 42 12 42.6 12 42.9 12 27.7 12 5.6 12 2.1 12 0.9 12 0.4 12 0.9 12 1.1 12 0.9 12 0.4 12-0.5 12-2.5 12-3.8 12-4.1 12-4.9 12-5.4 12-5 12-5 12-5.3 12-5 12-3.8 12-2.9 12-2.7 12-2.7 12-2.4 12-2.8 12-2.9 12-1.8 12-1.4 12-1.5 12-1 12-1 12-1.7 12-1.7 12-2.5 12-6.7 12-11.1 12-13.7 12-16 12-19.9 12-23.4 11-22.6" stroke="#000080"/>
<path d="M481.0 797.8l12-14.7 12-16.9 12-17.8 12-17.4 12-14.1 12-13 12-13.7 12-12.1 12-9.4 12-9.6 12-10.4 12-9.4 12-8.1 12-7 12-7.4 12-7.5 12-5 12-7.3 12-11.7 12-9.3 12-6.7 12-6.5 12-6.1 12-6.1 12-6.9 12-5.1 12-1.5 12 1.5 12 8.1 12 11.3 12 13.4 12 11.2 12 12.1 12 15.4 12 13.9 12 12 12 9.4 12 8.2 12 7.8 12 6.9 12 5 12 2 12-0.9 12-3.1 12-6.5 12-8.4 12-8.7 12-7.5 12-6.7 12-5.6 12-4.9 12-4.8 12-3.9 12-1.8 12-1.8 12-1 12-0.5 12-0.8 12-0.7 12-0.5 12 0.3 12 1.1 12 5.7 12 10.3 12 15 12 16.1 12 17 12 17.8 12 11.6 12 9.6 12 15.6 12 18.7 12 20.7 12 23.2 12 26.2 12 29 12 31.5 12 33.6 12 38.2 12 37 12 35.6 12 33.9 12 31.1 12 20.1 12 9.5 12 2.6 12-0.2 12-0.2 12 0.3 12 1.1 12 1 12 0.1 12-0.9 12-2.1 12-5.3 12-5.8 12-5.6 12-5.6 12-4.8 12-4.1 12-5 12-5.6 12-4.4 12-3.6 12-3.2 12-2.7 12-2.6 12-2.9 12-1.8 12-1.1 12-1.7 12-1.9 12-1.5 12-1.3 12-1.8 12-2.4 12-2.8 12-5.6 12-10.5 12-14.1 12-14.9 12-16 12-16.5 11-16" stroke="#f00080"/>
<path d="M481.0 552.2l12-12.3 12-13.6 12-15.5 12-17.8 12-19.2 12-14.8 12-11.1 12-12.1 12-12.8 12-14.6 12-13.2 12-7.7 12-6.5 12-8.6 12-9.3 12-9.7 12-10.5 12-9.6 12-8.1 12-6.8 12-5 12-5.1 12-5.6 12-4 12-4.7 12-5.9 12 1 12 9.7 12 15.2 12 17.5 12 18.2 12 16.9 12 16.9 12 17.4 12 14.5 12 12.2 12 11 12 9.5 12 9.2 12 9.9 12 5.8 12 3.3 12-1.9 12-5.1 12-7.4 12-9.4 12-8.7 12-7.2 12-6.8 12-6 12-5.4 12-5.1 12-4.3 12-2.3 12-2 12-1.6 12-0.8 12-0.7 12-0.7 12 0 12-0.2 12-0.1 12 8.1 12 13.7 12 16.6 12 15.9 12 15 12 14.1 12 12.7 12 11.9 12 15.3 12 17.1 12 16.6 12 17.5 12 19.1 12 21 12 23.7 12 28.2 12 55.5 12 49.3 12 41.1 12 41.6 12 41.6 12 27 12 5.1 12 1.4 12 0.8 12 0.5 12 1.1 12 1.7 12 1.4 12 1.1 12 0 12-2.2 12-3.2 12-3.2 12-3.9 12-4.6 12-4.5 12-4.7 12-4.6 12-4.1 12-3.4 12-3.3 12-3.2 12-3.2 12-3.2 12-3.5 12-4 12-3.6 12-3.1 12-2.7 12-2.9 12-3.1 12-2.9 12-3.2 12-4.2 12-8.7 12-12.8 12-14.7 12-16.9 12-21.1 12-25 11-24" stroke="#c8c830"/>
<path d="M481.0 520.3l12-12.9 12-11.6 12-15.4 12-18.7 12-19 12-16.8 12-13.4 12-10.9 12-13.5 12-14.5 12-11.5 12-10.7 12-9.9 12-10.1 12-8.4 12-7.9 12-9.6 12-8.5 12-7.4 12-7.4 12-7 12-5.2 12-3.2 12-4.3 12-5.1 12-2.4 12 4.4 12 10 12 15.3 12 18.9 12 19.9 12 20.5 12 19.7 12 17.9 12 15 12 13 12 12.2 12 10.7 12 9.9 12 10.6 12 6.6 12 3.7 12-1.4 12-4.1 12-6.4 12-9 12-8.7 12-6.5 12-5.6 12-5.5 12-6 12-6 12-5.1 12-3.5 12-2.7 12-2.7 12-2.4 12-1.9 12-1.9 12-1.9 12-2.4 12-2 12 6.7 12 12.6 12 15.6 12 15 12 14.2 12 12.5 12 11.7 12 11.9 12 15 12 16.3 12 15.8 12 17.7 12 19.4 12 20.2 12 23.3 12 29.1 12 59.2 12 52.1 12 42.6 12 43.7 12 44.2 12 28.8 12 6 12 2.1 12 1.3 12 1.7 12 1.9 12 2 12 1.7 12 1 12-0.1 12-2.4 12-3.5 12-3.8 12-4.6 12-5.1 12-5.2 12-5.4 12-5.3 12-5.1 12-4.2 12-3 12-3.2 12-3.5 12-3.1 12-2.9 12-3 12-2.5 12-2.3 12-2.3 12-2 12-1.7 12-1.7 12-1.7 12-3 12-7.9 12-11.1 12-12.9 12-16.6 12-20.5 12-24.1 11-23.4" stroke="#0000a0"/>
<path d="M481.0 654.3l12-13.8 12-16.5 12-16 12-19 12-19.4 12-15.7 12-15.4 12-15.2 12-13.9 12-13.1 12-12.9 12-13.2 12-8.7 12-7 12-9.6 12-9.9 12-8.3 12-7.8 12-10.1 12-8.8 12-6.3 12-6.9 12-6.2 12-4.6 12-4 12-2 12 1.7 12 6.7 12 13 12 14.8 12 16.7 12 17.1 12 17.5 12 17.3 12 14.8 12 13.3 12 11.1 12 9 12 8.6 12 9 12 5.9 12 2.9 12-0.9 12-3.3 12-6.1 12-8.3 12-8.3 12-7 12-6 12-5 12-4.8 12-4.6 12-3.6 12-2 12-1.4 12-1 12-0.5 12-0.5 12-0.6 12-0.8 12-0.3 12 0.5 12 7.2 12 12 12 16 12 15.9 12 15.5 12 15.4 12 12 12 10.7 12 15.5 12 17.4 12 17.9 12 19.7 12 21.9 12 23.8 12 26.3 12 30.3 12 48.8 12 44.8 12 39.2 12 38.5 12 37.5 12 24.5 12 7 12 1.9 12 0.4 12 0.3 12 0.8 12 1.7 12 1.8 12 0.7 12-0.5 12-1.7 12-3.4 12-4.1 12-4.2 12-4.6 12-4.4 12-3.8 12-4.9 12-5.2 12-3.6 12-2.9 12-2.8 12-2.5 12-2.8 12-3 12-2.3 12-2.1 12-2.1 12-1.9 12-2.1 12-2.1 12-1.9 12-2.2 12-3.3 12-7 12-10.8 12-14 12-15.9 12-18.3 12-20.3 11-19.5" stroke="#0000a0"/>
<path d="M481.0 740.4l12-18.6 12-18.9 12-17.8 12-16.5 12-17.4 12-16.5 12-13.2 12-13.8 12-12.7 12-12.1 12-13.1 12-10.4 12-7.4 12-6.5 12-8 12-9.9 12-9 12-9.9 12-11.1 12-7.3 12-5.5 12-6.5 12-7.5 12-5 12-3.1 12-4 12-0.2 12 4.4 12 10.1 12 14.1 12 16 12 13.7 12 14.6 12 16.3 12 14.5 12 13.2 12 10.6 12 9.4 12 8.7 12 7.7 12 5.1 12 2.6 12-0.8 12-3.6 12-6.8 12-8.7 12-8.7 12-7.1 12-6.8 12-6.2 12-4.5 12-4.2 12-4.1 12-2 12-1.3 12-1.2 12-0.7 12-0.4 12-0.9 12-0.7 12 0.3 12 0.9 12 6.1 12 10.7 12 15.2 12 15.6 12 16.1 12 16.6 12 11.5 12 9.9 12 15.2 12 17.5 12 19.2 12 21.7 12 24 12 26.1 12 28.2 12 31.2 12 43 12 40.2 12 37.2 12 36.4 12 34.1 12 21.7 12 7.6 12 2.3 12 0.7 12 0.2 12 0.6 12 1.3 12 1.2 12 0.6 12-0.4 12-2.1 12-4.3 12-4.9 12-5.2 12-5.2 12-4.7 12-4.5 12-5.4 12-5.3 12-4.1 12-3.6 12-3.3 12-3.2 12-3 12-2.7 12-1.9 12-1 12-1.1 12-1.6 12-0.9 12-0.9 12-1.6 12-1.5 12-2.2 12-5.6 12-9.7 12-13.3 12-14.7 12-16.2 12-17.5 11-17.2" stroke="#1a6fdf"/>
<path d="M481.0 853.4l12-16.8 12-21 12-20.4 12-19.4 12-17.1 12-15 12-14.3 12-13.7 12-11.5 12-10.5 12-9.4 12-9.1 12-8.7 12-7.4 12-6.1 12-7 12-7.7 12-7.2 12-10.1 12-8.6 12-5.7 12-4.1 12-3.9 12-4.2 12-5.1 12-4.4 12-1.5 12 0.4 12 7.9 12 11.8 12 13.2 12 9.5 12 10.8 12 15.2 12 13.5 12 12 12 9.7 12 7.9 12 6.6 12 5.3 12 3.7 12 1.3 12-0.6 12-3.2 12-7.7 12-9.1 12-9.2 12-8.3 12-7.4 12-6.3 12-4.9 12-4 12-3.6 12-1.8 12-1 12-0.2 12 0.1 12-0.2 12-0.2 12 0.1 12 1.8 12 3.1 12 6.3 12 10.4 12 15.4 12 16.2 12 17.3 12 19.3 12 12.2 12 9.8 12 16.6 12 19.3 12 21.7 12 24.4 12 27.6 12 30.6 12 32.5 12 34.4 12 34.3 12 33.9 12 34.1 12 31.9 12 28.7 12 19.2 12 10.4 12 2.5 12 0 12 0.3 12 0.7 12 1.6 12 1.5 12 0.2 12-0.7 12-1 12-4.8 12-6 12-5.1 12-5.1 12-4.8 12-4.1 12-5.8 12-6.8 12-5 12-4.1 12-3.7 12-3 12-2.8 12-3.3 12-2.6 12-1.9 12-1.7 12-1.6 12-1.9 12-2 12-1.7 12-1.7 12-3.1 12-6.2 12-10.2 12-13.6 12-14 12-14.4 12-14.6 11-14.5" stroke="#2222ee"/>
<path d="M481.0 567.3l12-14.9 12-14.4 12-15.7 12-18.8 12-18 12-14.9 12-13.8 12-13.3 12-13.9 12-16 12-14.6 12-12.5 12-8.3 12-6.8 12-9.8 12-8.7 12-6.6 12-7.4 12-9 12-8.5 12-5.8 12-3.4 12-2 12-2.6 12-3.4 12-2.2 12 4.1 12 11.1 12 16.3 12 17.6 12 18 12 18.5 12 18.9 12 17.1 12 14.4 12 13 12 10.9 12 9.4 12 8.8 12 9 12 5.5 12 2.7 12-2.2 12-5.2 12-7.8 12-10.1 12-9.6 12-7.8 12-7.1 12-6.7 12-6.1 12-5.6 12-5.5 12-4 12-3.2 12-2.7 12-2.4 12-1.9 12-1.6 12-1.2 12-1.3 12-0.9 12 7.4 12 12.9 12 16.6 12 15.8 12 15 12 14 12 12.3 12 12.3 12 16.1 12 17.3 12 17.1 12 18.9 12 21.2 12 22.3 12 24.9 12 29.8 12 56 12 50.3 12 42.6 12 42.4 12 41.8 12 27.1 12 6.4 12 2.6 12 1.6 12 1 12 1.2 12 1.8 12 1.4 12 0.8 12-0.4 12-2.8 12-4.2 12-4.4 12-4.6 12-5.1 12-5.9 12-6 12-5.7 12-5.3 12-4.6 12-3.9 12-4 12-4.2 12-3.9 12-3.5 12-3.4 12-3.4 12-3.2 12-2.5 12-2.3 12-2.5 12-2.5 12-2.4 12-3.4 12-7.6 12-11.6 12-13.7 12-16.5 12-20.3 12-23.8 11-22.7" stroke="#2222ee"/>
<path d="M481.0 677.2l12-14.6 12-17.8 12-17.7 12-16.6 12-18.5 12-16.6 12-13.2 12-14.7 12-13.8 12-11.6 12-13.7 12-13.5 12-8.8 12-8.6 12-10.3 12-8.8 12-7.6 12-10.1 12-11.2 12-7.2 12-4.7 12-6.2 12-8 12-6.6 12-6.2 12-5.6 12 1.5 12 7.2 12 12 12 16.1 12 17.9 12 15.8 12 15.8 12 16.8 12 14.6 12 12.8 12 11 12 9.5 12 8.6 12 8.3 12 5.1 12 2.3 12-1.4 12-4.1 12-7.4 12-9.3 12-8.9 12-7.2 12-6.7 12-6.2 12-5 12-4.4 12-3.8 12-2.3 12-1.7 12-1.4 12-1.5 12-1.3 12-1 12-1 12-0.9 12-0.1 12 6.6 12 11.2 12 14.9 12 15.1 12 15 12 14.5 12 11.6 12 10.6 12 14.9 12 17.4 12 18.2 12 19.7 12 22.3 12 24.3 12 26.7 12 30.9 12 49.9 12 45.6 12 40.2 12 39.8 12 38.5 12 25.3 12 7.8 12 3.2 12 1.8 12 1.3 12 1.8 12 2.5 12 2.3 12 1.4 12 0.5 12-1.1 12-3.3 12-3.8 12-4.4 12-5 12-4.7 12-4.4 12-5.5 12-5.4 12-4.2 12-3.9 12-3.5 12-3.5 12-3.6 12-3.4 12-2.9 12-3.1 12-2.7 12-1.8 12-1.3 12-1.8 12-2.7 12-2.3 12-2.2 12-6.4 12-10.6 12-13.4 12-15.1 12-17.4 12-19.2 11-18.7" stroke="#f08000"/>
<path d="M481.0 806.0l12-17.8 12-17.9 12-15.2 12-19.8 12-20.5 12-16.1 12-16.1 12-15 12-10.7 12-10.7 12-12.4 12-11.3 12-8 12-6.4 12-6.3 12-6 12-6.5 12-8.2 12-11 12-8.7 12-5.7 12-3.8 12-2.4 12-3.5 12-5.3 12-4.9 12-1.7 12 2.5 12 9.3 12 12.7 12 14.1 12 10.4 12 11.9 12 15 12 12.9 12 12 12 9.8 12 7.9 12 6.9 12 5.8 12 4 12 0.9 12-1.5 12-3.9 12-8.1 12-9.7 12-9.4 12-8.2 12-7.8 12-7.2 12-5.7 12-4.8 12-4.4 12-2.7 12-2 12-1 12-1 12-1.1 12-0.6 12-0.2 12 0.8 12 1.8 12 6.4 12 10.7 12 15.5 12 15.8 12 16.5 12 17.9 12 12.1 12 9.9 12 15.6 12 18.1 12 20.4 12 22.7 12 25.4 12 28.6 12 31.1 12 33.3 12 39.7 12 38.6 12 36.8 12 34.7 12 32.2 12 21.4 12 9.7 12 3.2 12 1.1 12 1 12 1.2 12 2 12 2.2 12 1.1 12 0.2 12-0.7 12-4 12-4.9 12-5 12-5.3 12-4.9 12-4.1 12-5.4 12-5.5 12-4.3 12-3.9 12-3.6 12-3.6 12-3.4 12-3 12-2.9 12-2.9 12-2.5 12-2.3 12-2.3 12-2.3 12-2.8 12-2.9 12-3.4 12-6.4 12-11.1 12-14.6 12-15 12-15.2 12-15.6 11-16.1" stroke="#808080"/>
<path d="M481.0 537.3l12-12.1 12-13.6 12-15.5 12-16.4 12-16.4 12-14.1 12-14.5 12-15.6 12-14.3 12-11.9 12-10.5 12-11.4 12-7.9 12-7.2 12-9.4 12-8.1 12-8.6 12-10.9 12-10.3 12-7.6 12-6.5 12-7.1 12-5.8 12-3.7 12-4.6 12-4.8 12 2 12 9.2 12 15.2 12 17.9 12 18.3 12 19.3 12 19.4 12 17.3 12 13.8 12 12.7 12 12 12 10.2 12 9.5 12 10.3 12 6.6 12 3.6 12-1.6 12-4.4 12-7 12-9.4 12-8.4 12-6.7 12-6.2 12-5.9 12-6.1 12-5.7 12-4.9 12-3.4 12-2.4 12-2.1 12-2.1 12-1.8 12-1.3 12-1.4 12-1.5 12-0.7 12 8 12 13.9 12 16.8 12 16.3 12 15.6 12 14 12 13.1 12 12.9 12 16 12 17.7 12 17.6 12 19.2 12 20.9 12 21.9 12 24.7 12 29.8 12 57.3 12 50.3 12 41.9 12 42.6 12 42.4 12 27.8 12 5.9 12 1.6 12 0.7 12 0.6 12 0.5 12 0.7 12 1.1 12 0.9 12-0.6 12-3.1 12-3.9 12-4 12-4.7 12-4.5 12-4.7 12-5.2 12-4.6 12-3.8 12-3.2 12-2.9 12-2.3 12-2.3 12-2.3 12-1.9 12-1.9 12-1.7 12-1.4 12-1.9 12-1.7 12-0.9 12-1.5 12-2.2 12-3.1 12-7.2 12-11.5 12-13.7 12-16.2 12-20.2 12-23.7 11-22.5" stroke="#22c022"/>
<path d="M481.0 802.3l12-16.6 12-19.7 12-17.8 12-19.6 12-18.1 12-14.8 12-14.3 12-12.8 12-10.9 12-10.7 12-10.9 12-11 12-9.3 12-7.3 12-6.6 12-6.7 12-6.6 12-7.7 12-10.7 12-9.6 12-6.7 12-3.7 12-3.8 12-5.1 12-4.9 12-4.8 12-1.6 12 3.2 12 9.5 12 11.5 12 13.2 12 10.7 12 12.5 12 16 12 13.8 12 12.1 12 9.9 12 8.4 12 7.4 12 6.4 12 4.6 12 1.9 12-1.1 12-3.4 12-7.1 12-9 12-8.5 12-7 12-6.3 12-5.9 12-4.6 12-4 12-3.6 12-1.3 12-0.7 12-0.9 12-0.4 12 0.3 12 0 12-0.3 12 1.1 12 2.2 12 6.5 12 11.2 12 15.8 12 16.4 12 17.5 12 18.4 12 12.1 12 10.2 12 16.5 12 19.2 12 21.5 12 23.9 12 26.9 12 29.7 12 31.7 12 34.2 12 37.7 12 36.6 12 35.8 12 33.8 12 30.8 12 20.4 12 9.7 12 2.8 12 0.6 12 0.1 12 0.4 12 1.5 12 1.1 12 0.1 12-0.8 12-1.9 12-5.3 12-5.9 12-5.6 12-5.7 12-5.3 12-5.1 12-6.7 12-7.2 12-5.4 12-4.2 12-4.2 12-3.8 12-3.6 12-4 12-3.4 12-2.9 12-2.7 12-2.4 12-2.1 12-2.4 12-2.6 12-2.3 12-3.3 12-6.3 12-10.9 12-14.3 12-14.7 12-15.6 12-16.2 11-16.2" stroke="#22c022"/>
<path d="M481.0 705.0l12-17.7 12-18.9 12-15.8 12-16.8 12-17.1 12-15.6 12-16.7 12-14.3 12-11.9 12-14.5 12-13.4 12-9.9 12-8 12-8.4 12-8.6 12-6.6 12-6.1 12-8.6 12-10.3 12-7.8 12-5 12-6 12-6.6 12-4.7 12-4.2 12-4.1 12 0.8 12 6.2 12 11 12 14 12 17 12 14.7 12 13.9 12 15.4 12 14 12 12.7 12 10.5 12 8.8 12 8.2 12 8.1 12 5.2 12 2.5 12-1 12-3.4 12-6.3 12-8.4 12-8.4 12-6.8 12-5.6 12-4.8 12-4.2 12-3.9 12-3.1 12-1.5 12-1.2 12-1 12-0.4 12-0.1 12-0.5 12-0.8 12-0.1 12 0.8 12 6.4 12 11 12 14.9 12 15.4 12 15.4 12 15.1 12 11 12 9.4 12 14.2 12 16.6 12 18.1 12 20 12 22.1 12 23.9 12 26.7 12 31 12 46.3 12 42.5 12 37.9 12 37.3 12 35.8 12 23.4 12 7.8 12 2.8 12 1.3 12 1 12 1.3 12 2.2 12 2.3 12 1.4 12 0.6 12-0.9 12-3.5 12-4.4 12-4.5 12-4.2 12-3.7 12-3.7 12-4.9 12-5.1 12-4.3 12-3.6 12-2.7 12-2.4 12-3 12-3.2 12-2.6 12-2.1 12-1.7 12-1.6 12-1.7 12-2.1 12-2.2 12-2.2 12-3 12-6.8 12-11 12-13.6 12-14.9 12-17.1 12-18.7 11-18.4" stroke="#8000f0"/>
<path d="M481.0 727.4l12-15.6 12-16.5 12-18.3 12-19 12-17.2 12-14.2 12-9.9 12-11.3 12-15.2 12-11.8 12-8.9 12-11.6 12-9.9 12-6.6 12-6.7 12-7.3 12-6.4 12-8.3 12-11.8 12-9 12-6.9 12-6.4 12-4.7 12-4.7 12-5 12-3.7 12-1.1 12 2.3 12 10.1 12 14.5 12 15.3 12 13.2 12 14.3 12 15.7 12 13.2 12 12 12 10.3 12 8.5 12 7.3 12 7.1 12 4.9 12 2 12-1.5 12-3.6 12-6.9 12-9.6 12-9.1 12-7.3 12-6.8 12-6.4 12-5.1 12-4.5 12-4 12-2.1 12-1.4 12-1.1 12-1 12-0.9 12-0.5 12-0.3 12 0.4 12 1.2 12 6.7 12 11.5 12 16 12 16.2 12 16.5 12 16.9 12 12.2 12 10.4 12 16 12 18.5 12 19.8 12 22 12 24.5 12 26.7 12 29.4 12 32.7 12 44.2 12 41.6 12 38.4 12 37.3 12 35.4 12 23.4 12 9.4 12 3.5 12 1.8 12 1.6 12 1.8 12 2.4 12 2.2 12 1.3 12 0.5 12-0.9 12-3.8 12-4 12-4.2 12-5.3 12-5 12-4.2 12-5.1 12-6.1 12-5.2 12-4.5 12-3.9 12-3.5 12-4 12-4.2 12-3.2 12-2.7 12-3 12-3 12-3 12-2.9 12-3.1 12-3.2 12-3.9 12-7.4 12-11.9 12-14.6 12-15.2 12-16.8 12-18.5 11-18" stroke="#b177de"/>
<path d="M481.0 825.3l12-16.4 12-17.9 12-18.6 12-19.8 12-18.6 12-17.9 12-15 12-12 12-11.5 12-10.5 12-9.7 12-9.4 12-8.5 12-7.3 12-5.6 12-6.4 12-7.4 12-9.6 12-13.3 12-8.6 12-5.7 12-6.4 12-4.5 12-3.7 12-5.3 12-5.9 12-2.6 12 3.1 12 9.1 12 10.8 12 13.3 12 11.3 12 12.6 12 15.5 12 13.2 12 12.1 12 10.5 12 9.3 12 7.8 12 6.2 12 4.7 12 2 12-0.2 12-2.6 12-7 12-9.1 12-9 12-7.8 12-7.3 12-6.2 12-4.2 12-3.9 12-3.9 12-2.2 12-1.5 12-0.9 12-0.7 12-0.9 12-1 12-0.5 12 0.8 12 1.2 12 5.4 12 10.1 12 15 12 15.9 12 16.8 12 17.8 12 11.9 12 9.6 12 15.7 12 18.5 12 20.9 12 23.3 12 25.7 12 28.4 12 31 12 32.9 12 36.7 12 35.9 12 34.9 12 33.1 12 30.1 12 19.9 12 9.5 12 2.2 12-0.2 12 0.1 12 1.2 12 1.4 12 0.9 12 0.4 12-0.3 12-1 12-4 12-5.2 12-5 12-4.7 12-4.2 12-3.7 12-5.2 12-5.8 12-4.2 12-3.6 12-3.2 12-2.5 12-2.3 12-2.8 12-1.7 12-1.2 12-1.5 12-1 12-0.7 12-1.6 12-1.8 12-1.3 12-2.3 12-5.4 12-9.8 12-13.2 12-14 12-14.5 12-14.4 11-15" stroke="#008000"/>
<path d="M481.0 568.8l12-12.5 12-15.9 12-14.9 12-16.2 12-19.7 12-15.1 12-11.4 12-15 12-14.6 12-11.8 12-12 12-11.2 12-9.7 12-9.6 12-8.8 12-10.6 12-11.5 12-9.2 12-6.4 12-5.7 12-7.5 12-7.3 12-4.2 12-3.1 12-4.5 12-3.4 12 2.9 12 8.7 12 14.1 12 17.9 12 19.7 12 18.8 12 18.5 12 17.1 12 14 12 12.8 12 11.3 12 9.2 12 8.7 12 9.3 12 5.3 12 2.5 12-2.8 12-5.9 12-8.3 12-10.2 12-9.4 12-7.9 12-7.4 12-7 12-6.6 12-5.7 12-4.9 12-3.8 12-3.5 12-2.7 12-1.9 12-1.5 12-1.3 12-1.1 12-1.3 12-0.5 12 8.3 12 13.9 12 17.4 12 16.8 12 15.7 12 14.4 12 13.6 12 13.4 12 16.5 12 17.9 12 17.7 12 19 12 20.8 12 21.8 12 24 12 29.3 12 55.8 12 49 12 40.8 12 41.5 12 41.4 12 26.8 12 5.4 12 1.1 12-0.2 12-0.2 12 0.6 12 0.6 12 0.5 12 0.6 12-0.5 12-3.3 12-4.4 12-4.1 12-4.8 12-5.3 12-5.1 12-4.9 12-5.1 12-4.4 12-3.3 12-3.2 12-3 12-2.7 12-2.1 12-2.4 12-2.4 12-1.7 12-1 12-1 12-1.1 12-1.1 12-1.3 12-1.2 12-2.1 12-6.9 12-10.9 12-12.9 12-15.8 12-19.5 12-22.6 11-21.7" stroke="#22c022"/>
<path d="M481.0 843.6l12-16.2 12-20.6 12-20.1 12-20.5 12-18.6 12-14 12-12.7 12-13.9 12-13.4 12-13 12-11.5 12-9.3 12-7.9 12-7.1 12-6.6 12-7.6 12-6.5 12-6.3 12-11.3 12-10.2 12-7.9 12-6.4 12-4.7 12-4.3 12-4.3 12-5 12-3.4 12 1.2 12 9.3 12 11.3 12 12.6 12 11 12 12.9 12 15.6 12 13.9 12 13.1 12 10.4 12 8.4 12 7.4 12 6.7 12 4.7 12 1.8 12 0 12-2.6 12-7.1 12-8.8 12-8.4 12-7.3 12-6.8 12-6.2 12-4.6 12-3.9 12-3.6 12-1.5 12-1 12-0.7 12-0.4 12-0.3 12-0.3 12 0 12 1.3 12 2.3 12 6 12 10 12 15.2 12 16 12 16.7 12 18.5 12 12.2 12 9.3 12 15.1 12 18.4 12 21.5 12 23.9 12 26.8 12 30 12 32.2 12 34 12 35.7 12 35.1 12 34.7 12 32.4 12 29.4 12 19.6 12 10.1 12 2.9 12 0.9 12 0.8 12 1 12 1.6 12 1.5 12 0.7 12 0.2 12-0.4 12-4.5 12-5.7 12-5.4 12-5.4 12-4.4 12-3.5 12-5.6 12-6.6 12-5.2 12-4.3 12-3.5 12-3 12-3 12-3.3 12-2.1 12-2 12-2.5 12-1.8 12-1.6 12-1.9 12-2 12-2.3 12-3.2 12-5.6 12-10 12-14.1 12-14 12-13.9 12-14.3 11-14.6" stroke="#f00080"/>
<path d="M481.0 852.2l12-16.9 12-19.1 12-19.3 12-20.6 12-19.1 12-17.1 12-15.6 12-12.2 12-8.7 12-10.7 12-11.7 12-9.1 12-9 12-6.7 12-3.8 12-5.2 12-6.3 12-8.7 12-12 12-7.8 12-4.7 12-4.8 12-5.2 12-4.3 12-4.1 12-4.8 12-2.3 12 0.9 12 7.4 12 11.6 12 13.8 12 9 12 9.9 12 15.4 12 14.3 12 12.3 12 9 12 7.5 12 6.5 12 5.3 12 3.6 12 0.8 12-0.9 12-3.1 12-7.7 12-9.7 12-9.2 12-7.7 12-7.4 12-6.8 12-4.9 12-4 12-3.8 12-1.5 12-0.8 12-0.2 12-0.1 12-0.3 12 0 12-0.1 12 1.4 12 3.2 12 6.6 12 10.2 12 15.8 12 16.5 12 16.9 12 19.3 12 12.6 12 9.6 12 15.8 12 18.7 12 21.5 12 24.7 12 27.8 12 30.4 12 32.1 12 33.9 12 34.2 12 34.3 12 34.4 12 32.2 12 28.8 12 18.6 12 9.6 12 2.8 12 0.6 12 0.1 12 0.2 12 1.1 12 1.5 12 0.7 12-0.5 12-1 12-3.8 12-5.3 12-5.2 12-4.9 12-4.8 12-4.1 12-5 12-5.8 12-4.7 12-3.8 12-3.3 12-3.1 12-2.8 12-3.1 12-2.4 12-1.7 12-1.7 12-1.9 12-2.1 12-2 12-1.9 12-1.8 12-2.9 12-6.1 12-10.9 12-14.3 12-13.9 12-14.4 12-14.7 11-14.8" stroke="#7d4e4e"/>
<path d="M481.0 594.3l12-11.5 12-15.2 12-18.1 12-19.5 12-20.2 12-17.7 12-14.3 12-15.8 12-16.8 12-13.4 12-11 12-11.2 12-11 12-10.7 12-9.1 12-8.6 12-8.3 12-8 12-8.8 12-8.6 12-7.8 12-6.6 12-4.5 12-2.6 12-3.8 12-5.3 12 1.5 12 10.3 12 15.9 12 17.1 12 18 12 18.1 12 18.3 12 16.7 12 13.4 12 12.7 12 11.8 12 9.7 12 8.4 12 8.6 12 5.3 12 2.6 12-2.4 12-5.2 12-7.6 12-9.7 12-9.6 12-7.8 12-6.9 12-6.4 12-6 12-5.6 12-4.8 12-3.6 12-2.8 12-2 12-1.7 12-1.3 12-0.8 12-0.7 12-0.6 12 0.1 12 8.2 12 13.5 12 17 12 16.8 12 16.6 12 15.3 12 13.4 12 13.2 12 17 12 18.3 12 18.6 12 20.2 12 22.4 12 24 12 26.2 12 31.3 12 55.4 12 49.6 12 41.8 12 41.2 12 40.7 12 27.1 12 7 12 1.7 12 0.5 12 0.7 12 0.7 12 0.6 12 0.4 12 0.2 12-0.9 12-3.1 12-4.7 12-5.1 12-5.9 12-6 12-5.6 12-5.8 12-5.9 12-5.2 12-4.3 12-3.9 12-3.2 12-2.5 12-2.9 12-3.1 12-2.5 12-1.9 12-1.3 12-1.3 12-1 12-0.6 12-1.1 12-1.4 12-1.8 12-6.5 12-10.8 12-12.7 12-15.1 12-18.7 12-21.7 11-20.7" stroke="#808000"/>
<path d="M481.0 747.9l12-15.9 12-19.1 12-16.4 12-19.1 12-19.4 12-12.4 12-11.3 12-13.7 12-11.9 12-11 12-10.4 12-9 12-6.9 12-6 12-6 12-6.2 12-6.5 12-7.3 12-9 12-6.2 12-4.1 12-4.5 12-4.5 12-3.1 12-3.4 12-4.5 12-0.6 12 5.2 12 11.2 12 13.2 12 14.7 12 12.8 12 13.5 12 16.1 12 14.6 12 12.6 12 9.8 12 8.5 12 7.7 12 6.6 12 4.3 12 1.1 12-1.3 12-3.4 12-7.5 12-9.7 12-9.1 12-8 12-8 12-7.1 12-5.8 12-5.2 12-4.5 12-2.5 12-1.9 12-1.4 12-0.6 12-0.9 12-1 12-0.6 12 0.3 12 1.4 12 6.7 12 11.3 12 15.5 12 15.9 12 17.1 12 18.1 12 12.8 12 11 12 16.3 12 18.8 12 20.5 12 22.7 12 25.4 12 28.1 12 30 12 32.5 12 40.4 12 38.2 12 35.8 12 34.4 12 32.2 12 20.9 12 8.6 12 2.3 12-0.2 12-0.1 12 0.5 12 1.5 12 1.5 12 0.4 12-0.8 12-2 12-4.5 12-4.6 12-4.8 12-5.5 12-4.5 12-3.6 12-5.4 12-5.7 12-3.9 12-3.2 12-3.1 12-2.8 12-2.8 12-3.1 12-2.3 12-1.4 12-1.1 12-1.4 12-1.4 12-1.3 12-1.7 12-1.9 12-2.7 12-6.2 12-10.4 12-13.6 12-14.9 12-16.1 12-17 11-17" stroke="#2222ee"/>
<path d="M481.0 806.2l12-15.6 12-19.9 12-19.4 12-19.9 12-19.3 12-17.1 12-13.4 12-12.3 12-14.6 12-14.1 12-11.3 12-9.6 12-8 12-6.5 12-4.9 12-4.6 12-6.2 12-9.2 12-11.1 12-7.5 12-6.5 12-6.1 12-3.8 12-3.3 12-4 12-3.3 12-1.3 12 2.2 12 9.3 12 11.8 12 13.7 12 11 12 11.3 12 15.1 12 14 12 12.1 12 9.7 12 8.1 12 6.9 12 6.2 12 4.4 12 1.1 12-1.5 12-3.3 12-7 12-8.9 12-8.6 12-7.4 12-6.7 12-5.7 12-4.1 12-3.2 12-2.7 12-1 12-0.2 12 0.1 12 0.4 12 0.9 12 1.4 12 1 12 1.6 12 2.6 12 7 12 11.6 12 16.2 12 16.6 12 17.7 12 19.2 12 12.6 12 9.9 12 15.8 12 18.8 12 21.1 12 23.4 12 26.2 12 29.2 12 31.2 12 32.8 12 36.1 12 35.9 12 34.7 12 32.4 12 29.5 12 19.1 12 8.7 12 2.2 12-0.1 12-0.6 12-0.3 12 1 12 1.1 12-0.1 12-0.8 12-1.9 12-5.4 12-6 12-5.6 12-5.4 12-4.8 12-4.2 12-5.6 12-5.9 12-4.5 12-3.8 12-3.4 12-2.8 12-2.8 12-2.6 12-1.5 12-1.2 12-1.4 12-1.2 12-1.6 12-1.8 12-1.6 12-1.8 12-3.1 12-5.8 12-10.2 12-14.4 12-15 12-15.4 12-16 11-15.9" stroke="#f08000"/>
<path d="M481.0 687.6l12-13.7 12-18.5 12-17.8 12-17.4 12-17.7 12-17.2 12-16.6 12-14.7 12-14.1 12-13.1 12-12.1 12-12.1 12-8.6 12-7.8 12-11.4 12-10.7 12-7.9 12-8.3 12-10.4 12-8.8 12-5.5 12-5.4 12-6.1 12-4.2 12-3.2 12-3.1 12 0.4 12 6.6 12 13.8 12 15.9 12 17.2 12 16.2 12 16.5 12 17.7 12 15.2 12 13.3 12 11.2 12 9.5 12 8.9 12 8.9 12 6 12 2.6 12-1.3 12-3.5 12-6.8 12-9.2 12-8.8 12-7.1 12-6.9 12-6.5 12-5.4 12-4.8 12-3.7 12-2.3 12-2.3 12-1.4 12-0.6 12-0.8 12-0.7 12-0.1 12 0.4 12 0.8 12 6.9 12 12.5 12 16.4 12 16 12 16 12 16.1 12 12.2 12 11.2 12 16.1 12 18.1 12 19.5 12 21.4 12 23.4 12 25.3 12 27.7 12 31.7 12 46.4 12 42.5 12 38.1 12 37.6 12 35.7 12 22.9 12 7.4 12 2 12-0.1 12-0.2 12 0.2 12 1.1 12 1.3 12 0.4 12-0.6 12-2.4 12-4.3 12-4.5 12-5.2 12-5.7 12-5.1 12-4.4 12-5.5 12-6.2 12-4.8 12-3.6 12-3.3 12-3.6 12-3.6 12-3.1 12-2.6 12-2.3 12-2.6 12-2.3 12-2.1 12-2.2 12-2.1 12-1.9 12-3.3 12-7.3 12-11 12-14 12-15.6 12-17.6 12-19.7 11-19.5" stroke="#2222ee"/>
<path d="M481.0 552.3l12-14.7 12-15.4 12-13.6 12-16.6 12-17.5 12-13.3 12-14.6 12-14.7 12-12.7 12-14.4 12-13 12-11.1 12-9.1 12-8.2 12-8 12-7.8 12-7.7 12-7.6 12-8.4 12-8.2 12-7.4 12-6.1 12-3.2 12-3.4 12-5.6 12-3.3 12 2.7 12 7.3 12 14.9 12 19.7 12 19.1 12 17.9 12 18.6 12 17.8 12 14.4 12 12.7 12 11.2 12 9.2 12 8.8 12 9.8 12 5.7 12 2.7 12-1.8 12-4.7 12-7.6 12-10 12-9.6 12-7.3 12-6.2 12-5.9 12-6 12-6 12-5.2 12-3.5 12-2.9 12-2.5 12-1.9 12-1.4 12-1.5 12-1.4 12-1.3 12-0.9 12 7.5 12 13.5 12 16.7 12 16 12 15.2 12 13.6 12 12.4 12 12.8 12 16.7 12 17.8 12 17.5 12 19.1 12 21.1 12 22.3 12 25.2 12 30.6 12 57.4 12 51.4 12 42.7 12 42.7 12 42.9 12 27.8 12 6.6 12 3 12 2.1 12 1.4 12 1.4 12 1.8 12 1.9 12 1.3 12 0.1 12-2.3 12-3.5 12-3.9 12-4.6 12-4.7 12-5 12-5.6 12-5.5 12-4.8 12-4.1 12-3.6 12-3.2 12-3.3 12-3.8 12-3.4 12-2.9 12-2.9 12-2.9 12-2 12-1.8 12-2.1 12-2.7 12-2.8 12-2.9 12-7.2 12-11.9 12-14.2 12-16.3 12-20.1 12-23.9 11-22.8" stroke="#2222ee"/>
<path d="M481.0 546.4l12-13.1 12-13.7 12-13.3 12-14.4 12-15.9 12-13.6 12-13 12-13.6 12-13.2 12-14.3 12-12.5 12-9.9 12-8.7 12-8 12-9 12-10.1 12-8.8 12-8.2 12-9.3 12-9 12-7.3 12-4.7 12-3.5 12-3.7 12-4 12-3.8 12 2.3 12 9.1 12 13.9 12 17.3 12 19.9 12 19.7 12 18.9 12 17.3 12 14.4 12 13.5 12 11.7 12 9.6 12 9.1 12 9.3 12 5.3 12 2.7 12-2.2 12-5.1 12-7.7 12-9.9 12-10 12-8.5 12-7.9 12-7.3 12-7.1 12-7 12-6.4 12-4.7 12-3.9 12-3.4 12-2.6 12-2.5 12-2.1 12-1.6 12-1.7 12-1 12 7.9 12 13.5 12 16.6 12 16.1 12 15.4 12 14.1 12 13.5 12 13.5 12 16.8 12 17.9 12 18 12 19.6 12 21.1 12 22 12 24.8 12 30.3 12 57.8 12 51 12 42 12 42.5 12 42.6 12 27.4 12 5.8 12 1.7 12 0.6 12 0.8 12 1 12 0.6 12 0.2 12 0 12-0.7 12-2.8 12-4.1 12-4.5 12-5.3 12-5.5 12-5.2 12-5.2 12-5.4 12-4.7 12-4 12-3.5 12-2.7 12-2.8 12-3.5 12-3.3 12-3.1 12-2.6 12-2 12-2 12-1.9 12-1.9 12-1.6 12-1.4 12-2.3 12-6.6 12-10.5 12-12.9 12-15.3 12-19.1 12-22.4 11-21.1" stroke="#8000f0"/>
<path d="M481.0 749.7l12-17.2 12-18.4 12-18.5 12-18.1 12-18.2 12-16.2 12-12.3 12-13.3 12-14 12-14 12-11.8 12-8.4 12-9.9 12-10 12-7.1 12-7.4 12-7 12-8.1 12-11.5 12-9.6 12-7.2 12-6.8 12-7.2 12-6.1 12-4.1 12-4 12-1.3 12 3.9 12 10.3 12 13.4 12 15.1 12 13.3 12 14.2 12 14.5 12 12.8 12 12.4 12 10.7 12 8.7 12 7.5 12 7.2 12 4.9 12 1.7 12-1.2 12-3.3 12-6.8 12-8.8 12-8.4 12-7 12-6 12-4.9 12-4.2 12-3.7 12-2.9 12-1.2 12-0.4 12 0.3 12 0.6 12 0.3 12 0.4 12 0.7 12 1.4 12 2.3 12 7.5 12 11.8 12 15.9 12 16.3 12 16.8 12 17.5 12 12.5 12 10.3 12 15.5 12 18.2 12 19.7 12 21.6 12 23.8 12 26.4 12 28.9 12 32.1 12 42 12 39.4 12 36.2 12 35.1 12 33.3 12 21.9 12 8.3 12 2.1 12 0.1 12 0.4 12 1 12 1.4 12 1.2 12 0.3 12-0.4 12-1.3 12-4.1 12-5.1 12-5.2 12-5.1 12-4.5 12-4.1 12-5.3 12-5.7 12-4.5 12-4.1 12-3.6 12-3.1 12-3.4 12-3.5 12-3 12-2.5 12-2.1 12-2 12-2 12-1.9 12-1.9 12-2.1 12-3.2 12-6.9 12-10.4 12-13.7 12-15.6 12-16.7 12-17.8 11-17.8" stroke="#8000f0"/>
<path d="M481.0 646.8l12-13 12-15 12-15.1 12-17.7 12-18.4 12-13.6 12-13.8 12-14.9 12-13.1 12-14.2 12-12.4 12-9.5 12-8.3 12-7.5 12-8 12-8.4 12-9 12-8.6 12-8.5 12-7.4 12-6.1 12-4.8 12-3.9 12-3.3 12-2.5 12-2.5 12 1.3 12 6.1 12 12 12 15.6 12 17.3 12 16.3 12 17 12 16.9 12 13.9 12 13 12 11.3 12 9.6 12 8.8 12 8.1 12 5 12 2.4 12-1.6 12-4.3 12-7.3 12-9.5 12-9.4 12-8 12-7.5 12-6.8 12-6 12-5.3 12-4.7 12-3.3 12-2.9 12-2.4 12-2.1 12-1.7 12-1.2 12-1 12-0.5 12 0.5 12 7.5 12 12.5 12 16.2 12 16 12 15.7 12 15.9 12 12.8 12 11.9 12 16.5 12 18.7 12 19 12 20.5 12 22.8 12 24.9 12 27.3 12 31.2 12 49.2 12 44.6 12 38.8 12 38.7 12 37.5 12 23.7 12 6.4 12 1.6 12-0.2 12-0.3 12 0 12 0.4 12 0.4 12-0.5 12-1.3 12-2.9 12-4.9 12-5.2 12-5.3 12-5.7 12-5.1 12-4.8 12-5.5 12-5.1 12-4 12-3.3 12-2.8 12-2.7 12-2.7 12-2.7 12-1.8 12-1.5 12-1.8 12-1.4 12-1 12-1.4 12-1.6 12-1.7 12-2.6 12-6.7 12-10.8 12-13.7 12-15.5 12-18.1 12-20.9 11-20.4" stroke="#37ad6b"/>
<path d="M481.0 833.6l12-17.5 12-18.9 12-19.5 12-19.9 12-17.9 12-15.7 12-11.5 12-12.3 12-14.6 12-11.4 12-9 12-9.4 12-9.2 12-8.1 12-6.4 12-5.4 12-5.7 12-7.3 12-10.5 12-8.3 12-5.7 12-4.4 12-4.4 12-5.3 12-5.3 12-3.3 12 0.2 12 2.8 12 9.2 12 11.6 12 12.7 12 10.6 12 12.7 12 15.5 12 13.6 12 13.2 12 10.6 12 8.3 12 6.8 12 5.7 12 4 12 0.7 12-1.2 12-3 12-7.3 12-9.3 12-9.4 12-8.3 12-7.8 12-6.8 12-4.9 12-4.3 12-3.9 12-2.5 12-1.5 12-0.5 12-0.3 12-0.3 12-0.5 12-0.6 12 1.4 12 2.7 12 6.3 12 10.2 12 15.2 12 15.9 12 16.9 12 18.6 12 12.1 12 9.2 12 15.1 12 18.8 12 21.6 12 24.1 12 26.8 12 30 12 31.9 12 33.3 12 35.4 12 34.9 12 34.2 12 32.3 12 29.2 12 19.1 12 9.2 12 2.1 12 0.2 12 0.4 12 0.5 12 1.4 12 1.4 12 0.2 12-0.3 12-0.9 12-4.3 12-5.4 12-5.4 12-5.3 12-4.6 12-4.2 12-5.7 12-6.1 12-4.6 12-3.8 12-3.4 12-2.9 12-2.8 12-2.8 12-2.1 12-1.3 12-1.3 12-1.4 12-1.5 12-1.4 12-1.7 12-1.6 12-2.5 12-5.2 12-9.8 12-13.9 12-14.4 12-14.5 12-14.5 11-14" stroke="#2222ee"/>
<path d="M481.0 804.2l12-12.5 12-17.4 12-20.6 12-19.1 12-15.9 12-13 12-12.7 12-14.5 12-12.4 12-9.9 12-9.3 12-8 12-8.9 12-9.1 12-6.3 12-6.7 12-7.8 12-9 12-11.3 12-8.4 12-8.6 12-8.2 12-4.9 12-5.1 12-6.1 12-4.9 12-2.6 12 2.4 12 10.5 12 11.6 12 13 12 11.3 12 12.3 12 16 12 14.4 12 12.7 12 10.5 12 9.2 12 8.4 12 7.1 12 4.9 12 2.3 12-0.1 12-2.3 12-6.5 12-8.4 12-8.5 12-7.5 12-6.8 12-6 12-4.9 12-4.1 12-3.6 12-1.8 12-1.5 12-1 12-0.7 12-0.7 12-0.4 12-0.1 12 1 12 1.8 12 6 12 10.3 12 15.7 12 16.3 12 16.7 12 18.2 12 12 12 9.4 12 15.6 12 18.5 12 20.5 12 22.9 12 25.8 12 28.4 12 30.1 12 32.2 12 36.9 12 35.8 12 34.3 12 32.8 12 30.4 12 19.7 12 8.8 12 2.1 12 0 12-0.1 12 0.5 12 1.3 12 1.5 12 0.6 12-0.4 12-1.4 12-4.7 12-5.4 12-5.1 12-4.7 12-3.9 12-3.8 12-5.4 12-5.7 12-3.9 12-2.8 12-2.2 12-1.8 12-2.3 12-2.6 12-1.3 12-1.1 12-1.5 12-1.1 12-1.2 12-1.6 12-1.6 12-1.8 12-2.8 12-6.1 12-10.6 12-14.3 12-14.7 12-15 12-15.9 11-16.4" stroke="#a0f0f0"/>
<path d="M481.0 594.4l12-10.6 12-14.1 12-15.3 12-13.2 12-15.8 12-16.7 12-16.2 12-14.4 12-11.4 12-11 12-11.8 12-12.1 12-8.9 12-8 12-8.2 12-8 12-8.2 12-8.8 12-11.4 12-10.3 12-6.1 12-6.3 12-6.6 12-5.2 12-4.8 12-2.9 12 2.5 12 7.5 12 13.4 12 16 12 16.7 12 16.9 12 18.1 12 17 12 14 12 12.5 12 10.9 12 9.5 12 9.2 12 9.6 12 6.7 12 3.8 12-0.7 12-3.4 12-6.1 12-8.3 12-7.9 12-6.3 12-5.6 12-5.2 12-5 12-4.6 12-3.5 12-2.2 12-2 12-1.8 12-1.1 12-0.9 12-1.2 12-1.1 12-0.8 12-0.2 12 6.9 12 12.4 12 16.6 12 16.2 12 15.5 12 14.9 12 12.8 12 12 12 15.7 12 17.4 12 18.1 12 20 12 21.9 12 23.4 12 25.8 12 30.1 12 52.1 12 47.4 12 40.1 12 39.8 12 40 12 25.9 12 6.2 12 1.7 12 0.6 12 0.2 12 0.2 12 0.7 12 1.2 12 0.5 12-0.8 12-2.7 12-4.5 12-4.8 12-4.8 12-5.1 12-5.1 12-4.6 12-4.8 12-4.6 12-3.4 12-2.9 12-3 12-3.1 12-2.9 12-3.2 12-2.9 12-2.5 12-2.4 12-2.4 12-2.7 12-2.5 12-2.5 12-3.1 12-4.4 12-8.6 12-12.5 12-15 12-17.6 12-21.1 12-24.1 11-23.3" stroke="#e62222"/>
<path d="M481.0 763.5l12-14.2 12-16 12-18.5 12-20.2 12-19.1 12-15.7 12-14.2 12-15.4 12-13 12-11 12-12.3 12-11.7 12-8.4 12-6.2 12-5.4 12-7.6 12-10 12-10.5 12-11.3 12-8.9 12-7.6 12-7.7 12-5.6 12-4.6 12-5.2 12-5.2 12-2.3 12 3 12 9.9 12 13 12 15.6 12 13.6 12 14.3 12 16.1 12 13.8 12 12.4 12 10.4 12 8.9 12 8.1 12 7.3 12 4.7 12 1.8 12-0.9 12-3.4 12-7.2 12-9.2 12-9.2 12-8 12-7 12-6 12-5.2 12-4.7 12-3.8 12-1.7 12-1.3 12-1 12-0.2 12 0.2 12-0.1 12 0.1 12 1.3 12 2 12 6.9 12 11.8 12 16.1 12 16.2 12 16.4 12 17.4 12 12.5 12 10.3 12 15.6 12 18.3 12 20.1 12 22 12 24.7 12 27.1 12 29.1 12 31.9 12 41.1 12 38.9 12 36.1 12 34.5 12 32.6 12 21.6 12 7.9 12 1.5 12-0.5 12-0.1 12 0.8 12 1.6 12 1 12 0.4 12-0.4 12-1.3 12-3.8 12-4.3 12-4.4 12-4.6 12-4.1 12-3.7 12-4.6 12-4.9 12-3.8 12-2.9 12-2.7 12-2.8 12-2.5 12-1.9 12-1.6 12-1.8 12-1.8 12-1.6 12-1.3 12-1.1 12-1.1 12-1.6 12-3.4 12-6.3 12-10.2 12-14.1 12-15.2 12-16.3 12-17.7 11-17.7" stroke="#ffffff"/>
<path d="M481.0 810.6l12-17 12-20 12-20.4 12-19.7 12-18.4 12-18 12-14.7 12-12.9 12-12.4 12-11 12-10.1 12-8.2 12-8.2 12-8.2 12-6.3 12-8 12-7.9 12-6.7 12-9.7 12-6.6 12-3.7 12-5 12-5 12-4.9 12-5.3 12-4.6 12-1.2 12 3.1 12 8.8 12 10.8 12 13.2 12 11 12 11.7 12 14.6 12 13.4 12 12.1 12 10.1 12 8.3 12 6.5 12 6 12 4.7 12 1.8 12-0.7 12-3.3 12-7.2 12-8.6 12-8.7 12-7.4 12-6.5 12-6.1 12-4.5 12-3.7 12-3.4 12-1.2 12-0.6 12 0 12 0.5 12 0.1 12 0 12 0.6 12 2 12 2.8 12 6.8 12 10.9 12 15.9 12 16.6 12 17.2 12 18.3 12 12.5 12 10.3 12 16.1 12 18.7 12 21.2 12 23.7 12 26.9 12 30 12 31.7 12 33.7 12 37.2 12 36.5 12 35.6 12 33.5 12 30.5 12 20.2 12 10.1 12 3 12 0.4 12 0.3 12 0.9 12 1.7 12 1.8 12 1 12-0.3 12-1.3 12-4.4 12-5.2 12-5.2 12-5.5 12-4.8 12-4.1 12-5.6 12-6.3 12-5.1 12-4.5 12-4.1 12-4 12-3.6 12-3.5 12-2.5 12-2.1 12-2.7 12-2.5 12-2.1 12-2.5 12-2.6 12-2.4 12-3.4 12-6.3 12-10.9 12-14.4 12-14.7 12-15.5 12-15.7 11-15.5" stroke="#2222ee"/>
<path d="M481.0 583.9l12-15.2 12-17.8 12-17.1 12-16 12-17.6 12-16.3 12-14.1 12-13.5 12-14.2 12-13.8 12-11.4 12-12.3 12-9.2 12-6.6 12-10.1 12-9.4 12-6.5 12-8.8 12-9.1 12-5.5 12-4.7 12-6 12-5.9 12-4.2 12-3 12-3.4 12 2.2 12 9.2 12 13.9 12 17.2 12 18.2 12 17.3 12 18.7 12 16.8 12 13.3 12 12.5 12 11 12 8.9 12 8.3 12 9 12 5.4 12 2.7 12-1.9 12-5.1 12-7.6 12-9.4 12-8.9 12-7.2 12-6.5 12-5.8 12-5.5 12-5.3 12-4.5 12-3 12-2.3 12-1.7 12-1.6 12-1.2 12-0.8 12-1.6 12-1.7 12-0.7 12 7.7 12 12.7 12 15.7 12 15.6 12 15.1 12 13.9 12 12.9 12 12.9 12 16 12 17.5 12 18.2 12 19.8 12 21.3 12 22.6 12 26.1 12 31.7 12 56.4 12 50.1 12 42.1 12 42.2 12 42 12 27.6 12 7.7 12 3.6 12 2.2 12 1.5 12 1.3 12 2 12 2.3 12 1.3 12-0.6 12-2.5 12-4.1 12-4.9 12-5.3 12-5.6 12-5.5 12-6.1 12-6.6 12-6.2 12-5.5 12-5 12-4.7 12-4.4 12-4.2 12-4.4 12-4 12-3.4 12-3 12-3.1 12-3 12-2.4 12-2.6 12-2.7 12-3.1 12-7.2 12-11 12-12.9 12-15.4 12-18.7 12-21.7 11-20.9" stroke="#ffffff"/>
<path d="M481.0 786.6l12-15.7 12-16.5 12-18.6 12-20.7 12-17.4 12-15.7 12-15.1 12-12.5 12-9.2 12-9.7 12-11.4 12-10 12-8.2 12-7.6 12-6.2 12-4.1 12-4.5 12-7.4 12-9.9 12-7.8 12-5.6 12-4.4 12-3.4 12-2.8 12-3.6 12-3.8 12-0.6 12 3.7 12 9.6 12 11.5 12 13.7 12 11.1 12 12.2 12 15.6 12 13.7 12 12 12 9.7 12 8.1 12 7 12 5.8 12 3.4 12 0.6 12-1.5 12-3.8 12-7.5 12-9.1 12-9.2 12-8.3 12-7.9 12-6.5 12-4.3 12-3.6 12-3.4 12-1.6 12-0.8 12 0 12 0.3 12 0.3 12 0.3 12 0.6 12 1.6 12 2.3 12 7 12 11.6 12 15.9 12 16.5 12 17.3 12 18.6 12 12.4 12 9.9 12 16.1 12 19 12 21 12 23.6 12 26.3 12 29 12 30.7 12 32.8 12 37.5 12 36.8 12 35.4 12 33.2 12 30.4 12 19.9 12 9.1 12 2.7 12 0.4 12-0.1 12 0.7 12 1.5 12 1.6 12 0.6 12-0.2 12-0.8 12-4.2 12-5.2 12-5 12-4.9 12-4.4 12-4.2 12-5.4 12-5.8 12-4.4 12-3.9 12-3.2 12-2.6 12-2.7 12-3.1 12-2.4 12-1.5 12-1.2 12-1.4 12-2.1 12-1.7 12-1.5 12-1.7 12-2.8 12-6.1 12-10.5 12-13.7 12-14.6 12-15.1 12-15.1 11-15.5" stroke="#800080"/>
<path d="M481.0 626.4l12-15 12-17 12-15.9 12-17.6 12-17.4 12-13.3 12-13.2 12-13.6 12-13.8 12-15.9 12-13.8 12-10.9 12-9.6 12-8.1 12-7.6 12-8.1 12-8.1 12-8.7 12-9.6 12-7.1 12-6.3 12-5.9 12-4.9 12-3.9 12-3.1 12-3 12 1.2 12 7.8 12 14.5 12 16.5 12 17.4 12 17 12 17.2 12 17.3 12 14.5 12 12.9 12 11.2 12 9.4 12 9.2 12 9.4 12 5.7 12 2.8 12-1.1 12-3.8 12-7.1 12-8.9 12-8.4 12-7.2 12-6.6 12-6 12-5.6 12-5.1 12-4.3 12-2.6 12-1.7 12-1.6 12-1.5 12-0.8 12-0.5 12-0.4 12-0.5 12-0.3 12 7.1 12 12.4 12 15.9 12 15.7 12 15.6 12 15.2 12 12.5 12 11.9 12 16 12 17.6 12 18.4 12 20.2 12 22.2 12 24 12 26.6 12 31 12 50.9 12 46 12 39.6 12 39.5 12 38.5 12 25 12 7.6 12 2.8 12 0.9 12 0.8 12 1.1 12 1.3 12 1.2 12 0.8 12-0.2 12-1.7 12-3.7 12-4.5 12-5 12-5 12-4.6 12-4.8 12-5.7 12-5.1 12-3.9 12-3.8 12-3 12-2.7 12-3 12-3.2 12-2.8 12-2.2 12-1.6 12-1.4 12-1.4 12-1.6 12-1.8 12-1.4 12-2.6 12-7 12-11.2 12-13.3 12-15.4 12-18.5 12-20.9 11-20.1" stroke="#0000a0"/>
<path d="M481.0 693.4l12-14.9 12-19.6 12-19.6 12-18 12-16.3 12-14.9 12-15 12-11.8 12-11 12-14.1 12-12.6 12-9.4 12-6.7 12-6.8 12-7.9 12-7.5 12-5.4 12-5.2 12-8.3 12-6.5 12-5.5 12-5.9 12-3.4 12-2.1 12-4.1 12-3.1 12 2 12 5.5 12 11.6 12 15.2 12 16.1 12 13.9 12 15.7 12 17.3 12 13.9 12 12.3 12 10.8 12 8.8 12 7.6 12 7.3 12 4.4 12 1.5 12-1.5 12-4.2 12-8.2 12-10.6 12-9.9 12-8.1 12-7.7 12-7.3 12-6.7 12-6.4 12-5.5 12-3.1 12-2.9 12-2.7 12-2.4 12-2.1 12-1.2 12-1 12-0.8 12 0.2 12 7 12 11.9 12 15.2 12 15.7 12 16.4 12 16.8 12 12.9 12 11.8 12 16.8 12 19.1 12 20 12 22.2 12 24.9 12 27 12 29.4 12 33.2 12 47.1 12 43.1 12 38.6 12 38 12 36.5 12 23.7 12 7.6 12 2.4 12 1.3 12 0.6 12 0.6 12 1.1 12 0.9 12 0.5 12-0.4 12-1.6 12-4.1 12-5.1 12-5.8 12-5.5 12-4.6 12-5 12-6 12-5.5 12-4.4 12-4 12-3.2 12-2.9 12-3 12-3.1 12-2.3 12-1.8 12-1.9 12-1.7 12-1.6 12-1.6 12-1.8 12-2.2 12-2.9 12-6.4 12-10.7 12-13.5 12-14.9 12-17.2 12-18.9 11-18.3" stroke="#161616"/>
<path d="M481.0 597.3l12-15.9 12-15.3 12-14.3 12-16.2 12-19.3 12-17.1 12-13.7 12-12.5 12-13.9 12-14.9 12-12.3 12-11.1 12-8.7 12-6.3 12-6.7 12-6.4 12-6.7 12-8 12-7.7 12-6.3 12-5.2 12-4.2 12-4.2 12-3.4 12-2.3 12-2.6 12 1.7 12 7.5 12 13.8 12 17.5 12 18.7 12 17.3 12 17 12 16.3 12 14.1 12 12.9 12 10.4 12 8.5 12 8 12 7.9 12 4.7 12 2.2 12-2.6 12-5.6 12-8.7 12-10.6 12-10.1 12-8.2 12-7.6 12-7.7 12-6.9 12-5.9 12-5.1 12-3.7 12-2.9 12-2.2 12-1.7 12-1.6 12-1.4 12-1.1 12-0.6 12 0.4 12 8.2 12 13.4 12 16.5 12 16.4 12 16 12 15.4 12 13.5 12 12.3 12 16.3 12 18.4 12 18.3 12 20.1 12 22.5 12 23.8 12 26.5 12 31.1 12 53.6 12 48.2 12 40.8 12 40.8 12 40 12 26.1 12 7 12 2.3 12 0.8 12 0.8 12 1.1 12 1.2 12 1 12 0.8 12-0.3 12-2.1 12-3.6 12-3.8 12-4.5 12-4.7 12-4.4 12-4.7 12-4.9 12-4.4 12-3.4 12-3.1 12-2.8 12-2.8 12-3.1 12-3.2 12-2.8 12-2.5 12-1.9 12-1.7 12-2.2 12-2.4 12-2.3 12-2.1 12-3 12-7.4 12-11.8 12-14.3 12-16.4 12-19.3 12-22.1 11-21.6" stroke="#e8e8a0"/>
<path d="M481.0 827.9l12-14.3 12-20.2 12-19.3 12-19.2 12-19.6 12-15.1 12-12.5 12-14 12-13 12-11.4 12-10.6 12-9.2 12-7.9 12-6.5 12-4.9 12-5.2 12-4.8 12-7.8 12-12.4 12-7.7 12-3.9 12-3 12-4.4 12-5.3 12-3.4 12-2.2 12-1.3 12 1.3 12 9.5 12 12.2 12 13.1 12 10.7 12 12 12 15.3 12 13.5 12 12.5 12 10 12 7.8 12 6.7 12 5.9 12 3.9 12 0.7 12-1 12-3.3 12-8.1 12-10 12-9.5 12-8.2 12-7.8 12-7.4 12-5.6 12-4.8 12-4.5 12-2.6 12-2.3 12-1.9 12-1.3 12-0.9 12-1 12-1.1 12 0.4 12 1.9 12 6.1 12 10.3 12 15.2 12 16 12 16.9 12 18.5 12 12.4 12 10.5 12 16.5 12 19.4 12 22 12 25 12 27.7 12 30.4 12 32.8 12 34.9 12 37.1 12 36.3 12 36.2 12 34 12 29.8 12 19.9 12 10.8 12 3.7 12 1.1 12 0.6 12 1 12 1.9 12 1.5 12 0.6 12-0.1 12-0.9 12-4.5 12-5.6 12-5.8 12-5.6 12-4.4 12-4 12-6 12-6.6 12-5.2 12-4.3 12-3.5 12-3.4 12-3.2 12-3.4 12-2.8 12-2.3 12-2 12-2.1 12-2.3 12-2.1 12-2.6 12-2.7 12-3.4 12-6.2 12-10.3 12-14.2 12-15.3 12-15.6 12-15.4 11-15.8" stroke="#22c022"/>
<path d="M481.0 726.1l12-14.6 12-15.4 12-17.3 12-17.8 12-15 12-14.4 12-16 12-14.8 12-12.2 12-8.8 12-7.6 12-10.1 12-10.5 12-9.4 12-7.9 12-7.1 12-5.6 12-6.5 12-10.9 12-9 12-6 12-6.7 12-6.4 12-4.9 12-4.3 12-4.2 12-1 12 3.2 12 10.4 12 14.4 12 15.4 12 12.4 12 13.3 12 15.5 12 13.5 12 12.3 12 10.1 12 8.7 12 7.9 12 6.9 12 4 12 1.3 12-2 12-4.2 12-7.5 12-9.8 12-9.7 12-8.3 12-7.7 12-6.8 12-5.7 12-4.8 12-4.2 12-2.4 12-1.9 12-1.7 12-0.9 12-0.7 12-0.6 12-0.4 12 0.5 12 1.4 12 7.3 12 11.6 12 15.6 12 16.3 12 16.7 12 17.3 12 12.7 12 11.2 12 16.3 12 18.3 12 19.7 12 22 12 24.6 12 27 12 29.3 12 32.4 12 44.6 12 41.6 12 37.4 12 36.4 12 34.8 12 22.5 12 8.1 12 2.7 12 0.8 12 1.1 12 1.4 12 1.5 12 1.5 12 0.9 12 0.3 12-1 12-3.8 12-4.3 12-4.4 12-4.7 12-4 12-3.5 12-4.8 12-5.1 12-4 12-3.3 12-2.5 12-2.6 12-2.9 12-2.9 12-2.1 12-1.7 12-1.5 12-1.2 12-1 12-1.5 12-1.9 12-2 12-2.9 12-6.8 12-11 12-14 12-15.4 12-17.3 12-18.4 11-18.6" stroke="#e62222"/>
<path d="M481.0 586.4l12-14.2 12-15.1 12-16.5 12-18 12-20.1 12-14.6 12-11.1 12-14.2 12-14.4 12-15.2 12-12.3 12-11.1 12-10.6 12-8.3 12-8.9 12-9.1 12-8.1 12-9.3 12-9.6 12-7.2 12-7.6 12-8.1 12-5.9 12-5.6 12-5.3 12-3.3 12 2.4 12 7.9 12 13.5 12 17.9 12 18.5 12 17.8 12 18.3 12 16.9 12 14 12 13.1 12 12 12 10 12 9.3 12 10 12 6.5 12 4 12-1 12-3.6 12-5.9 12-8 12-8.2 12-6.2 12-5 12-4.8 12-4.7 12-4.5 12-4 12-2.8 12-1.9 12-1.3 12-1.1 12-1.1 12-1.6 12-1.5 12-1.3 12-1.1 12 6.7 12 12.4 12 15.7 12 15.3 12 14.5 12 13.6 12 12 12 11.6 12 15.3 12 16.9 12 17 12 18.6 12 20.8 12 22.4 12 24.6 12 29.4 12 54.6 12 49.2 12 41 12 40.9 12 41 12 26.5 12 5.8 12 2.1 12 0.8 12 0.2 12 1.1 12 1.5 12 1.2 12 1 12 0.3 12-2.1 12-4 12-3.8 12-4.3 12-4.4 12-4.1 12-4.4 12-4.8 12-4.3 12-3.3 12-3.4 12-2.8 12-2 12-2.1 12-2.5 12-2.2 12-1.9 12-1.9 12-1.3 12-1.4 12-2.2 12-2.9 12-3.1 12-3.9 12-8.3 12-12.3 12-14.8 12-17.4 12-20.9 12-24.4 11-23.8" stroke="#b177de"/>
<path d="M481.0 660.0l12-15.9 12-16.3 12-14.4 12-16.9 12-18.2 12-13.6 12-12.3 12-13.5 12-12.5 12-13.9 12-12.3 12-8.7 12-8.3 12-8.5 12-6.8 12-7.1 12-7.9 12-8.5 12-10.3 12-7.5 12-4.7 12-5.6 12-4.2 12-2.2 12-4.2 12-4.6 12 2.2 12 8.1 12 11.5 12 14.4 12 18.1 12 16.4 12 15.5 12 16.5 12 14.3 12 13.1 12 11.2 12 9.6 12 8.6 12 8.3 12 5.3 12 2.5 12-1.1 12-4 12-7.5 12-9.3 12-8.9 12-7.7 12-7.3 12-6.4 12-5.5 12-4.9 12-4.3 12-3 12-2.3 12-1.6 12-1 12-1.2 12-1.2 12-0.7 12-0.2 12 0.1 12 6.7 12 11.8 12 15.5 12 15.6 12 15.7 12 15.5 12 11.7 12 10.2 12 15 12 16.9 12 17.7 12 20 12 22.4 12 24.1 12 26.3 12 30.6 12 48.1 12 44 12 39 12 38.9 12 37.9 12 24.5 12 7.3 12 2 12 0.8 12 0.6 12 0.6 12 1.4 12 1.5 12 0.6 12-0.1 12-1.6 12-4 12-4.6 12-4.9 12-5 12-4.6 12-4.5 12-5.5 12-5.1 12-3.9 12-3.7 12-3.7 12-3.2 12-3.2 12-3.4 12-2.8 12-2.8 12-2.5 12-1.8 12-1.6 12-1.8 12-1.9 12-2.1 12-2.9 12-6.6 12-10.9 12-13.2 12-14.8 12-17.8 12-20.1 11-18.7" stroke="#22c8c8"/>
<path d="M481.0 709.5l12-12.1 12-11.8 12-17.5 12-21.3 12-18 12-14.2 12-12.4 12-13.3 12-13 12-9.8 12-9.1 12-11.9 12-10 12-5.7 12-5.7 12-7.8 12-7.6 12-8.3 12-11.5 12-8.7 12-7 12-6.2 12-4.6 12-6.1 12-6.4 12-4.8 12-0.9 12 3.5 12 9.9 12 13.5 12 15.2 12 13.3 12 13.5 12 15.4 12 13.5 12 11.3 12 9.6 12 8.5 12 7.9 12 7.9 12 5.1 12 1.8 12-1.9 12-4.1 12-6.8 12-9 12-8.8 12-7.1 12-6.3 12-5.7 12-4.5 12-4.2 12-4.2 12-2.4 12-1.6 12-1.5 12-1.1 12-0.9 12-0.8 12-0.4 12 0.2 12 0.6 12 6.6 12 11.5 12 15.1 12 15.3 12 15.8 12 16 12 12 12 10.5 12 15.2 12 17.9 12 19.3 12 21.4 12 23.7 12 25.7 12 28 12 31.7 12 46 12 42.8 12 38.4 12 37.6 12 36.4 12 24.4 12 9.1 12 3.5 12 1.7 12 1.6 12 1.8 12 2.5 12 2.3 12 1.3 12 0.7 12-0.5 12-3.4 12-4.2 12-4.7 12-4.8 12-4.6 12-4.2 12-5.5 12-6.1 12-4.8 12-4.1 12-3.7 12-3.2 12-3.1 12-3.8 12-3.3 12-2.6 12-2.1 12-2 12-2.3 12-2.3 12-2.3 12-2.2 12-3.3 12-6.7 12-10.6 12-13.6 12-15.6 12-17.3 12-18.5 11-17.8" stroke="#0000a0"/>
<path d="M481.0 580.1l12-12.4 12-17.6 12-16.8 12-12.7 12-14.5 12-17.2 12-12.3 12-8.3 12-13.2 12-16.5 12-12.5 12-11.6 12-11.1 12-9.7 12-8.8 12-7 12-6.3 12-8.6 12-11.1 12-8.5 12-4.2 12-5.3 12-6.2 12-4.8 12-4.4 12-3.7 12 2 12 9.2 12 15.4 12 18.4 12 19 12 17.7 12 18.4 12 17.7 12 14.2 12 13.5 12 12.2 12 9.9 12 9.2 12 9.5 12 6 12 3.1 12-1.6 12-4.6 12-7.4 12-9.2 12-8.9 12-7.8 12-6.9 12-6.1 12-6 12-5.8 12-5.1 12-3.4 12-2.9 12-2.6 12-2.2 12-1.7 12-1.2 12-0.9 12-0.9 12-0.5 12 7.7 12 13.2 12 16.1 12 15.8 12 15.6 12 14.5 12 12.3 12 12.2 12 16 12 17.2 12 17.5 12 19.1 12 21 12 22.4 12 25.1 12 29.9 12 53.6 12 47.9 12 40.4 12 40.6 12 40.8 12 26.4 12 5.5 12 1.3 12 0.3 12 0.3 12 0.3 12 0.7 12 0.8 12 0.4 12-0.8 12-3.2 12-4.6 12-4.9 12-5.2 12-5.2 12-5.3 12-5.9 12-5.8 12-5 12-4.6 12-3.9 12-3 12-2.7 12-2.8 12-2.9 12-2.4 12-2 12-1.5 12-1.2 12-1.3 12-1 12-1.4 12-1.7 12-2.1 12-6.1 12-10.4 12-13 12-15.4 12-18.7 12-22.1 11-21.2" stroke="#008000"/>
<path d="M481.0 839.6l12-18.2 12-21.2 12-18.7 12-18.5 12-17.5 12-14.5 12-13.9 12-14.4 12-11.9 12-10.9 12-11.2 12-10 12-8.2 12-5.3 12-3.6 12-5.9 12-7.3 12-7.5 12-8.9 12-6 12-4.5 12-5.5 12-5 12-5 12-5.4 12-3.4 12-0.6 12 1.6 12 7.7 12 11.1 12 14 12 10.3 12 11.2 12 15.5 12 14 12 12 12 9.2 12 8 12 7 12 5.7 12 3.8 12 0.7 12-1.3 12-3.4 12-7.4 12-9.2 12-9.3 12-8.1 12-7.4 12-6.7 12-5.2 12-4.3 12-4 12-2.1 12-1.5 12-0.7 12-0.6 12-1 12-0.5 12-0.1 12 0.8 12 1.7 12 5.8 12 10.2 12 15.1 12 16.1 12 17 12 18.5 12 12.1 12 9.5 12 16.1 12 19.1 12 21.2 12 24 12 27.1 12 29.7 12 32 12 33.9 12 35.4 12 35.2 12 34.6 12 32 12 29 12 19.7 12 9.9 12 2.3 12 0.3 12 0.5 12 0.8 12 1.2 12 0.9 12 0.1 12-0.2 12-0.6 12-4.5 12-5.7 12-5.1 12-5 12-4.5 12-3.7 12-5.1 12-5.7 12-4 12-3.4 12-3.1 12-2.6 12-2.2 12-2.8 12-2 12-1.1 12-1.5 12-1.8 12-1.5 12-1.4 12-1.7 12-2.1 12-3.3 12-6 12-10.9 12-14.7 12-14.7 12-15.1 12-15.1 11-15.5" stroke="#161616"/>
<path d="M481.0 699.9l12-14.4 12-16.1 12-17.2 12-18.8 12-18.6 12-15 12-13.7 12-14.6 12-12.8 12-13.1 12-12.1 12-10.3 12-10.6 12-8.3 12-8 12-10.9 12-8 12-7.1 12-9.7 12-7.6 12-7.5 12-6.5 12-3.9 12-4.2 12-4.4 12-3.4 12 1.4 12 6.2 12 11.3 12 14.5 12 15.8 12 14.4 12 15.3 12 16.2 12 14.2 12 13.1 12 11.5 12 9.6 12 8.7 12 8.3 12 5.3 12 2.6 12-0.6 12-2.9 12-6.7 12-8.6 12-8 12-6.8 12-6.1 12-5.4 12-4.3 12-3.6 12-3.1 12-2 12-1.4 12-1 12-0.6 12-0.5 12-0.1 12 0.4 12 0.6 12 0.9 12 6.5 12 11.3 12 15.4 12 15.6 12 15.5 12 15.6 12 11.4 12 9.9 12 15.2 12 17.5 12 18.3 12 20.3 12 22.7 12 25.2 12 27.8 12 30.8 12 44.9 12 41.7 12 37.7 12 37 12 35.4 12 22.6 12 7.5 12 2.4 12 0.6 12 0.3 12 0.9 12 1.2 12 1.4 12 0.6 12-0.5 12-1.8 12-4 12-4.6 12-5.1 12-5.5 12-4.7 12-4 12-5.2 12-5.7 12-4.1 12-3.3 12-3.1 12-2.9 12-3.1 12-2.9 12-2.2 12-1.6 12-1.7 12-2 12-1.1 12-1.1 12-1.4 12-1.6 12-2.5 12-6 12-10.3 12-13.4 12-14.4 12-16.2 12-18.2 11-18" stroke="#2222ee"/>
<path d="M481.0 622.4l12-14.9 12-17.1 12-16.6 12-19.1 12-19 12-16 12-18 12-16.4 12-14.7 12-16.6 12-12.4 12-10.7 12-10.1 12-8.6 12-10.1 12-10.9 12-8.9 12-8.6 12-9.2 12-8.4 12-8.3 12-6.5 12-3.8 12-1.6 12-2.6 12-3.7 12 2.7 12 9.7 12 14.5 12 18 12 19.7 12 18.7 12 18.2 12 17.2 12 14.8 12 13.8 12 12.2 12 10.1 12 9 12 8.8 12 5.6 12 3.2 12-1.6 12-5.2 12-7.9 12-9.5 12-9.2 12-7.7 12-6.9 12-6.3 12-6 12-5.5 12-4.7 12-2.9 12-1.9 12-1.3 12-1.3 12-0.9 12-0.3 12-0.1 12-0.2 12 0.8 12 8.7 12 13.5 12 16.7 12 16.6 12 16.6 12 15.9 12 13.1 12 12.1 12 16.4 12 18.2 12 18.2 12 19.8 12 21.9 12 23.3 12 25.9 12 30.1 12 50.7 12 46 12 39.9 12 39.4 12 38.4 12 25.1 12 6.5 12 1.7 12 0.7 12 0.5 12 0.8 12 1 12 0.9 12 0.6 12-0.5 12-2.5 12-3.9 12-4.4 12-5.1 12-5.4 12-5 12-4.8 12-5.3 12-5.2 12-4.4 12-3.6 12-3.2 12-3 12-3.1 12-3.1 12-2.8 12-2.2 12-2.1 12-1.8 12-1.4 12-1.4 12-2.1 12-2.6 12-2.9 12-6.6 12-10.9 12-13.8 12-16.1 12-19.1 12-21.9 11-21.6" stroke="#008080"/>
<path d="M481.0 768.3l12-12 12-19.3 12-18.2 12-16.4 12-18.1 12-16.2 12-13.4 12-13.2 12-10.5 12-11 12-13.2 12-10.4 12-8.3 12-7.1 12-6.3 12-7.3 12-6.8 12-8.7 12-12.3 12-8.1 12-6 12-6.3 12-5.8 12-5.7 12-4.6 12-3.4 12-0.6 12 2.9 12 9.6 12 13.6 12 14.9 12 12.4 12 13.7 12 16.3 12 14 12 12.5 12 10.5 12 9 12 8.5 12 7.7 12 4.7 12 1.8 12-0.4 12-2.5 12-6 12-8.4 12-8.6 12-7.1 12-6.2 12-5.3 12-4.3 12-4.1 12-3.3 12-0.8 12-0.4 12-0.5 12-0.3 12-0.1 12 0.2 12 0.2 12 1.2 12 2 12 6.5 12 10.8 12 15.7 12 16.3 12 16.9 12 17.9 12 11.9 12 9.7 12 15.6 12 18.2 12 20.3 12 22.4 12 25 12 27.9 12 30 12 32.2 12 38.2 12 37.2 12 35.6 12 33.2 12 30.8 12 20.7 12 8.6 12 2 12 0.2 12 0.1 12 0.2 12 1.2 12 1.2 12 0.2 12-0.4 12-1.5 12-4.5 12-5 12-4.9 12-5.4 12-4.6 12-3.5 12-4.8 12-5.7 12-4.3 12-3.4 12-2.6 12-2.5 12-2.8 12-2.9 12-2.1 12-1.4 12-1.7 12-2 12-1.9 12-1.8 12-2 12-2.1 12-2.5 12-6.1 12-11.3 12-14.4 12-15.3 12-16.3 12-16.9 11-16.9" stroke="#008080"/>
<path d="M481.0 526.2l12-13.1 12-14.3 12-15.9 12-17.7 12-18.7 12-14.1 12-12.8 12-15.7 12-16.6 12-16.6 12-14.3 12-10.7 12-6.2 12-6.9 12-9.5 12-9.6 12-8.1 12-7.1 12-5.6 12-4.4 12-5.7 12-6.2 12-3.7 12-1.7 12-2.3 12-2.9 12 3.4 12 11.2 12 15.2 12 17.2 12 19.2 12 18.9 12 18 12 16.2 12 13.5 12 11.8 12 10.5 12 9 12 8.5 12 9.3 12 5.3 12 2.5 12-3 12-6 12-8.2 12-10.3 12-10.2 12-8.4 12-7.1 12-6.8 12-7.3 12-6.7 12-5.4 12-4.2 12-3.1 12-2.3 12-1.7 12-1.2 12-1 12-0.8 12-0.9 12 0 12 8.8 12 14.4 12 17.8 12 16.6 12 15.6 12 14.3 12 13.6 12 13.6 12 16.9 12 18.5 12 17.9 12 19.3 12 21.2 12 21.9 12 24.4 12 30.1 12 59.2 12 51.9 12 42.9 12 43.2 12 43 12 28.1 12 5.7 12 1.5 12 0.6 12 0.6 12 1.2 12 1.8 12 1.4 12 0.6 12-0.3 12-2.2 12-3.6 12-4.1 12-4.8 12-5 12-4.9 12-5.3 12-5.7 12-5 12-4.2 12-4.1 12-4 12-3.8 12-3.6 12-3.9 12-3.9 12-3.4 12-2.9 12-2.8 12-2.3 12-2.2 12-2.5 12-2.7 12-3.2 12-7.7 12-11.6 12-13.3 12-15.7 12-19.8 12-23.6 11-21.8" stroke="#161616"/>
<path d="M481.0 620.6l12-15.3 12-16 12-15.7 12-16.3 12-17.3 12-15.8 12-15 12-14.8 12-11.9 12-11.5 12-12.1 12-12 12-11 12-8.7 12-7.5 12-9.1 12-8.7 12-9.4 12-11.4 12-7.4 12-4.5 12-4.4 12-3.4 12-3.6 12-5.9 12-5.8 12 1.7 12 9.2 12 13.9 12 15.2 12 17.1 12 17.2 12 17.6 12 17.1 12 14.2 12 13.1 12 11.6 12 9.9 12 9.2 12 9.1 12 5.9 12 3.2 12-1.4 12-4.2 12-6.9 12-9.1 12-8.9 12-7.5 12-7 12-6.4 12-5.8 12-5.5 12-5.1 12-3.6 12-3.1 12-2.6 12-2.5 12-2.4 12-1.9 12-2 12-2.3 12-1.4 12 6.7 12 11.8 12 14.9 12 14.8 12 14.7 12 13.6 12 11.5 12 11.4 12 15.6 12 17.9 12 18.1 12 19.4 12 21.7 12 23.2 12 25.9 12 30.5 12 53.7 12 48.9 12 41.6 12 41.4 12 40.9 12 26.9 12 7.2 12 2.8 12 1.5 12 1.3 12 1.8 12 2.3 12 2 12 1.5 12 0.3 12-2.2 12-4 12-3.8 12-4.6 12-4.9 12-4.5 12-4.9 12-5.3 12-4.7 12-4.1 12-3.8 12-3.1 12-3.1 12-3.2 12-3 12-2.4 12-2 12-2 12-1.7 12-1.5 12-1.5 12-1.5 12-1.8 12-2.3 12-6.3 12-10.8 12-13.1 12-14.9 12-18 12-21 11-20.4" stroke="#e022e0"/>
<path d="M481.0 606.7l12-14.2 12-13 12-15.1 12-19.7 12-19.8 12-16.1 12-14.7 12-15.3 12-15.2 12-14 12-11.7 12-10.5 12-11.7 12-12.4 12-10.8 12-9.2 12-8.3 12-8.2 12-8.8 12-8.9 12-7.3 12-4.2 12-2.8 12-2.9 12-3 12-3 12 2.8 12 9.9 12 15.1 12 18.2 12 20.4 12 19.2 12 18.6 12 18.2 12 15.1 12 13.8 12 12.3 12 10.4 12 9.3 12 9.2 12 5.7 12 2.7 12-1.8 12-4.5 12-7.4 12-9.9 12-9.6 12-8 12-7.3 12-6.9 12-6.5 12-6.2 12-5.3 12-3.7 12-3.1 12-2.7 12-2.3 12-1.9 12-1.4 12-1.2 12-1.3 12-0.9 12 6.9 12 12.3 12 16 12 15.6 12 15.1 12 14.4 12 12.5 12 12.3 12 16 12 17.5 12 18 12 19.7 12 21.4 12 22.9 12 25.4 12 30.2 12 53.2 12 47.9 12 40.8 12 40.8 12 40 12 25.5 12 5.9 12 2.1 12 1.1 12 0.4 12 0.5 12 0.8 12 0.7 12 0.4 12-0.5 12-2.3 12-4.1 12-4.6 12-5 12-5 12-4.8 12-5.2 12-5.1 12-4.1 12-3.5 12-3.3 12-2.9 12-2.4 12-2.4 12-2.7 12-2.3 12-1.7 12-1.4 12-1.4 12-1.5 12-1.2 12-1.6 12-2 12-2.9 12-7.9 12-12.1 12-14.2 12-16.6 12-20.1 12-23.1 11-22.9" stroke="#2222ee"/>
<path d="M481.0 519.0l12-12.8 12-16.3 12-16 12-15.9 12-18.1 12-14.7 12-12.9 12-14.5 12-13.4 12-13.8 12-14.6 12-13.7 12-9.3 12-8.9 12-11.9 12-9.2 12-6.4 12-9.2 12-10.5 12-7.7 12-5.5 12-5.7 12-4.7 12-4.2 12-4.7 12-3.9 12 2.9 12 9.7 12 15.5 12 19.8 12 20.5 12 19.9 12 20.3 12 17.8 12 14 12 12.7 12 11.6 12 9.9 12 9.4 12 10 12 5.8 12 3.4 12-2.2 12-5.4 12-7.5 12-9.6 12-9.5 12-7.1 12-6 12-6.1 12-6.4 12-6 12-4.9 12-3.7 12-3.1 12-2.7 12-1.9 12-1.3 12-1.7 12-1.8 12-1.8 12-0.9 12 8.5 12 13.9 12 16.5 12 15.8 12 15.1 12 13.3 12 13.1 12 13.5 12 16.2 12 17.1 12 16.5 12 18 12 19.8 12 20.7 12 23.5 12 29.5 12 60.5 12 52.8 12 43.1 12 44 12 44.6 12 28.9 12 5.7 12 2.2 12 1.2 12 1.1 12 1.5 12 1.7 12 1.3 12 0.9 12-0.5 12-3 12-3.8 12-3.8 12-4.6 12-4.9 12-5.1 12-5.8 12-5.5 12-4.2 12-4.1 12-3.9 12-3.1 12-3.2 12-3.4 12-3.4 12-3.1 12-2.2 12-2 12-1.9 12-1.6 12-1.7 12-2.3 12-2.1 12-2.5 12-7.2 12-11.1 12-13.2 12-16.1 12-20.6 12-24.5 11-23.2" stroke="#161616"/>
<path d="M481.0 830.5l12-17.8 12-20.9 12-17.2 12-16.8 12-17.6 12-17.3 12-14.1 12-11.4 12-13.5 12-11.8 12-8.1 12-10.5 12-10.3 12-7.1 12-6.5 12-6.5 12-5.9 12-6.7 12-9.2 12-7.8 12-7.9 12-7.8 12-5 12-3.4 12-5.3 12-5.3 12-0.6 12 3.2 12 8.4 12 11.1 12 13.5 12 11.1 12 12.5 12 15.6 12 13.8 12 12.7 12 10.4 12 8.8 12 7.6 12 6.5 12 4.6 12 2.1 12-0.5 12-2.8 12-6.7 12-8.8 12-8.9 12-7.9 12-7.2 12-6.3 12-5.3 12-4.2 12-3.5 12-1.8 12-1.7 12-1.1 12-0.7 12-0.9 12-0.5 12-0.4 12 0.5 12 1.5 12 5.8 12 10.1 12 14.6 12 15.4 12 16.7 12 18.4 12 11.9 12 9.3 12 15.7 12 19.1 12 21.8 12 24.3 12 27.3 12 30.1 12 32.5 12 34.4 12 36.6 12 36.1 12 35.8 12 33.5 12 29.9 12 19.5 12 10.6 12 3.5 12 0.6 12 0.8 12 1.5 12 2 12 1.7 12 0.5 12 0 12-0.3 12-4.2 12-5.5 12-5.7 12-5.3 12-3.9 12-3.6 12-5.7 12-6.4 12-4.8 12-4.6 12-4 12-3.4 12-3.6 12-4 12-3.1 12-2.7 12-2.5 12-2.2 12-2.5 12-2.6 12-3 12-3.3 12-3.8 12-6.4 12-10.9 12-14.8 12-15.1 12-15.5 12-15.9 11-16" stroke="#2222ee"/>
<path d="M481.0 798.5l12-16.8 12-18.5 12-18.3 12-19.6 12-18.6 12-15.8 12-14.7 12-14.6 12-11.5 12-10.4 12-10.1 12-10.4 12-11.6 12-9 12-3.9 12-3.9 12-7.1 12-8.5 12-11.2 12-7.8 12-2.9 12-4 12-4.3 12-5 12-6.9 12-3.8 12-0.5 12 2.1 12 9.8 12 12.5 12 14.7 12 12.4 12 12.4 12 14.9 12 13.9 12 13.1 12 10.2 12 8.6 12 7.8 12 6.5 12 4.4 12 1.5 12-0.4 12-2.5 12-6.5 12-8.6 12-8.6 12-7 12-6.3 12-6 12-4.9 12-4 12-3.2 12-1.4 12-0.9 12-0.8 12-0.8 12-0.4 12-0.6 12-0.6 12 0.7 12 1.3 12 5.2 12 9.5 12 14.4 12 15.3 12 16.1 12 17.2 12 11 12 8.8 12 14.9 12 17.7 12 19.8 12 22.3 12 24.9 12 27.4 12 29.8 12 32.4 12 38.4 12 37.4 12 35.6 12 33.9 12 31.9 12 21 12 9.2 12 2.8 12 0.5 12 0.5 12 1.3 12 2 12 2 12 1.1 12 0.4 12-0.8 12-4 12-4.9 12-4.5 12-4.7 12-4.4 12-3.4 12-4.8 12-5.5 12-4.1 12-3.7 12-3.3 12-2.5 12-2.6 12-2.8 12-1.8 12-1.4 12-1.7 12-1.8 12-1.7 12-1.3 12-1.1 12-1.5 12-3 12-6 12-10 12-13.9 12-14.8 12-14.8 12-14.9 11-15.4" stroke="#f08000"/>
<path d="M481.0 847.4l12-16.7 12-19.1 12-19.7 12-20.9 12-18.9 12-15.9 12-14.2 12-12.4 12-12.4 12-11.9 12-9 12-8.2 12-9 12-6.8 12-4.6 12-7.4 12-7.5 12-7.5 12-11.9 12-7.8 12-4.3 12-5.2 12-6.1 12-6.1 12-5.1 12-4.1 12-2.5 12 0.9 12 8.8 12 11.1 12 11.5 12 8.5 12 10.5 12 14.6 12 13 12 11.6 12 9.3 12 7.7 12 6.7 12 5.5 12 3.8 12 1.1 12-1.4 12-3.4 12-7.2 12-9.3 12-9.6 12-8.2 12-7.1 12-6 12-4.9 12-4 12-2.9 12-1.1 12-0.9 12-0.2 12 0.5 12-0.1 12-0.1 12 0.6 12 2.4 12 3 12 6.3 12 10.5 12 16 12 17.1 12 17.8 12 19.5 12 12.4 12 9.3 12 16.2 12 19.5 12 22 12 24.4 12 27.2 12 30.1 12 32.3 12 34.2 12 34.9 12 34.3 12 34.5 12 32.3 12 28.8 12 19.2 12 10.1 12 2.5 12-0.3 12-0.2 12 0.4 12 1.3 12 1.6 12 0.1 12-0.9 12-0.8 12-4.1 12-5.6 12-5.7 12-5.9 12-4.4 12-3.2 12-5.3 12-6 12-4.8 12-4.3 12-3.4 12-2.7 12-2.8 12-2.6 12-1.4 12-1.6 12-1.7 12-1.3 12-1.7 12-1.9 12-1.4 12-1.4 12-3 12-5.8 12-10 12-13.6 12-14.1 12-14.5 12-14.5 11-14.7" stroke="#2222ee"/>
<path d="M481.0 722.8l12-16.5 12-18.5 12-19.1 12-22.4 12-20.6 12-13.7 12-13.8 12-17 12-15.4 12-11.6 12-11 12-12.8 12-9.1 12-5.8 12-7.7 12-8.9 12-7.5 12-8.1 12-9.5 12-7.3 12-5.7 12-4.9 12-2.5 12-2.4 12-4.3 12-2.8 12 2.6 12 7.4 12 12.7 12 15.3 12 17.1 12 14.9 12 14.6 12 16 12 14.2 12 12.7 12 10.6 12 9.2 12 8 12 7.4 12 4.8 12 1.6 12-1.7 12-4.3 12-7.8 12-9.6 12-9.3 12-8 12-7.9 12-7.2 12-5.7 12-5.2 12-4.7 12-3 12-2.4 12-1.8 12-1.3 12-1 12-0.8 12-0.9 12-0.1 12 0.9 12 7.1 12 12.2 12 16.3 12 16.1 12 16.7 12 17.3 12 12.8 12 11.1 12 16.5 12 18.8 12 20.4 12 22.9 12 25.3 12 27.4 12 29.6 12 33.4 12 45 12 41.6 12 38.3 12 37.5 12 35.1 12 23.3 12 9.1 12 2.8 12 0.6 12 0.6 12 1.1 12 1.7 12 1.5 12 0.7 12-0.3 12-1.8 12-4.9 12-5.7 12-5.7 12-5.9 12-5.7 12-5.5 12-6.5 12-6.6 12-5.3 12-4.6 12-4 12-3.6 12-4.2 12-4.1 12-2.9 12-2.4 12-2.5 12-2.5 12-2.1 12-1.8 12-1.7 12-1.8 12-2.9 12-6.1 12-10.1 12-13.3 12-14.3 12-15.9 12-17.7 11-17.7" stroke="#f0a0f0"/>
<path d="M481.0 682.9l12-14.2 12-14.1 12-16 12-18 12-16.6 12-12.7 12-11.2 12-13.1 12-12.4 12-11.3 12-11.2 12-9.7 12-6.5 12-6.4 12-7.5 12-7.1 12-7.3 12-8.4 12-9.3 12-7.1 12-5.7 12-5.3 12-3.9 12-3.7 12-4.6 12-4.3 12 0.6 12 5.7 12 11.6 12 15 12 16.1 12 14.1 12 14.8 12 15.6 12 13.5 12 12.1 12 10.2 12 8.9 12 7.6 12 6.9 12 4.5 12 1.7 12-1.9 12-4.8 12-8.3 12-10 12-9.5 12-8.2 12-7.9 12-7.4 12-6.2 12-5.6 12-4.9 12-2.7 12-2.2 12-2.4 12-1.4 12-0.8 12-0.9 12-0.7 12-0.3 12 0.8 12 7.4 12 12 12 16.4 12 16.6 12 16.1 12 15.9 12 12.6 12 11.5 12 16.5 12 18.8 12 19.6 12 20.9 12 23.4 12 25.8 12 28 12 31.5 12 46.4 12 42.6 12 38 12 37.8 12 36.3 12 23.2 12 7.3 12 2.2 12 0.7 12 0.9 12 0.9 12 0.7 12 1.1 12 1.1 12-0.1 12-1.9 12-4.2 12-4.6 12-5.1 12-5.3 12-4.5 12-4.4 12-4.9 12-5.3 12-4.3 12-3.5 12-3.4 12-3.6 12-3.4 12-2.8 12-2.1 12-2.4 12-2.5 12-2.4 12-2 12-1.7 12-2.1 12-2.7 12-4 12-7.3 12-11.5 12-14.6 12-16.5 12-18.7 12-20.7 11-20.8" stroke="#800080"/>
<path d="M481.0 647.4l12-17.1 12-17.7 12-17.3 12-18.2 12-17.1 12-15 12-15.5 12-15 12-14 12-13.6 12-11.8 12-10.2 12-7.9 12-7.4 12-7.9 12-6.1 12-5.7 12-8.7 12-9.6 12-7.5 12-5.6 12-3.3 12-3.6 12-3.5 12-2.7 12-3.2 12 1.2 12 7.3 12 13.4 12 16.3 12 17.5 12 15.5 12 15.6 12 16.7 12 14.7 12 12.4 12 9.7 12 8.1 12 7.5 12 7.3 12 3.9 12 0.9 12-2.9 12-5.3 12-8.4 12-10.6 12-10 12-8.2 12-8.1 12-7.6 12-6.5 12-5.9 12-5.2 12-3.4 12-2.9 12-2.5 12-1.8 12-1.5 12-1.4 12-1.1 12-0.4 12 0.5 12 7.3 12 12.7 12 16.5 12 16.1 12 16 12 15.8 12 13.1 12 12.3 12 16.7 12 18.7 12 19.2 12 21 12 23 12 24.9 12 27.8 12 31.9 12 51.6 12 47.2 12 40.6 12 39.9 12 38.8 12 25.4 12 8.2 12 3.2 12 1.2 12 1.2 12 1.2 12 1.6 12 1.8 12 0.9 12-0.4 12-2.2 12-4.3 12-5 12-5.7 12-5.7 12-5.2 12-5.2 12-6 12-6.1 12-4.8 12-3.9 12-4.1 12-3.8 12-3.7 12-3.5 12-2.6 12-2.6 12-2.2 12-1.7 12-1.7 12-1.6 12-1.6 12-1.7 12-2.3 12-6.3 12-10.1 12-12.7 12-14.9 12-17.1 12-19.2 11-18.8" stroke="#22c022"/>
<path d="M481.0 717.9l12-15.1 12-19.3 12-19.4 12-17.8 12-17.7 12-17.2 12-12.7 12-10.5 12-13.3 12-14.6 12-12.2 12-10.8 12-8.8 12-7.1 12-7.2 12-8.1 12-7.4 12-5.8 12-8.4 12-8.5 12-6.1 12-5 12-4.7 12-4.7 12-3.4 12-2 12 0.4 12 3.5 12 9.9 12 14.2 12 16.5 12 13.8 12 13.7 12 15.7 12 13.8 12 12.6 12 10.5 12 8.3 12 7.4 12 7.2 12 4.4 12 1.3 12-1.9 12-4.6 12-8.2 12-10.1 12-9.4 12-7.7 12-6.9 12-6.6 12-5.7 12-4.5 12-3.7 12-2.1 12-1.3 12-0.4 12 0 12 0.1 12 0 12 0 12 0.9 12 1.9 12 7.7 12 11.9 12 15.9 12 16.5 12 16.5 12 16.9 12 12.5 12 10.6 12 15.5 12 17.8 12 19.5 12 21.3 12 23.3 12 25.8 12 27.9 12 30.9 12 43.9 12 41 12 37 12 36.2 12 34.3 12 22.2 12 7 12 1.2 12-0.5 12-0.5 12-0.2 12 0.6 12 1.1 12 0.5 12-0.8 12-2.3 12-4.1 12-4.4 12-4.4 12-4.7 12-4.1 12-3.5 12-4.6 12-4.7 12-3.4 12-2.9 12-2.8 12-2.5 12-1.7 12-1.9 12-1.7 12-1.3 12-1.4 12-0.9 12-0.6 12-0.6 12-1 12-1.4 12-2.3 12-5.8 12-10.3 12-13.3 12-14.4 12-16.3 12-17.8 11-18" stroke="#800000"/>
<path d="M481.0 600.6l12-15.9 12-16.4 12-13.5 12-15.6 12-17.6 12-16.3 12-13.8 12-12.3 12-11.5 12-12 12-12.5 12-12.1 12-8.7 12-6.8 12-8.4 12-7.1 12-7.2 12-9.4 12-8.3 12-6.4 12-6.4 12-6.9 12-5.9 12-3.7 12-2.7 12-2.6 12 1.5 12 6.8 12 12.5 12 15.9 12 17.2 12 16.3 12 16.7 12 16.3 12 13.5 12 11.2 12 9.6 12 8.1 12 7.5 12 8.4 12 5.1 12 1.5 12-3 12-5.6 12-8.3 12-10.4 12-9.9 12-8 12-7.1 12-6.4 12-5.9 12-5.7 12-4.5 12-2.9 12-2.4 12-2.2 12-1.4 12-0.9 12-0.3 12-0.4 12-0.2 12 0.8 12 8.7 12 13.8 12 16.8 12 16.4 12 16.4 12 15.6 12 13.3 12 13 12 16.8 12 18.2 12 18.5 12 20.6 12 22.4 12 23.7 12 26.5 12 31 12 53.6 12 48.4 12 41.3 12 40.8 12 40.2 12 26 12 6.6 12 2.1 12 0.7 12 0.5 12 1 12 1.1 12 1 12 0.4 12-0.9 12-3.1 12-4.6 12-5 12-5.6 12-5.9 12-5.6 12-5.7 12-6.2 12-5.6 12-4.4 12-4.4 12-4.7 12-3.7 12-3.1 12-3.9 12-3.6 12-2.5 12-2.2 12-2.4 12-2.1 12-1.7 12-1.6 12-1.8 12-2.6 12-6.6 12-10.5 12-12.8 12-14.9 12-18.2 12-21.5 11-20.5" stroke="#0000a0"/>
<path d="M481.0 630.5l12-12.8 12-18.2 12-17.9 12-14.6 12-14.4 12-13.6 12-13.8 12-14.2 12-14.6 12-15.5 12-11.8 12-9.5 12-7.8 12-7.9 12-9.8 12-7.1 12-4.8 12-8.1 12-10.9 12-9.3 12-7.4 12-6.3 12-5.1 12-4.1 12-3.9 12-4.3 12 0.5 12 7.1 12 12.7 12 15.1 12 16.1 12 15.4 12 16 12 16 12 13 12 11.5 12 9.6 12 8.3 12 7.9 12 8 12 4.6 12 1.7 12-3 12-5.4 12-8 12-10.4 12-9.8 12-7.8 12-7 12-6.5 12-5.6 12-5.2 12-4.7 12-2.9 12-2.3 12-2 12-0.8 12-0.1 12-0.1 12 0 12 0.1 12 0.6 12 8.5 12 14.1 12 17.2 12 16.8 12 16.4 12 15.5 12 12.8 12 12.3 12 16.3 12 17.6 12 18.1 12 20 12 21.9 12 23.4 12 26.1 12 30.2 12 51.4 12 46.5 12 40 12 39.8 12 38.9 12 25.3 12 6.8 12 2.3 12 1.2 12 1.1 12 1.3 12 1.6 12 1.9 12 1.4 12 0.1 12-2.1 12-4 12-4.2 12-4.7 12-4.9 12-4.7 12-4.5 12-5.2 12-5.2 12-4 12-3.5 12-3.6 12-3.3 12-2.8 12-2.9 12-2.8 12-2.7 12-2.3 12-2.2 12-2.4 12-2.4 12-2 12-2.1 12-3.3 12-7.4 12-11.3 12-13.7 12-15.5 12-18.3 12-21.1 11-20.6" stroke="#f08000"/>
<path d="M481.0 846.9l12-18.5 12-20.9 12-17.3 12-16.2 12-17.5 12-18.1 12-14.8 12-13.9 12-11.6 12-6.7 12-8.2 12-10.3 12-9.6 12-8.8 12-5.8 12-5.9 12-6.5 12-7.9 12-11.5 12-8.3 12-6.4 12-6.8 12-6.5 12-5.1 12-5.6 12-5.4 12-1.6 12 1.5 12 7.7 12 10.7 12 12.7 12 9.8 12 11.5 12 15.2 12 13.6 12 12.3 12 9.3 12 7.9 12 7.2 12 6.1 12 4.1 12 1.3 12-0.6 12-2.8 12-7.1 12-9 12-8.8 12-8.1 12-7.5 12-6.2 12-4.4 12-3.8 12-3.7 12-1.6 12-1.2 12-0.8 12-0.2 12-0.5 12-0.9 12-0.3 12 1.7 12 2.5 12 5.9 12 10.3 12 15.3 12 15.9 12 17.2 12 19.3 12 12.5 12 9.6 12 15.9 12 19.1 12 21.5 12 23.8 12 26.6 12 30 12 32.2 12 34.1 12 35.5 12 34.6 12 34.2 12 32.3 12 29.1 12 19 12 9.9 12 2.9 12-0.1 12-0.3 12 0.1 12 1 12 1.1 12 0.2 12-0.4 12-0.9 12-4.7 12-5.7 12-5.6 12-5.1 12-4.3 12-4.3 12-5.9 12-6.2 12-4.3 12-3.7 12-3.3 12-2.7 12-2.4 12-2.7 12-1.5 12-1 12-1.7 12-1.8 12-1.2 12-1.1 12-1.8 12-2 12-3 12-5.5 12-9.9 12-14.1 12-14.6 12-14.5 12-14.6 11-15" stroke="#008000"/>
<path d="M481.0 543.7l12-12.8 12-14.4 12-16 12-17 12-16.9 12-15.9 12-16.8 12-15.7 12-16 12-16.9 12-14.3 12-12.7 12-8.1 12-6.8 12-11.2 12-11.9 12-8.7 12-6.8 12-7.9 12-7.8 12-5.9 12-4.5 12-4 12-4.3 12-3.3 12-1.4 12 4.6 12 11.3 12 16.4 12 19.3 12 20.1 12 20 12 20.5 12 18.6 12 14.7 12 13.1 12 12 12 10.4 12 9.8 12 10.1 12 6.1 12 3.1 12-2 12-4.4 12-6.8 12-9.6 12-9.1 12-7.2 12-6.3 12-6.2 12-6 12-5.8 12-4.7 12-3.3 12-2.9 12-2.2 12-1.7 12-1.5 12-1.3 12-1.4 12-1.5 12-0.9 12 7.4 12 13.2 12 16.6 12 15.6 12 14.5 12 13.3 12 12.3 12 12.6 12 15.8 12 17.1 12 17 12 18.5 12 20 12 21 12 23.5 12 28.9 12 57.2 12 50.9 12 42.2 12 42.7 12 42.8 12 27.9 12 5.5 12 1.9 12 1 12 0.8 12 1 12 1.2 12 1 12 0.5 12-0.5 12-2.7 12-4.2 12-4.9 12-5 12-4.6 12-4.9 12-6 12-6.2 12-4.8 12-4.1 12-3.7 12-3.3 12-3.5 12-3.8 12-3.7 12-3.3 12-3.1 12-2.8 12-2 12-1.5 12-1.8 12-2 12-1.6 12-2.3 12-7.1 12-11 12-13 12-15.7 12-19.8 12-23.3 11-21.6" stroke="#1a6fdf"/>
<path d="M481.0 789.9l12-15.6 12-17.3 12-18.2 12-21.8 12-19 12-14.5 12-12.6 12-12.1 12-11.6 12-11.3 12-11.8 12-11.1 12-9.5 12-5.2 12-3.8 12-7 12-4.8 12-5 12-11 12-9.6 12-5.2 12-3.5 12-5.2 12-4.4 12-2.2 12-3.2 12-1.6 12 2.5 12 9.4 12 13.1 12 15.6 12 11.6 12 12.4 12 16.5 12 14.5 12 12.7 12 10.7 12 9.3 12 7.8 12 6.4 12 4.6 12 1.5 12-0.9 12-3 12-7.3 12-9.2 12-8.9 12-7.7 12-7.2 12-6.9 12-5.7 12-4.6 12-3.7 12-1.7 12-1.5 12-1 12-0.7 12-0.5 12-0.5 12-0.7 12 0.5 12 1.8 12 6.1 12 10.3 12 14.9 12 15.9 12 17.1 12 18.2 12 11.9 12 9.8 12 16.2 12 18.9 12 20.9 12 23.4 12 26.3 12 29.2 12 31.4 12 33.3 12 37.3 12 36.5 12 35.8 12 33.8 12 30.9 12 20.2 12 9.2 12 2.5 12 0.3 12 0.3 12 0.7 12 1.3 12 1.3 12 0.4 12-0.3 12-0.7 12-4 12-5.1 12-5.4 12-5 12-3.9 12-3.5 12-4.9 12-5.6 12-4 12-3.4 12-3.1 12-2.8 12-2.7 12-3.2 12-2.4 12-1.5 12-1.3 12-1.5 12-1.6 12-1.6 12-1.9 12-2.1 12-3.1 12-6.1 12-10.4 12-14.1 12-14.5 12-15.2 12-15.2 11-15.4" stroke="#22c8c8"/>
<path d="M481.0 597.2l12-14.8 12-16.4 12-16.2 12-17.6 12-17 12-14.2 12-13.6 12-14.3 12-13.8 12-13.8 12-13 12-11.9 12-9.4 12-7.7 12-7.8 12-8.5 12-9.5 12-9 12-7.9 12-7.3 12-7.7 12-6.9 12-5.1 12-3.5 12-3 12-3 12 1.4 12 7.9 12 14.4 12 17.3 12 18.1 12 17.8 12 18.3 12 17.1 12 14.4 12 12.9 12 11.7 12 10.1 12 9.2 12 9.7 12 6.2 12 3.2 12-1.3 12-4.4 12-7.2 12-9 12-8.3 12-6.6 12-6.2 12-5.8 12-5.5 12-5.2 12-4.9 12-3.2 12-2.3 12-1.9 12-2.1 12-1.9 12-1.3 12-1.1 12-1.3 12-1 12 6.8 12 12.4 12 15.7 12 15.1 12 15.1 12 14 12 11.5 12 11.7 12 15.9 12 16.9 12 17.1 12 19.2 12 21.3 12 22.5 12 25.2 12 30.3 12 53.8 12 48.2 12 40.7 12 40.7 12 40.6 12 26.3 12 6.3 12 2 12 0.2 12 0.2 12 0.7 12 0.6 12 0.5 12 0.5 12-0.5 12-2.9 12-4.9 12-5 12-4.9 12-5.4 12-5.6 12-5.6 12-6.1 12-5.4 12-3.8 12-3.5 12-3.6 12-3.8 12-3.1 12-2.8 12-2.3 12-1.6 12-1.3 12-1.2 12-1 12-1.1 12-1.4 12-1.5 12-2 12-5.9 12-10.2 12-12.8 12-15.3 12-18.8 12-21.8 11-20.6" stroke="#e62222"/>
<path d="M481.0 659.6l12-16.8 12-16.3 12-14.5 12-20.2 12-20.1 12-14.3 12-11.6 12-11.8 12-14.8 12-14.3 12-11.8 12-10.7 12-7.3 12-7.1 12-8.4 12-9.6 12-8.8 12-6.4 12-7.8 12-6.4 12-4.8 12-5.2 12-4.1 12-2.8 12-2.9 12-4.2 12-0.2 12 6.8 12 12.9 12 15.4 12 16.8 12 15.7 12 16.5 12 16.5 12 14.1 12 12.9 12 10.9 12 9.2 12 8.8 12 8.6 12 5.2 12 2.2 12-1.4 12-3.8 12-7.2 12-9 12-8 12-6.8 12-6.5 12-5.7 12-4.9 12-4.7 12-3.9 12-2 12-1.1 12-0.5 12-0.3 12-0.7 12-0.6 12-0.3 12 0 12 0.8 12 7.4 12 12 12 15.4 12 15.3 12 15.8 12 16.1 12 11.9 12 10.3 12 14.7 12 17 12 18.5 12 20.6 12 22.5 12 24.2 12 26.9 12 30.7 12 47.5 12 43.5 12 38.5 12 38.3 12 37 12 23.7 12 7.2 12 2.3 12 0.8 12 0.7 12 1.1 12 1.3 12 1.1 12 0.3 12-0.5 12-1.9 12-4.2 12-4.7 12-4.8 12-4.7 12-4.8 12-5 12-5.4 12-5 12-3.8 12-3.5 12-2.9 12-3.1 12-3.3 12-2.8 12-2.4 12-2.2 12-1.5 12-1.5 12-1.7 12-1.5 12-1.9 12-2 12-2.5 12-6.6 12-11.1 12-13.7 12-15.3 12-17.7 12-19.5 11-19.1" stroke="#800080"/>
<path d="M481.0 840.1l12-16 12-19 12-20.7 12-20.3 12-19.5 12-18.1 12-14.3 12-12.7 12-13.1 12-13.5 12-11.3 12-9.1 12-8.5 12-7.8 12-6.9 12-6.2 12-5.8 12-7.4 12-9.8 12-7.7 12-5.6 12-4.8 12-4.6 12-3.1 12-3 12-3.3 12-1.7 12 1.7 12 8.9 12 11.3 12 13.1 12 10.4 12 11.3 12 15.4 12 14.1 12 12.7 12 10.1 12 8.1 12 6.7 12 5.1 12 3.6 12 0.9 12-1 12-3.1 12-7.9 12-9.8 12-9.3 12-8.1 12-7 12-6.1 12-4.9 12-4.1 12-3.9 12-1.7 12-0.9 12-0.7 12-0.3 12 0.2 12-0.1 12 0.1 12 1.6 12 2.4 12 6.4 12 10.6 12 15.7 12 17.1 12 18 12 18.9 12 12.5 12 10.1 12 16 12 19.4 12 22.4 12 24.9 12 27.5 12 30.3 12 32.2 12 33.9 12 35.2 12 35 12 34.4 12 32.2 12 28.8 12 18.6 12 9.1 12 2.3 12 0.1 12 0 12 0.4 12 1 12 1 12 0.1 12-0.8 12-1.3 12-4.5 12-5.5 12-5.6 12-5.1 12-4.1 12-3.7 12-5.5 12-5.8 12-4 12-3.1 12-2.7 12-2.6 12-3 12-3 12-1.8 12-1.3 12-1.3 12-1.5 12-1.2 12-1.1 12-1.5 12-1.9 12-3 12-5.7 12-9.6 12-13.7 12-14.8 12-14.6 12-14.7 11-15.3" stroke="#404040"/>
<path d="M481.0 741.2l12-13.2 12-16 12-14.8 12-15.7 12-17 12-15.6 12-13.6 12-11.6 12-9.2 12-9.2 12-10 12-9.1 12-10 12-9.1 12-6.4 12-5.6 12-6.4 12-9.2 12-11.4 12-8.4 12-6.3 12-5.7 12-5.4 12-6.3 12-6 12-4.2 12-1.4 12 2.3 12 9.5 12 12.8 12 14.1 12 12 12 13.6 12 15.8 12 12.9 12 11.6 12 9.9 12 7.8 12 7 12 6.5 12 4.1 12 1.2 12-1.8 12-4.4 12-8.3 12-10.4 12-9.7 12-8.3 12-7.4 12-6.5 12-5.6 12-5 12-4.1 12-2.3 12-1.4 12-0.6 12-0.6 12-0.5 12 0 12 0.2 12 0.4 12 1.1 12 7 12 11.9 12 16.3 12 16.3 12 16.8 12 17.5 12 12.7 12 11.2 12 16.6 12 18.7 12 20.5 12 22.9 12 25.6 12 28.2 12 30.8 12 33.8 12 43.2 12 40.3 12 37.4 12 36 12 33.4 12 21.9 12 9.1 12 2.7 12 0.3 12 0.5 12 1.1 12 1.5 12 1.4 12 0.4 12-0.6 12-1.5 12-4.4 12-5.2 12-5.7 12-5.5 12-4.9 12-4.8 12-5.7 12-5.7 12-5 12-4.5 12-3.7 12-3.3 12-3.6 12-3.9 12-3.1 12-2.6 12-2.4 12-1.6 12-1.9 12-2.3 12-2.1 12-2.1 12-3.1 12-6.3 12-10.5 12-13.9 12-15.2 12-16.2 12-17.4 11-17.5" stroke="#8000f0"/>
<path d="M481.0 698.3l12-17 12-17.5 12-15.2 12-16.9 12-17.5 12-14.8 12-12.9 12-12 12-10.7 12-11.5 12-12.7 12-10.6 12-6.3 12-5.5 12-7.9 12-8.9 12-8.6 12-7.1 12-8.1 12-8.2 12-7.1 12-6.3 12-5.2 12-3.4 12-2.6 12-3.6 12-0.2 12 5.6 12 11.5 12 13.9 12 15.7 12 14.3 12 15.3 12 16.8 12 14.7 12 13 12 10.5 12 8.8 12 8 12 7.8 12 5.2 12 2.3 12-0.9 12-3.7 12-7.2 12-9.1 12-9.4 12-7.7 12-7 12-6.6 12-5.9 12-5.3 12-4.9 12-3.3 12-2.8 12-2.1 12-2 12-2.4 12-1.8 12-1.1 12-0.8 12 0 12 6.1 12 10.8 12 15.4 12 15.9 12 16 12 15.8 12 12 12 11.2 12 16.2 12 18.7 12 19.8 12 21.8 12 24.6 12 27 12 29.4 12 33.5 12 47 12 43.3 12 39.5 12 38.6 12 36.3 12 24.2 12 9.5 12 3.6 12 1.5 12 1 12 1.4 12 2.4 12 2.2 12 1.2 12 0.2 12-1.3 12-4.3 12-4.9 12-4.8 12-5.5 12-5.3 12-5.2 12-6.4 12-6.1 12-4.7 12-4.5 12-4.3 12-4.2 12-4 12-4.1 12-4 12-3.2 12-2.2 12-2.2 12-2.2 12-2 12-2.2 12-2.1 12-2.8 12-6.4 12-10.7 12-13.9 12-15.1 12-16.6 12-18.1 11-17.6" stroke="#f00080"/>
<path d="M481.0 771.3l12-13.5 12-15.1 12-18.6 12-18.4 12-16.9 12-15.7 12-13.7 12-13.5 12-11.9 12-10.2 12-11 12-10.9 12-8.4 12-6.3 12-5.8 12-6.3 12-5.4 12-6.8 12-11.2 12-8.5 12-4.5 12-5.1 12-5.8 12-3.9 12-3.2 12-3.1 12 0.3 12 3.2 12 9.3 12 13.8 12 15.5 12 12.1 12 13.1 12 16.1 12 14.7 12 13.1 12 10.1 12 8.4 12 7.5 12 6.8 12 4.7 12 1.7 12-0.8 12-3.4 12-7.8 12-9.6 12-9.3 12-8.2 12-7.7 12-7.1 12-5.8 12-4.8 12-4.8 12-3.1 12-2.3 12-2.4 12-2.2 12-1.7 12-1.6 12-1 12 0.1 12 0.7 12 5.6 12 10.4 12 15.3 12 15.7 12 16.5 12 17.8 12 12.6 12 10.2 12 15.9 12 19.1 12 21 12 23.2 12 25.9 12 28.8 12 30.9 12 33.5 12 40.5 12 38.7 12 36.8 12 34.9 12 31.8 12 21.2 12 9.2 12 2.3 12 0.1 12 0.2 12 0.9 12 1.4 12 1.2 12 0.2 12-0.4 12-1.5 12-4.7 12-5.4 12-5.6 12-5.6 12-4.6 12-4.4 12-5.9 12-6.3 12-4.8 12-3.8 12-3.4 12-3 12-2.6 12-2.7 12-2.3 12-1.8 12-1.7 12-1.6 12-1.5 12-1.6 12-1.6 12-1.6 12-2.7 12-6.1 12-10.3 12-13.7 12-14.6 12-15.7 12-16.6 11-16.4" stroke="#d0d0d0"/>
<path d="M481.0 591.3l12-15 12-16.2 12-14.3 12-16.2 12-18.6 12-16.6 12-16.3 12-16.4 12-13.9 12-12.6 12-12.7 12-13.4 12-9.8 12-7 12-9.3 12-11.1 12-9.3 12-8.1 12-10.9 12-11.1 12-6.8 12-5.1 12-3.5 12-2.3 12-4.8 12-4.5 12 2.9 12 9.2 12 14.3 12 17.5 12 19.1 12 18.9 12 18.2 12 16.5 12 14.3 12 13.9 12 12 12 9.6 12 9.6 12 10.3 12 6.2 12 3 12-2.1 12-4.5 12-6.8 12-9.3 12-8.7 12-7.2 12-6.9 12-6.2 12-5.8 12-5.6 12-4.8 12-3.5 12-2.9 12-2.5 12-2.1 12-1.8 12-2 12-1.9 12-1.6 12-1 12 6.9 12 12.5 12 15.7 12 14.9 12 14.4 12 13.5 12 12.1 12 11.8 12 15.4 12 16.8 12 17.2 12 18.6 12 20.1 12 21.8 12 24.6 12 29.4 12 55.4 12 49.5 12 41.9 12 42.3 12 41.9 12 27.1 12 5.8 12 1.8 12 1.5 12 1.3 12 1 12 1 12 1.2 12 0.8 12-0.1 12-2.2 12-4 12-4.5 12-5 12-5.1 12-5.2 12-5.5 12-5.4 12-4.5 12-3.9 12-3.7 12-3.3 12-3.1 12-3 12-2.8 12-2.7 12-2.5 12-1.8 12-1.4 12-1.1 12-1.2 12-1.7 12-1.8 12-2 12-6.5 12-10.7 12-12.8 12-15.1 12-18.7 12-21.9 11-20.8" stroke="#b177de"/>
<path d="M481.0 564.8l12-13.7 12-13.6 12-14.2 12-17.2 12-17.9 12-14 12-12.7 12-12.5 12-11.5 12-15.6 12-15 12-11.6 12-10 12-8.5 12-8.8 12-8.5 12-7.4 12-8.5 12-7.8 12-7.6 12-8.2 12-5.4 12-2.8 12-3.2 12-3.8 12-3.2 12 1.5 12 9 12 15.4 12 16.4 12 18.2 12 19 12 18.1 12 16 12 12.9 12 12.5 12 11 12 8.3 12 7.9 12 8.9 12 5.3 12 2.1 12-3.1 12-5.8 12-8.2 12-10.6 12-10.5 12-8.7 12-7.2 12-6.5 12-6.6 12-6.4 12-5.6 12-4 12-3.1 12-2.4 12-1.9 12-1.6 12-1.7 12-1.1 12-1.1 12-0.5 12 7.8 12 13.5 12 17.2 12 16.5 12 15.6 12 14.3 12 13 12 12.6 12 16.3 12 17.9 12 17.5 12 19.1 12 21.1 12 22.3 12 24.6 12 29.6 12 57.4 12 51 12 42.1 12 42.5 12 42.4 12 27.2 12 6 12 2.5 12 1.2 12 0.8 12 0.7 12 1.4 12 1.6 12 0.8 12-0.6 12-2.6 12-3.7 12-4.1 12-5 12-5.6 12-5 12-4.9 12-5.3 12-5.2 12-4 12-3.1 12-3.4 12-3.3 12-2.9 12-3 12-2.8 12-2.5 12-2.3 12-2.1 12-1.5 12-1.5 12-2.2 12-2.2 12-2.8 12-7.5 12-11.5 12-13.2 12-15.7 12-19.6 12-23.2 11-22.3" stroke="#22c8c8"/>
<path d="M481.0 743.4l12-15 12-17.7 12-17.9 12-18 12-17.5 12-15.8 12-13.7 12-13.2 12-13.4 12-13.8 12-10.9 12-7.1 12-7.9 12-8.3 12-7.3 12-7.7 12-7.1 12-8 12-10.7 12-7.7 12-5.4 12-6.5 12-6 12-3.8 12-4.1 12-4.7 12-1 12 2.5 12 7.9 12 12.1 12 14.6 12 12.1 12 13.1 12 14.5 12 12.5 12 11.8 12 10 12 8.3 12 6.9 12 6.6 12 4.3 12 1.5 12-1.4 12-3.5 12-7 12-9.1 12-9.1 12-7.8 12-6.6 12-5.7 12-4.8 12-4.4 12-3.6 12-1.6 12-1.4 12-1.2 12-0.9 12-0.3 12 0 12 0 12 0.2 12 0.6 12 6.6 12 11.7 12 15.8 12 16 12 16.2 12 16.5 12 11.9 12 10.2 12 15.1 12 17.8 12 20 12 22.3 12 24 12 26 12 28.9 12 32.4 12 43.6 12 41 12 37.9 12 36.8 12 34.6 12 22.8 12 8.7 12 2.7 12 1.1 12 1.3 12 1.4 12 1.5 12 1.3 12 0.8 12 0.2 12-1.5 12-4.2 12-4.8 12-5.1 12-5.3 12-4.9 12-4.6 12-5.7 12-5.8 12-4.5 12-4.1 12-3.8 12-3.3 12-3.4 12-3.7 12-2.8 12-1.7 12-1.9 12-2.3 12-1.7 12-1.7 12-1.8 12-2 12-2.9 12-6 12-10.2 12-13.1 12-14.5 12-16.5 12-17.1 11-16.7" stroke="#f00080"/>
<path d="M481.0 602.2l12-14.5 12-14.1 12-14.3 12-17.1 12-17.2 12-13.9 12-12.7 12-14.1 12-14.4 12-12.9 12-10.3 12-8.6 12-7.1 12-8.5 12-9.9 12-9.3 12-8.2 12-6.1 12-7.3 12-9.1 12-7.3 12-4.6 12-4.3 12-6 12-5.6 12-2.9 12 2.6 12 7.3 12 11.7 12 15.9 12 17.4 12 16.5 12 17 12 15.7 12 13.1 12 12 12 9.8 12 8.5 12 8.4 12 8.3 12 4.5 12 1.6 12-2.6 12-5.1 12-8 12-10.2 12-9.7 12-7.8 12-6.9 12-6.7 12-6.3 12-5.5 12-5.2 12-3.6 12-2.4 12-1.8 12-1.2 12-0.9 12-1.2 12-0.6 12-0.3 12 0 12 8.3 12 14 12 17.2 12 17.1 12 16.7 12 15.7 12 13.4 12 12.6 12 16.8 12 18.6 12 18.9 12 20.2 12 21.8 12 23.8 12 26.5 12 30.7 12 53.2 12 48.1 12 41 12 40.6 12 40 12 25.8 12 6.8 12 2.3 12 1.2 12 1.3 12 1.3 12 1 12 1.1 12 1.1 12 0.1 12-2.4 12-3.8 12-4.1 12-4.8 12-5 12-5.1 12-5.2 12-5.1 12-4.6 12-4 12-3.5 12-3.2 12-3.2 12-3.1 12-3.1 12-2.8 12-2.5 12-2.1 12-1.8 12-1.7 12-1.8 12-2.6 12-3.1 12-3.2 12-7.1 12-11.5 12-14 12-15.8 12-19 12-22.3 11-21.3" stroke="#1a6fdf"/>
<path d="M481.0 764.0l12-15.3 12-17.6 12-17.7 12-19.3 12-19.7 12-15.4 12-13.4 12-14.2 12-12.4 12-11.5 12-9 12-8 12-8.4 12-7.3 12-7.4 12-7.7 12-5.9 12-6.5 12-9.8 12-7 12-4.5 12-4.1 12-3.5 12-3.5 12-4.6 12-4.4 12-0.6 12 4.5 12 11.3 12 12.9 12 14.3 12 11.6 12 12.7 12 15.7 12 13.1 12 12.2 12 10.3 12 7.5 12 6.7 12 6.3 12 4.2 12 1.2 12-2.1 12-4.3 12-7.8 12-9.6 12-9.5 12-8.5 12-7.6 12-6.3 12-5.5 12-5 12-4.3 12-2.4 12-1.8 12-1.7 12-1.3 12-1.1 12-1.3 12-0.8 12 0.8 12 1.3 12 6.2 12 10.6 12 14.7 12 15.3 12 16.1 12 17 12 11.7 12 10.3 12 15.8 12 18.2 12 19.9 12 22.3 12 25 12 27.9 12 30.3 12 33.1 12 42 12 40.2 12 37.6 12 36 12 33.3 12 22.3 12 9.9 12 3.8 12 1.9 12 1.4 12 1.5 12 2.7 12 2.8 12 1.4 12 0.4 12-0.4 12-3.6 12-4.5 12-4.4 12-4.9 12-4.4 12-4.4 12-6.1 12-5.9 12-4.6 12-4.5 12-3.8 12-3.3 12-4 12-4.2 12-3.3 12-2.9 12-2.7 12-2.7 12-2.8 12-2.6 12-3 12-3.1 12-3.6 12-6.5 12-11.1 12-14.1 12-14.7 12-16.2 12-17.6 11-17.4" stroke="#d0d0d0"/>
<path d="M481.0 602.6l12-12.1 12-16.1 12-18.2 12-18.1 12-18.7 12-15.8 12-12.4 12-13.4 12-16.2 12-16.7 12-13.5 12-10.6 12-9.2 12-9.5 12-9.5 12-9 12-9 12-9.7 12-10 12-9.2 12-6.9 12-6.7 12-7.1 12-3.6 12-2.6 12-3.7 12 0.3 12 6.3 12 13.8 12 18 12 18.5 12 17.6 12 17.7 12 16.6 12 13.8 12 12.7 12 11.3 12 9.3 12 8.8 12 9.5 12 5.2 12 2.6 12-1.9 12-4.9 12-7.7 12-9.9 12-9 12-7.1 12-6.7 12-6.7 12-6.4 12-5.7 12-4.9 12-3.1 12-2.6 12-2.2 12-1.5 12-1.3 12-1.5 12-1.2 12-1 12-0.1 12 7.9 12 13.1 12 16.7 12 16.3 12 15.5 12 14.5 12 13.1 12 12.4 12 15.6 12 17.5 12 18.1 12 19.6 12 21.4 12 22.9 12 25.7 12 30.9 12 55.8 12 49.3 12 41.2 12 41.8 12 41.7 12 27.1 12 6.3 12 1.9 12 0.7 12 0.4 12 0.9 12 1.6 12 1.1 12 0.6 12-0.6 12-3 12-4.1 12-4.4 12-5.6 12-5.8 12-5.2 12-5.3 12-5.7 12-5.4 12-4.7 12-4 12-3.5 12-3.6 12-3.8 12-3.7 12-3.3 12-2.8 12-2.3 12-2.3 12-1.5 12-1.3 12-2.4 12-2.5 12-2.5 12-6.8 12-11 12-13.1 12-15.9 12-19.7 12-22.6 11-21.6" stroke="#404040"/>
<path d="M481.0 833.8l12-18.8 12-19.1 12-19.2 12-20.4 12-17.9 12-17.1 12-16 12-12.4 12-9.1 12-11.9 12-12.6 12-7.1 12-6.2 12-7.8 12-5.7 12-3.3 12-3.7 12-6.8 12-9.7 12-6.8 12-5.4 12-4.7 12-4.3 12-3.8 12-3.3 12-4 12-1.4 12 3.2 12 9.6 12 11.3 12 12.6 12 9.3 12 10.8 12 15.2 12 13.5 12 12 12 9.9 12 7.8 12 6.3 12 5.1 12 3.8 12 0.5 12-2 12-4.1 12-7.9 12-9.8 12-10 12-9 12-8.4 12-7.5 12-5.7 12-4.6 12-4.1 12-2.4 12-1.8 12-1.3 12-0.9 12-0.7 12-0.7 12-0.4 12 1.2 12 2 12 5.8 12 10 12 15 12 16.1 12 17.2 12 18.7 12 12.9 12 10.3 12 16 12 19.3 12 22.3 12 24.8 12 27.8 12 30.6 12 32.9 12 35 12 36.5 12 35.7 12 35.5 12 33.1 12 29.7 12 20.1 12 10.4 12 2.9 12 0.4 12 0.3 12 0.7 12 1.6 12 1.3 12 0.4 12-0.2 12-1 12-5.1 12-6.1 12-6.1 12-6.2 12-5 12-4.4 12-6.2 12-6.8 12-5.2 12-4.5 12-3.9 12-3.7 12-3.5 12-3.3 12-2.2 12-1.4 12-1.3 12-1.7 12-1.7 12-1 12-0.6 12-1.3 12-2.8 12-5.4 12-9.3 12-12.9 12-14 12-14.4 12-13.8 11-14.2" stroke="#800000"/>
<path d="M481.0 655.7l12-14.5 12-15.9 12-16.2 12-18.2 12-19.1 12-17.5 12-12.5 12-8.8 12-11.6 12-13.7 12-13.3 12-12.9 12-8.5 12-5.6 12-6.3 12-8.6 12-9 12-7.1 12-8.2 12-7.9 12-6.4 12-6 12-4.8 12-3.1 12-3 12-3.6 12 0.8 12 6.8 12 12.7 12 15.4 12 17.4 12 16.4 12 16.5 12 16.9 12 14 12 12.1 12 10.8 12 9.5 12 8.6 12 8.4 12 5.2 12 2.6 12-0.9 12-4 12-7.5 12-9.1 12-8.6 12-7.1 12-6.4 12-6.4 12-5.7 12-4.8 12-3.8 12-2.5 12-2.4 12-2 12-1.2 12-0.9 12-1.1 12-1.3 12-1.1 12-0.4 12 6.4 12 11.9 12 15.5 12 15.3 12 15.1 12 15 12 11.5 12 10.4 12 15.2 12 17.6 12 18.5 12 20.3 12 22.7 12 24.5 12 27 12 31.5 12 49.4 12 44.7 12 39.3 12 39.4 12 38.5 12 25.4 12 8 12 2.8 12 1.4 12 1.7 12 2.1 12 2.2 12 2.1 12 1.4 12 0.7 12-0.9 12-3.2 12-3.8 12-4.2 12-4.7 12-4.3 12-4.2 12-5.5 12-5.5 12-4.3 12-3.3 12-2.8 12-3.2 12-3.8 12-3.8 12-2.9 12-2.6 12-2.4 12-2.4 12-2.4 12-2.5 12-2.6 12-2.8 12-3.5 12-7.2 12-11.4 12-14.2 12-16.3 12-18.5 12-20 11-19.7" stroke="#808080"/>
<path d="M481.0 840.2l12-15.2 12-16.9 12-20.1 12-20.4 12-16.2 12-15.2 12-16.4 12-15 12-10.5 12-8.6 12-9.4 12-9.7 12-8.7 12-6.1 12-4 12-5.5 12-6.4 12-6.4 12-10.3 12-8.7 12-5.4 12-4.8 12-5.3 12-5.5 12-4.3 12-3.7 12-1.9 12 1.9 12 8 12 10.4 12 12.9 12 9 12 9.7 12 14.7 12 13.6 12 11.6 12 9.3 12 7.5 12 5.9 12 4.8 12 3.4 12 0.3 12-1.7 12-3.8 12-8.3 12-9.7 12-8.8 12-8.2 12-7.9 12-6.6 12-5.2 12-4.4 12-3.9 12-1.5 12-0.6 12-0.2 12 0 12 0.1 12 0.2 12 0.6 12 2.3 12 3.1 12 6.9 12 10.8 12 15.7 12 17 12 18.2 12 19.8 12 12.8 12 9.6 12 15.8 12 19 12 21.8 12 24.5 12 27.2 12 30.4 12 32.3 12 33.9 12 35.1 12 34.4 12 34.4 12 32.4 12 28.8 12 19.1 12 10.4 12 3 12 0.1 12-0.1 12 0.2 12 1.1 12 1.5 12 0.4 12-0.6 12-1 12-4.5 12-5.5 12-5.3 12-5.6 12-4.1 12-3.2 12-5.5 12-6.6 12-4.5 12-3.6 12-3.3 12-3 12-2.9 12-2.7 12-2.2 12-1.6 12-1.6 12-2.2 12-2 12-1.9 12-1.9 12-2.1 12-3.2 12-5.8 12-10.3 12-14.5 12-14.7 12-14.3 12-14.4 11-15.1" stroke="#37ad6b"/>
<path d="M481.0 633.9l12-13.1 12-17.7 12-17.7 12-17.9 12-17.5 12-13.7 12-13.9 12-14 12-12.8 12-13.8 12-13.7 12-13.5 12-9.4 12-7.5 12-8.3 12-7.6 12-8.8 12-10.4 12-10.2 12-7.5 12-6.1 12-6.8 12-5.5 12-4.9 12-6.2 12-3.7 12 3.7 12 7.8 12 11.3 12 15.6 12 18.4 12 17.4 12 17 12 15.9 12 13.8 12 13.1 12 11.7 12 9.8 12 8.9 12 9.1 12 5.4 12 2.9 12-1.2 12-4.2 12-7 12-9.1 12-8.3 12-6.9 12-6.3 12-5.7 12-5.3 12-4.5 12-3.6 12-2.6 12-1.9 12-1.1 12-1.1 12-1.1 12-0.4 12-0.2 12-0.1 12 0.4 12 7.3 12 12.7 12 16.4 12 15.6 12 15.4 12 15.1 12 12.3 12 11.1 12 15.2 12 17 12 17.4 12 19.4 12 21.6 12 23.2 12 25.5 12 29.8 12 50.4 12 45.8 12 39.4 12 39.4 12 38.9 12 25 12 6.4 12 1.4 12 0.1 12 0.4 12 0.8 12 1.6 12 1.3 12 0.4 12-0.4 12-2 12-4 12-4.5 12-5 12-4.9 12-4.7 12-4.7 12-4.9 12-4.6 12-3.8 12-3.1 12-2.6 12-2.7 12-2.5 12-2.1 12-1.7 12-1.2 12-1.1 12-0.9 12-0.3 12-0.1 12-0.9 12-1 12-1.7 12-5.8 12-9.9 12-12.3 12-14.6 12-17.9 12-20.5 11-19.9" stroke="#7d4e4e"/>
<path d="M481.0 643.6l12-15.4 12-17.5 12-16.3 12-16.6 12-18.5 12-16.1 12-14.6 12-12.4 12-11.8 12-14.9 12-12.5 12-10.6 12-9 12-6.6 12-7.8 12-9.3 12-6.8 12-6.9 12-9 12-6 12-5.2 12-4.7 12-3.3 12-4.2 12-4.7 12-3.5 12 1.8 12 8.1 12 13.2 12 15.1 12 16.8 12 16.1 12 16.4 12 16.1 12 13.5 12 12.3 12 10.3 12 8.6 12 8.2 12 8.2 12 4.8 12 1.7 12-2.5 12-5.2 12-8 12-10 12-9.8 12-8.4 12-7.3 12-6.2 12-5.8 12-5.7 12-4.5 12-2.6 12-2.1 12-1.9 12-1.2 12-0.7 12-0.2 12-0.2 12 0.3 12 1.3 12 7.9 12 13.2 12 17.6 12 17.5 12 17.1 12 16.8 12 13.9 12 12.7 12 17.1 12 19.3 12 20.3 12 21.8 12 23.9 12 25.7 12 28.1 12 32 12 49.2 12 44.7 12 39.1 12 38.4 12 37 12 24.3 12 7.3 12 1.7 12 0.4 12 0.2 12 0.2 12 0.8 12 0.8 12-0.2 12-1.3 12-2.8 12-4.7 12-5.4 12-5.9 12-6.2 12-5.5 12-5.4 12-6.2 12-5.5 12-4.3 12-4.1 12-3.8 12-3.4 12-3.1 12-3.1 12-2.8 12-2.3 12-1.6 12-1.3 12-1.7 12-2.1 12-2 12-1.7 12-2.9 12-6.9 12-11.3 12-13.8 12-15.2 12-17.7 12-20.2 11-19.9" stroke="#d0d0d0"/>
<path d="M481.0 845.4l12-15.5 12-19.2 12-20.5 12-19.5 12-16.4 12-14.4 12-15.3 12-15.7 12-11.6 12-8 12-9.8 12-12.4 12-8.3 12-4.8 12-7.5 12-8.3 12-5.1 12-5.7 12-11 12-10.2 12-6.4 12-4.7 12-5.4 12-5.7 12-4.7 12-3.7 12-1.6 12 1.5 12 7.9 12 9.8 12 11.8 12 9.6 12 11 12 14.7 12 13.6 12 11.9 12 9.4 12 8 12 6.8 12 5.5 12 3.7 12 0.9 12-0.8 12-3.2 12-8.1 12-9.9 12-9.5 12-7.9 12-7.6 12-7 12-5.3 12-4.5 12-4.5 12-2.5 12-1.4 12-0.9 12-0.5 12-0.1 12 0.2 12 0.6 12 2.1 12 3 12 6.9 12 11 12 16.1 12 16.9 12 17.8 12 19.4 12 12.7 12 9.8 12 16 12 19 12 21.5 12 24.2 12 26.7 12 29.7 12 32 12 33.6 12 35.3 12 35.4 12 35.1 12 32.5 12 28.7 12 19.4 12 10.4 12 2.9 12 0.3 12 0.2 12 0.9 12 2 12 2 12 0.4 12-0.6 12-1 12-4.2 12-5.2 12-5.1 12-5.2 12-4.4 12-3.4 12-4.9 12-5.8 12-4.1 12-3.4 12-3.1 12-2.6 12-3.1 12-3.3 12-2 12-1.8 12-1.9 12-1.6 12-1.8 12-2.3 12-2.2 12-1.8 12-2.7 12-5.6 12-10.3 12-13.9 12-14.1 12-14.4 12-14.1 11-14.2" stroke="#c8c830"/>
<path d="M481.0 559.7l12-11.6 12-15.2 12-14.9 12-16.9 12-20.4 12-15.5 12-11.1 12-12.4 12-14.9 12-14.4 12-12.6 12-13 12-10 12-8.2 12-8.1 12-7.6 12-7 12-7.8 12-9.6 12-6.7 12-4.3 12-5.5 12-4.9 12-3.9 12-3.3 12-1.1 12 3.5 12 8.2 12 15.2 12 18.4 12 18.6 12 18.7 12 18.6 12 17 12 14.3 12 13 12 11 12 9.3 12 9.2 12 9.4 12 5.8 12 3.2 12-2.1 12-5.2 12-7.8 12-10 12-9.2 12-7.5 12-6.8 12-6.1 12-5.7 12-5.4 12-4.8 12-3.2 12-2.6 12-2.4 12-1.8 12-1.5 12-1.2 12-1.1 12-1 12-0.5 12 7.7 12 13.4 12 16.9 12 16.2 12 15.7 12 14.5 12 12.9 12 13.1 12 16.5 12 17.7 12 17.9 12 19.7 12 21.4 12 22.7 12 25.6 12 30.7 12 55.8 12 49.9 12 41.7 12 41.8 12 42.1 12 27.7 12 6.9 12 2.5 12 1.4 12 1.1 12 1.1 12 1.7 12 1.4 12 0.7 12-0.1 12-2.5 12-4.4 12-4.8 12-5.1 12-5.3 12-5.7 12-6 12-6.1 12-5.7 12-4.8 12-4.1 12-3.8 12-4.1 12-4.1 12-3.6 12-3.4 12-3.4 12-3.3 12-2.4 12-2.4 12-2.8 12-2.2 12-2.2 12-3.6 12-8 12-11.3 12-13.4 12-16.1 12-19.7 12-22.6 11-21.5" stroke="#e8e8a0"/>
<path d="M481.0 561.6l12-14.1 12-17.1 12-15.7 12-12.3 12-13.5 12-16 12-14.9 12-11.6 12-11.6 12-13.7 12-14.1 12-12.8 12-7.2 12-5.4 12-8.1 12-9.3 12-9.2 12-9.4 12-9.5 12-8.4 12-7.3 12-7.3 12-5.6 12-4.2 12-5.2 12-4.5 12 1.7 12 7.6 12 13.4 12 16.9 12 17.1 12 16.4 12 17.2 12 16.3 12 13.7 12 12.3 12 10.9 12 9.1 12 8.6 12 8.9 12 5.5 12 3.2 12-2.2 12-5.4 12-7.3 12-9.4 12-8.9 12-6.8 12-6.4 12-6.1 12-5.6 12-5.1 12-4.3 12-3.1 12-2.5 12-1.8 12-1.7 12-1.5 12-1.1 12-1 12-1 12-0.9 12 7.6 12 13.4 12 16.3 12 15.9 12 15 12 13.4 12 12.7 12 12.8 12 15.7 12 17 12 17 12 18.2 12 20.3 12 21.4 12 24.1 12 30 12 57.8 12 50.7 12 41.7 12 42.7 12 43.2 12 28.1 12 6 12 2.4 12 1.8 12 1.5 12 1.7 12 2 12 1.7 12 1.3 12 0.4 12-2.2 12-3.8 12-4 12-4.6 12-4.9 12-4.5 12-5.2 12-5.8 12-4.8 12-3.6 12-3.2 12-3.3 12-3.2 12-3.4 12-3.4 12-3.2 12-3 12-2.9 12-2.1 12-1.4 12-1.7 12-2.5 12-2.5 12-2.7 12-7.1 12-11.1 12-13.1 12-15.8 12-20 12-23.4 11-22" stroke="#e022e0"/>
<path d="M481.0 633.7l12-14.2 12-18.5 12-18.4 12-16 12-17 12-16 12-15.1 12-14.5 12-11.9 12-13.2 12-14.4 12-11.9 12-8.1 12-8.7 12-10 12-8.1 12-8.1 12-10.3 12-11.6 12-9.7 12-6.5 12-5.4 12-7 12-6 12-3.1 12-3.1 12 1 12 7.9 12 13.6 12 16.2 12 18.3 12 17.3 12 16.9 12 17 12 14.9 12 13.7 12 12 12 10.3 12 9.8 12 9.9 12 6.2 12 3.1 12-1.1 12-3.2 12-6.3 12-8.9 12-8.4 12-7.1 12-6.7 12-5.8 12-5.6 12-5.8 12-4.5 12-2.8 12-2.6 12-2.3 12-2.1 12-2 12-1.9 12-1.7 12-1.4 12-0.6 12 7 12 12.3 12 15.5 12 15.3 12 15.1 12 14.3 12 11.4 12 10.8 12 15.3 12 17.4 12 17.9 12 19.3 12 21.3 12 23.3 12 26 12 30.3 12 52.1 12 47.2 12 40.7 12 40.7 12 40 12 26.2 12 7.3 12 2.8 12 1.6 12 1.2 12 1.6 12 2 12 1.4 12 1 12 0.2 12-2.3 12-4.1 12-4 12-4.4 12-5.1 12-5.4 12-5.3 12-5.7 12-5.3 12-4.5 12-4 12-3.9 12-3.6 12-3.6 12-4 12-3.5 12-3.1 12-3.3 12-2.9 12-2.4 12-2.3 12-2.8 12-2.8 12-3.5 12-7.6 12-11.9 12-14.1 12-16.2 12-19.1 12-21.6 11-20.8" stroke="#22c022"/>
<path d="M481.0 671.1l12-15.6 12-18.4 12-19 12-17.7 12-14.6 12-13.5 12-14.2 12-12.8 12-12.8 12-13.8 12-11.5 12-9.5 12-7.7 12-7.4 12-8.7 12-10.6 12-8.3 12-7.6 12-10.9 12-8.9 12-7.6 12-7.3 12-5.4 12-4.9 12-4.7 12-3.5 12 0.3 12 4.3 12 10.4 12 14.6 12 15.6 12 15 12 16.6 12 16.4 12 13.3 12 12.5 12 11.2 12 9.4 12 8.4 12 8.5 12 5.5 12 2.5 12-1.3 12-3.6 12-6.6 12-9 12-8.5 12-6.6 12-6.1 12-5.9 12-5.4 12-4.4 12-3.5 12-2.1 12-1.7 12-1.2 12-0.7 12-0.4 12-0.4 12-0.4 12 0.1 12 0.8 12 7.1 12 12.6 12 16.6 12 15.7 12 15.2 12 15.4 12 12.3 12 11.2 12 15.5 12 17.4 12 18.4 12 20.4 12 22.5 12 24.2 12 26.7 12 30.5 12 47.9 12 44.1 12 38.8 12 38.3 12 37.1 12 24.3 12 7.3 12 2.2 12 0.6 12 1 12 1.6 12 1.8 12 1.1 12 0.8 12 0.4 12-1.3 12-3.8 12-4 12-4.1 12-4.3 12-4.2 12-4 12-4.4 12-4.4 12-3.6 12-2.8 12-2.1 12-2.4 12-3 12-2.7 12-2 12-2.1 12-1.8 12-1.5 12-1.3 12-1.5 12-1.8 12-1.9 12-2.7 12-6.9 12-11.1 12-13.6 12-15.4 12-17.7 12-19.3 11-19.1" stroke="#404040"/>
<path d="M481.0 673.7l12-15.1 12-17.1 12-17.3 12-18 12-17.8 12-15.7 12-14 12-13.6 12-13.1 12-13.1 12-12 12-10.8 12-9 12-7.9 12-7.9 12-7.9 12-7.3 12-7.9 12-9.5 12-7.5 12-5.6 12-4.9 12-4.1 4-0.7 8-10 0.4 0.3 5.6-6.6 6 4.7 1 1.5 7 5.6 4-0.1 12 1.4 12 6.7 12 12.7 12 15.6 12 17 12 15.3 12 15.7 12 16.5 12 14.2 12 12.6 12 10.6 12 8.9 12 8.1 12 7.7 12 4.8 12 1.9 12-1.9 12-4.4 12-7.7 12-9.8 12-9.5 12-8.1 12-7.4 12-6.7 12-6 12-5.4 12-4.7 12-3 12-2.4 12-1.8 12-1.5 12-1.1 12-0.9 12-0.7 12-0.1 12 0.7 12 7.2 12 12.2 12 16.2 12 16.2 12 16.2 12 16.3 12 12.6 12 11.4 12 16 12 18.2 12 19.2 12 21.1 12 23.4 12 25.4 12 27.7 12 31.5 12 47.4 12 43.6 12 38.6 12 37.9 12 36.6 12 23.8 12 7.6 12 2.2 12 0.6 12 0.5 12 0.9 12 1.4 12 1.3 12 0.6 12-0.3 12-1.8 12-4.1 12-4.6 12-4.9 12-5.1 12-4.6 12-4.5 12-5.4 12-5.2 12-4.2 12-3.6 12-3.3 12-3 12-3.1 12-3.2 12-2.6 12-2.3 12-2.2 12-1.9 12-1.9 12-1.9 12-2 12-2.1 12-3 12-6.7 12-11 12-13.7 12-15.3 12-17.7 12-19.6 11-19.2" stroke="#161616"/>
<path d="M481.0 640.8l12-14.3 12-16 12-16.2 12-17.1 12-17.4 12-15.1 12-13.6 12-13.3 12-13.1 12-13.2 12-11.9 12-10.7 12-8.9 12-7.9 12-8.1 12-8.3 12-7.7 12-8.1 12-9.4 12-7.9 12-6 12-5.4 12-4.5 12-4 7-2.1 5-6.6 2.2-2.8 4.8-6.2 5 3.9 1 1 6 5.9 5 1.6 12 6.9 12 12.9 12 15.9 12 17.3 12 15.9 12 16.3 12 16.4 12 13.9 12 12.4 12 10.5 12 8.7 12 8 12 7.9 12 4.7 12 1.8 12-2.4 12-5 12-8 12-10.1 12-9.7 12-8.1 12-7.5 12-6.8 12-6.2 12-5.7 12-4.9 12-3.3 12-2.7 12-2.1 12-1.7 12-1.3 12-1 12-0.9 12-0.5 12 0.3 12 7.6 12 12.8 12 16.6 12 16.4 12 16.2 12 15.8 12 13.1 12 12.3 12 16.5 12 18.4 12 19.1 12 20.9 12 23.1 12 24.8 12 27.3 12 31.6 12 50.9 12 46.2 12 40.1 12 39.7 12 38.6 12 25.2 12 7.4 12 2.4 12 1 12 0.8 12 1 12 1.5 12 1.4 12 0.7 12-0.5 12-2.2 12-4.2 12-4.8 12-5.2 12-5.5 12-5.2 12-5.3 12-6 12-5.6 12-4.7 12-4.2 12-3.8 12-3.6 12-3.6 12-3.6 12-3.1 12-2.6 12-2.4 12-2.1 12-1.9 12-1.8 12-2 12-2.1 12-2.8 12-6.9 12-11 12-13.4 12-15.4 12-18.1 12-20.6 11-19.9" stroke="#000080"/>
<path d="M481.0 602.9l12-14.5 12-15.9 12-16.1 12-17.2 12-17.6 12-15.3 12-13.9 12-14 12-13.8 12-14.1 12-12.5 12-11.3 12-9.4 12-8.4 12-8.9 12-9.1 12-8.5 12-8.6 12-9.4 12-8 12-6.5 12-5.7 12-4.7 12-4.1 12-4 9-2.9 3-5.5 3-5.3 4-6.3 5 9.7 5 10.9 7 4.9 12 13.8 12 16.8 12 18.2 12 17.4 12 17.4 12 16.8 12 14 12 12.7 12 11 12 9.3 12 8.7 12 9.2 12 5.6 12 2.7 12-1.9 12-4.7 12-7.2 12-9.3 12-8.9 12-7.2 12-6.5 12-5.9 12-5.5 12-5 12-4.3 12-2.6 12-2 12-1.5 12-1 12-0.7 12-0.4 12-0.3 12-0.2 12 0.5 12 8.1 12 13.5 12 16.9 12 16.5 12 16 12 15.3 12 12.9 12 12.3 12 16.2 12 17.8 12 18.2 12 19.8 12 21.8 12 23.3 12 25.8 12 30.2 12 52.5 12 47.2 12 40.2 12 40 12 39.6 12 25.5 12 6.2 12 1.6 12 0.3 12 0.2 12 0.5 12 0.9 12 0.8 12 0.2 12-0.9 12-2.9 12-4.5 12-4.8 12-5.4 12-5.5 12-5.4 12-5.4 12-5.8 12-5.2 12-4.2 12-3.8 12-3.3 12-3.2 12-3.2 12-3.1 12-2.6 12-2.3 12-1.9 12-1.5 12-1.3 12-1.3 12-1.5 12-1.4 12-2.3 12-6.4 12-10.6 12-12.9 12-15 12-18.4 12-21.3 11-20.5" stroke="#161616"/>
<path d="M481.0 539.2l12-14.5 12-15.4 12-15.6 12-17 12-18 12-15.4 12-14.4 12-14.7 12-14.8 12-15.3 12-13.3 12-11.7 12-9.7 12-8.6 12-9.5 12-9.7 12-8.9 12-8.5 12-8.3 12-7.5 3-1.3 5.4-8 3.6-5 4.5 2.7 4.5 2.8 3-0.9 12-4.3 12-3.5 12-3.5 12-2.9 12 3 12 10 12 15.6 12 18.7 12 19.9 12 19.6 12 19.3 12 17.4 12 14.4 12 12.9 12 11.5 12 9.6 12 9.2 12 9.9 12 5.8 12 3 12-2.3 12-5.3 12-7.6 12-9.8 12-9.3 12-7.7 12-6.9 12-6.6 12-6.6 12-6.3 12-5.4 12-4 12-3.4 12-2.8 12-2.3 12-1.9 12-1.6 12-1.6 12-1.7 12-1.1 12 7.9 12 13.6 12 16.8 12 15.9 12 15 12 13.4 12 12.9 12 12.9 12 16 12 17.3 12 16.8 12 18.3 12 19.8 12 20.9 12 23.6 12 29 12 58.8 12 51.7 12 42.4 12 43.1 12 43.6 12 28.2 12 5.4 12 1.8 12 1 12 0.9 12 1.2 12 1.4 12 1.3 12 0.9 12-0.3 12-2.7 12-3.9 12-3.9 12-4.7 12-4.9 12-5 12-5.4 12-5.4 12-4.6 12-3.9 12-3.5 12-3.3 12-3.3 12-3.4 12-3.5 12-3.2 12-3 12-2.6 12-2.2 12-2 12-2.1 12-2.3 12-2.4 12-3 12-7.7 12-11.6 12-13.5 12-16.2 12-20.4 12-24.3 11-22.9" stroke="#2222ee"/>
<path d="M481.0 529.6l12-12.8 12-13.9 12-14.2 12-15.8 12-17 12-14.6 12-13.7 12-14.3 12-14.6 12-15.2 12-13.5 12-12 12-10.2 12-9.4 12-10.4 12-10.8 12-10 12-9.6 12-9.4 12-8.6 12-7.3 12-6.2 12-5 12-4.1 12-3.8 12-3 3 0 5.4-6.9 3.6-2.9 4.5 11.2 4.5 11.5 3 3.7 12 16.3 12 19.3 12 20.4 12 20.3 12 19.8 12 17.6 12 14.4 12 13 12 11.4 12 9.6 12 9.1 12 9.8 12 5.7 12 2.8 12-2.6 12-5.7 12-7.8 12-10.1 12-9.6 12-7.9 12-7.1 12-6.8 12-6.7 12-6.4 12-5.5 12-4.1 12-3.3 12-2.9 12-2.3 12-1.8 12-1.5 12-1.5 12-1.7 12-1 12 8.1 12 14 12 16.9 12 16.1 12 15.1 12 13.5 12 13.2 12 13.3 12 16.4 12 17.6 12 17.1 12 18.4 12 20 12 20.9 12 23.7 12 29.2 12 59.5 12 52.3 12 42.7 12 43.3 12 43.8 12 28.2 12 5.2 12 1.6 12 0.9 12 0.7 12 0.9 12 1.2 12 1.1 12 0.6 12-0.5 12-3.1 12-4.2 12-4.2 12-5 12-5.2 12-5.2 12-5.5 12-5.4 12-4.4 12-3.7 12-3.3 12-3.1 12-3 12-3.1 12-3 12-2.9 12-2.5 12-2.1 12-1.7 12-1.5 12-1.6 12-1.8 12-1.9 12-2.5 12-7.4 12-11.4 12-13.2 12-16.1 12-20.5 12-24.4 11-23.3" stroke="#1a6fdf"/>
<path d="M481.0 546.8l12-13.6 12-14.6 12-14.9 12-16.3 12-17.3 12-14.8 12-13.8 12-14.1 12-14.4 12-14.8 12-13 12-11.5 12-9.7 12-8.7 12-9.6 12-9.9 12-9.1 12-8.9 12-9 12-8.1 12-6.8 12-5.9 12-4.8 12-4 12-4 12-3.4 12 2.5 12 9.5 12 15.1 12 18.2 12 19.5 12 19.2 12 19 12 17.2 12 14.3 12 13 12 11.4 12 9.8 12 9.3 12 9.9 12 6 12 3 12-2.1 1-0.4 4.8-23.7 3.2-15.9 3 12 1 3.9 4 15.6 7-4.9 12-9.7 12-9.3 12-7.6 12-6.9 12-6.4 12-6.4 12-6 12-5.2 12-3.7 12-3.1 12-2.6 12-2.1 12-1.7 12-1.4 12-1.4 12-1.5 12-0.9 12 7.9 12 13.8 12 16.8 12 16 12 15.2 12 13.9 12 13 12 13.1 12 16.3 12 17.8 12 17.4 12 19 12 20.8 12 21.9 12 24.7 12 30.1 12 58.3 12 51.7 12 42.7 12 43.1 12 43.4 12 28.2 12 6.1 12 2.4 12 1.3 12 1.2 12 1.4 12 1.6 12 1.6 12 0.9 12-0.2 12-2.6 12-3.9 12-4.1 12-4.8 12-5.1 12-5.1 12-5.5 12-5.7 12-4.8 12-4.1 12-3.7 12-3.4 12-3.3 12-3.3 12-3.3 12-3 12-2.6 12-2.3 12-1.9 12-1.7 12-1.6 12-1.9 12-1.9 12-2.7 12-7.2 12-11.2 12-13.3 12-15.9 12-19.9 12-23.4 11-22.5" stroke="#22a040"/>
<path d="M481.0 662.8l12-14.5 12-16.5 12-16.6 12-17.4 12-17.4 12-15.1 12-13.7 12-13.2 12-12.9 12-13 12-11.8 12-10.8 12-9 12-7.9 12-8.2 12-8.3 12-7.7 12-8.4 12-9.8 12-8.1 12-6.3 12-5.6 12-4.9 12-4.2 12-4.1 12-3.6 12 0.8 12 6.3 12 12.5 12 15.4 12 16.9 12 15.5 12 15.8 12 16.5 12 14 12 12.7 12 10.8 12 9.2 12 8.4 12 8.4 12 5.3 12 2.5 12-1.4 4-0.9 4.2-8.3 2.8-5.8 1 1.6 2.5 3.2 3.5 4.2 6-3.6 12-9.1 12-8.7 12-7.3 12-6.7 12-5.9 12-5.3 12-4.7 12-4 12-2.4 12-1.8 12-1.4 12-0.9 12-0.8 12-0.6 12-0.5 12 0 12 0.7 12 7.2 12 12.1 12 16.1 12 15.9 12 15.8 12 15.7 12 12.1 12 11 12 15.5 12 17.5 12 18.5 12 20.4 12 22.6 12 24.5 12 27 12 30.9 12 48 12 44.1 12 38.8 12 38.2 12 37.1 12 24.1 12 7.3 12 2.1 12 0.6 12 0.5 12 0.8 12 1.3 12 1.2 12 0.5 12-0.5 12-2.2 12-4.3 12-4.8 12-5.3 12-5.4 12-5.1 12-5 12-5.8 12-5.6 12-4.5 12-3.9 12-3.5 12-3.4 12-3.2 12-3.3 12-2.7 12-2.3 12-2.1 12-1.7 12-1.7 12-1.6 12-1.7 12-1.8 12-2.6 12-6.6 12-10.6 12-13.4 12-15.1 12-17.6 12-19.8 11-19.3" stroke="#2222ee"/>
<path d="M481.0 759.4l12-15.4 12-17.9 12-18 12-18.2 12-17.3 12-15.3 12-13.3 12-12.2 12-11.4 12-11.1 12-10.4 12-9.6 12-8 12-6.7 12-6.4 12-6.3 12-5.9 12-7.4 12-10.1 12-7.7 12-5.4 12-5.1 12-4.6 12-4.4 12-4.3 12-4.1 12-1.1 12 3.2 12 9.6 12 12.4 12 14 12 11.6 12 12.6 12 15.1 12 13.1 12 11.7 12 9.5 12 7.8 12 6.9 12 6.1 12 3.8 12 0.9 12-1.8 6-1.8 5.4-15.8 0.6-2.3 3-9.4 4.5 7.8 4.5 7.9 12-9.5 12-9.2 12-7.8 12-7.1 12-6.2 12-5 12-4.2 12-3.6 12-1.7 12-1.1 12-0.5 12-0.2 12 0 12 0.2 12 0.4 12 1.3 12 2.2 12 7.2 12 11.8 12 16.2 12 16.7 12 17.3 12 18.1 12 12.8 12 10.6 12 16.2 12 18.8 12 20.7 12 22.9 12 25.5 12 28.1 12 30.2 12 32.9 12 40.6 12 38.6 12 36.4 12 34.9 12 32.3 12 21.2 12 8.8 12 2.5 12 0.4 12 0.2 12 0.7 12 1.5 12 1.4 12 0.5 12-0.3 12-1.3 12-4.3 12-5.1 12-5.1 12-5.3 12-4.5 12-4.1 12-5.4 12-5.8 12-4.4 12-3.7 12-3.2 12-3 12-2.9 12-2.9 12-2.2 12-1.8 12-1.7 12-1.7 12-1.7 12-1.6 12-1.8 12-2.1 12-3 12-6.2 12-10.5 12-13.9 12-14.9 12-16 12-17 11-16.9" stroke="#161616"/>
<path d="M481.0 617.4l12-15.1 12-16.6 12-16.7 12-17.7 12-18.1 12-15.7 12-14.2 12-14.1 12-13.8 12-14 12-12.4 12-11.1 12-9.2 12-8 12-8.5 12-8.6 12-7.9 12-8.2 12-9 12-7.7 12-6 12-5.4 12-4.4 12-3.9 12-3.8 12-3.5 12 1.6 12 7.6 12 13.4 12 16.4 12 17.7 12 16.7 12 16.9 12 16.5 12 13.9 12 12.4 12 10.9 12 9.1 12 8.6 12 8.9 12 5.6 12 2.6 12-1.7 10-3.5 2-12.6 1-6.2 2-12.6 2.5 14 2.5 13.9 4-2 12-8.9 12-8.5 12-6.9 12-6.1 12-5.6 12-5.2 12-4.7 12-4 12-2.5 12-1.9 12-1.4 12-1.2 12-0.8 12-0.8 12-0.8 12-0.7 12-0.1 12 7.2 12 12.4 12 15.8 12 15.5 12 15 12 14.4 12 11.8 12 11.2 12 15.2 12 17 12 17.4 12 19.3 12 21.3 12 23 12 25.6 12 30.2 12 52.2 12 47.1 12 40.4 12 40.3 12 39.8 12 25.9 12 6.9 12 2.3 12 1.1 12 1 12 1.3 12 1.7 12 1.7 12 1.1 12 0 12-1.7 12-3.6 12-4 12-4.4 12-4.7 12-4.5 12-4.6 12-5.2 12-4.8 12-3.9 12-3.6 12-3.2 12-3.2 12-3.3 12-3.4 12-3 12-2.7 12-2.5 12-2.3 12-2.3 12-2.2 12-2.5 12-2.6 12-3.4 12-7.5 12-11.7 12-13.9 12-16.1 12-19.1 12-21.9 11-21.1" stroke="#e62222"/>
<path d="M481.0 713.6l12-15.4 12-17.8 12-17.9 12-18.5 12-18.2 12-16 12-14.4 12-13.7 12-13.2 12-13.2 12-12.2 12-11.3 12-9.5 12-8.4 12-8.4 12-8.3 12-7.8 12-8.6 12-10.6 12-8.4 12-6.4 12-5.7 12-5 12-4.4 12-4.2 12-3.8 12 0.3 12 5.4 12 11.8 12 14.7 12 16.3 12 14.6 12 15.3 12 16.6 12 14.4 12 12.9 12 10.8 12 9.1 12 8 12 7.6 12 4.8 12 1.8 12-1.8 5-1.6 4.8-8.2 2.2-4.4 1-2.3 4 2.2 4 1.9 3-2.4 12-9.7 12-9.4 12-7.9 12-7.2 12-6.3 12-5.3 12-4.7 12-4 12-2.1 12-1.5 12-0.9 12-0.5 12-0.3 12-0.1 12 0.1 12 0.6 12 1.4 12 7.4 12 12.2 12 16.3 12 16.2 12 16.4 12 16.5 12 12.3 12 10.7 12 15.6 12 17.7 12 19 12 21.1 12 23.3 12 25.3 12 27.7 12 31 12 45.1 12 41.9 12 37.6 12 36.9 12 35.4 12 23.1 12 7.8 12 2.3 12 0.7 12 0.8 12 1.2 12 2 12 2 12 1.3 12 0.5 12-0.9 12-3.3 12-3.9 12-4.2 12-4.4 12-3.9 12-3.8 12-4.9 12-5.1 12-3.9 12-3.6 12-3.2 12-3.1 12-3.1 12-3.4 12-2.7 12-2.4 12-2.4 12-2.2 12-2.2 12-2.2 12-2.4 12-2.5 12-3.4 12-7.1 12-11.2 12-14.2 12-15.7 12-17.5 12-19.3 11-19" stroke="#0000a0"/>
<path d="M481.0 512.4l12-12.7 12-13.6 12-13.9 12-15.6 12-16.9 12-14.4 12-13.5 12-14 12-14.4 12-15 12-12.9 12-11.4 12-9.5 12-8.6 12-9.6 12-9.9 12-9.2 12-8.7 12-8.4 12-7.7 12-6.4 12-5.5 12-4.4 12-3.5 12-3.5 12-2.8 12 3.4 12 10.6 12 16.1 12 19.3 12 20.4 12 20.4 12 20 12 17.9 12 14.7 12 13.4 12 11.9 12 10.1 12 9.7 12 10.4 12 6.2 12 3.4 12-2.2 12-5.1 12-7.4 12-9.5 12-9.1 12-7.4 12-6.5 12-6.3 12-6.1 12-5.9 12-5 12-3.6 12-2.9 12-2.4 12-2 12-1.6 12-1.4 12-1.5 12-1.6 6-0.8 4.2-5.9 1.8-2.6 1-1.6 3.5 5.3 3.5 6.8 4 3.7 12 13.4 12 16.4 12 15.4 12 14.5 12 12.7 12 12.3 12 12.4 12 15.6 12 16.7 12 16.2 12 17.6 12 19.3 12 20.2 12 23 12 28.7 12 59.7 12 52.5 12 42.8 12 43.6 12 44.2 12 28.7 12 5.2 12 1.8 12 1.1 12 1 12 1.2 12 1.6 12 1.4 12 1 12-0.1 12-2.7 12-3.7 12-3.8 12-4.5 12-4.9 12-5.1 12-5.5 12-5.4 12-4.5 12-3.8 12-3.5 12-3.2 12-3.1 12-3.1 12-3.1 12-2.9 12-2.6 12-2.2 12-1.7 12-1.6 12-1.5 12-1.8 12-1.8 12-2.4 12-7.3 12-11.2 12-12.9 12-15.8 12-20.2 12-24 11-22.8" stroke="#404080"/>
<path d="M481.0 571.2l12-13.8 12-15.1 12-15.2 12-16.5 12-17.3 9-11.3 3-6.4 3-6.4 4-8.4 5-0.5 5-0.6 7-7.9 12-13.6 12-14 12-12.3 12-11 12-9 12-8 12-8.8 12-9 12-8.3 12-8.4 12-8.7 12-7.7 12-6.2 12-5.4 12-4.4 12-3.7 12-3.6 12-3 12 2.4 12 8.9 12 14.6 12 17.6 12 18.8 12 18.3 12 18.1 12 17.1 12 14.3 12 12.9 12 11.3 12 9.6 12 9.1 12 9.5 12 5.9 12 2.9 12-1.9 12-4.7 12-7.3 12-9.4 12-9 12-7.4 12-6.6 12-6.3 12-5.9 12-5.6 12-4.8 12-3.3 12-2.7 12-2.3 12-1.9 12-1.4 12-1.3 12-1.2 12-1.1 12-0.4 12 7.7 12 13.2 12 16.6 12 16 12 15.3 12 14.4 12 12.7 12 12.3 12 15.9 12 17.5 12 17.5 12 19.1 12 20.9 12 22.3 12 24.8 12 29.9 12 55 12 49.1 12 41.2 12 41.5 12 41.3 12 26.7 12 6.1 12 1.8 12 0.7 12 0.5 12 0.7 12 1.1 12 0.9 12 0.3 12-0.8 12-3 12-4.4 12-4.6 12-5.2 12-5.5 12-5.3 12-5.5 12-5.7 12-5 12-4.2 12-3.7 12-3.4 12-3.3 12-3.2 12-3.3 12-2.9 12-2.7 12-2.2 12-2 12-1.7 12-1.8 12-2 12-2.1 12-2.7 12-7.3 12-11.3 12-13.3 12-15.9 12-19.6 12-22.8 11-22" stroke="#2222ee"/>
<path d="M481.0 560.1l12-13.1 12-14.4 12-14.5 12-15.9 12-16.7 12-14.3 12-13.2 12-13.4 12-13.5 1-0.7 6-11.6 4-7.4 1 0.3 4-0.6 5-0.6 3-2.5 12-10.7 12-8.9 12-7.9 12-8.6 12-9 12-8.4 12-8.5 12-9.1 12-8.1 12-6.7 12-6 12-5 12-4.4 12-4.4 12-3.9 12 1.6 12 8.3 12 13.9 12 17.1 12 18.4 12 18 12 17.9 12 16.7 12 13.9 12 12.5 12 10.9 12 9.3 12 8.8 12 9.4 12 5.6 12 2.8 12-2.1 12-5 12-7.3 12-9.4 12-8.9 12-7.2 12-6.4 12-5.9 12-5.6 12-5.2 12-4.4 12-2.8 12-2.2 12-1.7 12-1.2 12-0.9 12-0.7 12-0.6 12-0.6 12 0.1 12 8.3 12 13.8 12 17 12 16.5 12 15.7 12 14.6 12 13 12 12.7 12 16.2 12 17.7 12 17.7 12 19.2 12 21.1 12 22.3 12 24.9 12 29.8 12 55.2 12 49.2 12 41 12 41.3 12 41.2 12 26.5 12 5.6 12 1.5 12 0.5 12 0.4 12 0.7 12 1.1 12 1.1 12 0.4 12-0.6 12-2.7 12-4.3 12-4.4 12-5.1 12-5.4 12-5.2 12-5.6 12-5.7 12-5 12-4.2 12-3.8 12-3.5 12-3.3 12-3.4 12-3.4 12-3 12-2.7 12-2.4 12-2 12-1.9 12-1.9 12-2.1 12-2.2 12-3 12-7.4 12-11.4 12-13.6 12-16 12-19.9 12-23.3 11-22.3" stroke="#008080"/>
<path d="M481.4 494.8l8-8.7 8-10.4 8-12 8-14.9 8-14.7 8-12.3 8-10.4 8-6.4 8-4.8 8-6.7 8-10.1 8-11.3 7.9-11.4 8-12.1 8-10.9 8-8.5 8-7.3 8-6.8 8-6.9 8-6.7 8-6.5 8-6.2 8-6 8-5.9 8-5.5 7.9-5.7 8-14.8 8-14.7 8-0.9 8 10.4 8-9.8 8-6.3 8-3.2 8-1.7 8-1.3 8-2.4 8-3.5 8-3.1 7.9-2.6 8-1.3 8 1.1 8 2.8 8 6.3 8 10.1 8 12 8 13.1 8 13.8 8 14.6 8 14.3 8 13.6 8 12.7 7.9 11.2 8 9.8 8 9 8 8.6 8 8 8 6.8 8 5.9 8 5.1 8 4.5 8 4 8 3.3 8 3.1 8 1.8 7.9-3.8 8-1.7 8-1 8 0.2 8 11.6 8 0 8-1.3 8-7 8-9.8 8-8.6 8-3.5 8 0.5 7.9-0.1 8-1 8-0.3 8 0.1 8 0.9 8 1.4 8 0.3 8-0.8 8-1.3 8-1.2 8-1.1 8-0.9 8-0.9 7.9-0.9 8-1.1 8-0.9 8-0.5 8 4.1 8 7.4 8 9.8 8 11 8 11 8 10.5 8 10.1 8 9.4 8 8.8 7.9 8.5 8 8.4 8 8.5 8 10.3 8 11.2 8 11.5 8 11 8 11.5 8 12.3 8 13 8 13.5 8 14.1 8 15.2 7.9 16.8 8 20 8 37.2 8 39 8 33.8 8 28.7 8 28.1 8 28.7 8 30.4 8 25.1 8 17.5 8 4.5 8 2.1 7.9 1.1 8 0.7 8 0.6 8 0.5 8 0.7 8 0.8 8 0.9 8 0.9 8 0.7 8 0.4 8-0.2 8-0.7 8-2.2 7.9-2.6 8-2.7 8-2.8 8-3.2 8-3.4 8-3.4 8-3.5 8-3.6 8-3.8 8-3.8 8-3.5 8-3.1 7.9-2.7 8-2.5 8-2.4 8-2.3 8-2.2 8-2.1 8-2.2 8-2.2 8-2.1 8-2.1 8-1.9 8-1.7 8-1.6 7.9-1.4 8-1.2 8-1.1 8-1.1 8-1.1 8-1.2 8-1.3 8-1.2 8-1.5 8-2.6 8-5.3 8-7 8-8.1 7.9-8.9 8-10 8-11.7 8-13.7 8-15.5 8-16.4 8-16.7" stroke="#f14040" stroke-width="2.3"/>
<path d="M1225.8 339.5l8 5.8 8 7.3 7.9 9.4 8 11 8 11 8 11.8 7.9 10.7 8 8.6 8 7.6 8 7.8 7.9 7.7 8 8.2 8 9.6 8 10.7 7.9 10.6 8 10.2 8 10.5 8 10.8 7.9 11.1 8 11.7 8 12.1 8 13.2 7.9 15.6 8 18 8 18.5 8 18.8 7.9 19.4 8 19.8 8 20.2 8 22.6 7.9 27.3 8 24.5 8 18.4 8 10.7 7.9 6.2 8 4.2 8 2.7 8 1.4 7.9 0.9 8 1.4 8 2.2 8 2.1 7.9 1.6 8 1.5 8 1 8 0.1 7.9-1.6 8-2.7 8-2.6 8-2.6 7.9-2.8 8-2.9 8-2.9 8-2.9 7.9-3.2 8-3.7 8-3.2 8 1.8 7.9-4.5 8-4 8-2.5 7.9-2.2 8-2.4 8-2.4 8-2.3 7.9-5.6 8 3.2 8 0.4 8-2.1 7.9-2.2 8-2.5 8-2.5 8-2.2 7.9-1.9 8-1.6 8-1.4 8-1.2 7.9-0.9 8-1 8-1.3 8-1.9 7.9-2.4 8-3.3 8-4.5 8-5.7 7.9-7.9 8-9.5 8-11.7 8-15.9 7.9-19.3 8-22.6 8-22 8-20.7" stroke="#9a7468" stroke-width="2.3"/>
<path d="M481.0 501.8l8-8.7 8-9.1 8-9.4 8-9.4 8-9.9 8.1-10.8 8-11.5 8-10.6 8-9.6 8-9.1 8-9.2 8-9.6 8-9.7 8-10 8-10.1 8-9 8-8.2 8.1-7.5 8-6.5 8-6 8-5.7 8-6.5 8-6.7 8-6.8 8-6.3 8-6.1 8-5.8 8-5.7 8.1-5.5 8-5.2 8-4.6 8-4.2 8-3.7 8-3.2 8-2.8 8-2.4 8-2.6 8-2.5 8-1.7 8 1.8 8.1 4.3 8 8.2 8 10.4 8 12 8 13.1 8 13.6 8 13.6 8 13.7 8 13.9 8 11.2 8 10 8.1 9 8 7.5 8 5.5 8 3.9 8 3.3 8 2.8 8 2.3 8 1.8 8 1.7 8 1.7 8 1.4 8 1 8.1 0.4 8-3.4 8-2.4 8-1.8 8-1.7 8-1.8 8-2.2 8-2.9 8-3.2 8-3.5 8-3.4 8.1-3.1 8-3.1 8-3 8-3 8-2.6 8-2.2 8-2 8-1.8 8-1.6 8-1.4 8-1.2 8-0.9 8.1-0.8 8-0.7 8-0.7 8-0.9 8-1 8-1 8-1.2" stroke="#a0a040" stroke-width="2.3"/>
<path d="M481.0 513.2l8-8.7 8-9.1 8-9.4 8-9.3 8-10 8-10.7 8-11.5 8-10.7 8-9.5 7.9-9 8-9.3 8-9.5 8-9.7 8-10 8-10.1 8-9 8-8.2 8-7.5 8-6.5 8-6 8-5.7 8-6.5 8-6.7 8-6.7 8-6.4 8-6 8-5.9 7.9-5.7 8-5.5 8-5.2 8-4.6 8-4.2 8-3.8 8-3.2 8-2.7 8-2.5 8-2.6 8-2.5 8-1.8 8 1.6 8 4 8 8 8 10.2 8 11.9 8 13.1 8 13.4 7.9 13.7 8 13.6 8 13.5 8 12.6 8 11.4 8 9.9 8 9 8 8.5 8 8 8 7.1 8 6.5 8 6.3 8 6.8 8 6.9 8 4.6 8 3.2 8 1.9 8-1.1 8-2.4 7.9-3.9 8-4.7 8-5.6 8-6.6 8-6.3 8-5.5 8-4.7 8-4.4 8-4.2 8-4.1 8-4.2 8-4.2 8-4 8-3.5 8-3 8-2.4 8-2.2 8-1.9 7.9-1.7 8-1.5 8-1.2 8-1.1 8-1 8-0.9 8-1 8-1.2 8-1 8-0.7 8 3.8 8 7.3 8 9.4 8 10.7 8 10.7 8 10.2 8 9.8 8 8.9 8 8 7.9 8 8 8 8 8.2 8 9.7 8 10.4 8 10.8 8 10.2 8 10.5 8 11 8 11.6 8 11.9 8 12.4 8 13.4 8 15.2 8 18.2 8 27.7 8 28.5 8 25.2 7.9 22.2 8 22 8 22.9 8 25.9 8 23.6 8 18.6 8 8.6 8 4.9 8 3 8 2 8 1.2 8 0.8 8 1.2 8 1.5 8 1.7 8 1.4 8 1.1 8 0.9 8-0.2 7.9-0.9 8-2.7 8-2.6 8-2.7 8-2.7 8-3 8-3.1 8-3.1 8-3.4 8-3.4 8-3 8-2.1 8-2.6 8-4 8-2.6 8-2.4 8-2.3 8-2.2 8-3.2 7.9-4.3 8 1.2 8 0.4 8-2.4 8-2.2 8-2.2 8-2.3 8-2 8-1.7 8-1.4 8-1.3 8-1.2 8-0.9 8-1.1 8-1.3 8-1.7 8-2.1 8-3 7.9-4.9 8-6.4 8-7.9 8-9.4 8-11.4 8-14.1 8-17.7 8-20 8-20 8-18.6" stroke="#00cbcc" stroke-width="2.0"/>
<path d="M481.0 514.1l8-8.7 8-9.1 8-9.4 8-9.3 8-10 8-10.7 8-11.6 8-10.6 8-9.5 7.9-9.1 8-9.2 8-9.6 8-9.6 8-10 8-10.1 8-9 8-8.2 8-7.5 8-6.5 8-6 8-5.8 8-6.4 8-6.7 8-6.8 8-6.3 8-6.1 8-5.8 7.9-5.7 8-5.5 8-5.2 8-4.6 8-4.2 8-3.8 8-3.2 8-2.8 8-2.4 8-2.6 8-2.5 8-1.8 8 1.5 8 4 8 8.1 8 10.2 8 11.8 8 13.1 8 13.5 7.9 13.6 8 13.7 8 13.5 8 12.6 8 11.4 8 9.8 8 9.1 8 8.5 8 7.9 8 7.2 8 6.4 8 6.4 8 6.7 8 7 8 4.6 8 3.2 8 1.9 8-1.1 8-2.5 7.9-3.9 8-4.6 8-5.7 8-6.5 8-6.3 8-5.5 8-4.7 8-4.4 8-4.2 8-4.2 8-4.2 8-4.1 8-4 8-3.5 8-3 8-2.4 8-2.2 8-1.9 7.9-1.7 8-1.5 8-1.2 8-1.1 8-1 8-1 8-0.9 8-1.2 8-1.1 8-0.7 8 3.9 8 7.2 8 9.5 8 10.6 8 10.8 8 10.1 8 9.8 8 8.9 8 8 7.9 8 8 7.9 8 8.2 8 9.7 8 10.5 8 10.7 8 10.3 8 10.5 8 11 8 11.6 8 11.9 8 12.4 8 13.5 8 15.3 8 18.2 8 28.3 8 29.3 8 25.8 7.9 22.6 8 22.3 8 23.3 8 26.2 8 23.7 8 18.7 8 8.3 8 4.7 8 2.9 8 1.8 8 1.2 8 0.8 8 1.1 8 1.5 8 1.7 8 1.3 8 1.1 8 0.9 8-0.3 7.9-0.8 8-2.7 8-2.6 8-2.6 8-2.8 8-3 8-3.1 8-3.1 8-3.4 8-3.4 8-3.1 8-2.2 8-2.7 8-3.9 8-2.6 8-2.4 8-2.3 8-2.2 8-3.2 7.9-4.1 8 1 8 0.2 8-2.4 8-2.2 8-2.2 8-2.3 8-1.9 8-1.7 8-1.4 8-1.3 8-1.1 8-1 8-1.1 8-1.3 8-1.7 8-2 8-3 7.9-4.9 8-6.5 8-7.8 8-9.4 8-11.3 8-14 8-17.5 8-19.7 8-19.8 8-18.5" stroke="#c08a50" stroke-width="2.0"/>
<path d="M481.0 514.7l8-8.7 8-9.1 8-9.4 8-9.3 8-9.9 8-10.7 8-11.6 8-10.6 8-9.5 7.9-9.1 8-9.3 8-9.5 8-9.7 8-10 8-10.1 8-8.9 8-8.2 8-7.5 8-6.6 8-6 8-5.7 8-6.4 8-6.7 8-6.8 8-6.3 8-6.1 8-5.9 7.9-5.7 8-5.5 8-5.1 8-4.7 8-4.2 8-3.7 8-3.2 8-2.8 8-2.5 8-2.5 8-2.5 8-1.9 8 1.6 8 4 8 8 8 10.2 8 11.9 8 13.1 8 13.5 7.9 13.6 8 13.6 8 13.5 8 12.6 8 11.5 8 9.8 8 9.1 8 8.5 8 7.9 8 7.2 8 6.4 8 6.3 8 6.8 8 6.9 8 4.6 8 3.2 8 2 8-1.2 8-2.4 7.9-3.9 8-4.6 8-5.7 8-6.6 8-6.2 8-5.5 8-4.7 8-4.5 8-4.2 8-4.1 8-4.2 8-4.1 8-4 8-3.6 8-2.9 8-2.5 8-2.1 8-2 7.9-1.7 8-1.4 8-1.3 8-1.1 8-1 8-0.9 8-1 8-1.2 8-1 8-0.7 8 3.9 8 7.2 8 9.4 8 10.6 8 10.8 8 10.1 8 9.8 8 8.8 8 8 7.9 8 8 8 8 8.1 8 9.8 8 10.4 8 10.8 8 10.2 8 10.5 8 11 8 11.7 8 12 8 12.4 8 13.5 8 15.3 8 18.3 8 28.7 8 29.9 8 26.2 7.9 22.9 8 22.6 8 23.6 8 26.4 8 23.8 8 18.6 8 8.2 8 4.5 8 2.8 8 1.8 8 1.2 8 0.7 8 1.2 8 1.4 8 1.6 8 1.3 8 1.1 8 0.8 8-0.2 7.9-0.8 8-2.7 8-2.6 8-2.6 8-2.8 8-3 8-3.1 8-3.1 8-3.5 8-3.3 8-3.2 8-2.2 8-2.8 8-3.8 8-2.7 8-2.4 8-2.3 8-2.2 8-3.1 7.9-4 8 0.8 8 0.1 8-2.4 8-2.2 8-2.2 8-2.2 8-2 8-1.6 8-1.4 8-1.3 8-1.1 8-1 8-1.1 8-1.3 8-1.7 8-1.9 8-3 7.9-5 8-6.4 8-8 8-9.3 8-11.2 8-13.9 8-17.3 8-19.5 8-19.7 8-18.4" stroke="#40b8c0" stroke-width="2.0"/>
<path d="M481.0 517.6l8-8.7 8-9.1 8-9.4 8-9.3 8-10 8-10.7 8-11.5 8-10.7 8-9.5 7.9-9 8-9.3 8-9.5 8-9.7 8-10 8-10.1 8-9 8-8.2 8-7.5 8-6.5 8-6 8-5.7 8-6.5 8-6.7 8-6.7 8-6.4 8-6 8-5.9 7.9-5.7 8-5.5 8-5.2 8-4.6 8-4.2 8-3.8 8-3.2 8-2.7 8-2.5 8-2.6 8-2.5 8-1.8 8 1.6 8 4 8 8 8 10.2 8 11.9 8 13.1 8 13.4 7.9 13.7 8 13.6 8 13.5 8 12.6 8 11.4 8 9.9 8 9 8 8.5 8 8 8 7.1 8 6.5 8 6.3 8 6.8 8 6.9 8 4.6 8 3.2 8 1.9 8-1.1 8-2.4 7.9-3.9 8-4.7 8-5.6 8-6.6 8-6.3 8-5.5 8-4.7 8-4.4 8-4.2 8-4.1 8-4.2 8-4.2 8-4 8-3.5 8-3 8-2.4 8-2.2 8-1.9 7.9-1.7 8-1.5 8-1.2 8-1.1 8-1 8-0.9 8-1 8-1.2 8-1 8-0.7 8 3.8 8 7.1 8 9.4 8 10.6 8 10.7 8 10.1 8 9.7 8 8.8 8 8 7.9 7.9 8 8 8 8.1 8 9.7 8 10.5 8 10.8 8 10.2 8 10.6 8 11 8 11.8 8 12.1 8 12.5 8 13.7 8 15.4 8 18.5 8 30.8 8 32.2 8 28.1 7.9 24.3 8 23.8 8 24.8 8 27.3 8 24.3 8 18.5 8 7.3 8 3.9 8 2.4 8 1.6 8 1 8 0.7 8 1 8 1.3 8 1.5 8 1.2 8 1 8 0.7 8-0.2 7.9-0.8 8-2.6 8-2.6 8-2.7 8-2.7 8-3 8-3.2 8-3.2 8-3.5 8-3.4 8-3.4 8-2.6 8-2.9 8-3.6 8-2.7 8-2.4 8-2.4 8-2.2 8-2.9 7.9-3.6 8 0.1 8-0.2 8-2.5 8-2.2 8-2.1 8-2.2 8-1.8 8-1.6 8-1.4 8-1.2 8-1.1 8-1 8-1.2 8-1.3 8-1.5 8-1.8 8-2.9 7.9-5.1 8-6.6 8-8 8-9.2 8-10.9 8-13.4 8-16.6 8-18.6 8-19 8-18.2" stroke="#00b0b0" stroke-width="2.0"/>
<path d="M481.0 518.5l8-8.7 8-9.1 8-9.4 8-9.3 8-10 8-10.7 8-11.6 8-10.6 8-9.5 7.9-9.1 8-9.2 8-9.6 8-9.6 8-10 8-10.1 8-9 8-8.2 8-7.5 8-6.5 8-6 8-5.8 8-6.4 8-6.7 8-6.8 8-6.3 8-6.1 8-5.8 7.9-5.7 8-5.5 8-5.2 8-4.6 8-4.2 8-3.8 8-3.2 8-2.8 8-2.4 8-2.6 8-2.5 8-1.8 8 1.5 8 4 8 8.1 8 10.2 8 11.8 8 13.1 8 13.5 7.9 13.6 8 13.7 8 13.5 8 12.6 8 11.4 8 9.8 8 9.1 8 8.5 8 7.9 8 7.2 8 6.4 8 6.4 8 6.7 8 7 8 4.6 8 3.2 8 1.9 8-1.1 8-2.5 7.9-3.9 8-4.6 8-5.7 8-6.5 8-6.3 8-5.5 8-4.7 8-4.4 8-4.2 8-4.2 8-4.2 8-4.1 8-4 8-3.5 8-3 8-2.4 8-2.2 8-1.9 7.9-1.7 8-1.5 8-1.2 8-1.1 8-1 8-1 8-0.9 8-1.2 8-1.1 8-0.7 8 3.9 8 7.1 8 9.4 8 10.6 8 10.6 8 10.1 8 9.6 8 8.8 8 8 7.9 8 8 7.9 8 8.2 8 9.7 8 10.4 8 10.8 8 10.3 8 10.5 8 11.1 8 11.8 8 12.1 8 12.6 8 13.7 8 15.5 8 18.5 8 31.4 8 32.9 8 28.7 7.9 24.7 8 24.3 8 25.1 8 27.7 8 24.4 8 18.4 8 7 8 3.8 8 2.2 8 1.5 8 1 8 0.7 8 1 8 1.2 8 1.5 8 1.1 8 1 8 0.7 8-0.2 7.9-0.9 8-2.5 8-2.6 8-2.7 8-2.7 8-3 8-3.2 8-3.3 8-3.4 8-3.5 8-3.4 8-2.7 8-3 8-3.6 8-2.6 8-2.4 8-2.4 8-2.2 8-2.9 7.9-3.4 8-0.1 8-0.5 8-2.4 8-2.2 8-2.1 8-2.1 8-1.8 8-1.6 8-1.3 8-1.3 8-1.1 8-1 8-1.2 8-1.2 8-1.5 8-1.9 8-2.8 7.9-5.1 8-6.7 8-8 8-9.1 8-10.9 8-13.3 8-16.2 8-18.4 8-18.8 8-18.1" stroke="#8a6a6a" stroke-width="2.0"/>
<path d="M481.0 522.4l8-8.7 8-9.1 8-9.4 8-9.3 8-9.9 8-10.7 8-11.6 8-10.6 8-9.5 7.9-9.1 8-9.3 8-9.5 8-9.7 8-10 8-10.1 8-8.9 8-8.2 8-7.5 8-6.6 8-6 8-5.7 8-6.4 8-6.7 8-6.8 8-6.3 8-6.1 8-5.9 7.9-5.7 8-5.5 8-5.1 8-4.7 8-4.2 8-3.7 8-3.2 8-2.8 8-2.5 8-2.5 8-2.5 8-1.9 8 1.6 8 4 8 8 8 10.2 8 11.9 8 13.1 8 13.5 7.9 13.6 8 13.6 8 13.5 8 12.6 8 11.5 8 9.8 8 9.1 8 8.5 8 7.9 8 7.2 8 6.4 8 6.3 8 6.8 8 6.9 8 4.6 8 3.2 8 2 8-1.2 8-2.4 7.9-3.9 8-4.6 8-5.7 8-6.6 8-6.2 8-5.5 8-4.7 8-4.5 8-4.2 8-4.1 8-4.2 8-4.1 8-4 8-3.6 8-2.9 8-2.5 8-2.1 8-2 7.9-1.7 8-1.4 8-1.3 8-1.1 8-1 8-0.9 8-1 8-1.2 8-1 8-0.7 8 3.8 8 7.1 8 9.3 8 10.5 8 10.6 8 10 8 9.5 8 8.7 8 8 7.9 7.9 8 7.9 8 8.2 8 9.7 8 10.5 8 10.8 8 10.2 8 10.6 8 11.2 8 11.9 8 12.3 8 12.8 8 13.9 8 15.6 8 18.8 8 34.2 8 36.2 8 31.3 7.9 26.6 8 25.9 8 26.9 8 28.9 8 25 8 18.3 8 5.8 8 2.9 8 1.7 8 1.2 8 0.8 8 0.6 8 0.9 8 1 8 1.2 8 1 8 0.8 8 0.6 8-0.2 7.9-0.8 8-2.4 8-2.6 8-2.7 8-2.7 8-3.1 8-3.2 8-3.4 8-3.5 8-3.5 8-3.7 8-3.2 8-3.2 8-3.3 8-2.7 8-2.5 8-2.3 8-2.2 8-2.6 7.9-2.8 8-1.1 8-1.4 8-2.2 8-2.1 8-2.1 8-1.9 8-1.8 8-1.4 8-1.3 8-1.2 8-1.1 8-1.1 8-1.1 8-1.3 8-1.4 8-1.6 8-2.8 7.9-5.2 8-6.8 8-8.1 8-9 8-10.5 8-12.6 8-15.2 8-17.3 8-17.8 8-17.6" stroke="#7a40a0" stroke-width="2.0"/>
<path d="M481.0 524.6l8-8.7 8-9.1 8-9.4 8-9.3 8-9.9 8-10.7 8-11.6 8-10.6 8-9.5 7.9-9.1 8-9.3 8-9.5 8-9.7 8-10 8-10.1 8-8.9 8-8.2 8-7.5 8-6.6 8-6 8-5.7 8-6.4 8-6.7 8-6.8 8-6.3 8-6.1 8-5.9 7.9-5.7 8-5.5 8-5.1 8-4.7 8-4.2 8-3.7 8-3.2 8-2.8 8-2.5 8-2.5 8-2.5 8-1.9 8 1.6 8 4 8 8 8 10.2 8 11.9 8 13.1 8 13.5 7.9 13.6 8 13.6 8 13.5 8 12.6 8 11.5 8 9.8 8 9.1 8 8.5 8 7.9 8 7.2 8 6.4 8 6.3 8 6.8 8 6.9 8 4.6 8 3.2 8 2 8-1.2 8-2.4 7.9-3.9 8-4.6 8-5.7 8-6.6 8-6.2 8-5.5 8-4.7 8-4.5 8-4.2 8-4.1 8-4.2 8-4.1 8-4 8-3.6 8-2.9 8-2.5 8-2.1 8-2 7.9-1.7 8-1.4 8-1.3 8-1.1 8-1 8-0.9 8-1 8-1.2 8-1 8-0.7 8 3.8 8 7 8 9.3 8 10.5 8 10.5 8 9.9 8 9.5 8 8.7 8 7.9 7.9 7.9 8 7.9 8 8.2 8 9.7 8 10.5 8 10.8 8 10.3 8 10.6 8 11.2 8 12 8 12.4 8 12.9 8 14 8 15.7 8 19 8 35.6 8 38.1 8 32.8 7.9 27.6 8 26.9 8 27.8 8 29.7 8 25.3 8 18.2 8 5.2 8 2.4 8 1.3 8 1 8 0.7 8 0.6 8 0.8 8 0.9 8 1.1 8 0.9 8 0.8 8 0.5 8-0.2 7.9-0.8 8-2.4 8-2.5 8-2.7 8-2.7 8-3.2 8-3.3 8-3.4 8-3.4 8-3.7 8-3.7 8-3.6 8-3.3 8-3.1 8-2.7 8-2.5 8-2.4 8-2.2 8-2.4 7.9-2.5 8-1.6 8-1.8 8-2.2 8-2.1 8-2 8-1.9 8-1.7 8-1.4 8-1.2 8-1.2 8-1.1 8-1 8-1.3 8-1.2 8-1.3 8-1.6 8-2.6 7.9-5.3 8-7 8-8.1 8-8.9 8-10.3 8-12.2 8-14.6 8-16.6 8-17.4 8-17.3" stroke="#808080" stroke-width="2.0"/>
</g>
<g stroke="#141414" stroke-width="6.0" fill="none" stroke-linecap="butt">
<rect x="315.1" y="60.6" width="1772.4" height="1311.9"/>
</g>
<g stroke="#141414" stroke-width="5.6" stroke-linecap="butt">
<line x1="286.1" y1="1372.5" x2="315.1" y2="1372.5"/>
<line x1="286.1" y1="997.7" x2="315.1" y2="997.7"/>
<line x1="286.1" y1="622.8" x2="315.1" y2="622.8"/>
<line x1="286.1" y1="248.0" x2="315.1" y2="248.0"/>
<line x1="300.1" y1="1185.1" x2="315.1" y2="1185.1"/>
<line x1="300.1" y1="810.3" x2="315.1" y2="810.3"/>
<line x1="300.1" y1="435.4" x2="315.1" y2="435.4"/>
<line x1="300.1" y1="60.6" x2="315.1" y2="60.6"/>
<line x1="315.1" y1="1372.5" x2="315.1" y2="1401.0"/>
<line x1="536.7" y1="1372.5" x2="536.7" y2="1401.0"/>
<line x1="758.2" y1="1372.5" x2="758.2" y2="1401.0"/>
<line x1="979.8" y1="1372.5" x2="979.8" y2="1401.0"/>
<line x1="1201.3" y1="1372.5" x2="1201.3" y2="1401.0"/>
<line x1="1422.8" y1="1372.5" x2="1422.8" y2="1401.0"/>
<line x1="1644.4" y1="1372.5" x2="1644.4" y2="1401.0"/>
<line x1="1865.9" y1="1372.5" x2="1865.9" y2="1401.0"/>
<line x1="2087.5" y1="1372.5" x2="2087.5" y2="1401.0"/>
<line x1="425.9" y1="1372.5" x2="425.9" y2="1387.0"/>
<line x1="647.4" y1="1372.5" x2="647.4" y2="1387.0"/>
<line x1="869.0" y1="1372.5" x2="869.0" y2="1387.0"/>
<line x1="1090.5" y1="1372.5" x2="1090.5" y2="1387.0"/>
<line x1="1312.1" y1="1372.5" x2="1312.1" y2="1387.0"/>
<line x1="1533.6" y1="1372.5" x2="1533.6" y2="1387.0"/>
<line x1="1755.2" y1="1372.5" x2="1755.2" y2="1387.0"/>
<line x1="1976.7" y1="1372.5" x2="1976.7" y2="1387.0"/>
</g>
<g font-family='"Liberation Serif","Times New Roman",serif' font-size="58.5" fill="#1e1e1e">
<text x="315.1" y="1460.0" text-anchor="middle">900</text>
<text x="536.7" y="1460.0" text-anchor="middle">1000</text>
<text x="758.2" y="1460.0" text-anchor="middle">1100</text>
<text x="979.8" y="1460.0" text-anchor="middle">1200</text>
<text x="1201.3" y="1460.0" text-anchor="middle">1300</text>
<text x="1422.8" y="1460.0" text-anchor="middle">1400</text>
<text x="1644.4" y="1460.0" text-anchor="middle">1500</text>
<text x="1865.9" y="1460.0" text-anchor="middle">1600</text>
<text x="2087.5" y="1460.0" text-anchor="middle">1700</text>
<text x="270.5" y="1389.0" text-anchor="end">0.0</text>
<text x="270.5" y="1014.2" text-anchor="end">0.2</text>
<text x="270.5" y="639.3" text-anchor="end">0.4</text>
<text x="270.5" y="264.5" text-anchor="end">0.6</text>
</g>
<g font-family='"Liberation Serif","Times New Roman",serif' font-size="70.5" fill="#1e1e1e">
<text x="1204" y="1572.0" text-anchor="middle">Wavelength(nm)</text>
<text transform="translate(92.5 762.0) rotate(-90)" text-anchor="middle">Reflectance</text>
</g>
<text x="1151.5" y="1762" text-anchor="middle" font-family='"Liberation Serif","Times New Roman",serif' font-size="81.5" fill="#000">(<tspan font-weight="bold">a</tspan>)</text>
<g fill="none" stroke-width="2.8" stroke-linejoin="round">
<path d="M480.9 2361.0l5-4.2 5-6.4 5-9 5-9.5 5-9 5-8.7 5-8.8 5.1-8.7 5-8.8 5-8.7 5-6.3 5-4 5-4.3 5-6.3 5-6.4 5-6.5 5-6.7 5-6.7 5-6.7 5-6.5 5-6.2 5-5.9 5-6.3 5-6.8 5-6.4 5-5.4 5.1-4.6 5-4.1 5-3.9 5-3.8 5-3.9 5-4.1 5-4.2 5-4.2 5-4.3 5-4.3 5-4.4 5-4.6 5-4.6 5-4.6 5-4.6 5-4.8 5-4.7 5-4 5-2.8 5.1-2.2 5-2.1 5-2.1 5-2.1 5-2.1 5-2.1 5-1.8 5-1.6 5-1.6 5-2.4 5-3.3 5-3.1 5-1.6 5-1.2 5-1.2 5-1.2 5-1.2 5-1.2 5-1.2 5.1-0.7 5 0.9 5 1.8 5 2.5 5 4.2 5 5.6 5 6 5 6.1 5 6.3 5 6.8 5 7.8 5 9.2 5 9.4 5 8.9 5 8.4 5 8 5 7.1 5 6 5 6.1 5.1 7.5 5 7.6 5 6.6 5 6.2 5 5.9 5 5.7 5 5.5 5 5.8 5 6.3 5 6.2 5 5.8 5 4.6 5 3.5 5 2.8 5 2.5 5 1.9 5 1.2 5 0.6 5-0.1 5.1-0.5 5-1 5-1.6 5-2.1 5-3 5-3.7 5-4.1 5-4.4 5-4.8 5-5 5-5.1 5-4.9 5-4.7 5-4.6 5-4.3 5-4 5-3.6 5-3.4 5-3.1 5.1-2.9 5-2.8 5-2.6 5-2.4 5-2.2 5-2.1 5-1.9 5-1.6 5-1.4 5-1.1 5-0.9 5-0.7 5-0.5 5-0.2 5-0.2 5-0.2 5-0.2 5-0.3 5-0.3 5.1-0.3 5-0.3 5-0.1 5-0.2 5-0.1 5 0 5 0 5 0.2 5 0.9 5 2.3 5 3.6 5 4 5 4.5 5 4.9 5 5.3 5 6 5 7 5 8.4 5 9.7 5.1 9.9 5 9.2 5 8.5 5 8.5 5 8.5 5 8.5 5 8.3 5 8.5 5 8.9 5 9 5 9 5 9.1 5 9 5 9 5 9 5 9.1 5 9.4 5 9.7 5 9.7 5.1 10.3 5 11 5 11.7 5 12.2 5 12.9 5 14.7 5 16.1 5 17.2 5 18.1 5 19.3 5 20.2 5 20.9 5 21.7 5 23 5 22.5 5 20.2 5 18.6 5 17.8 5 17.2 5.1 16 5 14.1 5 10.9 5 8.5 5 6.9 5 4.9 5 3.6 5 1.9 5 1.2 5 0.6 5-0.1 5-0.2 5 0.3 5 0.9 5 1.3 5 1.8 5 2 5 2.1 5 1.7 5 1.6 5.1 1.3 5 0.8 5 0.2 5 0 5-0.3 5-0.8 5-1.5 5-2.3 5-2.9 5-3.3 5-3 5-2.7 5-2.5 5-2.3 5-2 5-1.9 5-2 5-2.3 5-2.4 5.1-2.6 5-3 5-3 5-3 5-3 5-3 5-3 5-3 5-2.8 5-2.4 5-1.9 5-1.1 5 0.2 5-1.6 5-1.7 5-1.8 5-1.7 5-1.6 5-1.3 5.1-1.2 5-1.1 5-1.2 5-1.3 5-1.5 5-1.7 5-1.8 5-1.9 5-1.8 5-1.7 5-1.6 5-1.5 5-1.5 5-1.5 5-1.4 5-1.4 5-1.2 5-1 5-1.1 5.1-1.1 5-1.3 5-1.6 5-1.8 5-1.9 5-2.4 5-2.8 5-3.5 5-4.6 5-5.4 5-6.1 5-6.7 5-7.2 5-7.4 5-8.6 5-9.9 5-10 5-10 5-10.1 5.1-10 5-9.8 5-8.2 5-7.2" stroke="#0000ff"/>
<path d="M480.9 2381.2l5-4.9 5-7.2 5-9.9 5-10 5-10 5-10 5-10 5.1-10 5-10 5-10 5-7.3 5-4.8 5-5.3 5-7.8 5-8.1 5-8 5-7.9 5-7.8 5-7.8 5-7.7 5-7.8 5-7.8 5-7.7 5-6.9 5-5.9 5-5.3 5.1-4.8 5-4.3 5-4.3 5-4.3 5-4.3 5-4.3 5-4.2 5-4.3 5-4.3 5-4.3 5-4.3 5-5 5-5.7 5-5.7 5-5.5 5-5.3 5-5.2 5-4.9 5-4.4 5.1-3.6 5-2.8 5-2.6 5-2.6 5-2.5 5-2.4 5-2 5-1.9 5-2 5-2.9 5-4.2 5-3.8 5-2 5-1.5 5-1.5 5-1.5 5-1.5 5-1.5 5-1.5 5.1-1 5 0.9 5 2.3 5 3.2 5 4.1 5 4.8 5 5.2 5 5.7 5 6.2 5 7.1 5 8.1 5 8.5 5 8.6 5 8.6 5 8.9 5 8.8 5 7.7 5 5 5 5.3 5.1 7.5 5 7.5 5 6.5 5 6.3 5 5.9 5 5.7 5 5.6 5 5.7 5 6.2 5 6.3 5 5.9 5 4.9 5 4 5 3 5 2.2 5 1.5 5 0.8 5 0.3 5-0.1 5.1-0.7 5-1.2 5-1.5 5-2.1 5-3 5-4.1 5-4.4 5-4.6 5-4.9 5-5.1 5-5 5-5 5-4.7 5-4.5 5-4.3 5-4.2 5-3.9 5-3.5 5-3.2 5.1-2.9 5-2.7 5-2.7 5-2.6 5-2.5 5-2.5 5-2.3 5-1.9 5-1.7 5-1.3 5-1.2 5-0.9 5-0.6 5-0.4 5-0.4 5-0.4 5-0.4 5-0.4 5-0.4 5.1-0.4 5-0.3 5-0.3 5-0.3 5-0.2 5-0.2 5-0.2 5 0 5 1.3 5 2.4 5 3.4 5 4 5 4.5 5 5 5 5.7 5 6.5 5 7.6 5 8.7 5 9.7 5.1 9.9 5 9.1 5 8.5 5 8.5 5 8.5 5 8.5 5 8.5 5 8.5 5 8.5 5 8.5 5 8.5 5 8.6 5 8.6 5 9 5 9.3 5 9.4 5 9.9 5 10.2 5 10.4 5.1 10.8 5 11.1 5 11.3 5 11.8 5 12.6 5 13.7 5 15.7 5 17.7 5 19 5 19.5 5 19.7 5 20.1 5 21.1 5 22.9 5 22.8 5 21.2 5 20 5 19 5 17.4 5.1 15.7 5 14.3 5 12 5 8.8 5 6.8 5 5.3 5 4.5 5 2.7 5 1.7 5 0.8 5 0 5-0.3 5 0.3 5 1 5 1.3 5 1.7 5 1.9 5 1.9 5 1.7 5 1.7 5.1 1.5 5 1 5 0.3 5 0.1 5 0.1 5-0.9 5-2.6 5-2.8 5-2.9 5-2.9 5-2.9 5-2.7 5-2.4 5-2.3 5-2.2 5-2.1 5-2.3 5-2.5 5-2.5 5.1-2.5 5-2.5 5-2.5 5-2.5 5-2.5 5-2.7 5-2.9 5-2.9 5-2.6 5-2.1 5-1.8 5-0.7 5 0.6 5-1.4 5-1.5 5-1.6 5-1.5 5-1.5 5-1.4 5.1-1.3 5-1.3 5-1.3 5-1.4 5-1.5 5-1.6 5-1.6 5-1.8 5-1.7 5-1.6 5-1.5 5-1.5 5-1.5 5-1.5 5-1.3 5-1.3 5-1.2 5-1.1 5-1.1 5.1-1.1 5-1.2 5-1.2 5-1.4 5-1.5 5-2.5 5-3.3 5-4 5-5 5-6 5-6.7 5-7.2 5-7.5 5-7.8 5-8.3 5-9.1 5-9.8 5-9.4 5-8.8 5.1-8.4 5-7.9 5-6.9 5-6.1" stroke="#ff0000"/>
<path d="M480.9 2273.0l5-3.9 5-6.1 5-9 5-9.5 5-8.9 5-8.8 5-8.7 5.1-9.2 5-9.7 5-9.1 5-6 5-3.8 5-4.5 5-7.2 5-7.7 5-7.7 5-6.9 5-6.7 5-6.6 5-6.7 5-6.7 5-6.7 5-6.8 5-8.9 5-7.5 5-5.5 5.1-4.5 5-3.9 5-3.4 5-3.1 5-3.5 5-4.1 5-4.8 5-5.1 5-5.2 5-5.1 5-4.7 5-4.6 5-4.6 5-4.6 5-4.5 5-4.6 5-4.6 5-4.6 5-4.5 5.1-2.7 5-1.4 5-2.2 5-2.5 5-2.5 5-2.5 5-1.9 5-1.6 5-1.7 5-2.8 5-3.9 5-3.6 5-1.9 5-0.9 5-0.7 5-0.9 5-1.4 5-1.6 5-1.3 5.1-0.5 5 1.4 5 2.4 5 3.6 5 4.7 5 5.5 5 6.2 5 6.5 5 7 5 8.2 5 9.8 5 10 5 10.1 5 10 5 10 5 10 5 9.4 5 7 5 7.1 5.1 9.2 5 9.2 5 7.5 5 6.8 5 6.4 5 6.1 5 6 5 5.6 5 5.3 5 5.3 5 5.1 5 5 5 4.9 5 4.5 5 4 5 2.6 5 1.7 5 0.9 5-0.1 5.1-0.7 5-1.1 5-1.7 5-2.1 5-3 5-3.8 5-4.3 5-4.8 5-5.2 5-5.6 5-5.6 5-5.4 5-5.2 5-5.1 5-4.8 5-4.5 5-4.1 5-3.8 5-3.7 5.1-3.5 5-3.3 5-3 5-2.7 5-2.6 5-2.3 5-2.2 5-2 5-1.9 5-1.5 5-1.3 5-1 5-0.6 5-0.4 5-0.4 5-0.4 5-0.4 5-0.4 5-0.4 5.1-0.4 5-0.4 5-0.3 5-0.2 5-0.2 5 0 5 0.1 5 0.2 5 1.2 5 2.8 5 4.2 5 4.5 5 5 5 5.4 5 6 5 7 5 8.2 5 9.5 5 10.6 5.1 10.9 5 10.2 5 9.6 5 9.6 5 9.4 5 9.1 5 8.9 5 9 5 9.2 5 9.4 5 9.6 5 9.6 5 9.8 5 10 5 10.1 5 10.4 5 10.8 5 11.2 5 11.6 5.1 12 5 12.1 5 12.1 5 11.5 5 12.3 5 14.5 5 15.9 5 16.8 5 18 5 19.4 5 20.6 5 21.6 5 22.9 5 24.1 5 23.8 5 22.4 5 21.3 5 20.3 5 18.8 5.1 17 5 15.1 5 12.6 5 10.4 5 8.6 5 6.3 5 4.6 5 3.4 5 2.5 5 1.3 5-0.3 5-0.9 5-0.1 5 0.8 5 1.1 5 1.7 5 2.1 5 2 5 1.8 5 1.7 5.1 1.5 5 1 5 0.5 5 0.2 5-0.3 5-1 5-2 5-2.6 5-3 5-3.2 5-3.1 5-2.7 5-2.5 5-2.3 5-1.9 5-1.9 5-2.1 5-2.7 5-3.2 5.1-3.1 5-2.7 5-2.5 5-2.4 5-2.6 5-3 5-3.1 5-3 5-2.4 5-1.9 5-1.8 5-2.5 5-2.8 5-1.5 5-1.5 5-1.4 5-1.3 5-1.3 5-1.3 5.1-1.2 5-1.2 5-1.2 5-1.3 5-1.4 5-1.6 5-1.9 5-1.9 5-1.8 5-1.7 5-1.4 5-1.4 5-1.4 5-1.3 5-1.3 5-1.2 5-1.2 5-1.1 5-1.1 5.1-1.1 5-1.2 5-1.4 5-1.6 5-1.9 5-2.7 5-3.6 5-4.3 5-5.1 5-5.6 5-6.1 5-6.7 5-7.3 5-8.1 5-9.1 5-10.2 5-10.5 5-10.7 5-11.1 5.1-11.1 5-10.5 5-8.9 5-7.6" stroke="#000000"/>
</g>
<g stroke="#141414" stroke-width="6.0" fill="none" stroke-linecap="butt">
<rect x="315.1" y="1851.7" width="1772.4" height="1310.5"/>
</g>
<g stroke="#141414" stroke-width="5.6" stroke-linecap="butt">
<line x1="286.1" y1="3162.2" x2="315.1" y2="3162.2"/>
<line x1="286.1" y1="2934.2" x2="315.1" y2="2934.2"/>
<line x1="286.1" y1="2706.1" x2="315.1" y2="2706.1"/>
<line x1="286.1" y1="2478.1" x2="315.1" y2="2478.1"/>
<line x1="286.1" y1="2250.0" x2="315.1" y2="2250.0"/>
<line x1="286.1" y1="2022.0" x2="315.1" y2="2022.0"/>
<line x1="300.1" y1="3048.2" x2="315.1" y2="3048.2"/>
<line x1="300.1" y1="2820.1" x2="315.1" y2="2820.1"/>
<line x1="300.1" y1="2592.1" x2="315.1" y2="2592.1"/>
<line x1="300.1" y1="2364.1" x2="315.1" y2="2364.1"/>
<line x1="300.1" y1="2136.0" x2="315.1" y2="2136.0"/>
<line x1="300.1" y1="1908.0" x2="315.1" y2="1908.0"/>
<line x1="315.1" y1="3162.2" x2="315.1" y2="3190.7"/>
<line x1="536.7" y1="3162.2" x2="536.7" y2="3190.7"/>
<line x1="758.2" y1="3162.2" x2="758.2" y2="3190.7"/>
<line x1="979.8" y1="3162.2" x2="979.8" y2="3190.7"/>
<line x1="1201.3" y1="3162.2" x2="1201.3" y2="3190.7"/>
<line x1="1422.8" y1="3162.2" x2="1422.8" y2="3190.7"/>
<line x1="1644.4" y1="3162.2" x2="1644.4" y2="3190.7"/>
<line x1="1865.9" y1="3162.2" x2="1865.9" y2="3190.7"/>
<line x1="2087.5" y1="3162.2" x2="2087.5" y2="3190.7"/>
<line x1="425.9" y1="3162.2" x2="425.9" y2="3176.7"/>
<line x1="647.4" y1="3162.2" x2="647.4" y2="3176.7"/>
<line x1="869.0" y1="3162.2" x2="869.0" y2="3176.7"/>
<line x1="1090.5" y1="3162.2" x2="1090.5" y2="3176.7"/>
<line x1="1312.1" y1="3162.2" x2="1312.1" y2="3176.7"/>
<line x1="1533.6" y1="3162.2" x2="1533.6" y2="3176.7"/>
<line x1="1755.2" y1="3162.2" x2="1755.2" y2="3176.7"/>
<line x1="1976.7" y1="3162.2" x2="1976.7" y2="3176.7"/>
</g>
<g font-family='"Liberation Serif","Times New Roman",serif' font-size="58.5" fill="#1e1e1e">
<text x="315.1" y="3250.0" text-anchor="middle">900</text>
<text x="536.7" y="3250.0" text-anchor="middle">1000</text>
<text x="758.2" y="3250.0" text-anchor="middle">1100</text>
<text x="979.8" y="3250.0" text-anchor="middle">1200</text>
<text x="1201.3" y="3250.0" text-anchor="middle">1300</text>
<text x="1422.8" y="3250.0" text-anchor="middle">1400</text>
<text x="1644.4" y="3250.0" text-anchor="middle">1500</text>
<text x="1865.9" y="3250.0" text-anchor="middle">1600</text>
<text x="2087.5" y="3250.0" text-anchor="middle">1700</text>
<text x="270.5" y="3178.7" text-anchor="end">0.0</text>
<text x="270.5" y="2950.7" text-anchor="end">0.1</text>
<text x="270.5" y="2722.6" text-anchor="end">0.2</text>
<text x="270.5" y="2494.6" text-anchor="end">0.3</text>
<text x="270.5" y="2266.5" text-anchor="end">0.4</text>
<text x="270.5" y="2038.5" text-anchor="end">0.5</text>
</g>
<g font-family='"Liberation Serif","Times New Roman",serif' font-size="70.5" fill="#1e1e1e">
<text x="1204" y="3362.0" text-anchor="middle">Wavelength(nm)</text>
<text transform="translate(92.5 2552.0) rotate(-90)" text-anchor="middle">Reflectance</text>
</g>
<rect x="1347" y="1877.5" width="720.5" height="258.5" fill="#fff" stroke="#3a3a3a" stroke-width="2.2"/>
<g stroke-width="2.8">
<line x1="1370.5" y1="1925.0" x2="1529" y2="1925.0" stroke="#000"/>
<line x1="1370.5" y1="2009.7" x2="1529" y2="2009.7" stroke="#f00"/>
<line x1="1370.5" y1="2097.8" x2="1529" y2="2097.8" stroke="#00f"/>
</g>
<g font-family='"Liberation Serif","Times New Roman",serif' font-size="69.9" fill="#000">
<text x="1547" y="1946.8">xianzhi okra seed</text>
<text x="1547" y="2033.2">xiaolusi okra seed</text>
<text x="1547" y="2120.0">penzai okra seed</text>
</g>
<text x="1151.5" y="3552" text-anchor="middle" font-family='"Liberation Serif","Times New Roman",serif' font-size="81.5" fill="#000">(<tspan font-weight="bold">b</tspan>)</text>
</svg>
</body></html>
